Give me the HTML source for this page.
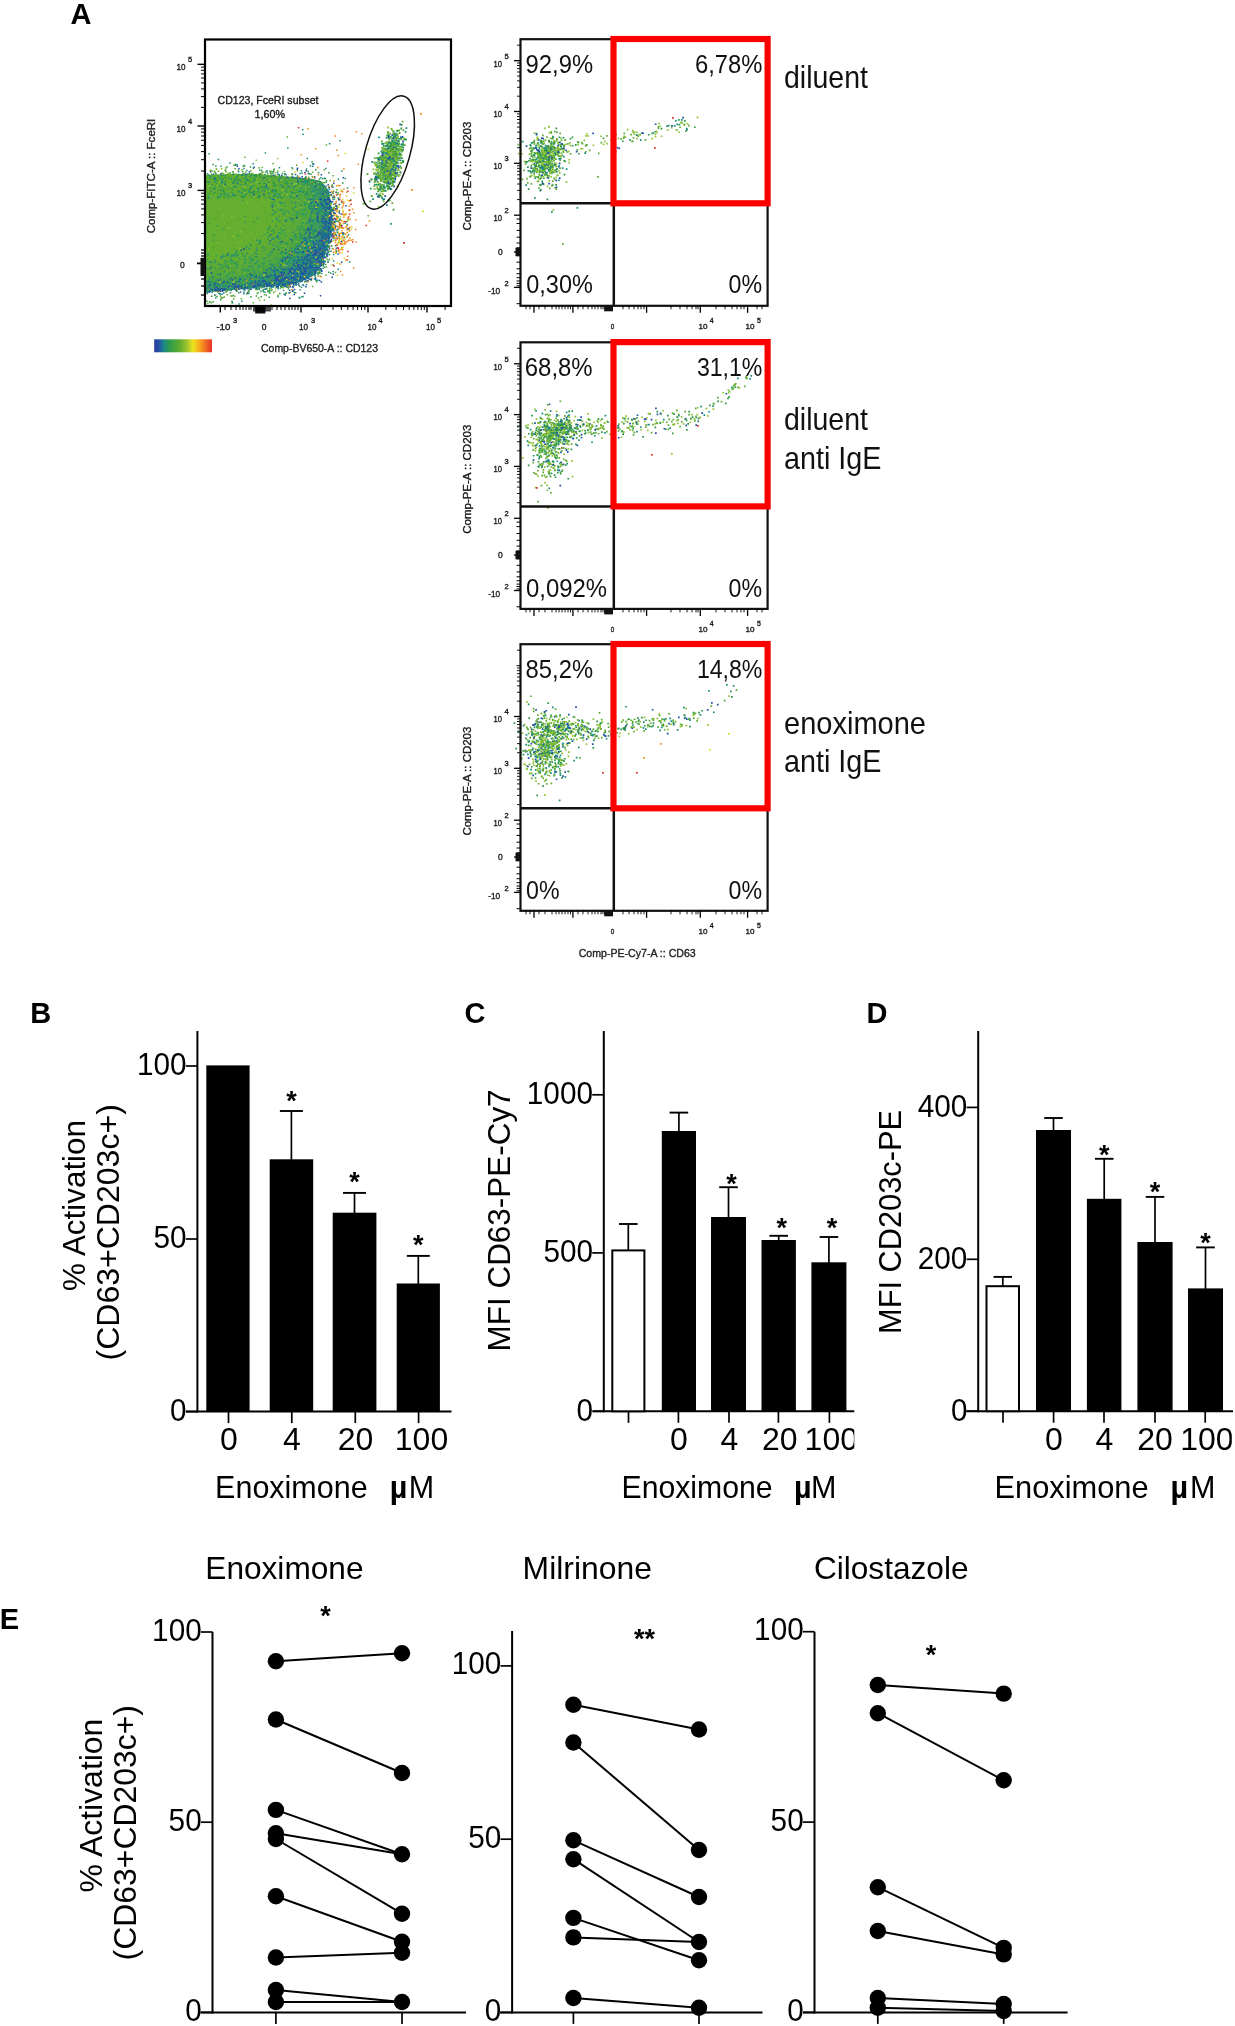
<!DOCTYPE html>
<html><head><meta charset="utf-8"><style>
html,body{margin:0;padding:0;background:#fff;}
svg{display:block;}
text{font-family:"Liberation Sans", sans-serif;}
svg{will-change:transform;}
</style></head><body>
<svg width="1235" height="2026" viewBox="0 0 1235 2026" font-family='"Liberation Sans", sans-serif'>
<rect width="1235" height="2026" fill="#fff"/>
<text x="70.5" y="24.2" font-size="29" font-weight="bold">A</text>
<defs><radialGradient id="cg" gradientUnits="userSpaceOnUse" cx="0" cy="0" r="1" gradientTransform="translate(208 212) scale(126 84)"><stop offset="0" stop-color="#3a9a50" stop-opacity="0"/><stop offset="0.55" stop-color="#3a9a50" stop-opacity="0.0"/><stop offset="0.78" stop-color="#2e9858" stop-opacity="0.35"/><stop offset="0.9" stop-color="#1f8a82" stop-opacity="0.6"/><stop offset="1" stop-color="#1f68a8" stop-opacity="0.8"/></radialGradient><clipPath id="fclip"><rect x="206" y="40.5" width="244" height="264.5"/></clipPath></defs>
<g clip-path="url(#fclip)">
<path d="M204 175 L229 174 L258.3 174 L287.5 176.5 L309.3 178.5 L321 181 L329 191 L331.5 208.3 L333 222.9 L330.5 237.5 L326 252 L322 265 L313 276 L300 282 L287.5 285.5 L265.6 287 L243.7 289 L221.9 291 L204 292 Z" fill="#64ae30"/>
<path d="M204 175 L229 174 L258.3 174 L287.5 176.5 L309.3 178.5 L321 181 L329 191 L331.5 208.3 L333 222.9 L330.5 237.5 L326 252 L322 265 L313 276 L300 282 L287.5 285.5 L265.6 287 L243.7 289 L221.9 291 L204 292 Z" fill="url(#cg)"/>
<path d="M311.5 244.1h1.5v1.5h-1.5zM247.3 188.0h1.5v1.5h-1.5zM315.7 227.2h1.5v1.5h-1.5zM311.1 196.8h1.5v1.5h-1.5zM222.1 296.9h1.5v1.5h-1.5zM304.3 187.4h1.5v1.5h-1.5zM305.8 243.7h1.5v1.5h-1.5zM320.6 223.3h1.5v1.5h-1.5zM223.5 174.2h1.5v1.5h-1.5zM286.5 180.7h1.5v1.5h-1.5zM318.6 270.1h1.5v1.5h-1.5zM315.4 250.0h1.5v1.5h-1.5zM274.0 181.0h1.5v1.5h-1.5zM298.9 186.0h1.5v1.5h-1.5zM308.3 204.1h1.5v1.5h-1.5zM319.8 252.5h1.5v1.5h-1.5zM213.9 171.6h1.5v1.5h-1.5zM319.6 275.4h1.5v1.5h-1.5zM261.8 289.8h1.5v1.5h-1.5zM249.0 181.6h1.5v1.5h-1.5zM294.2 252.4h1.5v1.5h-1.5zM268.3 270.0h1.5v1.5h-1.5zM247.6 291.2h1.5v1.5h-1.5zM233.6 189.9h1.5v1.5h-1.5zM295.5 189.7h1.5v1.5h-1.5zM329.4 179.7h1.5v1.5h-1.5zM240.8 185.1h1.5v1.5h-1.5zM248.7 187.1h1.5v1.5h-1.5zM258.5 288.1h1.5v1.5h-1.5zM329.4 228.0h1.5v1.5h-1.5zM308.0 261.5h1.5v1.5h-1.5zM227.7 282.1h1.5v1.5h-1.5zM249.1 275.7h1.5v1.5h-1.5zM305.9 269.4h1.5v1.5h-1.5zM318.4 271.3h1.5v1.5h-1.5zM291.1 175.5h1.5v1.5h-1.5zM303.7 264.2h1.5v1.5h-1.5zM206.7 195.7h1.5v1.5h-1.5zM255.3 282.1h1.5v1.5h-1.5zM240.6 297.9h1.5v1.5h-1.5zM311.6 180.4h1.5v1.5h-1.5zM288.2 187.0h1.5v1.5h-1.5zM233.6 279.5h1.5v1.5h-1.5zM281.7 182.2h1.5v1.5h-1.5zM308.0 176.5h1.5v1.5h-1.5zM254.7 192.6h1.5v1.5h-1.5zM221.7 176.4h1.5v1.5h-1.5zM308.5 220.2h1.5v1.5h-1.5zM296.6 169.9h1.5v1.5h-1.5zM301.4 181.7h1.5v1.5h-1.5zM303.8 261.9h1.5v1.5h-1.5zM286.0 177.0h1.5v1.5h-1.5zM305.9 277.0h1.5v1.5h-1.5zM319.6 251.0h1.5v1.5h-1.5zM218.3 279.0h1.5v1.5h-1.5zM249.6 192.6h1.5v1.5h-1.5zM261.4 178.5h1.5v1.5h-1.5zM298.1 258.1h1.5v1.5h-1.5zM319.4 271.8h1.5v1.5h-1.5zM289.5 291.6h1.5v1.5h-1.5zM236.3 183.6h1.5v1.5h-1.5zM331.9 209.1h1.5v1.5h-1.5zM322.5 250.5h1.5v1.5h-1.5zM265.5 184.1h1.5v1.5h-1.5zM298.3 242.0h1.5v1.5h-1.5zM322.8 209.7h1.5v1.5h-1.5zM257.8 297.3h1.5v1.5h-1.5zM259.6 181.5h1.5v1.5h-1.5zM310.7 223.0h1.5v1.5h-1.5zM218.2 183.5h1.5v1.5h-1.5zM315.1 184.2h1.5v1.5h-1.5zM281.5 178.6h1.5v1.5h-1.5zM283.3 179.0h1.5v1.5h-1.5zM312.5 273.1h1.5v1.5h-1.5zM236.4 186.4h1.5v1.5h-1.5zM224.1 195.5h1.5v1.5h-1.5zM233.1 164.4h1.5v1.5h-1.5zM312.2 181.0h1.5v1.5h-1.5zM264.2 190.3h1.5v1.5h-1.5zM326.5 258.4h1.5v1.5h-1.5zM332.4 175.1h1.5v1.5h-1.5zM325.7 266.2h1.5v1.5h-1.5zM326.9 232.8h1.5v1.5h-1.5zM303.5 233.5h1.5v1.5h-1.5zM261.6 166.8h1.5v1.5h-1.5zM221.4 194.5h1.5v1.5h-1.5zM328.8 241.4h1.5v1.5h-1.5zM283.8 190.5h1.5v1.5h-1.5zM236.2 181.2h1.5v1.5h-1.5zM314.0 189.4h1.5v1.5h-1.5zM229.8 186.8h1.5v1.5h-1.5zM304.3 232.3h1.5v1.5h-1.5zM215.6 168.6h1.5v1.5h-1.5zM268.8 291.1h1.5v1.5h-1.5zM264.3 181.6h1.5v1.5h-1.5zM207.2 184.2h1.5v1.5h-1.5zM308.9 208.0h1.5v1.5h-1.5zM330.5 232.5h1.5v1.5h-1.5zM214.1 193.8h1.5v1.5h-1.5zM207.3 174.2h1.5v1.5h-1.5zM243.0 190.1h1.5v1.5h-1.5zM305.0 240.0h1.5v1.5h-1.5zM256.5 292.7h1.5v1.5h-1.5zM304.3 241.3h1.5v1.5h-1.5zM311.0 249.5h1.5v1.5h-1.5zM212.8 286.5h1.5v1.5h-1.5zM312.6 224.6h1.5v1.5h-1.5zM275.7 187.5h1.5v1.5h-1.5zM237.9 178.3h1.5v1.5h-1.5zM255.0 288.8h1.5v1.5h-1.5zM219.0 187.2h1.5v1.5h-1.5zM269.2 279.3h1.5v1.5h-1.5zM246.3 192.8h1.5v1.5h-1.5zM257.2 288.2h1.5v1.5h-1.5z" fill="#5faa32"/>
<path d="M234.7 164.5h1.5v1.5h-1.5zM295.8 189.2h1.5v1.5h-1.5zM232.0 193.6h1.5v1.5h-1.5zM244.1 181.5h1.5v1.5h-1.5zM312.5 179.6h1.5v1.5h-1.5zM281.2 286.6h1.5v1.5h-1.5zM209.1 181.0h1.5v1.5h-1.5zM318.8 178.3h1.5v1.5h-1.5zM265.6 294.2h1.5v1.5h-1.5zM341.1 201.5h1.5v1.5h-1.5zM302.0 190.5h1.5v1.5h-1.5zM338.7 227.0h1.5v1.5h-1.5zM252.7 180.8h1.5v1.5h-1.5zM254.6 174.3h1.5v1.5h-1.5zM273.6 184.7h1.5v1.5h-1.5zM304.1 177.5h1.5v1.5h-1.5zM225.5 174.4h1.5v1.5h-1.5zM332.4 270.7h1.5v1.5h-1.5zM252.7 167.4h1.5v1.5h-1.5zM346.8 187.2h1.5v1.5h-1.5zM214.5 187.9h1.5v1.5h-1.5zM217.7 158.7h1.5v1.5h-1.5zM208.4 152.9h1.5v1.5h-1.5zM293.6 176.9h1.5v1.5h-1.5zM233.0 173.2h1.5v1.5h-1.5zM274.4 184.2h1.5v1.5h-1.5zM324.4 188.5h1.5v1.5h-1.5zM269.2 170.2h1.5v1.5h-1.5zM247.4 179.0h1.5v1.5h-1.5zM312.3 195.5h1.5v1.5h-1.5zM274.1 176.5h1.5v1.5h-1.5zM305.7 193.7h1.5v1.5h-1.5zM332.9 214.9h1.5v1.5h-1.5zM249.3 181.5h1.5v1.5h-1.5zM307.5 170.8h1.5v1.5h-1.5zM208.6 192.8h1.5v1.5h-1.5zM267.2 290.8h1.5v1.5h-1.5zM306.5 157.8h1.5v1.5h-1.5zM209.8 169.7h1.5v1.5h-1.5zM271.2 171.0h1.5v1.5h-1.5zM328.8 245.6h1.5v1.5h-1.5zM206.1 300.4h1.5v1.5h-1.5zM314.9 276.9h1.5v1.5h-1.5zM308.2 178.5h1.5v1.5h-1.5zM312.0 162.9h1.5v1.5h-1.5zM323.8 266.5h1.5v1.5h-1.5zM214.9 177.1h1.5v1.5h-1.5zM235.9 290.5h1.5v1.5h-1.5zM224.4 176.6h1.5v1.5h-1.5zM282.8 289.6h1.5v1.5h-1.5zM223.5 196.8h1.5v1.5h-1.5zM320.4 185.9h1.5v1.5h-1.5zM333.2 212.7h1.5v1.5h-1.5zM279.1 292.7h1.5v1.5h-1.5zM284.7 189.4h1.5v1.5h-1.5zM209.3 187.1h1.5v1.5h-1.5zM234.8 185.7h1.5v1.5h-1.5zM282.8 187.2h1.5v1.5h-1.5zM260.5 296.1h1.5v1.5h-1.5zM268.9 292.3h1.5v1.5h-1.5zM242.4 184.1h1.5v1.5h-1.5zM215.2 178.8h1.5v1.5h-1.5zM226.3 166.2h1.5v1.5h-1.5zM302.3 295.8h1.5v1.5h-1.5zM267.4 175.4h1.5v1.5h-1.5zM295.8 181.7h1.5v1.5h-1.5zM212.4 300.9h1.5v1.5h-1.5zM279.7 287.2h1.5v1.5h-1.5zM240.7 180.6h1.5v1.5h-1.5zM240.8 173.9h1.5v1.5h-1.5zM277.5 286.9h1.5v1.5h-1.5z" fill="#289646"/>
<path d="M329.0 202.8h1.5v1.5h-1.5zM280.5 260.0h1.5v1.5h-1.5zM270.8 269.4h1.5v1.5h-1.5zM295.4 283.9h1.5v1.5h-1.5zM302.8 271.1h1.5v1.5h-1.5zM308.6 254.4h1.5v1.5h-1.5zM316.8 220.4h1.5v1.5h-1.5zM284.3 268.4h1.5v1.5h-1.5zM328.3 186.8h1.5v1.5h-1.5zM309.0 254.6h1.5v1.5h-1.5zM301.4 176.0h1.5v1.5h-1.5zM308.4 235.3h1.5v1.5h-1.5zM314.2 273.9h1.5v1.5h-1.5zM321.9 206.4h1.5v1.5h-1.5zM323.2 206.3h1.5v1.5h-1.5zM317.7 241.4h1.5v1.5h-1.5zM321.7 207.7h1.5v1.5h-1.5zM301.0 265.5h1.5v1.5h-1.5zM320.8 264.5h1.5v1.5h-1.5zM309.5 218.1h1.5v1.5h-1.5zM280.9 279.2h1.5v1.5h-1.5zM226.3 289.4h1.5v1.5h-1.5zM329.4 200.4h1.5v1.5h-1.5zM206.5 291.8h1.5v1.5h-1.5zM258.1 280.6h1.5v1.5h-1.5zM320.6 243.1h1.5v1.5h-1.5zM294.8 173.7h1.5v1.5h-1.5zM316.7 251.5h1.5v1.5h-1.5zM210.0 171.0h1.5v1.5h-1.5zM315.2 252.2h1.5v1.5h-1.5zM317.7 205.4h1.5v1.5h-1.5zM326.5 202.6h1.5v1.5h-1.5zM250.7 274.6h1.5v1.5h-1.5zM324.0 231.5h1.5v1.5h-1.5zM324.6 221.5h1.5v1.5h-1.5zM314.7 249.6h1.5v1.5h-1.5zM328.8 248.0h1.5v1.5h-1.5zM273.5 274.2h1.5v1.5h-1.5zM318.6 232.2h1.5v1.5h-1.5zM311.5 260.6h1.5v1.5h-1.5zM306.2 263.6h1.5v1.5h-1.5zM270.1 274.5h1.5v1.5h-1.5zM302.0 261.7h1.5v1.5h-1.5zM222.0 290.2h1.5v1.5h-1.5zM276.8 278.4h1.5v1.5h-1.5zM307.0 228.8h1.5v1.5h-1.5zM277.3 276.1h1.5v1.5h-1.5zM313.0 270.0h1.5v1.5h-1.5zM319.0 233.1h1.5v1.5h-1.5zM330.7 228.5h1.5v1.5h-1.5zM323.2 237.0h1.5v1.5h-1.5zM293.4 259.9h1.5v1.5h-1.5zM314.5 270.5h1.5v1.5h-1.5zM317.2 217.8h1.5v1.5h-1.5zM245.1 286.2h1.5v1.5h-1.5zM301.3 241.0h1.5v1.5h-1.5zM292.4 271.7h1.5v1.5h-1.5zM314.8 208.1h1.5v1.5h-1.5zM321.8 255.6h1.5v1.5h-1.5zM334.3 226.6h1.5v1.5h-1.5zM311.9 247.0h1.5v1.5h-1.5zM230.0 285.9h1.5v1.5h-1.5zM215.1 289.1h1.5v1.5h-1.5zM277.6 274.9h1.5v1.5h-1.5zM317.7 264.3h1.5v1.5h-1.5zM321.1 236.9h1.5v1.5h-1.5zM296.6 278.7h1.5v1.5h-1.5zM238.9 285.3h1.5v1.5h-1.5zM320.5 268.5h1.5v1.5h-1.5zM330.1 240.4h1.5v1.5h-1.5zM208.8 290.7h1.5v1.5h-1.5zM303.4 267.2h1.5v1.5h-1.5zM302.9 259.8h1.5v1.5h-1.5zM320.8 220.9h1.5v1.5h-1.5zM309.1 267.9h1.5v1.5h-1.5zM337.3 253.2h1.5v1.5h-1.5zM311.2 224.8h1.5v1.5h-1.5zM310.3 202.0h1.5v1.5h-1.5zM333.0 182.5h1.5v1.5h-1.5zM215.2 290.0h1.5v1.5h-1.5zM259.2 283.4h1.5v1.5h-1.5zM278.2 282.5h1.5v1.5h-1.5zM338.5 212.3h1.5v1.5h-1.5zM316.7 207.8h1.5v1.5h-1.5zM315.1 272.4h1.5v1.5h-1.5zM253.3 194.0h1.5v1.5h-1.5zM315.7 263.7h1.5v1.5h-1.5zM266.3 269.2h1.5v1.5h-1.5zM307.7 172.7h1.5v1.5h-1.5zM300.1 273.2h1.5v1.5h-1.5zM308.1 236.8h1.5v1.5h-1.5zM227.7 267.0h1.5v1.5h-1.5zM280.4 272.3h1.5v1.5h-1.5zM319.8 295.0h1.5v1.5h-1.5zM277.8 248.8h1.5v1.5h-1.5zM284.6 285.6h1.5v1.5h-1.5zM314.3 256.8h1.5v1.5h-1.5zM332.3 264.3h1.5v1.5h-1.5zM282.3 260.4h1.5v1.5h-1.5zM311.1 262.6h1.5v1.5h-1.5zM327.2 241.7h1.5v1.5h-1.5zM326.0 222.5h1.5v1.5h-1.5zM319.6 267.9h1.5v1.5h-1.5zM282.4 277.5h1.5v1.5h-1.5zM305.8 268.1h1.5v1.5h-1.5zM232.0 283.4h1.5v1.5h-1.5zM309.7 250.5h1.5v1.5h-1.5zM254.1 281.9h1.5v1.5h-1.5zM297.3 252.1h1.5v1.5h-1.5zM342.5 177.1h1.5v1.5h-1.5zM305.4 229.8h1.5v1.5h-1.5zM232.1 283.3h1.5v1.5h-1.5zM263.5 280.0h1.5v1.5h-1.5zM328.7 204.4h1.5v1.5h-1.5zM308.3 239.6h1.5v1.5h-1.5zM332.4 237.8h1.5v1.5h-1.5zM333.4 195.5h1.5v1.5h-1.5zM303.4 259.8h1.5v1.5h-1.5zM317.1 263.1h1.5v1.5h-1.5zM298.7 245.6h1.5v1.5h-1.5zM328.0 228.1h1.5v1.5h-1.5zM333.4 231.2h1.5v1.5h-1.5zM326.2 241.0h1.5v1.5h-1.5zM285.3 277.4h1.5v1.5h-1.5zM327.5 234.1h1.5v1.5h-1.5zM282.7 272.8h1.5v1.5h-1.5zM322.4 242.7h1.5v1.5h-1.5zM298.9 297.1h1.5v1.5h-1.5zM322.8 201.6h1.5v1.5h-1.5zM329.5 223.7h1.5v1.5h-1.5zM302.3 273.7h1.5v1.5h-1.5zM302.5 262.6h1.5v1.5h-1.5zM263.1 280.8h1.5v1.5h-1.5zM331.5 276.6h1.5v1.5h-1.5zM214.1 294.3h1.5v1.5h-1.5zM314.9 200.7h1.5v1.5h-1.5zM313.6 258.2h1.5v1.5h-1.5zM317.2 221.9h1.5v1.5h-1.5zM317.5 263.9h1.5v1.5h-1.5zM306.3 276.3h1.5v1.5h-1.5zM259.5 173.2h1.5v1.5h-1.5zM324.5 234.3h1.5v1.5h-1.5zM332.1 196.8h1.5v1.5h-1.5zM211.9 276.1h1.5v1.5h-1.5zM296.8 278.8h1.5v1.5h-1.5zM306.8 242.3h1.5v1.5h-1.5zM305.9 266.2h1.5v1.5h-1.5zM325.5 221.9h1.5v1.5h-1.5zM297.5 264.0h1.5v1.5h-1.5zM280.2 260.0h1.5v1.5h-1.5zM283.8 285.4h1.5v1.5h-1.5zM271.7 189.6h1.5v1.5h-1.5zM305.9 236.9h1.5v1.5h-1.5zM307.6 260.3h1.5v1.5h-1.5zM317.2 235.4h1.5v1.5h-1.5zM328.9 228.3h1.5v1.5h-1.5zM326.2 206.5h1.5v1.5h-1.5zM317.6 266.9h1.5v1.5h-1.5zM282.4 286.3h1.5v1.5h-1.5zM280.1 285.5h1.5v1.5h-1.5zM256.1 287.6h1.5v1.5h-1.5zM319.7 252.8h1.5v1.5h-1.5zM320.0 197.9h1.5v1.5h-1.5zM321.8 258.9h1.5v1.5h-1.5zM328.8 246.0h1.5v1.5h-1.5zM231.9 286.0h1.5v1.5h-1.5zM230.2 277.8h1.5v1.5h-1.5zM302.9 262.8h1.5v1.5h-1.5zM206.2 267.1h1.5v1.5h-1.5zM268.4 284.2h1.5v1.5h-1.5zM302.2 284.1h1.5v1.5h-1.5zM310.3 258.8h1.5v1.5h-1.5zM315.6 257.9h1.5v1.5h-1.5zM221.5 287.2h1.5v1.5h-1.5zM292.4 286.7h1.5v1.5h-1.5zM313.4 258.3h1.5v1.5h-1.5zM308.9 242.2h1.5v1.5h-1.5zM304.1 259.8h1.5v1.5h-1.5zM328.3 240.5h1.5v1.5h-1.5zM327.0 199.0h1.5v1.5h-1.5zM317.4 236.8h1.5v1.5h-1.5zM318.6 266.2h1.5v1.5h-1.5zM313.2 246.1h1.5v1.5h-1.5zM280.5 280.2h1.5v1.5h-1.5zM302.0 277.6h1.5v1.5h-1.5zM266.8 285.1h1.5v1.5h-1.5zM334.9 203.0h1.5v1.5h-1.5zM303.0 267.4h1.5v1.5h-1.5zM278.0 265.3h1.5v1.5h-1.5zM291.6 279.1h1.5v1.5h-1.5zM305.1 276.5h1.5v1.5h-1.5zM309.4 208.5h1.5v1.5h-1.5zM309.2 268.6h1.5v1.5h-1.5zM321.5 234.3h1.5v1.5h-1.5zM322.2 253.7h1.5v1.5h-1.5zM329.7 211.2h1.5v1.5h-1.5zM315.1 243.3h1.5v1.5h-1.5zM314.0 256.8h1.5v1.5h-1.5zM302.9 277.2h1.5v1.5h-1.5zM323.8 256.6h1.5v1.5h-1.5zM316.2 239.9h1.5v1.5h-1.5zM292.3 263.8h1.5v1.5h-1.5zM266.5 276.1h1.5v1.5h-1.5zM296.0 261.9h1.5v1.5h-1.5zM296.1 273.0h1.5v1.5h-1.5zM295.3 284.3h1.5v1.5h-1.5zM249.8 277.7h1.5v1.5h-1.5zM340.9 261.6h1.5v1.5h-1.5zM254.5 280.6h1.5v1.5h-1.5zM321.2 231.0h1.5v1.5h-1.5zM317.3 219.9h1.5v1.5h-1.5zM320.9 204.1h1.5v1.5h-1.5zM275.8 276.1h1.5v1.5h-1.5zM293.1 265.7h1.5v1.5h-1.5zM288.5 283.6h1.5v1.5h-1.5zM316.2 235.5h1.5v1.5h-1.5zM285.2 248.8h1.5v1.5h-1.5zM328.2 242.4h1.5v1.5h-1.5zM314.5 266.2h1.5v1.5h-1.5zM289.1 297.8h1.5v1.5h-1.5z" fill="#1e50a5"/>
<path d="M365.4 224.7h1.5v1.5h-1.5zM313.9 176.9h1.5v1.5h-1.5zM345.1 221.1h1.5v1.5h-1.5z" fill="#e0302a"/>
<path d="M283.4 284.6h1.5v1.5h-1.5zM288.7 272.0h1.5v1.5h-1.5zM248.6 194.0h1.5v1.5h-1.5zM249.7 258.0h1.5v1.5h-1.5zM218.2 288.3h1.5v1.5h-1.5zM272.8 195.6h1.5v1.5h-1.5zM312.3 207.8h1.5v1.5h-1.5zM300.7 286.5h1.5v1.5h-1.5zM253.9 177.0h1.5v1.5h-1.5zM248.6 289.6h1.5v1.5h-1.5zM299.4 258.3h1.5v1.5h-1.5zM297.0 275.8h1.5v1.5h-1.5zM264.2 247.5h1.5v1.5h-1.5zM316.6 203.8h1.5v1.5h-1.5zM289.3 195.4h1.5v1.5h-1.5zM309.3 224.6h1.5v1.5h-1.5zM282.9 262.9h1.5v1.5h-1.5zM318.1 206.9h1.5v1.5h-1.5zM219.5 293.0h1.5v1.5h-1.5zM302.3 133.6h1.5v1.5h-1.5zM208.7 261.3h1.5v1.5h-1.5zM291.5 259.5h1.5v1.5h-1.5zM218.7 177.1h1.5v1.5h-1.5zM309.6 203.2h1.5v1.5h-1.5zM311.7 237.8h1.5v1.5h-1.5zM300.2 264.1h1.5v1.5h-1.5zM258.8 287.5h1.5v1.5h-1.5zM301.1 295.9h1.5v1.5h-1.5zM256.0 253.6h1.5v1.5h-1.5zM269.3 226.0h1.5v1.5h-1.5zM333.3 209.7h1.5v1.5h-1.5zM285.4 174.1h1.5v1.5h-1.5zM241.2 250.5h1.5v1.5h-1.5zM208.2 290.8h1.5v1.5h-1.5zM314.4 195.2h1.5v1.5h-1.5zM276.0 218.9h1.5v1.5h-1.5zM323.4 251.9h1.5v1.5h-1.5zM322.7 251.4h1.5v1.5h-1.5zM303.0 251.8h1.5v1.5h-1.5zM293.2 262.9h1.5v1.5h-1.5zM265.3 279.6h1.5v1.5h-1.5zM244.9 184.1h1.5v1.5h-1.5zM256.9 260.2h1.5v1.5h-1.5zM303.6 242.8h1.5v1.5h-1.5zM217.5 283.5h1.5v1.5h-1.5zM300.7 170.0h1.5v1.5h-1.5zM316.9 256.5h1.5v1.5h-1.5zM266.3 169.9h1.5v1.5h-1.5zM326.8 198.7h1.5v1.5h-1.5zM332.9 260.3h1.5v1.5h-1.5zM330.1 206.9h1.5v1.5h-1.5zM333.1 229.0h1.5v1.5h-1.5zM334.6 239.2h1.5v1.5h-1.5zM235.9 250.4h1.5v1.5h-1.5zM294.8 259.5h1.5v1.5h-1.5zM302.2 251.0h1.5v1.5h-1.5zM302.3 277.8h1.5v1.5h-1.5zM313.9 175.9h1.5v1.5h-1.5zM306.0 240.6h1.5v1.5h-1.5zM321.5 263.9h1.5v1.5h-1.5zM284.0 261.4h1.5v1.5h-1.5zM264.3 257.4h1.5v1.5h-1.5zM328.0 213.2h1.5v1.5h-1.5zM262.9 291.1h1.5v1.5h-1.5zM307.5 272.7h1.5v1.5h-1.5zM256.3 261.9h1.5v1.5h-1.5zM339.3 222.8h1.5v1.5h-1.5zM295.4 252.1h1.5v1.5h-1.5zM289.5 238.4h1.5v1.5h-1.5zM235.6 186.5h1.5v1.5h-1.5zM271.1 280.6h1.5v1.5h-1.5zM260.6 235.7h1.5v1.5h-1.5zM332.8 203.4h1.5v1.5h-1.5zM249.6 243.7h1.5v1.5h-1.5zM255.3 273.2h1.5v1.5h-1.5zM244.5 283.3h1.5v1.5h-1.5zM317.9 258.0h1.5v1.5h-1.5zM238.8 278.7h1.5v1.5h-1.5zM307.4 227.1h1.5v1.5h-1.5zM313.1 198.1h1.5v1.5h-1.5zM279.4 241.4h1.5v1.5h-1.5zM301.7 237.9h1.5v1.5h-1.5zM234.6 195.0h1.5v1.5h-1.5zM290.4 273.6h1.5v1.5h-1.5zM325.4 185.6h1.5v1.5h-1.5zM207.6 181.4h1.5v1.5h-1.5zM328.9 210.7h1.5v1.5h-1.5zM255.7 247.5h1.5v1.5h-1.5zM282.9 281.7h1.5v1.5h-1.5zM335.0 208.1h1.5v1.5h-1.5zM221.5 181.2h1.5v1.5h-1.5zM221.3 293.5h1.5v1.5h-1.5zM210.1 190.6h1.5v1.5h-1.5zM287.0 285.7h1.5v1.5h-1.5zM321.6 238.5h1.5v1.5h-1.5zM320.5 207.4h1.5v1.5h-1.5zM236.3 254.5h1.5v1.5h-1.5zM321.1 199.4h1.5v1.5h-1.5zM311.3 270.1h1.5v1.5h-1.5zM304.9 184.5h1.5v1.5h-1.5zM308.8 271.5h1.5v1.5h-1.5zM284.3 259.0h1.5v1.5h-1.5zM293.4 257.8h1.5v1.5h-1.5zM311.6 266.9h1.5v1.5h-1.5zM217.0 290.7h1.5v1.5h-1.5zM333.2 212.7h1.5v1.5h-1.5zM271.4 220.1h1.5v1.5h-1.5zM327.3 251.7h1.5v1.5h-1.5zM325.0 248.0h1.5v1.5h-1.5zM293.1 282.8h1.5v1.5h-1.5zM318.6 268.8h1.5v1.5h-1.5zM261.6 185.7h1.5v1.5h-1.5zM270.5 287.3h1.5v1.5h-1.5zM300.2 190.4h1.5v1.5h-1.5zM271.8 280.0h1.5v1.5h-1.5zM328.6 240.7h1.5v1.5h-1.5zM248.2 292.8h1.5v1.5h-1.5zM325.5 234.9h1.5v1.5h-1.5zM305.8 168.3h1.5v1.5h-1.5zM293.6 280.3h1.5v1.5h-1.5zM220.8 255.8h1.5v1.5h-1.5zM252.4 274.2h1.5v1.5h-1.5zM210.4 261.6h1.5v1.5h-1.5zM344.5 177.8h1.5v1.5h-1.5zM303.2 234.6h1.5v1.5h-1.5zM298.9 267.9h1.5v1.5h-1.5zM328.2 216.3h1.5v1.5h-1.5zM223.0 292.2h1.5v1.5h-1.5zM300.6 214.3h1.5v1.5h-1.5zM305.6 180.1h1.5v1.5h-1.5zM325.7 235.7h1.5v1.5h-1.5zM250.4 186.5h1.5v1.5h-1.5zM271.2 238.2h1.5v1.5h-1.5zM329.5 212.7h1.5v1.5h-1.5zM309.6 199.2h1.5v1.5h-1.5zM291.4 167.1h1.5v1.5h-1.5zM230.6 259.9h1.5v1.5h-1.5zM218.1 289.1h1.5v1.5h-1.5zM320.8 252.1h1.5v1.5h-1.5zM297.9 246.6h1.5v1.5h-1.5zM211.5 291.7h1.5v1.5h-1.5zM306.2 237.8h1.5v1.5h-1.5zM309.6 198.0h1.5v1.5h-1.5zM291.8 265.9h1.5v1.5h-1.5zM310.4 243.3h1.5v1.5h-1.5zM249.4 261.7h1.5v1.5h-1.5zM248.8 280.0h1.5v1.5h-1.5zM325.5 202.7h1.5v1.5h-1.5zM332.9 253.7h1.5v1.5h-1.5zM271.6 198.6h1.5v1.5h-1.5zM279.3 243.5h1.5v1.5h-1.5zM313.4 249.7h1.5v1.5h-1.5zM224.4 260.2h1.5v1.5h-1.5zM246.4 252.7h1.5v1.5h-1.5zM312.1 165.6h1.5v1.5h-1.5zM271.2 202.2h1.5v1.5h-1.5zM292.3 278.4h1.5v1.5h-1.5zM299.8 271.6h1.5v1.5h-1.5zM292.4 274.4h1.5v1.5h-1.5zM228.6 281.6h1.5v1.5h-1.5zM327.1 240.5h1.5v1.5h-1.5zM214.3 181.0h1.5v1.5h-1.5zM302.5 191.8h1.5v1.5h-1.5zM230.6 289.7h1.5v1.5h-1.5zM287.6 274.1h1.5v1.5h-1.5zM254.1 175.0h1.5v1.5h-1.5zM235.7 251.0h1.5v1.5h-1.5zM308.2 241.5h1.5v1.5h-1.5zM239.2 280.8h1.5v1.5h-1.5zM291.9 280.3h1.5v1.5h-1.5zM309.7 164.9h1.5v1.5h-1.5zM283.2 284.3h1.5v1.5h-1.5zM272.2 209.4h1.5v1.5h-1.5zM318.7 259.8h1.5v1.5h-1.5zM235.9 281.0h1.5v1.5h-1.5zM324.0 256.5h1.5v1.5h-1.5zM323.5 251.9h1.5v1.5h-1.5zM315.2 188.2h1.5v1.5h-1.5zM321.7 232.4h1.5v1.5h-1.5zM324.9 242.0h1.5v1.5h-1.5zM232.1 194.4h1.5v1.5h-1.5zM286.6 262.0h1.5v1.5h-1.5zM206.9 281.5h1.5v1.5h-1.5zM254.4 262.8h1.5v1.5h-1.5zM318.3 242.8h1.5v1.5h-1.5zM333.7 198.2h1.5v1.5h-1.5zM279.3 280.9h1.5v1.5h-1.5zM297.6 259.1h1.5v1.5h-1.5zM225.2 265.4h1.5v1.5h-1.5zM208.8 196.8h1.5v1.5h-1.5zM239.3 184.1h1.5v1.5h-1.5zM318.0 220.3h1.5v1.5h-1.5zM238.3 287.3h1.5v1.5h-1.5zM306.1 222.1h1.5v1.5h-1.5zM253.2 184.8h1.5v1.5h-1.5zM245.5 176.4h1.5v1.5h-1.5zM228.2 177.2h1.5v1.5h-1.5zM280.2 285.2h1.5v1.5h-1.5zM292.2 241.6h1.5v1.5h-1.5zM328.3 236.5h1.5v1.5h-1.5zM222.2 288.7h1.5v1.5h-1.5zM319.5 263.1h1.5v1.5h-1.5zM347.3 219.1h1.5v1.5h-1.5zM321.5 222.3h1.5v1.5h-1.5zM222.2 187.4h1.5v1.5h-1.5zM302.0 248.3h1.5v1.5h-1.5zM297.7 277.3h1.5v1.5h-1.5zM302.9 252.8h1.5v1.5h-1.5zM233.7 254.6h1.5v1.5h-1.5zM315.6 201.2h1.5v1.5h-1.5zM325.5 190.3h1.5v1.5h-1.5zM301.6 243.9h1.5v1.5h-1.5zM211.0 175.4h1.5v1.5h-1.5zM300.0 271.2h1.5v1.5h-1.5zM254.4 276.4h1.5v1.5h-1.5zM321.0 215.4h1.5v1.5h-1.5zM306.1 236.8h1.5v1.5h-1.5zM288.6 259.5h1.5v1.5h-1.5zM274.4 280.8h1.5v1.5h-1.5zM321.6 251.4h1.5v1.5h-1.5zM278.7 166.9h1.5v1.5h-1.5zM218.1 292.5h1.5v1.5h-1.5zM327.8 232.4h1.5v1.5h-1.5zM252.5 259.2h1.5v1.5h-1.5zM330.0 211.7h1.5v1.5h-1.5zM305.5 181.3h1.5v1.5h-1.5zM342.3 234.0h1.5v1.5h-1.5zM287.8 256.3h1.5v1.5h-1.5zM232.1 191.9h1.5v1.5h-1.5zM338.7 210.5h1.5v1.5h-1.5zM309.1 223.0h1.5v1.5h-1.5zM310.6 228.1h1.5v1.5h-1.5zM212.5 288.6h1.5v1.5h-1.5zM318.3 256.2h1.5v1.5h-1.5zM286.1 286.5h1.5v1.5h-1.5zM222.9 174.4h1.5v1.5h-1.5zM306.6 192.6h1.5v1.5h-1.5zM259.4 281.3h1.5v1.5h-1.5zM243.7 258.7h1.5v1.5h-1.5z" fill="#198c82"/>
<path d="M211.4 268.9h1.5v1.5h-1.5zM226.5 217.5h1.5v1.5h-1.5zM220.6 253.9h1.5v1.5h-1.5zM215.9 266.2h1.5v1.5h-1.5zM238.2 247.0h1.5v1.5h-1.5zM261.8 206.2h1.5v1.5h-1.5zM237.0 221.5h1.5v1.5h-1.5zM252.3 248.3h1.5v1.5h-1.5zM239.8 270.7h1.5v1.5h-1.5zM256.7 210.8h1.5v1.5h-1.5zM303.9 197.5h1.5v1.5h-1.5zM293.4 199.8h1.5v1.5h-1.5zM224.2 207.7h1.5v1.5h-1.5zM223.7 235.5h1.5v1.5h-1.5zM224.9 272.6h1.5v1.5h-1.5zM240.4 239.4h1.5v1.5h-1.5zM284.4 254.5h1.5v1.5h-1.5zM236.9 242.0h1.5v1.5h-1.5zM250.2 219.1h1.5v1.5h-1.5zM254.0 238.2h1.5v1.5h-1.5zM246.9 256.3h1.5v1.5h-1.5z" fill="#70b52f"/>
<path d="M267.6 179.7h1.5v1.5h-1.5zM324.3 193.7h1.5v1.5h-1.5zM310.2 181.7h1.5v1.5h-1.5zM252.1 172.6h1.5v1.5h-1.5zM225.1 167.5h1.5v1.5h-1.5zM280.4 179.6h1.5v1.5h-1.5zM222.7 172.7h1.5v1.5h-1.5zM266.6 180.2h1.5v1.5h-1.5zM294.3 183.1h1.5v1.5h-1.5zM279.1 178.2h1.5v1.5h-1.5zM247.9 193.4h1.5v1.5h-1.5zM244.0 192.0h1.5v1.5h-1.5zM217.7 242.3h1.5v1.5h-1.5zM286.3 193.7h1.5v1.5h-1.5zM228.4 227.1h1.5v1.5h-1.5zM227.1 172.6h1.5v1.5h-1.5zM293.0 183.8h1.5v1.5h-1.5zM281.5 188.9h1.5v1.5h-1.5zM277.3 169.9h1.5v1.5h-1.5zM239.9 230.7h1.5v1.5h-1.5z" fill="#8cc337"/>
<path d="M337.6 154.7h1.5v1.5h-1.5zM341.7 274.3h1.5v1.5h-1.5zM337.1 228.5h1.5v1.5h-1.5zM294.1 281.3h1.5v1.5h-1.5zM237.5 283.9h1.5v1.5h-1.5zM323.6 224.7h1.5v1.5h-1.5zM347.1 217.6h1.5v1.5h-1.5zM338.7 232.7h1.5v1.5h-1.5zM332.6 235.0h1.5v1.5h-1.5zM332.8 251.4h1.5v1.5h-1.5zM346.0 191.6h1.5v1.5h-1.5zM326.3 242.5h1.5v1.5h-1.5zM335.2 237.7h1.5v1.5h-1.5zM348.4 239.6h1.5v1.5h-1.5zM349.2 218.4h1.5v1.5h-1.5zM341.6 206.9h1.5v1.5h-1.5zM332.7 209.3h1.5v1.5h-1.5zM335.1 229.0h1.5v1.5h-1.5zM334.0 236.7h1.5v1.5h-1.5zM339.2 196.4h1.5v1.5h-1.5zM344.6 243.2h1.5v1.5h-1.5zM336.3 205.1h1.5v1.5h-1.5zM342.2 236.9h1.5v1.5h-1.5zM338.7 240.7h1.5v1.5h-1.5zM312.3 259.2h1.5v1.5h-1.5zM326.1 238.5h1.5v1.5h-1.5zM354.9 228.7h1.5v1.5h-1.5zM368.7 220.3h1.5v1.5h-1.5zM309.7 243.4h1.5v1.5h-1.5zM305.5 169.5h1.5v1.5h-1.5zM342.0 248.9h1.5v1.5h-1.5zM357.5 163.5h1.5v1.5h-1.5zM342.6 214.1h1.5v1.5h-1.5zM336.4 217.5h1.5v1.5h-1.5zM278.7 277.9h1.5v1.5h-1.5zM338.8 234.7h1.5v1.5h-1.5zM340.4 225.2h1.5v1.5h-1.5zM342.3 211.3h1.5v1.5h-1.5zM342.4 203.1h1.5v1.5h-1.5zM336.2 211.0h1.5v1.5h-1.5zM283.3 275.8h1.5v1.5h-1.5zM333.7 213.5h1.5v1.5h-1.5zM343.2 188.6h1.5v1.5h-1.5zM361.3 164.1h1.5v1.5h-1.5zM333.5 213.9h1.5v1.5h-1.5zM289.5 280.4h1.5v1.5h-1.5zM338.5 204.3h1.5v1.5h-1.5zM297.9 176.3h1.5v1.5h-1.5zM344.1 243.3h1.5v1.5h-1.5zM338.0 237.1h1.5v1.5h-1.5zM338.9 227.3h1.5v1.5h-1.5zM349.0 226.7h1.5v1.5h-1.5zM339.9 224.2h1.5v1.5h-1.5zM333.2 180.6h1.5v1.5h-1.5zM340.1 232.5h1.5v1.5h-1.5zM321.8 218.9h1.5v1.5h-1.5zM343.1 216.5h1.5v1.5h-1.5zM311.1 277.4h1.5v1.5h-1.5zM338.1 232.9h1.5v1.5h-1.5zM330.3 241.3h1.5v1.5h-1.5zM212.9 288.6h1.5v1.5h-1.5zM338.9 252.1h1.5v1.5h-1.5zM335.1 239.8h1.5v1.5h-1.5zM343.8 241.8h1.5v1.5h-1.5zM339.4 194.5h1.5v1.5h-1.5z" fill="#f08a1c"/>
<path d="M296.1 216.5h1.5v1.5h-1.5zM304.6 181.8h1.5v1.5h-1.5zM324.5 210.8h1.5v1.5h-1.5zM302.7 209.8h1.5v1.5h-1.5zM313.0 231.0h1.5v1.5h-1.5zM290.8 243.2h1.5v1.5h-1.5zM268.2 259.9h1.5v1.5h-1.5zM284.6 284.5h1.5v1.5h-1.5zM238.5 285.1h1.5v1.5h-1.5zM323.1 232.5h1.5v1.5h-1.5zM295.2 243.5h1.5v1.5h-1.5zM254.4 255.9h1.5v1.5h-1.5zM272.4 185.4h1.5v1.5h-1.5zM246.9 286.7h1.5v1.5h-1.5zM225.6 255.5h1.5v1.5h-1.5zM281.5 246.9h1.5v1.5h-1.5zM273.1 183.6h1.5v1.5h-1.5zM263.6 278.4h1.5v1.5h-1.5zM319.3 226.3h1.5v1.5h-1.5zM315.3 227.6h1.5v1.5h-1.5zM298.5 273.0h1.5v1.5h-1.5zM297.9 197.6h1.5v1.5h-1.5zM280.1 253.1h1.5v1.5h-1.5zM278.9 220.3h1.5v1.5h-1.5zM323.0 198.7h1.5v1.5h-1.5zM284.8 275.7h1.5v1.5h-1.5zM262.8 285.4h1.5v1.5h-1.5zM280.2 233.3h1.5v1.5h-1.5zM265.2 197.1h1.5v1.5h-1.5zM284.8 234.8h1.5v1.5h-1.5zM272.0 276.4h1.5v1.5h-1.5zM304.3 208.2h1.5v1.5h-1.5zM240.7 269.9h1.5v1.5h-1.5zM331.1 220.9h1.5v1.5h-1.5zM277.3 246.6h1.5v1.5h-1.5zM317.4 207.8h1.5v1.5h-1.5zM212.5 192.9h1.5v1.5h-1.5zM268.3 228.7h1.5v1.5h-1.5zM263.5 233.5h1.5v1.5h-1.5zM224.2 262.8h1.5v1.5h-1.5zM292.3 220.8h1.5v1.5h-1.5zM271.8 250.7h1.5v1.5h-1.5zM273.1 183.0h1.5v1.5h-1.5zM308.5 265.8h1.5v1.5h-1.5zM274.4 273.2h1.5v1.5h-1.5zM290.6 219.1h1.5v1.5h-1.5zM282.9 216.4h1.5v1.5h-1.5zM263.4 279.0h1.5v1.5h-1.5zM308.8 249.7h1.5v1.5h-1.5zM312.0 220.0h1.5v1.5h-1.5zM312.0 264.7h1.5v1.5h-1.5zM220.8 263.0h1.5v1.5h-1.5zM238.4 194.0h1.5v1.5h-1.5zM324.9 227.7h1.5v1.5h-1.5zM274.8 204.8h1.5v1.5h-1.5zM286.1 243.8h1.5v1.5h-1.5zM259.0 240.5h1.5v1.5h-1.5zM315.9 220.8h1.5v1.5h-1.5zM318.0 258.2h1.5v1.5h-1.5zM287.3 210.5h1.5v1.5h-1.5zM295.5 243.4h1.5v1.5h-1.5zM282.8 212.4h1.5v1.5h-1.5zM269.6 251.2h1.5v1.5h-1.5zM278.6 215.4h1.5v1.5h-1.5zM329.7 226.2h1.5v1.5h-1.5zM258.5 183.4h1.5v1.5h-1.5zM225.4 180.4h1.5v1.5h-1.5zM245.5 285.8h1.5v1.5h-1.5zM255.5 174.1h1.5v1.5h-1.5zM249.8 176.3h1.5v1.5h-1.5zM299.6 247.7h1.5v1.5h-1.5zM231.4 277.5h1.5v1.5h-1.5zM296.5 246.7h1.5v1.5h-1.5zM283.1 267.4h1.5v1.5h-1.5zM251.1 268.8h1.5v1.5h-1.5zM228.4 265.8h1.5v1.5h-1.5zM299.0 190.6h1.5v1.5h-1.5zM280.2 220.5h1.5v1.5h-1.5zM259.9 274.3h1.5v1.5h-1.5zM221.2 267.2h1.5v1.5h-1.5zM323.5 249.9h1.5v1.5h-1.5zM248.3 287.3h1.5v1.5h-1.5zM272.4 191.7h1.5v1.5h-1.5zM227.7 254.5h1.5v1.5h-1.5zM279.0 231.9h1.5v1.5h-1.5zM283.6 260.8h1.5v1.5h-1.5zM270.5 266.5h1.5v1.5h-1.5zM245.8 248.7h1.5v1.5h-1.5zM270.7 205.1h1.5v1.5h-1.5zM279.5 276.3h1.5v1.5h-1.5zM301.0 241.2h1.5v1.5h-1.5zM220.2 277.8h1.5v1.5h-1.5zM330.3 222.4h1.5v1.5h-1.5zM299.3 238.9h1.5v1.5h-1.5zM305.4 212.9h1.5v1.5h-1.5zM322.5 206.6h1.5v1.5h-1.5zM269.1 260.1h1.5v1.5h-1.5zM207.6 223.1h1.5v1.5h-1.5zM329.9 220.4h1.5v1.5h-1.5zM278.6 181.0h1.5v1.5h-1.5zM244.3 195.9h1.5v1.5h-1.5zM235.4 267.1h1.5v1.5h-1.5zM329.6 210.1h1.5v1.5h-1.5zM294.8 238.5h1.5v1.5h-1.5zM274.1 276.3h1.5v1.5h-1.5zM240.8 192.2h1.5v1.5h-1.5zM250.0 245.0h1.5v1.5h-1.5zM243.2 174.5h1.5v1.5h-1.5zM290.8 201.2h1.5v1.5h-1.5zM257.2 243.7h1.5v1.5h-1.5zM208.1 277.7h1.5v1.5h-1.5zM291.3 201.0h1.5v1.5h-1.5zM235.8 256.0h1.5v1.5h-1.5zM308.0 246.0h1.5v1.5h-1.5zM207.9 275.9h1.5v1.5h-1.5zM227.7 282.0h1.5v1.5h-1.5zM244.7 261.9h1.5v1.5h-1.5zM308.0 263.3h1.5v1.5h-1.5zM300.6 212.7h1.5v1.5h-1.5zM224.6 284.2h1.5v1.5h-1.5zM242.9 248.3h1.5v1.5h-1.5zM277.6 262.3h1.5v1.5h-1.5zM314.0 261.8h1.5v1.5h-1.5zM308.5 239.8h1.5v1.5h-1.5zM287.8 254.5h1.5v1.5h-1.5zM305.5 266.6h1.5v1.5h-1.5zM284.1 277.8h1.5v1.5h-1.5zM216.6 273.7h1.5v1.5h-1.5zM230.0 255.8h1.5v1.5h-1.5zM293.7 235.2h1.5v1.5h-1.5zM217.7 268.4h1.5v1.5h-1.5zM272.8 230.1h1.5v1.5h-1.5zM326.6 242.0h1.5v1.5h-1.5z" fill="#2a9a5a"/>
<path d="M304.0 220.8h1.5v1.5h-1.5zM258.4 210.0h1.5v1.5h-1.5zM212.9 275.0h1.5v1.5h-1.5zM275.9 222.5h1.5v1.5h-1.5zM277.4 239.9h1.5v1.5h-1.5zM242.1 236.1h1.5v1.5h-1.5zM224.6 269.4h1.5v1.5h-1.5zM236.8 261.5h1.5v1.5h-1.5zM206.8 279.2h1.5v1.5h-1.5zM242.7 264.7h1.5v1.5h-1.5zM290.6 207.6h1.5v1.5h-1.5zM307.6 208.3h1.5v1.5h-1.5zM278.2 237.7h1.5v1.5h-1.5zM277.5 210.0h1.5v1.5h-1.5zM301.3 221.9h1.5v1.5h-1.5zM277.8 247.4h1.5v1.5h-1.5zM247.1 251.5h1.5v1.5h-1.5zM291.4 228.1h1.5v1.5h-1.5zM280.5 247.8h1.5v1.5h-1.5zM292.4 205.5h1.5v1.5h-1.5zM276.8 217.1h1.5v1.5h-1.5zM263.7 247.7h1.5v1.5h-1.5zM244.9 248.5h1.5v1.5h-1.5zM242.7 229.2h1.5v1.5h-1.5zM298.6 203.2h1.5v1.5h-1.5zM291.8 202.1h1.5v1.5h-1.5zM256.9 262.7h1.5v1.5h-1.5zM274.2 231.4h1.5v1.5h-1.5zM251.6 231.6h1.5v1.5h-1.5zM222.6 255.0h1.5v1.5h-1.5zM282.0 218.8h1.5v1.5h-1.5zM236.5 272.6h1.5v1.5h-1.5zM280.3 203.7h1.5v1.5h-1.5zM277.5 243.6h1.5v1.5h-1.5zM222.0 269.6h1.5v1.5h-1.5zM206.1 245.7h1.5v1.5h-1.5zM206.1 226.0h1.5v1.5h-1.5z" fill="#56a834"/>
<path d="M330.5 194.8h1.5v1.5h-1.5zM229.5 287.3h1.5v1.5h-1.5zM325.3 242.9h1.5v1.5h-1.5zM367.4 148.4h1.5v1.5h-1.5zM324.0 240.3h1.5v1.5h-1.5zM285.6 264.5h1.5v1.5h-1.5zM338.4 236.4h1.5v1.5h-1.5zM324.8 216.4h1.5v1.5h-1.5zM343.5 257.7h1.5v1.5h-1.5zM208.9 288.5h1.5v1.5h-1.5zM220.7 286.5h1.5v1.5h-1.5zM341.3 189.7h1.5v1.5h-1.5zM339.3 226.4h1.5v1.5h-1.5zM352.9 192.3h1.5v1.5h-1.5zM337.7 216.7h1.5v1.5h-1.5zM333.5 221.3h1.5v1.5h-1.5zM303.6 245.3h1.5v1.5h-1.5zM285.9 278.9h1.5v1.5h-1.5zM217.3 290.9h1.5v1.5h-1.5zM310.9 238.5h1.5v1.5h-1.5zM338.2 239.2h1.5v1.5h-1.5zM342.1 220.6h1.5v1.5h-1.5z" fill="#d8d820"/>
<path d="M255.6 179.2h1.5v1.5h-1.5zM305.1 195.4h1.5v1.5h-1.5zM232.7 235.4h1.5v1.5h-1.5zM224.4 169.7h1.5v1.5h-1.5zM226.3 186.8h1.5v1.5h-1.5zM222.1 173.5h1.5v1.5h-1.5zM317.4 186.1h1.5v1.5h-1.5zM220.3 297.3h1.5v1.5h-1.5zM276.8 157.7h1.5v1.5h-1.5zM295.5 182.7h1.5v1.5h-1.5zM295.2 187.7h1.5v1.5h-1.5zM246.6 201.9h1.5v1.5h-1.5zM243.4 185.3h1.5v1.5h-1.5zM317.4 181.9h1.5v1.5h-1.5zM231.3 302.1h1.5v1.5h-1.5zM239.3 247.7h1.5v1.5h-1.5zM270.6 304.2h1.5v1.5h-1.5zM241.9 179.2h1.5v1.5h-1.5zM217.1 228.2h1.5v1.5h-1.5zM210.2 301.6h1.5v1.5h-1.5zM220.9 167.9h1.5v1.5h-1.5zM294.1 194.7h1.5v1.5h-1.5z" fill="#8cc337"/>
<path d="M258.4 196.7h1.5v1.5h-1.5zM267.0 289.9h1.5v1.5h-1.5zM321.0 182.0h1.5v1.5h-1.5zM309.0 188.7h1.5v1.5h-1.5zM268.5 296.4h1.5v1.5h-1.5zM256.0 175.3h1.5v1.5h-1.5zM305.3 194.2h1.5v1.5h-1.5zM272.9 171.1h1.5v1.5h-1.5zM307.0 181.6h1.5v1.5h-1.5zM272.9 182.6h1.5v1.5h-1.5zM221.8 189.8h1.5v1.5h-1.5zM315.0 169.1h1.5v1.5h-1.5zM343.7 236.5h1.5v1.5h-1.5zM266.1 185.0h1.5v1.5h-1.5zM324.3 260.5h1.5v1.5h-1.5zM220.0 299.1h1.5v1.5h-1.5zM229.4 172.2h1.5v1.5h-1.5zM331.3 184.8h1.5v1.5h-1.5zM317.3 274.1h1.5v1.5h-1.5zM251.8 196.2h1.5v1.5h-1.5zM306.1 189.7h1.5v1.5h-1.5zM245.8 173.9h1.5v1.5h-1.5zM335.6 220.2h1.5v1.5h-1.5zM294.9 292.0h1.5v1.5h-1.5zM262.4 289.6h1.5v1.5h-1.5zM318.7 185.0h1.5v1.5h-1.5zM206.6 292.8h1.5v1.5h-1.5zM306.1 195.0h1.5v1.5h-1.5zM299.9 179.6h1.5v1.5h-1.5zM319.9 187.3h1.5v1.5h-1.5zM221.1 185.8h1.5v1.5h-1.5zM256.1 288.7h1.5v1.5h-1.5zM316.9 189.5h1.5v1.5h-1.5zM231.8 171.0h1.5v1.5h-1.5zM333.0 207.6h1.5v1.5h-1.5zM250.3 295.9h1.5v1.5h-1.5zM332.8 210.1h1.5v1.5h-1.5zM232.4 182.2h1.5v1.5h-1.5zM322.0 178.1h1.5v1.5h-1.5zM330.0 272.6h1.5v1.5h-1.5zM291.6 173.4h1.5v1.5h-1.5zM263.1 187.8h1.5v1.5h-1.5zM258.3 183.5h1.5v1.5h-1.5zM216.6 179.9h1.5v1.5h-1.5zM236.3 177.3h1.5v1.5h-1.5zM236.8 174.3h1.5v1.5h-1.5zM334.3 233.2h1.5v1.5h-1.5zM217.1 192.4h1.5v1.5h-1.5zM253.8 191.0h1.5v1.5h-1.5zM309.8 191.0h1.5v1.5h-1.5zM318.0 272.3h1.5v1.5h-1.5zM214.8 172.9h1.5v1.5h-1.5zM260.5 176.4h1.5v1.5h-1.5zM230.9 187.0h1.5v1.5h-1.5zM324.9 263.7h1.5v1.5h-1.5zM326.7 254.4h1.5v1.5h-1.5zM330.9 244.9h1.5v1.5h-1.5zM248.6 173.1h1.5v1.5h-1.5zM325.4 181.6h1.5v1.5h-1.5zM332.8 212.6h1.5v1.5h-1.5zM335.1 204.9h1.5v1.5h-1.5zM268.6 190.3h1.5v1.5h-1.5zM256.8 187.7h1.5v1.5h-1.5zM269.6 190.2h1.5v1.5h-1.5zM291.3 192.5h1.5v1.5h-1.5zM232.5 294.8h1.5v1.5h-1.5zM248.2 290.4h1.5v1.5h-1.5zM285.3 292.4h1.5v1.5h-1.5zM279.8 196.0h1.5v1.5h-1.5zM263.5 195.0h1.5v1.5h-1.5zM332.3 198.7h1.5v1.5h-1.5zM332.0 229.7h1.5v1.5h-1.5zM243.3 172.9h1.5v1.5h-1.5zM257.2 187.4h1.5v1.5h-1.5zM289.6 285.5h1.5v1.5h-1.5zM322.6 264.9h1.5v1.5h-1.5zM223.1 191.3h1.5v1.5h-1.5zM299.6 288.9h1.5v1.5h-1.5zM327.3 260.4h1.5v1.5h-1.5zM334.1 221.4h1.5v1.5h-1.5zM322.9 263.0h1.5v1.5h-1.5z" fill="#289646"/>
<path d="M306.3 196.8h1.5v1.5h-1.5zM258.6 173.1h1.5v1.5h-1.5zM319.9 181.9h1.5v1.5h-1.5zM218.0 289.6h1.5v1.5h-1.5zM232.3 191.7h1.5v1.5h-1.5zM326.3 197.5h1.5v1.5h-1.5zM278.0 264.9h1.5v1.5h-1.5zM270.1 280.7h1.5v1.5h-1.5zM299.9 280.9h1.5v1.5h-1.5zM245.0 174.8h1.5v1.5h-1.5zM302.1 193.3h1.5v1.5h-1.5zM317.5 216.5h1.5v1.5h-1.5zM308.8 226.8h1.5v1.5h-1.5zM260.8 287.0h1.5v1.5h-1.5zM302.7 270.3h1.5v1.5h-1.5zM221.1 191.0h1.5v1.5h-1.5zM333.6 206.5h1.5v1.5h-1.5zM232.0 196.3h1.5v1.5h-1.5zM281.9 273.8h1.5v1.5h-1.5zM281.0 192.0h1.5v1.5h-1.5zM218.1 192.8h1.5v1.5h-1.5zM302.1 184.9h1.5v1.5h-1.5zM251.4 173.4h1.5v1.5h-1.5zM264.0 285.3h1.5v1.5h-1.5zM291.7 282.6h1.5v1.5h-1.5zM262.8 274.0h1.5v1.5h-1.5zM227.6 194.0h1.5v1.5h-1.5zM273.0 291.8h1.5v1.5h-1.5zM238.6 183.0h1.5v1.5h-1.5zM327.3 195.1h1.5v1.5h-1.5zM332.1 224.6h1.5v1.5h-1.5zM270.6 174.4h1.5v1.5h-1.5zM311.9 285.7h1.5v1.5h-1.5zM301.4 248.7h1.5v1.5h-1.5zM306.3 184.6h1.5v1.5h-1.5zM272.3 162.8h1.5v1.5h-1.5zM235.5 173.2h1.5v1.5h-1.5zM211.4 176.5h1.5v1.5h-1.5zM270.5 266.4h1.5v1.5h-1.5zM267.1 185.1h1.5v1.5h-1.5zM218.2 193.5h1.5v1.5h-1.5zM262.0 184.1h1.5v1.5h-1.5zM310.3 233.1h1.5v1.5h-1.5zM284.9 281.7h1.5v1.5h-1.5zM346.4 220.8h1.5v1.5h-1.5zM260.4 285.2h1.5v1.5h-1.5zM271.3 174.9h1.5v1.5h-1.5zM271.3 288.9h1.5v1.5h-1.5zM230.1 295.3h1.5v1.5h-1.5zM214.5 294.8h1.5v1.5h-1.5zM250.4 172.8h1.5v1.5h-1.5zM249.2 187.7h1.5v1.5h-1.5zM210.6 173.4h1.5v1.5h-1.5zM209.5 169.8h1.5v1.5h-1.5zM269.5 171.9h1.5v1.5h-1.5zM274.8 287.2h1.5v1.5h-1.5zM315.9 198.0h1.5v1.5h-1.5zM323.6 169.1h1.5v1.5h-1.5zM317.9 263.3h1.5v1.5h-1.5zM272.3 184.5h1.5v1.5h-1.5zM331.7 247.8h1.5v1.5h-1.5zM251.6 195.3h1.5v1.5h-1.5zM269.0 287.2h1.5v1.5h-1.5zM285.5 271.7h1.5v1.5h-1.5zM258.1 184.8h1.5v1.5h-1.5zM272.1 185.1h1.5v1.5h-1.5zM281.9 266.6h1.5v1.5h-1.5zM307.9 186.3h1.5v1.5h-1.5zM277.9 195.2h1.5v1.5h-1.5zM300.5 240.8h1.5v1.5h-1.5zM270.7 265.2h1.5v1.5h-1.5zM308.5 191.4h1.5v1.5h-1.5zM296.4 269.5h1.5v1.5h-1.5zM272.9 175.1h1.5v1.5h-1.5zM207.6 174.5h1.5v1.5h-1.5zM267.3 194.1h1.5v1.5h-1.5zM320.2 269.8h1.5v1.5h-1.5zM265.3 181.6h1.5v1.5h-1.5zM317.0 237.4h1.5v1.5h-1.5zM329.8 194.6h1.5v1.5h-1.5zM321.0 211.4h1.5v1.5h-1.5zM288.1 266.8h1.5v1.5h-1.5zM287.5 257.6h1.5v1.5h-1.5zM321.8 230.5h1.5v1.5h-1.5zM281.4 286.8h1.5v1.5h-1.5zM337.5 242.2h1.5v1.5h-1.5zM244.6 282.2h1.5v1.5h-1.5zM335.1 209.1h1.5v1.5h-1.5zM295.4 180.9h1.5v1.5h-1.5zM325.7 252.5h1.5v1.5h-1.5zM299.1 273.7h1.5v1.5h-1.5zM312.0 214.0h1.5v1.5h-1.5zM276.1 273.0h1.5v1.5h-1.5zM270.0 178.7h1.5v1.5h-1.5zM258.3 166.9h1.5v1.5h-1.5zM306.3 229.6h1.5v1.5h-1.5zM210.5 302.1h1.5v1.5h-1.5zM266.3 287.8h1.5v1.5h-1.5zM234.3 168.0h1.5v1.5h-1.5zM305.7 233.3h1.5v1.5h-1.5zM238.6 276.5h1.5v1.5h-1.5zM290.4 259.5h1.5v1.5h-1.5zM256.8 174.2h1.5v1.5h-1.5zM294.8 281.8h1.5v1.5h-1.5zM247.0 284.1h1.5v1.5h-1.5zM241.3 169.1h1.5v1.5h-1.5zM311.6 176.1h1.5v1.5h-1.5zM223.3 188.4h1.5v1.5h-1.5zM298.5 262.3h1.5v1.5h-1.5zM270.6 282.5h1.5v1.5h-1.5zM336.1 189.0h1.5v1.5h-1.5zM292.7 263.9h1.5v1.5h-1.5zM297.4 277.4h1.5v1.5h-1.5zM311.7 257.8h1.5v1.5h-1.5zM270.4 170.7h1.5v1.5h-1.5zM218.7 190.3h1.5v1.5h-1.5z" fill="#5faa32"/>
<path d="M270.5 249.1h1.5v1.5h-1.5zM265.3 249.1h1.5v1.5h-1.5zM274.1 228.7h1.5v1.5h-1.5zM227.7 233.5h1.5v1.5h-1.5zM274.9 260.9h1.5v1.5h-1.5zM281.9 213.2h1.5v1.5h-1.5zM241.8 249.5h1.5v1.5h-1.5zM235.4 252.8h1.5v1.5h-1.5zM257.4 240.6h1.5v1.5h-1.5zM233.8 245.3h1.5v1.5h-1.5zM247.3 260.9h1.5v1.5h-1.5zM222.7 270.4h1.5v1.5h-1.5zM239.7 218.4h1.5v1.5h-1.5zM298.2 227.3h1.5v1.5h-1.5zM282.6 250.1h1.5v1.5h-1.5zM301.4 214.4h1.5v1.5h-1.5zM224.0 264.0h1.5v1.5h-1.5zM249.4 248.8h1.5v1.5h-1.5zM239.7 260.6h1.5v1.5h-1.5zM256.2 230.9h1.5v1.5h-1.5zM252.4 248.7h1.5v1.5h-1.5zM281.6 204.3h1.5v1.5h-1.5zM215.3 217.7h1.5v1.5h-1.5zM206.7 231.1h1.5v1.5h-1.5zM262.3 205.3h1.5v1.5h-1.5zM273.0 249.5h1.5v1.5h-1.5zM265.3 212.8h1.5v1.5h-1.5zM212.8 263.8h1.5v1.5h-1.5zM285.8 225.1h1.5v1.5h-1.5zM230.4 270.6h1.5v1.5h-1.5zM241.7 200.4h1.5v1.5h-1.5zM226.9 260.8h1.5v1.5h-1.5zM301.4 200.4h1.5v1.5h-1.5zM208.7 278.3h1.5v1.5h-1.5zM214.9 211.6h1.5v1.5h-1.5zM290.8 223.4h1.5v1.5h-1.5zM211.9 262.4h1.5v1.5h-1.5zM280.7 242.7h1.5v1.5h-1.5zM267.6 247.4h1.5v1.5h-1.5z" fill="#56a834"/>
<path d="M251.1 251.9h1.5v1.5h-1.5zM258.3 204.5h1.5v1.5h-1.5zM218.1 260.0h1.5v1.5h-1.5zM224.3 251.0h1.5v1.5h-1.5zM243.7 252.0h1.5v1.5h-1.5zM303.0 220.4h1.5v1.5h-1.5zM241.0 218.3h1.5v1.5h-1.5zM241.5 231.9h1.5v1.5h-1.5zM234.6 238.2h1.5v1.5h-1.5zM239.5 254.7h1.5v1.5h-1.5zM244.1 272.6h1.5v1.5h-1.5zM223.6 221.9h1.5v1.5h-1.5zM281.8 228.0h1.5v1.5h-1.5zM269.3 220.1h1.5v1.5h-1.5zM292.6 211.9h1.5v1.5h-1.5zM250.8 232.3h1.5v1.5h-1.5zM238.0 269.1h1.5v1.5h-1.5zM229.7 268.4h1.5v1.5h-1.5zM288.7 230.6h1.5v1.5h-1.5zM282.7 233.1h1.5v1.5h-1.5zM240.5 261.9h1.5v1.5h-1.5zM207.2 258.1h1.5v1.5h-1.5zM286.9 247.8h1.5v1.5h-1.5zM227.4 231.8h1.5v1.5h-1.5zM293.6 226.5h1.5v1.5h-1.5zM260.1 269.5h1.5v1.5h-1.5zM223.9 234.5h1.5v1.5h-1.5zM284.8 241.8h1.5v1.5h-1.5zM251.9 236.1h1.5v1.5h-1.5zM245.9 235.1h1.5v1.5h-1.5zM281.6 245.0h1.5v1.5h-1.5zM211.3 242.2h1.5v1.5h-1.5zM213.2 212.3h1.5v1.5h-1.5zM246.8 248.7h1.5v1.5h-1.5zM235.7 231.7h1.5v1.5h-1.5z" fill="#70b52f"/>
<path d="M308.1 273.2h1.5v1.5h-1.5zM322.6 242.2h1.5v1.5h-1.5zM301.6 181.1h1.5v1.5h-1.5zM296.6 276.7h1.5v1.5h-1.5zM274.0 266.9h1.5v1.5h-1.5zM300.6 264.5h1.5v1.5h-1.5zM220.2 266.8h1.5v1.5h-1.5zM288.6 185.6h1.5v1.5h-1.5zM273.2 270.5h1.5v1.5h-1.5zM289.4 268.8h1.5v1.5h-1.5zM311.6 220.1h1.5v1.5h-1.5zM291.9 290.6h1.5v1.5h-1.5zM244.0 287.3h1.5v1.5h-1.5zM237.2 286.2h1.5v1.5h-1.5zM307.5 277.7h1.5v1.5h-1.5zM277.6 281.5h1.5v1.5h-1.5zM267.7 181.1h1.5v1.5h-1.5zM305.6 265.8h1.5v1.5h-1.5zM330.7 233.6h1.5v1.5h-1.5zM320.7 220.2h1.5v1.5h-1.5zM293.5 293.8h1.5v1.5h-1.5zM271.2 286.2h1.5v1.5h-1.5zM341.2 247.1h1.5v1.5h-1.5zM305.6 169.9h1.5v1.5h-1.5zM305.8 243.2h1.5v1.5h-1.5zM292.5 263.4h1.5v1.5h-1.5zM299.6 268.8h1.5v1.5h-1.5zM238.1 280.4h1.5v1.5h-1.5zM314.6 252.4h1.5v1.5h-1.5zM289.3 253.6h1.5v1.5h-1.5zM311.1 210.9h1.5v1.5h-1.5zM291.4 255.0h1.5v1.5h-1.5zM211.9 289.3h1.5v1.5h-1.5zM294.7 247.8h1.5v1.5h-1.5zM317.7 268.5h1.5v1.5h-1.5zM322.7 206.8h1.5v1.5h-1.5zM293.5 262.4h1.5v1.5h-1.5zM288.9 281.9h1.5v1.5h-1.5zM274.1 274.4h1.5v1.5h-1.5zM288.3 292.3h1.5v1.5h-1.5zM321.4 233.0h1.5v1.5h-1.5zM281.5 280.1h1.5v1.5h-1.5zM317.4 205.2h1.5v1.5h-1.5zM304.1 171.8h1.5v1.5h-1.5zM274.0 280.1h1.5v1.5h-1.5zM280.3 272.8h1.5v1.5h-1.5zM293.5 277.4h1.5v1.5h-1.5zM324.0 227.5h1.5v1.5h-1.5zM336.5 237.5h1.5v1.5h-1.5zM238.3 284.8h1.5v1.5h-1.5zM214.0 287.8h1.5v1.5h-1.5zM321.3 250.9h1.5v1.5h-1.5zM330.6 216.6h1.5v1.5h-1.5zM321.9 217.4h1.5v1.5h-1.5zM308.6 259.5h1.5v1.5h-1.5zM304.3 237.5h1.5v1.5h-1.5zM288.4 276.9h1.5v1.5h-1.5zM329.7 200.6h1.5v1.5h-1.5zM209.1 281.2h1.5v1.5h-1.5zM207.4 287.6h1.5v1.5h-1.5zM233.1 181.7h1.5v1.5h-1.5zM303.1 265.9h1.5v1.5h-1.5zM285.8 263.6h1.5v1.5h-1.5zM317.4 252.4h1.5v1.5h-1.5zM312.1 262.9h1.5v1.5h-1.5zM294.5 278.0h1.5v1.5h-1.5zM281.7 271.5h1.5v1.5h-1.5zM314.5 253.0h1.5v1.5h-1.5zM307.0 254.5h1.5v1.5h-1.5zM207.1 291.1h1.5v1.5h-1.5zM325.3 225.2h1.5v1.5h-1.5zM304.7 270.8h1.5v1.5h-1.5zM321.7 254.7h1.5v1.5h-1.5zM296.6 271.9h1.5v1.5h-1.5zM327.0 252.7h1.5v1.5h-1.5zM303.5 270.6h1.5v1.5h-1.5zM291.1 251.3h1.5v1.5h-1.5zM296.0 245.4h1.5v1.5h-1.5zM300.5 277.8h1.5v1.5h-1.5zM253.2 286.2h1.5v1.5h-1.5zM328.2 222.4h1.5v1.5h-1.5zM297.3 263.7h1.5v1.5h-1.5zM246.5 283.4h1.5v1.5h-1.5zM274.5 273.6h1.5v1.5h-1.5zM329.6 202.7h1.5v1.5h-1.5zM304.0 257.4h1.5v1.5h-1.5zM330.4 201.0h1.5v1.5h-1.5zM299.2 279.8h1.5v1.5h-1.5zM304.9 266.0h1.5v1.5h-1.5zM325.7 221.2h1.5v1.5h-1.5zM321.0 248.6h1.5v1.5h-1.5zM297.4 274.4h1.5v1.5h-1.5zM316.0 260.1h1.5v1.5h-1.5zM320.8 244.5h1.5v1.5h-1.5zM326.3 255.7h1.5v1.5h-1.5zM265.3 284.4h1.5v1.5h-1.5zM298.1 284.5h1.5v1.5h-1.5zM285.0 283.1h1.5v1.5h-1.5zM292.9 281.9h1.5v1.5h-1.5zM341.0 224.7h1.5v1.5h-1.5zM247.1 283.2h1.5v1.5h-1.5zM329.9 191.7h1.5v1.5h-1.5zM291.1 239.2h1.5v1.5h-1.5zM236.3 284.7h1.5v1.5h-1.5zM297.6 265.4h1.5v1.5h-1.5zM304.9 239.7h1.5v1.5h-1.5zM252.7 286.8h1.5v1.5h-1.5zM221.1 281.9h1.5v1.5h-1.5zM269.9 267.3h1.5v1.5h-1.5zM307.7 250.1h1.5v1.5h-1.5zM224.4 288.0h1.5v1.5h-1.5zM285.1 220.3h1.5v1.5h-1.5zM309.7 228.0h1.5v1.5h-1.5zM322.8 234.2h1.5v1.5h-1.5zM307.0 259.6h1.5v1.5h-1.5zM225.3 291.0h1.5v1.5h-1.5zM329.8 213.4h1.5v1.5h-1.5zM319.2 241.1h1.5v1.5h-1.5zM332.5 209.3h1.5v1.5h-1.5zM256.3 282.8h1.5v1.5h-1.5zM305.0 256.5h1.5v1.5h-1.5zM290.0 268.9h1.5v1.5h-1.5zM328.7 188.4h1.5v1.5h-1.5zM224.2 288.4h1.5v1.5h-1.5zM312.6 242.6h1.5v1.5h-1.5zM301.0 242.1h1.5v1.5h-1.5zM329.6 207.0h1.5v1.5h-1.5zM325.3 211.3h1.5v1.5h-1.5zM295.2 272.8h1.5v1.5h-1.5zM318.2 259.9h1.5v1.5h-1.5zM277.2 173.5h1.5v1.5h-1.5zM308.3 257.9h1.5v1.5h-1.5zM317.4 245.0h1.5v1.5h-1.5zM297.1 260.4h1.5v1.5h-1.5zM319.9 226.4h1.5v1.5h-1.5zM319.0 279.8h1.5v1.5h-1.5zM296.7 261.4h1.5v1.5h-1.5zM329.0 217.3h1.5v1.5h-1.5zM299.4 267.4h1.5v1.5h-1.5zM289.5 286.3h1.5v1.5h-1.5zM311.8 229.2h1.5v1.5h-1.5zM333.2 220.8h1.5v1.5h-1.5zM222.9 289.6h1.5v1.5h-1.5zM310.9 246.7h1.5v1.5h-1.5zM313.2 242.8h1.5v1.5h-1.5zM316.8 213.1h1.5v1.5h-1.5zM286.2 276.1h1.5v1.5h-1.5zM277.9 282.0h1.5v1.5h-1.5zM287.7 268.1h1.5v1.5h-1.5zM318.5 254.1h1.5v1.5h-1.5zM285.3 252.2h1.5v1.5h-1.5zM217.0 288.4h1.5v1.5h-1.5zM250.2 283.1h1.5v1.5h-1.5zM288.8 270.8h1.5v1.5h-1.5zM331.3 236.3h1.5v1.5h-1.5zM322.4 237.3h1.5v1.5h-1.5zM236.6 165.5h1.5v1.5h-1.5zM246.7 285.9h1.5v1.5h-1.5zM309.5 233.8h1.5v1.5h-1.5zM303.4 272.9h1.5v1.5h-1.5zM276.9 279.5h1.5v1.5h-1.5zM265.9 275.2h1.5v1.5h-1.5zM328.6 208.1h1.5v1.5h-1.5zM291.9 265.9h1.5v1.5h-1.5zM253.5 286.2h1.5v1.5h-1.5zM229.1 285.2h1.5v1.5h-1.5zM259.0 281.2h1.5v1.5h-1.5zM273.0 248.5h1.5v1.5h-1.5zM250.8 191.8h1.5v1.5h-1.5zM277.5 285.5h1.5v1.5h-1.5zM296.7 167.6h1.5v1.5h-1.5zM271.4 264.4h1.5v1.5h-1.5zM282.3 273.9h1.5v1.5h-1.5zM255.0 283.6h1.5v1.5h-1.5zM315.5 246.7h1.5v1.5h-1.5zM229.7 288.6h1.5v1.5h-1.5zM263.6 286.1h1.5v1.5h-1.5zM327.3 236.3h1.5v1.5h-1.5zM277.2 278.5h1.5v1.5h-1.5zM263.2 176.9h1.5v1.5h-1.5zM255.3 286.9h1.5v1.5h-1.5zM251.6 283.0h1.5v1.5h-1.5zM267.2 282.5h1.5v1.5h-1.5zM314.6 229.8h1.5v1.5h-1.5zM304.1 247.1h1.5v1.5h-1.5zM291.8 286.0h1.5v1.5h-1.5zM326.7 234.5h1.5v1.5h-1.5zM256.6 282.3h1.5v1.5h-1.5zM280.7 241.7h1.5v1.5h-1.5zM210.4 266.8h1.5v1.5h-1.5zM249.4 288.4h1.5v1.5h-1.5zM263.2 271.9h1.5v1.5h-1.5zM263.4 271.6h1.5v1.5h-1.5zM305.0 260.8h1.5v1.5h-1.5zM314.1 205.7h1.5v1.5h-1.5zM305.1 280.2h1.5v1.5h-1.5zM241.3 287.1h1.5v1.5h-1.5zM293.8 288.7h1.5v1.5h-1.5zM226.6 281.2h1.5v1.5h-1.5zM303.3 275.8h1.5v1.5h-1.5zM331.2 210.3h1.5v1.5h-1.5zM266.8 284.6h1.5v1.5h-1.5zM303.8 292.5h1.5v1.5h-1.5zM286.0 281.2h1.5v1.5h-1.5z" fill="#1e50a5"/>
<path d="M309.4 246.8h1.5v1.5h-1.5zM334.4 223.1h1.5v1.5h-1.5zM318.3 229.8h1.5v1.5h-1.5zM259.1 277.1h1.5v1.5h-1.5zM337.8 206.4h1.5v1.5h-1.5zM346.7 218.7h1.5v1.5h-1.5zM283.1 264.1h1.5v1.5h-1.5zM337.5 231.2h1.5v1.5h-1.5zM337.8 232.6h1.5v1.5h-1.5zM338.1 220.5h1.5v1.5h-1.5zM292.0 275.1h1.5v1.5h-1.5zM339.0 224.6h1.5v1.5h-1.5zM333.4 226.7h1.5v1.5h-1.5zM221.0 279.2h1.5v1.5h-1.5zM319.1 240.1h1.5v1.5h-1.5zM315.5 206.6h1.5v1.5h-1.5zM305.6 251.9h1.5v1.5h-1.5zM332.4 221.6h1.5v1.5h-1.5zM341.9 199.0h1.5v1.5h-1.5zM345.9 195.2h1.5v1.5h-1.5zM302.4 161.7h1.5v1.5h-1.5zM294.3 277.6h1.5v1.5h-1.5zM299.1 247.4h1.5v1.5h-1.5zM333.3 196.8h1.5v1.5h-1.5zM341.3 239.9h1.5v1.5h-1.5zM331.4 264.4h1.5v1.5h-1.5zM294.3 171.5h1.5v1.5h-1.5zM332.5 239.9h1.5v1.5h-1.5zM330.4 203.5h1.5v1.5h-1.5zM337.0 243.0h1.5v1.5h-1.5zM348.2 229.7h1.5v1.5h-1.5zM348.5 219.2h1.5v1.5h-1.5z" fill="#d8d820"/>
<path d="M321.8 263.0h1.5v1.5h-1.5zM308.8 246.7h1.5v1.5h-1.5zM333.1 227.8h1.5v1.5h-1.5zM328.4 246.2h1.5v1.5h-1.5zM342.0 243.6h1.5v1.5h-1.5zM335.3 201.1h1.5v1.5h-1.5zM341.4 232.2h1.5v1.5h-1.5zM328.1 185.4h1.5v1.5h-1.5zM339.6 193.6h1.5v1.5h-1.5zM288.4 277.9h1.5v1.5h-1.5zM344.6 213.2h1.5v1.5h-1.5zM334.3 232.0h1.5v1.5h-1.5zM355.7 131.0h1.5v1.5h-1.5zM317.7 275.6h1.5v1.5h-1.5zM353.2 187.1h1.5v1.5h-1.5zM344.7 241.0h1.5v1.5h-1.5zM331.8 224.1h1.5v1.5h-1.5zM326.4 231.1h1.5v1.5h-1.5zM341.3 229.9h1.5v1.5h-1.5zM331.0 211.5h1.5v1.5h-1.5zM338.6 222.2h1.5v1.5h-1.5zM334.5 135.3h1.5v1.5h-1.5zM301.8 267.1h1.5v1.5h-1.5zM342.9 202.7h1.5v1.5h-1.5zM331.8 192.1h1.5v1.5h-1.5zM307.3 128.1h1.5v1.5h-1.5zM339.1 185.1h1.5v1.5h-1.5zM337.8 198.3h1.5v1.5h-1.5zM348.7 205.5h1.5v1.5h-1.5zM341.9 213.4h1.5v1.5h-1.5zM218.2 290.8h1.5v1.5h-1.5zM334.8 225.2h1.5v1.5h-1.5zM343.1 167.9h1.5v1.5h-1.5zM303.1 276.2h1.5v1.5h-1.5zM332.5 248.4h1.5v1.5h-1.5zM334.3 233.8h1.5v1.5h-1.5zM339.4 263.2h1.5v1.5h-1.5zM337.4 219.7h1.5v1.5h-1.5zM236.8 287.8h1.5v1.5h-1.5zM251.3 278.4h1.5v1.5h-1.5zM335.7 200.7h1.5v1.5h-1.5zM343.0 201.2h1.5v1.5h-1.5zM336.0 184.9h1.5v1.5h-1.5zM333.8 232.1h1.5v1.5h-1.5zM289.9 252.4h1.5v1.5h-1.5zM320.5 249.4h1.5v1.5h-1.5zM335.4 214.4h1.5v1.5h-1.5zM332.4 221.7h1.5v1.5h-1.5zM320.4 276.1h1.5v1.5h-1.5zM333.9 203.3h1.5v1.5h-1.5zM337.9 226.0h1.5v1.5h-1.5zM352.0 239.1h1.5v1.5h-1.5zM336.0 214.5h1.5v1.5h-1.5zM338.8 223.8h1.5v1.5h-1.5zM328.2 215.5h1.5v1.5h-1.5zM317.6 173.9h1.5v1.5h-1.5zM288.6 272.4h1.5v1.5h-1.5z" fill="#f08a1c"/>
<path d="M333.3 265.2h1.5v1.5h-1.5zM340.8 200.4h1.5v1.5h-1.5zM368.7 179.9h1.5v1.5h-1.5zM339.8 224.6h1.5v1.5h-1.5zM331.2 186.1h1.5v1.5h-1.5zM343.5 220.9h1.5v1.5h-1.5zM304.7 173.3h1.5v1.5h-1.5zM326.9 160.5h1.5v1.5h-1.5zM335.5 191.8h1.5v1.5h-1.5z" fill="#e0302a"/>
<path d="M309.7 240.0h1.5v1.5h-1.5zM295.3 185.2h1.5v1.5h-1.5zM293.9 247.3h1.5v1.5h-1.5zM280.3 265.8h1.5v1.5h-1.5zM286.7 261.8h1.5v1.5h-1.5zM236.3 261.2h1.5v1.5h-1.5zM245.4 176.8h1.5v1.5h-1.5zM235.4 263.0h1.5v1.5h-1.5zM252.5 258.8h1.5v1.5h-1.5zM320.6 223.1h1.5v1.5h-1.5zM316.5 188.7h1.5v1.5h-1.5zM206.8 284.4h1.5v1.5h-1.5zM310.3 215.5h1.5v1.5h-1.5zM323.2 222.2h1.5v1.5h-1.5zM310.0 255.2h1.5v1.5h-1.5zM274.3 283.5h1.5v1.5h-1.5zM231.5 279.8h1.5v1.5h-1.5zM310.3 224.1h1.5v1.5h-1.5zM252.7 221.3h1.5v1.5h-1.5zM283.0 270.2h1.5v1.5h-1.5zM269.9 175.5h1.5v1.5h-1.5zM278.5 238.2h1.5v1.5h-1.5zM243.4 284.3h1.5v1.5h-1.5zM214.9 266.9h1.5v1.5h-1.5zM310.9 243.1h1.5v1.5h-1.5zM276.4 270.0h1.5v1.5h-1.5zM256.5 217.7h1.5v1.5h-1.5zM298.8 261.9h1.5v1.5h-1.5zM319.0 221.3h1.5v1.5h-1.5zM214.8 282.3h1.5v1.5h-1.5zM299.0 248.7h1.5v1.5h-1.5zM330.3 208.6h1.5v1.5h-1.5zM259.8 284.8h1.5v1.5h-1.5zM289.2 277.9h1.5v1.5h-1.5zM306.4 210.2h1.5v1.5h-1.5zM311.9 233.6h1.5v1.5h-1.5zM285.0 178.4h1.5v1.5h-1.5zM307.3 189.2h1.5v1.5h-1.5zM269.2 282.8h1.5v1.5h-1.5zM229.0 186.1h1.5v1.5h-1.5zM245.8 283.4h1.5v1.5h-1.5zM313.1 240.2h1.5v1.5h-1.5zM296.4 228.1h1.5v1.5h-1.5zM280.2 237.7h1.5v1.5h-1.5zM285.9 252.6h1.5v1.5h-1.5zM233.8 181.2h1.5v1.5h-1.5zM292.3 236.2h1.5v1.5h-1.5zM254.3 272.1h1.5v1.5h-1.5zM247.5 184.7h1.5v1.5h-1.5zM292.8 208.5h1.5v1.5h-1.5zM302.0 266.1h1.5v1.5h-1.5zM297.8 261.0h1.5v1.5h-1.5zM277.8 232.0h1.5v1.5h-1.5zM274.6 193.0h1.5v1.5h-1.5zM298.2 249.5h1.5v1.5h-1.5zM260.3 279.3h1.5v1.5h-1.5zM293.6 262.7h1.5v1.5h-1.5zM269.8 175.6h1.5v1.5h-1.5zM279.1 177.3h1.5v1.5h-1.5zM227.5 188.0h1.5v1.5h-1.5zM310.0 226.0h1.5v1.5h-1.5zM264.0 190.4h1.5v1.5h-1.5zM244.3 280.3h1.5v1.5h-1.5zM210.1 269.0h1.5v1.5h-1.5zM249.6 191.6h1.5v1.5h-1.5zM221.0 289.4h1.5v1.5h-1.5zM291.7 214.3h1.5v1.5h-1.5zM306.1 260.9h1.5v1.5h-1.5zM211.8 273.3h1.5v1.5h-1.5zM233.9 177.8h1.5v1.5h-1.5zM222.2 254.3h1.5v1.5h-1.5zM248.2 269.9h1.5v1.5h-1.5zM316.1 269.2h1.5v1.5h-1.5zM277.4 221.1h1.5v1.5h-1.5zM296.9 266.4h1.5v1.5h-1.5zM229.9 288.5h1.5v1.5h-1.5zM267.4 188.5h1.5v1.5h-1.5zM311.2 272.2h1.5v1.5h-1.5zM229.9 191.7h1.5v1.5h-1.5zM321.3 232.5h1.5v1.5h-1.5zM297.7 272.1h1.5v1.5h-1.5zM286.1 280.2h1.5v1.5h-1.5zM304.7 183.0h1.5v1.5h-1.5zM277.4 274.5h1.5v1.5h-1.5zM215.5 285.6h1.5v1.5h-1.5zM251.8 174.3h1.5v1.5h-1.5zM261.7 247.2h1.5v1.5h-1.5zM249.7 275.4h1.5v1.5h-1.5zM278.5 192.9h1.5v1.5h-1.5zM208.4 268.2h1.5v1.5h-1.5zM264.5 185.7h1.5v1.5h-1.5zM257.1 188.7h1.5v1.5h-1.5zM272.7 228.9h1.5v1.5h-1.5zM232.5 285.5h1.5v1.5h-1.5zM277.8 235.4h1.5v1.5h-1.5zM255.5 256.6h1.5v1.5h-1.5zM244.6 282.4h1.5v1.5h-1.5zM323.6 227.6h1.5v1.5h-1.5zM296.5 214.0h1.5v1.5h-1.5zM322.5 204.3h1.5v1.5h-1.5zM287.4 178.7h1.5v1.5h-1.5zM214.6 185.7h1.5v1.5h-1.5zM210.0 196.9h1.5v1.5h-1.5zM229.5 288.0h1.5v1.5h-1.5zM295.7 277.1h1.5v1.5h-1.5zM306.6 270.4h1.5v1.5h-1.5zM304.3 256.7h1.5v1.5h-1.5zM226.2 289.2h1.5v1.5h-1.5zM296.2 245.6h1.5v1.5h-1.5zM239.7 284.3h1.5v1.5h-1.5zM248.4 256.4h1.5v1.5h-1.5zM242.4 178.3h1.5v1.5h-1.5zM309.5 220.4h1.5v1.5h-1.5zM258.7 274.3h1.5v1.5h-1.5zM279.7 264.8h1.5v1.5h-1.5zM259.1 242.8h1.5v1.5h-1.5zM307.9 198.7h1.5v1.5h-1.5zM298.7 194.4h1.5v1.5h-1.5zM256.1 255.9h1.5v1.5h-1.5zM326.9 246.1h1.5v1.5h-1.5zM292.1 271.5h1.5v1.5h-1.5zM312.0 227.8h1.5v1.5h-1.5zM209.2 281.0h1.5v1.5h-1.5zM285.2 284.8h1.5v1.5h-1.5zM309.1 230.9h1.5v1.5h-1.5zM207.2 291.0h1.5v1.5h-1.5zM313.4 183.3h1.5v1.5h-1.5zM324.6 226.7h1.5v1.5h-1.5zM262.8 268.7h1.5v1.5h-1.5zM300.9 256.4h1.5v1.5h-1.5zM298.3 198.2h1.5v1.5h-1.5zM269.4 281.3h1.5v1.5h-1.5zM326.9 230.6h1.5v1.5h-1.5z" fill="#2a9a5a"/>
<path d="M307.9 257.8h1.5v1.5h-1.5zM219.9 285.4h1.5v1.5h-1.5zM317.2 246.9h1.5v1.5h-1.5zM221.7 256.1h1.5v1.5h-1.5zM304.2 255.6h1.5v1.5h-1.5zM315.6 242.5h1.5v1.5h-1.5zM211.4 281.7h1.5v1.5h-1.5zM295.2 281.0h1.5v1.5h-1.5zM330.9 230.2h1.5v1.5h-1.5zM312.5 220.9h1.5v1.5h-1.5zM280.3 184.2h1.5v1.5h-1.5zM232.8 271.4h1.5v1.5h-1.5zM276.5 235.0h1.5v1.5h-1.5zM234.9 178.8h1.5v1.5h-1.5zM292.2 259.2h1.5v1.5h-1.5zM237.9 282.9h1.5v1.5h-1.5zM257.5 281.2h1.5v1.5h-1.5zM229.4 288.0h1.5v1.5h-1.5zM304.0 238.1h1.5v1.5h-1.5zM303.6 229.3h1.5v1.5h-1.5zM303.6 234.4h1.5v1.5h-1.5zM315.0 212.2h1.5v1.5h-1.5zM244.1 181.4h1.5v1.5h-1.5zM323.6 208.4h1.5v1.5h-1.5zM306.0 232.7h1.5v1.5h-1.5zM272.4 244.5h1.5v1.5h-1.5zM310.1 208.3h1.5v1.5h-1.5zM312.6 272.8h1.5v1.5h-1.5zM309.4 268.3h1.5v1.5h-1.5zM271.5 285.8h1.5v1.5h-1.5zM232.7 255.5h1.5v1.5h-1.5zM236.6 265.0h1.5v1.5h-1.5zM305.6 254.8h1.5v1.5h-1.5zM322.8 263.6h1.5v1.5h-1.5zM293.1 278.6h1.5v1.5h-1.5zM312.5 260.7h1.5v1.5h-1.5zM322.5 253.0h1.5v1.5h-1.5zM295.3 272.8h1.5v1.5h-1.5zM272.8 213.1h1.5v1.5h-1.5zM256.3 249.5h1.5v1.5h-1.5zM255.4 271.9h1.5v1.5h-1.5zM315.1 265.4h1.5v1.5h-1.5zM251.7 191.1h1.5v1.5h-1.5zM316.5 203.4h1.5v1.5h-1.5zM238.2 303.3h1.5v1.5h-1.5zM322.0 242.2h1.5v1.5h-1.5zM300.7 275.3h1.5v1.5h-1.5zM209.4 290.6h1.5v1.5h-1.5zM317.0 248.2h1.5v1.5h-1.5zM220.8 181.0h1.5v1.5h-1.5zM299.6 251.4h1.5v1.5h-1.5zM304.6 261.8h1.5v1.5h-1.5zM285.4 218.8h1.5v1.5h-1.5zM285.7 286.4h1.5v1.5h-1.5zM287.1 281.2h1.5v1.5h-1.5zM339.2 140.1h1.5v1.5h-1.5zM324.2 248.2h1.5v1.5h-1.5zM317.1 264.5h1.5v1.5h-1.5zM242.0 279.7h1.5v1.5h-1.5zM288.4 265.9h1.5v1.5h-1.5zM325.8 245.0h1.5v1.5h-1.5zM346.7 223.7h1.5v1.5h-1.5zM244.9 284.8h1.5v1.5h-1.5zM291.9 231.5h1.5v1.5h-1.5zM267.2 280.8h1.5v1.5h-1.5zM261.0 278.0h1.5v1.5h-1.5zM309.6 243.5h1.5v1.5h-1.5zM213.5 178.7h1.5v1.5h-1.5zM323.9 209.6h1.5v1.5h-1.5zM290.5 196.7h1.5v1.5h-1.5zM325.7 222.2h1.5v1.5h-1.5zM313.1 186.3h1.5v1.5h-1.5zM301.8 261.8h1.5v1.5h-1.5zM279.2 195.3h1.5v1.5h-1.5zM341.1 170.2h1.5v1.5h-1.5zM315.8 235.5h1.5v1.5h-1.5zM282.6 256.6h1.5v1.5h-1.5zM323.4 228.0h1.5v1.5h-1.5zM271.1 251.6h1.5v1.5h-1.5zM264.0 276.6h1.5v1.5h-1.5zM332.2 186.4h1.5v1.5h-1.5zM317.4 209.2h1.5v1.5h-1.5zM311.1 264.3h1.5v1.5h-1.5zM322.3 267.4h1.5v1.5h-1.5zM330.3 250.4h1.5v1.5h-1.5zM242.3 196.5h1.5v1.5h-1.5zM317.4 201.9h1.5v1.5h-1.5zM234.7 285.8h1.5v1.5h-1.5zM335.5 191.6h1.5v1.5h-1.5zM287.9 283.1h1.5v1.5h-1.5zM322.6 236.0h1.5v1.5h-1.5zM274.0 269.8h1.5v1.5h-1.5zM283.3 293.5h1.5v1.5h-1.5zM314.6 223.1h1.5v1.5h-1.5zM338.1 210.0h1.5v1.5h-1.5zM317.0 279.4h1.5v1.5h-1.5zM282.5 272.3h1.5v1.5h-1.5zM257.7 277.7h1.5v1.5h-1.5zM337.0 220.8h1.5v1.5h-1.5zM212.5 283.1h1.5v1.5h-1.5zM298.7 258.5h1.5v1.5h-1.5zM323.5 212.3h1.5v1.5h-1.5zM229.7 258.3h1.5v1.5h-1.5zM239.7 179.8h1.5v1.5h-1.5zM321.5 203.0h1.5v1.5h-1.5zM214.1 176.9h1.5v1.5h-1.5zM290.6 247.5h1.5v1.5h-1.5zM295.4 195.3h1.5v1.5h-1.5zM294.7 233.8h1.5v1.5h-1.5zM257.4 266.2h1.5v1.5h-1.5zM256.0 287.1h1.5v1.5h-1.5zM264.3 291.6h1.5v1.5h-1.5zM332.6 227.8h1.5v1.5h-1.5zM283.7 201.9h1.5v1.5h-1.5zM321.5 223.6h1.5v1.5h-1.5zM269.3 254.3h1.5v1.5h-1.5zM298.9 190.8h1.5v1.5h-1.5zM273.7 194.9h1.5v1.5h-1.5zM259.1 241.5h1.5v1.5h-1.5zM322.5 203.6h1.5v1.5h-1.5zM330.9 206.8h1.5v1.5h-1.5zM324.1 216.3h1.5v1.5h-1.5zM311.5 244.9h1.5v1.5h-1.5zM292.0 191.8h1.5v1.5h-1.5zM302.4 258.9h1.5v1.5h-1.5zM337.5 268.6h1.5v1.5h-1.5zM303.4 240.0h1.5v1.5h-1.5zM303.0 246.7h1.5v1.5h-1.5zM297.8 191.1h1.5v1.5h-1.5zM253.4 269.9h1.5v1.5h-1.5zM286.5 256.0h1.5v1.5h-1.5zM320.2 209.2h1.5v1.5h-1.5zM258.6 288.8h1.5v1.5h-1.5zM287.7 249.9h1.5v1.5h-1.5zM317.6 206.2h1.5v1.5h-1.5zM250.2 174.9h1.5v1.5h-1.5zM252.5 193.7h1.5v1.5h-1.5zM234.0 194.5h1.5v1.5h-1.5zM313.3 189.4h1.5v1.5h-1.5zM211.1 288.8h1.5v1.5h-1.5zM251.6 182.4h1.5v1.5h-1.5zM294.4 249.9h1.5v1.5h-1.5zM324.3 261.1h1.5v1.5h-1.5zM252.5 163.1h1.5v1.5h-1.5zM237.7 173.7h1.5v1.5h-1.5zM263.8 283.9h1.5v1.5h-1.5zM254.3 287.2h1.5v1.5h-1.5zM301.3 172.2h1.5v1.5h-1.5zM322.2 209.5h1.5v1.5h-1.5zM243.2 167.7h1.5v1.5h-1.5zM338.8 219.0h1.5v1.5h-1.5zM250.1 282.6h1.5v1.5h-1.5zM323.0 203.9h1.5v1.5h-1.5zM290.3 273.6h1.5v1.5h-1.5zM289.1 270.1h1.5v1.5h-1.5zM326.3 248.3h1.5v1.5h-1.5zM326.4 231.6h1.5v1.5h-1.5zM248.9 188.5h1.5v1.5h-1.5zM244.4 289.0h1.5v1.5h-1.5zM325.0 167.8h1.5v1.5h-1.5zM305.1 176.7h1.5v1.5h-1.5zM250.8 186.5h1.5v1.5h-1.5zM289.0 276.9h1.5v1.5h-1.5zM303.9 261.9h1.5v1.5h-1.5zM299.1 229.0h1.5v1.5h-1.5zM213.9 261.8h1.5v1.5h-1.5zM259.1 280.7h1.5v1.5h-1.5zM317.8 233.2h1.5v1.5h-1.5zM261.8 179.3h1.5v1.5h-1.5zM231.6 260.6h1.5v1.5h-1.5zM310.9 213.0h1.5v1.5h-1.5zM264.7 284.5h1.5v1.5h-1.5zM272.6 286.2h1.5v1.5h-1.5zM312.9 231.0h1.5v1.5h-1.5zM295.3 236.1h1.5v1.5h-1.5zM268.7 268.2h1.5v1.5h-1.5zM304.4 179.9h1.5v1.5h-1.5zM216.6 274.6h1.5v1.5h-1.5zM304.7 182.1h1.5v1.5h-1.5zM241.7 188.6h1.5v1.5h-1.5zM245.4 178.7h1.5v1.5h-1.5zM260.8 283.8h1.5v1.5h-1.5zM293.2 266.2h1.5v1.5h-1.5zM282.5 277.0h1.5v1.5h-1.5zM324.5 225.6h1.5v1.5h-1.5zM312.6 190.5h1.5v1.5h-1.5zM220.2 165.4h1.5v1.5h-1.5zM300.1 243.3h1.5v1.5h-1.5zM320.8 272.7h1.5v1.5h-1.5zM262.4 279.8h1.5v1.5h-1.5zM244.6 255.6h1.5v1.5h-1.5zM246.1 169.8h1.5v1.5h-1.5zM298.8 243.6h1.5v1.5h-1.5zM335.0 244.9h1.5v1.5h-1.5zM273.1 283.3h1.5v1.5h-1.5zM320.2 229.7h1.5v1.5h-1.5zM237.9 170.9h1.5v1.5h-1.5zM321.2 184.5h1.5v1.5h-1.5zM312.4 265.7h1.5v1.5h-1.5zM297.0 178.1h1.5v1.5h-1.5zM263.5 288.6h1.5v1.5h-1.5zM321.7 261.1h1.5v1.5h-1.5zM311.3 219.5h1.5v1.5h-1.5zM305.1 243.9h1.5v1.5h-1.5zM217.5 284.4h1.5v1.5h-1.5zM305.6 277.7h1.5v1.5h-1.5zM245.7 245.9h1.5v1.5h-1.5zM307.8 221.4h1.5v1.5h-1.5zM328.6 203.0h1.5v1.5h-1.5zM250.6 284.8h1.5v1.5h-1.5zM308.0 245.4h1.5v1.5h-1.5zM294.5 277.0h1.5v1.5h-1.5zM256.3 274.6h1.5v1.5h-1.5zM322.4 220.5h1.5v1.5h-1.5zM324.7 241.1h1.5v1.5h-1.5zM327.9 245.2h1.5v1.5h-1.5zM306.5 277.6h1.5v1.5h-1.5z" fill="#198c82"/>
<path d="M305.6 191.2h1.5v1.5h-1.5zM303.9 281.0h1.5v1.5h-1.5zM311.0 182.5h1.5v1.5h-1.5zM303.4 189.4h1.5v1.5h-1.5zM251.2 185.4h1.5v1.5h-1.5zM246.0 193.1h1.5v1.5h-1.5zM319.5 188.3h1.5v1.5h-1.5zM333.8 196.5h1.5v1.5h-1.5zM328.1 172.1h1.5v1.5h-1.5zM280.4 192.5h1.5v1.5h-1.5zM337.2 216.1h1.5v1.5h-1.5zM249.0 180.1h1.5v1.5h-1.5zM259.2 182.6h1.5v1.5h-1.5zM318.1 192.8h1.5v1.5h-1.5zM293.3 285.1h1.5v1.5h-1.5zM226.2 186.0h1.5v1.5h-1.5zM304.8 194.0h1.5v1.5h-1.5zM319.1 181.6h1.5v1.5h-1.5zM244.3 189.3h1.5v1.5h-1.5zM211.2 177.8h1.5v1.5h-1.5zM221.3 172.4h1.5v1.5h-1.5zM241.2 196.6h1.5v1.5h-1.5zM222.9 189.9h1.5v1.5h-1.5zM319.9 269.7h1.5v1.5h-1.5zM220.9 175.0h1.5v1.5h-1.5zM272.0 180.6h1.5v1.5h-1.5zM305.1 176.2h1.5v1.5h-1.5zM325.3 188.3h1.5v1.5h-1.5zM327.3 261.4h1.5v1.5h-1.5zM339.3 218.2h1.5v1.5h-1.5zM273.5 168.5h1.5v1.5h-1.5zM247.4 179.2h1.5v1.5h-1.5zM307.0 184.0h1.5v1.5h-1.5zM290.8 183.4h1.5v1.5h-1.5zM231.7 189.3h1.5v1.5h-1.5zM216.6 196.3h1.5v1.5h-1.5zM241.9 171.1h1.5v1.5h-1.5zM245.1 182.6h1.5v1.5h-1.5zM318.5 272.6h1.5v1.5h-1.5zM309.6 278.9h1.5v1.5h-1.5zM299.7 178.5h1.5v1.5h-1.5zM310.7 279.3h1.5v1.5h-1.5zM328.0 194.3h1.5v1.5h-1.5zM291.6 173.2h1.5v1.5h-1.5zM275.0 191.4h1.5v1.5h-1.5zM329.5 241.7h1.5v1.5h-1.5zM270.3 173.0h1.5v1.5h-1.5zM317.8 171.9h1.5v1.5h-1.5zM284.2 183.1h1.5v1.5h-1.5zM242.5 165.3h1.5v1.5h-1.5zM214.0 191.8h1.5v1.5h-1.5zM209.2 175.8h1.5v1.5h-1.5zM212.4 163.7h1.5v1.5h-1.5zM286.3 181.3h1.5v1.5h-1.5zM319.6 183.6h1.5v1.5h-1.5zM302.4 181.6h1.5v1.5h-1.5zM322.1 195.6h1.5v1.5h-1.5zM293.6 291.8h1.5v1.5h-1.5zM208.8 301.3h1.5v1.5h-1.5zM293.2 196.9h1.5v1.5h-1.5zM215.1 172.8h1.5v1.5h-1.5zM296.8 175.2h1.5v1.5h-1.5zM308.6 173.1h1.5v1.5h-1.5zM281.7 172.8h1.5v1.5h-1.5zM244.6 176.7h1.5v1.5h-1.5zM277.2 295.9h1.5v1.5h-1.5zM255.7 295.3h1.5v1.5h-1.5z" fill="#289646"/>
<path d="M350.4 203.6h1.5v1.5h-1.5zM352.0 241.2h1.5v1.5h-1.5zM337.0 246.9h1.5v1.5h-1.5zM348.9 213.5h1.5v1.5h-1.5zM335.8 194.3h1.5v1.5h-1.5zM339.2 223.8h1.5v1.5h-1.5zM349.0 209.6h1.5v1.5h-1.5zM339.0 198.7h1.5v1.5h-1.5zM341.1 226.4h1.5v1.5h-1.5zM345.3 213.0h1.5v1.5h-1.5zM347.1 250.8h1.5v1.5h-1.5zM335.6 244.2h1.5v1.5h-1.5zM297.9 126.9h1.5v1.5h-1.5zM337.8 247.7h1.5v1.5h-1.5z" fill="#e0302a"/>
<path d="M287.5 205.6h1.5v1.5h-1.5zM287.3 242.8h1.5v1.5h-1.5zM268.0 230.9h1.5v1.5h-1.5zM225.8 274.4h1.5v1.5h-1.5zM253.8 234.0h1.5v1.5h-1.5zM277.8 221.3h1.5v1.5h-1.5zM308.5 209.3h1.5v1.5h-1.5zM262.4 245.4h1.5v1.5h-1.5zM264.9 249.3h1.5v1.5h-1.5zM248.7 260.8h1.5v1.5h-1.5zM240.0 274.2h1.5v1.5h-1.5zM241.1 263.4h1.5v1.5h-1.5zM269.5 264.4h1.5v1.5h-1.5zM212.2 254.2h1.5v1.5h-1.5zM290.9 214.3h1.5v1.5h-1.5zM281.0 221.6h1.5v1.5h-1.5zM253.5 228.2h1.5v1.5h-1.5zM291.3 207.9h1.5v1.5h-1.5zM216.5 275.0h1.5v1.5h-1.5zM213.2 246.7h1.5v1.5h-1.5zM256.2 251.1h1.5v1.5h-1.5zM226.4 267.7h1.5v1.5h-1.5zM293.0 225.2h1.5v1.5h-1.5zM217.8 229.0h1.5v1.5h-1.5zM216.9 244.6h1.5v1.5h-1.5zM243.0 265.7h1.5v1.5h-1.5zM206.3 237.4h1.5v1.5h-1.5zM298.2 239.1h1.5v1.5h-1.5z" fill="#56a834"/>
<path d="M328.1 250.1h1.5v1.5h-1.5zM332.5 226.0h1.5v1.5h-1.5zM341.6 227.5h1.5v1.5h-1.5zM330.7 233.1h1.5v1.5h-1.5zM348.9 230.2h1.5v1.5h-1.5zM346.5 235.3h1.5v1.5h-1.5zM338.2 248.9h1.5v1.5h-1.5zM334.7 228.0h1.5v1.5h-1.5zM347.4 239.9h1.5v1.5h-1.5zM342.7 222.8h1.5v1.5h-1.5zM341.8 191.1h1.5v1.5h-1.5zM305.6 251.4h1.5v1.5h-1.5zM332.1 226.9h1.5v1.5h-1.5zM302.6 277.0h1.5v1.5h-1.5zM254.0 284.2h1.5v1.5h-1.5zM315.2 199.4h1.5v1.5h-1.5zM343.8 214.1h1.5v1.5h-1.5zM336.0 149.5h1.5v1.5h-1.5zM338.0 250.6h1.5v1.5h-1.5zM312.8 251.3h1.5v1.5h-1.5zM274.2 283.7h1.5v1.5h-1.5zM339.9 270.8h1.5v1.5h-1.5zM345.7 225.1h1.5v1.5h-1.5zM256.7 283.0h1.5v1.5h-1.5zM346.1 225.0h1.5v1.5h-1.5zM355.0 219.1h1.5v1.5h-1.5zM280.5 275.6h1.5v1.5h-1.5zM341.2 236.3h1.5v1.5h-1.5zM340.9 247.5h1.5v1.5h-1.5zM346.8 255.4h1.5v1.5h-1.5zM279.5 274.6h1.5v1.5h-1.5zM311.9 176.4h1.5v1.5h-1.5zM302.0 243.6h1.5v1.5h-1.5zM335.9 235.5h1.5v1.5h-1.5zM339.0 238.0h1.5v1.5h-1.5zM361.1 133.0h1.5v1.5h-1.5zM340.7 242.9h1.5v1.5h-1.5zM245.7 279.7h1.5v1.5h-1.5zM316.7 252.4h1.5v1.5h-1.5zM317.1 166.7h1.5v1.5h-1.5zM352.8 267.2h1.5v1.5h-1.5zM332.4 232.8h1.5v1.5h-1.5zM340.3 249.1h1.5v1.5h-1.5zM348.5 200.1h1.5v1.5h-1.5zM350.5 239.6h1.5v1.5h-1.5zM333.4 208.1h1.5v1.5h-1.5zM340.4 190.2h1.5v1.5h-1.5z" fill="#f08a1c"/>
<path d="M314.7 262.9h1.5v1.5h-1.5zM310.1 226.5h1.5v1.5h-1.5zM316.1 281.3h1.5v1.5h-1.5zM308.4 189.8h1.5v1.5h-1.5zM291.8 167.9h1.5v1.5h-1.5zM263.6 299.3h1.5v1.5h-1.5zM267.6 186.7h1.5v1.5h-1.5zM289.8 186.0h1.5v1.5h-1.5zM227.6 192.6h1.5v1.5h-1.5zM305.1 184.3h1.5v1.5h-1.5zM279.3 272.0h1.5v1.5h-1.5zM259.6 180.0h1.5v1.5h-1.5zM263.7 294.0h1.5v1.5h-1.5zM233.2 177.9h1.5v1.5h-1.5zM272.0 174.8h1.5v1.5h-1.5zM327.5 204.9h1.5v1.5h-1.5zM226.4 174.5h1.5v1.5h-1.5zM274.7 174.2h1.5v1.5h-1.5zM265.3 287.8h1.5v1.5h-1.5zM231.2 177.2h1.5v1.5h-1.5zM288.8 177.7h1.5v1.5h-1.5zM313.1 182.7h1.5v1.5h-1.5zM312.9 262.6h1.5v1.5h-1.5zM290.9 182.1h1.5v1.5h-1.5zM286.4 259.3h1.5v1.5h-1.5zM206.3 193.5h1.5v1.5h-1.5zM311.4 229.0h1.5v1.5h-1.5zM250.5 190.9h1.5v1.5h-1.5zM219.7 184.2h1.5v1.5h-1.5zM215.2 173.7h1.5v1.5h-1.5zM326.7 242.8h1.5v1.5h-1.5zM301.6 189.5h1.5v1.5h-1.5zM233.0 297.9h1.5v1.5h-1.5zM292.6 277.0h1.5v1.5h-1.5zM257.6 292.0h1.5v1.5h-1.5zM308.4 258.7h1.5v1.5h-1.5zM245.1 174.3h1.5v1.5h-1.5zM306.3 236.1h1.5v1.5h-1.5zM282.0 263.6h1.5v1.5h-1.5zM245.9 293.3h1.5v1.5h-1.5zM296.1 270.6h1.5v1.5h-1.5zM319.2 254.3h1.5v1.5h-1.5zM271.0 180.6h1.5v1.5h-1.5zM207.1 302.7h1.5v1.5h-1.5zM297.1 186.1h1.5v1.5h-1.5zM324.8 251.1h1.5v1.5h-1.5zM239.1 194.3h1.5v1.5h-1.5zM287.6 180.6h1.5v1.5h-1.5zM304.8 265.5h1.5v1.5h-1.5zM211.4 170.2h1.5v1.5h-1.5zM237.4 169.7h1.5v1.5h-1.5zM293.9 191.4h1.5v1.5h-1.5zM225.2 171.2h1.5v1.5h-1.5zM295.7 284.0h1.5v1.5h-1.5zM221.3 187.7h1.5v1.5h-1.5zM298.9 285.4h1.5v1.5h-1.5zM247.8 180.6h1.5v1.5h-1.5zM317.5 206.7h1.5v1.5h-1.5zM330.4 202.5h1.5v1.5h-1.5zM255.6 277.8h1.5v1.5h-1.5zM325.3 256.4h1.5v1.5h-1.5zM296.0 164.5h1.5v1.5h-1.5zM272.9 268.3h1.5v1.5h-1.5zM267.0 181.0h1.5v1.5h-1.5zM309.9 237.7h1.5v1.5h-1.5zM235.3 286.2h1.5v1.5h-1.5zM311.0 228.1h1.5v1.5h-1.5zM339.7 224.1h1.5v1.5h-1.5zM263.6 270.2h1.5v1.5h-1.5zM336.3 206.1h1.5v1.5h-1.5zM311.9 171.6h1.5v1.5h-1.5zM223.6 281.5h1.5v1.5h-1.5zM216.6 290.7h1.5v1.5h-1.5zM255.4 272.0h1.5v1.5h-1.5zM317.4 236.0h1.5v1.5h-1.5zM265.8 179.8h1.5v1.5h-1.5zM297.6 196.3h1.5v1.5h-1.5zM259.7 178.6h1.5v1.5h-1.5zM319.7 229.7h1.5v1.5h-1.5zM281.3 283.4h1.5v1.5h-1.5zM223.6 296.3h1.5v1.5h-1.5zM316.4 222.6h1.5v1.5h-1.5zM242.1 192.9h1.5v1.5h-1.5zM332.9 190.5h1.5v1.5h-1.5zM268.9 175.0h1.5v1.5h-1.5zM246.4 187.5h1.5v1.5h-1.5zM250.1 170.0h1.5v1.5h-1.5zM335.5 252.3h1.5v1.5h-1.5zM263.5 179.7h1.5v1.5h-1.5zM286.6 178.8h1.5v1.5h-1.5zM311.3 243.9h1.5v1.5h-1.5zM215.5 175.9h1.5v1.5h-1.5zM220.4 172.7h1.5v1.5h-1.5zM247.2 175.4h1.5v1.5h-1.5zM213.6 170.4h1.5v1.5h-1.5zM243.1 281.7h1.5v1.5h-1.5zM257.9 278.9h1.5v1.5h-1.5zM231.2 295.2h1.5v1.5h-1.5zM226.4 186.1h1.5v1.5h-1.5zM289.2 257.0h1.5v1.5h-1.5zM293.0 266.4h1.5v1.5h-1.5zM252.6 301.9h1.5v1.5h-1.5zM332.7 218.2h1.5v1.5h-1.5zM314.1 183.9h1.5v1.5h-1.5zM283.4 262.5h1.5v1.5h-1.5zM325.7 144.3h1.5v1.5h-1.5zM294.9 186.2h1.5v1.5h-1.5zM258.2 176.2h1.5v1.5h-1.5zM287.7 192.5h1.5v1.5h-1.5zM243.1 195.5h1.5v1.5h-1.5zM220.6 280.1h1.5v1.5h-1.5zM219.8 295.2h1.5v1.5h-1.5z" fill="#5faa32"/>
<path d="M289.1 217.2h1.5v1.5h-1.5zM307.1 198.6h1.5v1.5h-1.5zM250.9 279.7h1.5v1.5h-1.5zM255.4 275.6h1.5v1.5h-1.5zM217.9 175.1h1.5v1.5h-1.5zM285.6 275.9h1.5v1.5h-1.5zM280.0 202.5h1.5v1.5h-1.5zM251.3 265.4h1.5v1.5h-1.5zM310.5 226.9h1.5v1.5h-1.5zM236.2 176.1h1.5v1.5h-1.5zM219.8 286.6h1.5v1.5h-1.5zM272.5 265.3h1.5v1.5h-1.5zM284.6 283.9h1.5v1.5h-1.5zM241.1 192.1h1.5v1.5h-1.5zM328.7 226.4h1.5v1.5h-1.5zM315.8 256.4h1.5v1.5h-1.5zM295.9 283.4h1.5v1.5h-1.5zM306.1 251.4h1.5v1.5h-1.5zM324.4 202.5h1.5v1.5h-1.5zM322.6 237.0h1.5v1.5h-1.5zM322.4 212.0h1.5v1.5h-1.5zM283.6 213.5h1.5v1.5h-1.5zM300.3 277.3h1.5v1.5h-1.5zM337.0 228.6h1.5v1.5h-1.5zM304.3 203.7h1.5v1.5h-1.5zM320.2 258.1h1.5v1.5h-1.5zM313.4 204.7h1.5v1.5h-1.5zM206.7 259.3h1.5v1.5h-1.5zM291.5 269.3h1.5v1.5h-1.5zM241.0 275.8h1.5v1.5h-1.5zM247.1 284.0h1.5v1.5h-1.5zM329.6 230.0h1.5v1.5h-1.5zM274.9 275.7h1.5v1.5h-1.5zM330.0 205.7h1.5v1.5h-1.5zM273.7 237.3h1.5v1.5h-1.5zM339.1 219.3h1.5v1.5h-1.5zM319.4 257.9h1.5v1.5h-1.5zM294.1 185.7h1.5v1.5h-1.5zM244.4 194.1h1.5v1.5h-1.5zM311.0 205.4h1.5v1.5h-1.5zM307.4 279.8h1.5v1.5h-1.5zM228.1 282.4h1.5v1.5h-1.5zM256.1 239.4h1.5v1.5h-1.5zM256.8 283.0h1.5v1.5h-1.5zM328.9 143.0h1.5v1.5h-1.5zM323.9 201.9h1.5v1.5h-1.5zM326.0 203.7h1.5v1.5h-1.5zM270.3 269.3h1.5v1.5h-1.5zM288.5 261.7h1.5v1.5h-1.5zM320.8 210.1h1.5v1.5h-1.5zM215.0 297.2h1.5v1.5h-1.5zM246.8 173.5h1.5v1.5h-1.5zM335.6 234.5h1.5v1.5h-1.5zM323.8 177.2h1.5v1.5h-1.5zM294.5 206.4h1.5v1.5h-1.5zM279.0 261.9h1.5v1.5h-1.5zM223.1 279.5h1.5v1.5h-1.5zM309.6 257.4h1.5v1.5h-1.5zM313.9 257.8h1.5v1.5h-1.5zM310.3 225.5h1.5v1.5h-1.5zM285.7 283.1h1.5v1.5h-1.5zM294.8 202.5h1.5v1.5h-1.5zM319.8 226.6h1.5v1.5h-1.5zM315.5 219.8h1.5v1.5h-1.5zM304.8 254.8h1.5v1.5h-1.5zM272.1 204.1h1.5v1.5h-1.5zM312.6 243.5h1.5v1.5h-1.5zM324.5 203.1h1.5v1.5h-1.5zM210.5 184.4h1.5v1.5h-1.5zM234.3 253.0h1.5v1.5h-1.5zM315.5 265.0h1.5v1.5h-1.5zM223.6 193.9h1.5v1.5h-1.5zM268.6 242.5h1.5v1.5h-1.5zM257.4 190.5h1.5v1.5h-1.5zM293.6 249.1h1.5v1.5h-1.5zM313.9 198.4h1.5v1.5h-1.5zM222.0 282.8h1.5v1.5h-1.5zM287.7 281.7h1.5v1.5h-1.5zM311.2 268.4h1.5v1.5h-1.5zM320.9 230.7h1.5v1.5h-1.5zM287.0 271.3h1.5v1.5h-1.5zM213.0 188.6h1.5v1.5h-1.5zM306.2 281.0h1.5v1.5h-1.5zM276.1 285.4h1.5v1.5h-1.5zM350.0 199.3h1.5v1.5h-1.5zM268.1 235.8h1.5v1.5h-1.5zM286.1 263.8h1.5v1.5h-1.5zM326.2 247.3h1.5v1.5h-1.5zM248.5 189.5h1.5v1.5h-1.5zM293.7 283.1h1.5v1.5h-1.5zM324.9 198.5h1.5v1.5h-1.5zM283.2 252.3h1.5v1.5h-1.5zM325.3 212.2h1.5v1.5h-1.5zM264.7 152.2h1.5v1.5h-1.5zM276.8 171.5h1.5v1.5h-1.5zM327.0 248.7h1.5v1.5h-1.5zM320.7 259.0h1.5v1.5h-1.5zM295.3 176.8h1.5v1.5h-1.5zM301.0 205.2h1.5v1.5h-1.5zM253.2 179.5h1.5v1.5h-1.5zM292.2 269.2h1.5v1.5h-1.5zM279.1 275.9h1.5v1.5h-1.5zM293.5 267.5h1.5v1.5h-1.5zM309.4 240.3h1.5v1.5h-1.5zM288.7 260.2h1.5v1.5h-1.5zM221.8 285.3h1.5v1.5h-1.5zM274.7 211.3h1.5v1.5h-1.5zM221.8 179.8h1.5v1.5h-1.5zM283.8 241.9h1.5v1.5h-1.5zM251.8 276.7h1.5v1.5h-1.5zM303.5 252.0h1.5v1.5h-1.5zM286.7 182.7h1.5v1.5h-1.5zM310.5 272.4h1.5v1.5h-1.5zM327.8 200.0h1.5v1.5h-1.5zM325.9 226.0h1.5v1.5h-1.5zM209.6 177.4h1.5v1.5h-1.5zM311.2 231.6h1.5v1.5h-1.5zM214.5 259.8h1.5v1.5h-1.5zM292.9 187.7h1.5v1.5h-1.5zM312.4 200.8h1.5v1.5h-1.5zM283.3 229.5h1.5v1.5h-1.5zM279.1 201.8h1.5v1.5h-1.5zM308.4 204.8h1.5v1.5h-1.5zM226.3 275.3h1.5v1.5h-1.5zM297.4 279.4h1.5v1.5h-1.5zM274.3 194.3h1.5v1.5h-1.5zM312.5 209.2h1.5v1.5h-1.5zM326.1 247.7h1.5v1.5h-1.5zM307.7 256.3h1.5v1.5h-1.5zM322.5 244.2h1.5v1.5h-1.5zM240.0 278.5h1.5v1.5h-1.5zM300.0 243.2h1.5v1.5h-1.5zM273.7 284.2h1.5v1.5h-1.5zM277.5 288.0h1.5v1.5h-1.5zM270.1 273.1h1.5v1.5h-1.5zM305.5 240.6h1.5v1.5h-1.5zM324.6 240.9h1.5v1.5h-1.5zM220.4 257.3h1.5v1.5h-1.5zM242.1 287.9h1.5v1.5h-1.5zM328.0 250.8h1.5v1.5h-1.5zM272.7 238.0h1.5v1.5h-1.5zM311.0 240.2h1.5v1.5h-1.5zM237.1 182.2h1.5v1.5h-1.5zM213.2 279.7h1.5v1.5h-1.5zM333.9 224.2h1.5v1.5h-1.5zM323.6 226.7h1.5v1.5h-1.5zM299.3 172.7h1.5v1.5h-1.5zM278.1 189.6h1.5v1.5h-1.5zM247.2 269.2h1.5v1.5h-1.5zM232.0 173.7h1.5v1.5h-1.5zM291.2 250.2h1.5v1.5h-1.5zM299.8 236.6h1.5v1.5h-1.5zM279.2 258.6h1.5v1.5h-1.5zM285.2 253.1h1.5v1.5h-1.5zM228.5 284.9h1.5v1.5h-1.5zM297.9 256.5h1.5v1.5h-1.5zM298.9 179.3h1.5v1.5h-1.5zM248.5 191.0h1.5v1.5h-1.5zM313.5 261.2h1.5v1.5h-1.5zM294.1 263.5h1.5v1.5h-1.5zM325.2 233.5h1.5v1.5h-1.5zM233.4 186.1h1.5v1.5h-1.5zM309.6 252.7h1.5v1.5h-1.5zM297.5 275.0h1.5v1.5h-1.5zM325.3 195.3h1.5v1.5h-1.5zM217.8 263.4h1.5v1.5h-1.5zM289.4 186.2h1.5v1.5h-1.5zM289.3 274.0h1.5v1.5h-1.5zM323.4 260.3h1.5v1.5h-1.5zM277.1 275.9h1.5v1.5h-1.5zM225.3 285.3h1.5v1.5h-1.5zM298.1 183.4h1.5v1.5h-1.5zM274.2 268.9h1.5v1.5h-1.5zM305.3 273.9h1.5v1.5h-1.5zM321.5 227.5h1.5v1.5h-1.5zM320.1 210.3h1.5v1.5h-1.5zM326.1 215.3h1.5v1.5h-1.5zM305.4 253.8h1.5v1.5h-1.5zM278.2 271.2h1.5v1.5h-1.5zM319.5 248.6h1.5v1.5h-1.5zM220.2 189.3h1.5v1.5h-1.5zM266.3 286.1h1.5v1.5h-1.5zM271.6 198.0h1.5v1.5h-1.5zM206.8 172.9h1.5v1.5h-1.5zM324.2 238.6h1.5v1.5h-1.5zM323.5 239.8h1.5v1.5h-1.5zM330.7 210.1h1.5v1.5h-1.5zM330.4 228.5h1.5v1.5h-1.5zM301.6 260.4h1.5v1.5h-1.5zM287.7 177.4h1.5v1.5h-1.5zM337.7 178.4h1.5v1.5h-1.5zM306.8 244.8h1.5v1.5h-1.5zM313.8 229.8h1.5v1.5h-1.5zM327.3 234.3h1.5v1.5h-1.5zM330.2 216.1h1.5v1.5h-1.5zM300.5 251.4h1.5v1.5h-1.5zM301.4 262.1h1.5v1.5h-1.5zM217.5 282.8h1.5v1.5h-1.5zM301.4 276.5h1.5v1.5h-1.5zM209.6 280.9h1.5v1.5h-1.5zM227.9 278.7h1.5v1.5h-1.5zM312.3 201.9h1.5v1.5h-1.5zM250.1 282.2h1.5v1.5h-1.5zM207.5 196.9h1.5v1.5h-1.5zM308.2 201.8h1.5v1.5h-1.5zM348.8 261.3h1.5v1.5h-1.5zM264.5 186.4h1.5v1.5h-1.5zM279.8 177.8h1.5v1.5h-1.5zM348.3 228.3h1.5v1.5h-1.5zM299.3 232.6h1.5v1.5h-1.5zM251.0 259.3h1.5v1.5h-1.5zM221.0 182.6h1.5v1.5h-1.5zM260.2 278.0h1.5v1.5h-1.5z" fill="#198c82"/>
<path d="M295.9 214.6h1.5v1.5h-1.5zM210.8 237.7h1.5v1.5h-1.5zM263.6 228.5h1.5v1.5h-1.5zM229.1 265.5h1.5v1.5h-1.5zM212.5 255.1h1.5v1.5h-1.5zM269.4 256.9h1.5v1.5h-1.5zM222.8 198.9h1.5v1.5h-1.5zM304.4 199.6h1.5v1.5h-1.5zM271.5 217.9h1.5v1.5h-1.5zM225.6 204.3h1.5v1.5h-1.5zM299.2 206.7h1.5v1.5h-1.5zM218.6 207.9h1.5v1.5h-1.5zM245.6 218.1h1.5v1.5h-1.5zM250.8 201.2h1.5v1.5h-1.5zM264.4 231.7h1.5v1.5h-1.5zM241.0 249.9h1.5v1.5h-1.5zM272.4 232.0h1.5v1.5h-1.5zM303.6 220.8h1.5v1.5h-1.5zM307.9 209.9h1.5v1.5h-1.5zM220.5 233.8h1.5v1.5h-1.5zM251.6 253.1h1.5v1.5h-1.5zM214.6 201.0h1.5v1.5h-1.5zM262.6 208.9h1.5v1.5h-1.5zM297.1 199.4h1.5v1.5h-1.5zM247.9 207.5h1.5v1.5h-1.5zM284.6 245.0h1.5v1.5h-1.5zM295.9 240.8h1.5v1.5h-1.5zM258.0 208.2h1.5v1.5h-1.5zM296.5 207.9h1.5v1.5h-1.5zM241.1 240.5h1.5v1.5h-1.5zM227.2 226.8h1.5v1.5h-1.5z" fill="#70b52f"/>
<path d="M237.2 190.5h1.5v1.5h-1.5zM272.8 232.6h1.5v1.5h-1.5zM270.9 277.0h1.5v1.5h-1.5zM207.4 195.2h1.5v1.5h-1.5zM308.0 208.2h1.5v1.5h-1.5zM284.9 209.9h1.5v1.5h-1.5zM292.5 270.8h1.5v1.5h-1.5zM324.4 241.8h1.5v1.5h-1.5zM316.6 231.8h1.5v1.5h-1.5zM315.9 183.3h1.5v1.5h-1.5zM230.5 256.9h1.5v1.5h-1.5zM284.3 210.8h1.5v1.5h-1.5zM292.7 282.4h1.5v1.5h-1.5zM285.9 242.4h1.5v1.5h-1.5zM274.3 188.8h1.5v1.5h-1.5zM262.5 258.3h1.5v1.5h-1.5zM304.2 202.3h1.5v1.5h-1.5zM238.9 257.8h1.5v1.5h-1.5zM271.0 230.6h1.5v1.5h-1.5zM303.0 190.8h1.5v1.5h-1.5zM295.3 213.9h1.5v1.5h-1.5zM327.3 195.8h1.5v1.5h-1.5zM230.9 254.3h1.5v1.5h-1.5zM297.8 226.8h1.5v1.5h-1.5zM236.2 251.7h1.5v1.5h-1.5zM307.8 235.8h1.5v1.5h-1.5zM282.1 208.4h1.5v1.5h-1.5zM234.8 288.8h1.5v1.5h-1.5zM261.7 274.7h1.5v1.5h-1.5zM303.0 213.1h1.5v1.5h-1.5zM244.2 221.6h1.5v1.5h-1.5zM245.7 246.5h1.5v1.5h-1.5zM298.0 193.5h1.5v1.5h-1.5zM322.3 208.7h1.5v1.5h-1.5zM304.5 214.9h1.5v1.5h-1.5zM246.4 285.0h1.5v1.5h-1.5zM310.0 227.7h1.5v1.5h-1.5zM259.2 175.4h1.5v1.5h-1.5zM317.6 198.9h1.5v1.5h-1.5zM289.4 196.0h1.5v1.5h-1.5zM309.2 245.5h1.5v1.5h-1.5zM227.9 195.3h1.5v1.5h-1.5zM227.1 261.0h1.5v1.5h-1.5zM284.1 260.6h1.5v1.5h-1.5zM287.2 262.5h1.5v1.5h-1.5zM304.2 178.9h1.5v1.5h-1.5zM280.1 285.1h1.5v1.5h-1.5zM214.6 290.3h1.5v1.5h-1.5zM267.1 238.3h1.5v1.5h-1.5zM212.4 239.7h1.5v1.5h-1.5zM251.0 255.2h1.5v1.5h-1.5zM259.4 275.2h1.5v1.5h-1.5zM239.1 190.7h1.5v1.5h-1.5zM305.7 266.2h1.5v1.5h-1.5zM268.7 226.9h1.5v1.5h-1.5zM268.7 268.8h1.5v1.5h-1.5zM258.7 188.0h1.5v1.5h-1.5zM232.0 181.8h1.5v1.5h-1.5zM280.0 227.8h1.5v1.5h-1.5zM267.3 274.6h1.5v1.5h-1.5zM293.3 217.9h1.5v1.5h-1.5zM241.7 253.3h1.5v1.5h-1.5zM270.2 263.1h1.5v1.5h-1.5zM293.8 211.2h1.5v1.5h-1.5zM271.3 214.5h1.5v1.5h-1.5zM317.1 240.2h1.5v1.5h-1.5zM305.7 249.4h1.5v1.5h-1.5zM254.8 283.8h1.5v1.5h-1.5zM264.3 261.3h1.5v1.5h-1.5zM326.8 200.0h1.5v1.5h-1.5zM302.7 191.2h1.5v1.5h-1.5zM313.2 218.5h1.5v1.5h-1.5zM265.4 187.9h1.5v1.5h-1.5zM262.4 283.1h1.5v1.5h-1.5zM265.8 183.4h1.5v1.5h-1.5zM286.5 281.5h1.5v1.5h-1.5zM311.1 263.7h1.5v1.5h-1.5zM213.5 234.4h1.5v1.5h-1.5zM321.3 259.6h1.5v1.5h-1.5zM279.4 279.9h1.5v1.5h-1.5zM300.4 209.5h1.5v1.5h-1.5zM274.9 241.3h1.5v1.5h-1.5zM241.1 174.3h1.5v1.5h-1.5zM288.5 212.0h1.5v1.5h-1.5zM253.4 177.8h1.5v1.5h-1.5zM283.5 232.1h1.5v1.5h-1.5zM220.4 277.9h1.5v1.5h-1.5zM321.7 215.1h1.5v1.5h-1.5zM280.5 196.7h1.5v1.5h-1.5zM303.5 266.6h1.5v1.5h-1.5zM308.8 241.8h1.5v1.5h-1.5zM281.5 281.8h1.5v1.5h-1.5zM265.7 277.9h1.5v1.5h-1.5zM268.6 256.6h1.5v1.5h-1.5zM212.2 278.7h1.5v1.5h-1.5zM296.6 181.3h1.5v1.5h-1.5zM307.5 253.6h1.5v1.5h-1.5zM266.6 183.6h1.5v1.5h-1.5zM223.5 255.6h1.5v1.5h-1.5zM240.6 283.5h1.5v1.5h-1.5zM325.2 213.1h1.5v1.5h-1.5zM320.2 247.0h1.5v1.5h-1.5zM222.7 232.0h1.5v1.5h-1.5zM324.5 190.4h1.5v1.5h-1.5zM248.3 281.4h1.5v1.5h-1.5zM293.4 265.4h1.5v1.5h-1.5zM298.1 237.6h1.5v1.5h-1.5zM246.8 275.7h1.5v1.5h-1.5zM302.1 183.7h1.5v1.5h-1.5zM262.5 264.7h1.5v1.5h-1.5zM253.4 192.1h1.5v1.5h-1.5zM310.0 237.2h1.5v1.5h-1.5zM217.8 196.8h1.5v1.5h-1.5zM315.5 233.6h1.5v1.5h-1.5zM279.6 278.3h1.5v1.5h-1.5zM266.2 178.9h1.5v1.5h-1.5zM223.4 284.9h1.5v1.5h-1.5zM310.4 219.8h1.5v1.5h-1.5zM263.8 285.1h1.5v1.5h-1.5zM301.1 247.0h1.5v1.5h-1.5zM296.7 215.5h1.5v1.5h-1.5zM257.8 195.6h1.5v1.5h-1.5zM230.0 196.0h1.5v1.5h-1.5zM238.0 253.9h1.5v1.5h-1.5zM277.9 184.2h1.5v1.5h-1.5zM323.9 219.6h1.5v1.5h-1.5zM266.6 231.9h1.5v1.5h-1.5zM279.6 260.1h1.5v1.5h-1.5zM245.7 189.2h1.5v1.5h-1.5zM280.9 210.3h1.5v1.5h-1.5zM309.6 262.6h1.5v1.5h-1.5zM215.6 254.9h1.5v1.5h-1.5zM274.2 280.7h1.5v1.5h-1.5zM259.3 265.8h1.5v1.5h-1.5zM216.6 225.1h1.5v1.5h-1.5zM302.4 227.7h1.5v1.5h-1.5zM292.2 209.5h1.5v1.5h-1.5zM228.6 289.5h1.5v1.5h-1.5zM233.8 261.9h1.5v1.5h-1.5zM280.1 241.7h1.5v1.5h-1.5zM313.2 265.0h1.5v1.5h-1.5zM290.6 183.3h1.5v1.5h-1.5zM230.2 262.8h1.5v1.5h-1.5zM259.8 280.2h1.5v1.5h-1.5zM290.4 256.2h1.5v1.5h-1.5zM244.8 259.1h1.5v1.5h-1.5zM206.6 180.9h1.5v1.5h-1.5zM295.7 213.6h1.5v1.5h-1.5zM269.2 243.4h1.5v1.5h-1.5zM231.7 267.4h1.5v1.5h-1.5zM320.3 243.2h1.5v1.5h-1.5zM274.6 190.7h1.5v1.5h-1.5zM296.8 212.2h1.5v1.5h-1.5zM281.1 229.5h1.5v1.5h-1.5z" fill="#2a9a5a"/>
<path d="M306.7 186.1h1.5v1.5h-1.5zM302.6 178.0h1.5v1.5h-1.5zM261.0 172.0h1.5v1.5h-1.5zM268.6 190.5h1.5v1.5h-1.5zM231.1 216.1h1.5v1.5h-1.5zM255.5 159.6h1.5v1.5h-1.5zM267.5 183.7h1.5v1.5h-1.5zM235.5 173.5h1.5v1.5h-1.5zM248.3 289.0h1.5v1.5h-1.5zM287.1 196.1h1.5v1.5h-1.5zM224.7 291.4h1.5v1.5h-1.5zM282.8 286.7h1.5v1.5h-1.5zM255.6 181.2h1.5v1.5h-1.5zM222.7 185.8h1.5v1.5h-1.5zM209.0 185.4h1.5v1.5h-1.5zM208.2 248.2h1.5v1.5h-1.5zM274.7 290.6h1.5v1.5h-1.5zM281.5 194.6h1.5v1.5h-1.5z" fill="#8cc337"/>
<path d="M328.3 219.6h1.5v1.5h-1.5zM280.8 277.4h1.5v1.5h-1.5zM300.0 234.8h1.5v1.5h-1.5zM335.1 225.7h1.5v1.5h-1.5zM303.0 278.3h1.5v1.5h-1.5zM223.5 281.1h1.5v1.5h-1.5zM330.5 216.2h1.5v1.5h-1.5zM269.9 285.4h1.5v1.5h-1.5zM304.7 239.2h1.5v1.5h-1.5zM276.0 286.3h1.5v1.5h-1.5zM324.4 220.5h1.5v1.5h-1.5zM227.8 286.6h1.5v1.5h-1.5zM208.7 288.0h1.5v1.5h-1.5zM299.5 177.5h1.5v1.5h-1.5zM319.6 249.3h1.5v1.5h-1.5zM288.1 283.9h1.5v1.5h-1.5zM293.1 278.2h1.5v1.5h-1.5zM328.5 206.6h1.5v1.5h-1.5zM314.5 277.8h1.5v1.5h-1.5zM325.8 253.4h1.5v1.5h-1.5zM289.1 257.1h1.5v1.5h-1.5zM284.9 257.5h1.5v1.5h-1.5zM320.6 247.3h1.5v1.5h-1.5zM272.8 174.6h1.5v1.5h-1.5zM297.4 266.3h1.5v1.5h-1.5zM255.2 286.0h1.5v1.5h-1.5zM312.5 240.8h1.5v1.5h-1.5zM291.2 277.7h1.5v1.5h-1.5zM214.7 281.9h1.5v1.5h-1.5zM307.3 263.0h1.5v1.5h-1.5zM317.9 211.5h1.5v1.5h-1.5zM296.1 268.3h1.5v1.5h-1.5zM302.5 266.9h1.5v1.5h-1.5zM226.8 253.8h1.5v1.5h-1.5zM335.7 247.4h1.5v1.5h-1.5zM298.0 277.4h1.5v1.5h-1.5zM258.3 279.7h1.5v1.5h-1.5zM325.4 214.1h1.5v1.5h-1.5zM263.3 285.2h1.5v1.5h-1.5zM263.0 284.5h1.5v1.5h-1.5zM321.9 231.1h1.5v1.5h-1.5zM287.9 272.6h1.5v1.5h-1.5zM325.8 228.0h1.5v1.5h-1.5zM319.9 229.4h1.5v1.5h-1.5zM321.7 205.2h1.5v1.5h-1.5zM332.9 235.2h1.5v1.5h-1.5zM310.5 271.6h1.5v1.5h-1.5zM321.2 270.4h1.5v1.5h-1.5zM220.5 287.7h1.5v1.5h-1.5zM310.5 278.3h1.5v1.5h-1.5zM275.2 278.7h1.5v1.5h-1.5zM277.1 283.2h1.5v1.5h-1.5zM320.1 202.4h1.5v1.5h-1.5zM321.7 239.5h1.5v1.5h-1.5zM330.0 216.6h1.5v1.5h-1.5zM265.8 283.4h1.5v1.5h-1.5zM321.9 221.8h1.5v1.5h-1.5zM324.1 231.6h1.5v1.5h-1.5zM207.4 280.4h1.5v1.5h-1.5zM332.0 222.2h1.5v1.5h-1.5zM331.4 219.0h1.5v1.5h-1.5zM318.7 249.7h1.5v1.5h-1.5zM300.7 272.8h1.5v1.5h-1.5zM296.6 168.5h1.5v1.5h-1.5zM281.9 185.8h1.5v1.5h-1.5zM328.3 199.0h1.5v1.5h-1.5zM311.5 265.2h1.5v1.5h-1.5zM296.1 195.4h1.5v1.5h-1.5zM263.1 193.2h1.5v1.5h-1.5zM315.1 185.4h1.5v1.5h-1.5zM338.1 199.0h1.5v1.5h-1.5zM302.3 256.3h1.5v1.5h-1.5zM303.2 237.2h1.5v1.5h-1.5zM321.4 236.6h1.5v1.5h-1.5zM322.1 243.0h1.5v1.5h-1.5zM262.4 277.6h1.5v1.5h-1.5zM316.8 234.9h1.5v1.5h-1.5zM294.8 251.0h1.5v1.5h-1.5zM270.7 280.0h1.5v1.5h-1.5zM280.8 277.9h1.5v1.5h-1.5zM330.8 193.9h1.5v1.5h-1.5zM279.0 282.8h1.5v1.5h-1.5zM312.4 257.6h1.5v1.5h-1.5zM284.4 277.7h1.5v1.5h-1.5zM282.9 278.3h1.5v1.5h-1.5zM220.7 290.1h1.5v1.5h-1.5zM219.4 273.6h1.5v1.5h-1.5zM307.3 259.5h1.5v1.5h-1.5zM208.8 291.4h1.5v1.5h-1.5zM315.6 251.9h1.5v1.5h-1.5zM254.9 283.6h1.5v1.5h-1.5zM315.7 261.1h1.5v1.5h-1.5zM320.6 240.3h1.5v1.5h-1.5zM328.3 227.0h1.5v1.5h-1.5zM312.8 163.3h1.5v1.5h-1.5zM334.4 212.5h1.5v1.5h-1.5zM231.5 279.0h1.5v1.5h-1.5zM325.7 238.2h1.5v1.5h-1.5zM330.7 240.5h1.5v1.5h-1.5zM298.1 280.6h1.5v1.5h-1.5zM316.7 217.0h1.5v1.5h-1.5zM320.8 245.2h1.5v1.5h-1.5zM314.4 275.1h1.5v1.5h-1.5zM324.6 242.0h1.5v1.5h-1.5zM280.6 266.9h1.5v1.5h-1.5zM320.4 265.1h1.5v1.5h-1.5zM290.2 280.9h1.5v1.5h-1.5zM332.6 222.9h1.5v1.5h-1.5zM233.6 287.4h1.5v1.5h-1.5zM327.4 199.1h1.5v1.5h-1.5zM210.6 272.1h1.5v1.5h-1.5zM298.7 267.5h1.5v1.5h-1.5zM301.0 271.2h1.5v1.5h-1.5zM340.4 213.2h1.5v1.5h-1.5zM248.9 187.9h1.5v1.5h-1.5zM291.4 267.3h1.5v1.5h-1.5zM234.8 282.4h1.5v1.5h-1.5zM290.7 277.4h1.5v1.5h-1.5zM214.3 289.4h1.5v1.5h-1.5zM324.6 227.6h1.5v1.5h-1.5zM287.1 281.8h1.5v1.5h-1.5zM306.7 279.7h1.5v1.5h-1.5zM243.3 289.0h1.5v1.5h-1.5zM325.8 209.8h1.5v1.5h-1.5zM311.5 254.8h1.5v1.5h-1.5zM315.5 250.9h1.5v1.5h-1.5zM347.1 227.7h1.5v1.5h-1.5zM334.9 226.1h1.5v1.5h-1.5zM320.6 174.1h1.5v1.5h-1.5zM292.5 275.9h1.5v1.5h-1.5zM303.2 277.4h1.5v1.5h-1.5zM303.0 262.5h1.5v1.5h-1.5zM322.0 250.6h1.5v1.5h-1.5zM319.4 233.1h1.5v1.5h-1.5zM332.5 273.5h1.5v1.5h-1.5zM329.5 240.4h1.5v1.5h-1.5zM234.1 286.0h1.5v1.5h-1.5zM308.9 232.0h1.5v1.5h-1.5zM292.7 284.1h1.5v1.5h-1.5zM271.3 280.5h1.5v1.5h-1.5zM281.0 174.8h1.5v1.5h-1.5zM324.2 256.9h1.5v1.5h-1.5zM240.5 249.4h1.5v1.5h-1.5zM322.7 210.6h1.5v1.5h-1.5zM318.4 255.0h1.5v1.5h-1.5zM329.5 212.1h1.5v1.5h-1.5zM316.6 217.4h1.5v1.5h-1.5zM281.0 251.4h1.5v1.5h-1.5zM321.5 253.5h1.5v1.5h-1.5zM284.4 277.2h1.5v1.5h-1.5zM222.0 289.6h1.5v1.5h-1.5zM330.5 238.8h1.5v1.5h-1.5zM292.8 277.7h1.5v1.5h-1.5zM276.7 236.4h1.5v1.5h-1.5zM224.5 183.4h1.5v1.5h-1.5zM282.0 276.2h1.5v1.5h-1.5zM239.4 278.0h1.5v1.5h-1.5zM310.4 236.8h1.5v1.5h-1.5zM332.5 196.2h1.5v1.5h-1.5zM321.1 202.9h1.5v1.5h-1.5zM310.7 227.7h1.5v1.5h-1.5zM269.7 240.0h1.5v1.5h-1.5zM295.9 217.1h1.5v1.5h-1.5zM288.6 282.4h1.5v1.5h-1.5zM240.7 287.4h1.5v1.5h-1.5zM310.2 266.5h1.5v1.5h-1.5zM319.9 252.7h1.5v1.5h-1.5zM214.5 289.1h1.5v1.5h-1.5zM328.7 201.6h1.5v1.5h-1.5zM333.8 221.3h1.5v1.5h-1.5zM329.5 199.5h1.5v1.5h-1.5zM305.1 286.1h1.5v1.5h-1.5zM258.8 284.5h1.5v1.5h-1.5zM314.8 245.3h1.5v1.5h-1.5zM214.0 178.4h1.5v1.5h-1.5zM314.1 252.5h1.5v1.5h-1.5zM319.6 253.6h1.5v1.5h-1.5zM310.2 248.4h1.5v1.5h-1.5zM291.3 268.0h1.5v1.5h-1.5zM298.3 259.2h1.5v1.5h-1.5zM325.0 233.7h1.5v1.5h-1.5zM221.7 287.9h1.5v1.5h-1.5zM313.2 242.9h1.5v1.5h-1.5zM309.2 259.8h1.5v1.5h-1.5zM269.9 233.9h1.5v1.5h-1.5zM309.6 265.8h1.5v1.5h-1.5zM284.5 258.3h1.5v1.5h-1.5zM323.6 208.5h1.5v1.5h-1.5zM326.9 203.8h1.5v1.5h-1.5zM328.8 217.8h1.5v1.5h-1.5zM327.4 197.9h1.5v1.5h-1.5zM281.5 259.2h1.5v1.5h-1.5zM323.2 239.9h1.5v1.5h-1.5zM322.7 228.6h1.5v1.5h-1.5zM327.3 197.1h1.5v1.5h-1.5zM277.9 179.3h1.5v1.5h-1.5zM293.6 269.8h1.5v1.5h-1.5zM309.6 265.6h1.5v1.5h-1.5zM322.7 232.1h1.5v1.5h-1.5zM309.6 263.2h1.5v1.5h-1.5zM327.4 183.9h1.5v1.5h-1.5zM304.9 276.3h1.5v1.5h-1.5zM219.8 279.2h1.5v1.5h-1.5zM321.8 206.0h1.5v1.5h-1.5zM325.1 233.1h1.5v1.5h-1.5zM262.1 280.0h1.5v1.5h-1.5zM323.3 200.7h1.5v1.5h-1.5zM208.4 285.1h1.5v1.5h-1.5zM309.7 266.8h1.5v1.5h-1.5zM335.5 218.6h1.5v1.5h-1.5zM298.1 270.8h1.5v1.5h-1.5zM280.2 263.8h1.5v1.5h-1.5zM319.3 198.2h1.5v1.5h-1.5zM320.6 281.2h1.5v1.5h-1.5zM217.4 282.8h1.5v1.5h-1.5zM279.7 271.7h1.5v1.5h-1.5zM292.6 282.6h1.5v1.5h-1.5zM297.3 277.7h1.5v1.5h-1.5zM324.1 239.3h1.5v1.5h-1.5zM214.0 283.6h1.5v1.5h-1.5zM293.3 270.2h1.5v1.5h-1.5zM316.1 249.3h1.5v1.5h-1.5zM315.0 278.8h1.5v1.5h-1.5zM305.3 276.8h1.5v1.5h-1.5zM219.9 290.6h1.5v1.5h-1.5zM331.5 227.5h1.5v1.5h-1.5zM310.6 198.3h1.5v1.5h-1.5zM258.9 276.7h1.5v1.5h-1.5zM277.9 279.5h1.5v1.5h-1.5zM314.8 253.7h1.5v1.5h-1.5zM325.6 221.0h1.5v1.5h-1.5zM324.3 224.3h1.5v1.5h-1.5zM252.8 285.0h1.5v1.5h-1.5zM307.7 273.6h1.5v1.5h-1.5z" fill="#1e50a5"/>
<path d="M341.4 251.9h1.5v1.5h-1.5zM327.1 210.0h1.5v1.5h-1.5zM340.0 223.3h1.5v1.5h-1.5zM244.9 279.3h1.5v1.5h-1.5zM323.4 209.4h1.5v1.5h-1.5zM341.9 232.5h1.5v1.5h-1.5zM220.1 289.6h1.5v1.5h-1.5zM350.7 228.6h1.5v1.5h-1.5zM291.1 270.4h1.5v1.5h-1.5zM342.0 242.5h1.5v1.5h-1.5zM315.8 245.3h1.5v1.5h-1.5zM313.4 265.3h1.5v1.5h-1.5zM331.5 258.3h1.5v1.5h-1.5zM316.7 263.6h1.5v1.5h-1.5zM232.8 281.3h1.5v1.5h-1.5zM345.5 213.1h1.5v1.5h-1.5zM338.6 236.0h1.5v1.5h-1.5zM297.6 277.8h1.5v1.5h-1.5zM219.6 281.5h1.5v1.5h-1.5zM336.7 274.4h1.5v1.5h-1.5zM344.6 152.7h1.5v1.5h-1.5zM333.1 224.9h1.5v1.5h-1.5zM308.2 201.0h1.5v1.5h-1.5zM340.9 247.7h1.5v1.5h-1.5zM245.9 284.2h1.5v1.5h-1.5zM336.6 262.5h1.5v1.5h-1.5zM340.6 238.0h1.5v1.5h-1.5z" fill="#d8d820"/>
<path d="M220.9 262.0h1.5v1.5h-1.5zM256.1 233.1h1.5v1.5h-1.5zM301.8 206.3h1.5v1.5h-1.5zM260.3 234.8h1.5v1.5h-1.5zM282.9 216.5h1.5v1.5h-1.5zM284.6 217.8h1.5v1.5h-1.5zM208.7 271.3h1.5v1.5h-1.5zM206.4 209.8h1.5v1.5h-1.5zM285.9 237.5h1.5v1.5h-1.5zM264.4 254.7h1.5v1.5h-1.5zM240.6 261.7h1.5v1.5h-1.5zM257.4 206.8h1.5v1.5h-1.5zM229.2 219.8h1.5v1.5h-1.5zM223.2 232.0h1.5v1.5h-1.5zM300.4 206.7h1.5v1.5h-1.5zM240.5 269.2h1.5v1.5h-1.5zM261.5 201.7h1.5v1.5h-1.5zM263.6 235.2h1.5v1.5h-1.5zM278.4 204.1h1.5v1.5h-1.5zM226.8 269.9h1.5v1.5h-1.5zM231.4 210.0h1.5v1.5h-1.5zM207.3 277.2h1.5v1.5h-1.5zM209.6 274.0h1.5v1.5h-1.5zM281.0 220.4h1.5v1.5h-1.5zM274.1 202.6h1.5v1.5h-1.5zM206.4 266.4h1.5v1.5h-1.5zM220.5 243.6h1.5v1.5h-1.5zM251.4 249.3h1.5v1.5h-1.5zM222.1 243.1h1.5v1.5h-1.5zM282.2 224.4h1.5v1.5h-1.5zM245.0 237.4h1.5v1.5h-1.5zM212.5 253.8h1.5v1.5h-1.5zM249.9 240.7h1.5v1.5h-1.5z" fill="#70b52f"/>
<path d="M346.5 259.2h1.5v1.5h-1.5zM343.1 239.7h1.5v1.5h-1.5zM347.9 216.2h1.5v1.5h-1.5zM333.8 217.6h1.5v1.5h-1.5zM347.1 190.6h1.5v1.5h-1.5zM349.8 199.7h1.5v1.5h-1.5zM332.8 235.7h1.5v1.5h-1.5zM346.7 228.8h1.5v1.5h-1.5zM339.0 222.0h1.5v1.5h-1.5zM339.9 243.1h1.5v1.5h-1.5z" fill="#e0302a"/>
<path d="M251.7 183.3h1.5v1.5h-1.5zM258.9 299.4h1.5v1.5h-1.5zM269.0 288.5h1.5v1.5h-1.5zM268.9 292.0h1.5v1.5h-1.5zM216.8 184.0h1.5v1.5h-1.5zM298.7 184.7h1.5v1.5h-1.5zM312.3 192.5h1.5v1.5h-1.5zM262.0 171.6h1.5v1.5h-1.5zM209.6 196.2h1.5v1.5h-1.5zM236.5 290.2h1.5v1.5h-1.5zM215.7 168.1h1.5v1.5h-1.5zM211.5 177.2h1.5v1.5h-1.5zM305.1 189.3h1.5v1.5h-1.5zM241.9 172.5h1.5v1.5h-1.5zM222.0 215.2h1.5v1.5h-1.5zM305.6 186.4h1.5v1.5h-1.5zM230.1 186.0h1.5v1.5h-1.5zM289.3 184.6h1.5v1.5h-1.5zM274.7 171.9h1.5v1.5h-1.5zM282.5 189.0h1.5v1.5h-1.5zM224.9 166.9h1.5v1.5h-1.5zM219.0 180.9h1.5v1.5h-1.5zM227.7 193.9h1.5v1.5h-1.5zM253.5 195.9h1.5v1.5h-1.5z" fill="#8cc337"/>
<path d="M339.2 222.8h1.5v1.5h-1.5zM335.1 251.0h1.5v1.5h-1.5zM337.9 184.7h1.5v1.5h-1.5zM338.9 226.2h1.5v1.5h-1.5zM307.6 280.7h1.5v1.5h-1.5zM348.7 227.0h1.5v1.5h-1.5zM342.9 227.6h1.5v1.5h-1.5zM321.9 258.8h1.5v1.5h-1.5zM306.5 177.9h1.5v1.5h-1.5zM336.8 209.2h1.5v1.5h-1.5zM335.8 218.4h1.5v1.5h-1.5zM323.2 239.8h1.5v1.5h-1.5zM340.8 241.2h1.5v1.5h-1.5zM345.1 226.6h1.5v1.5h-1.5zM291.0 289.0h1.5v1.5h-1.5zM287.4 286.6h1.5v1.5h-1.5zM348.2 209.3h1.5v1.5h-1.5zM306.9 252.5h1.5v1.5h-1.5zM351.8 208.6h1.5v1.5h-1.5zM332.6 221.9h1.5v1.5h-1.5zM334.9 209.3h1.5v1.5h-1.5zM335.1 249.1h1.5v1.5h-1.5zM340.6 219.7h1.5v1.5h-1.5zM336.6 216.7h1.5v1.5h-1.5zM336.5 244.5h1.5v1.5h-1.5zM345.3 259.3h1.5v1.5h-1.5zM336.4 238.3h1.5v1.5h-1.5zM346.2 241.3h1.5v1.5h-1.5zM335.2 201.1h1.5v1.5h-1.5zM342.6 239.3h1.5v1.5h-1.5zM353.1 212.0h1.5v1.5h-1.5zM343.0 232.6h1.5v1.5h-1.5zM346.2 236.3h1.5v1.5h-1.5zM335.4 207.8h1.5v1.5h-1.5zM332.7 233.7h1.5v1.5h-1.5zM346.5 231.7h1.5v1.5h-1.5zM314.9 148.0h1.5v1.5h-1.5zM335.2 249.8h1.5v1.5h-1.5zM342.4 205.2h1.5v1.5h-1.5zM331.3 190.6h1.5v1.5h-1.5zM334.8 241.5h1.5v1.5h-1.5zM316.4 260.4h1.5v1.5h-1.5zM333.0 195.3h1.5v1.5h-1.5zM349.2 237.5h1.5v1.5h-1.5zM338.1 233.1h1.5v1.5h-1.5zM326.9 200.8h1.5v1.5h-1.5zM336.6 225.5h1.5v1.5h-1.5zM288.9 285.1h1.5v1.5h-1.5zM338.5 236.2h1.5v1.5h-1.5zM355.3 241.2h1.5v1.5h-1.5zM344.3 233.4h1.5v1.5h-1.5zM252.0 283.5h1.5v1.5h-1.5zM300.5 154.0h1.5v1.5h-1.5z" fill="#f08a1c"/>
<path d="M266.9 254.1h1.5v1.5h-1.5zM226.2 283.1h1.5v1.5h-1.5zM266.4 228.3h1.5v1.5h-1.5zM284.1 181.2h1.5v1.5h-1.5zM261.9 286.4h1.5v1.5h-1.5zM229.3 272.0h1.5v1.5h-1.5zM223.0 266.6h1.5v1.5h-1.5zM244.4 269.9h1.5v1.5h-1.5zM306.0 246.9h1.5v1.5h-1.5zM319.4 241.4h1.5v1.5h-1.5zM308.4 224.9h1.5v1.5h-1.5zM223.6 181.5h1.5v1.5h-1.5zM300.3 204.0h1.5v1.5h-1.5zM317.1 265.8h1.5v1.5h-1.5zM280.8 277.0h1.5v1.5h-1.5zM284.1 205.2h1.5v1.5h-1.5zM282.2 255.6h1.5v1.5h-1.5zM305.1 195.0h1.5v1.5h-1.5zM282.7 268.9h1.5v1.5h-1.5zM238.2 276.2h1.5v1.5h-1.5zM236.3 263.8h1.5v1.5h-1.5zM272.1 274.5h1.5v1.5h-1.5zM247.3 184.8h1.5v1.5h-1.5zM252.7 253.1h1.5v1.5h-1.5zM265.8 273.0h1.5v1.5h-1.5zM275.9 196.6h1.5v1.5h-1.5zM254.6 275.0h1.5v1.5h-1.5zM304.2 229.9h1.5v1.5h-1.5zM287.2 282.9h1.5v1.5h-1.5zM305.3 260.3h1.5v1.5h-1.5zM241.6 284.0h1.5v1.5h-1.5zM291.5 278.9h1.5v1.5h-1.5zM218.5 274.2h1.5v1.5h-1.5zM263.8 276.2h1.5v1.5h-1.5zM288.6 259.6h1.5v1.5h-1.5zM280.9 230.0h1.5v1.5h-1.5zM241.8 199.2h1.5v1.5h-1.5zM241.5 269.6h1.5v1.5h-1.5zM246.1 275.0h1.5v1.5h-1.5zM297.5 262.5h1.5v1.5h-1.5zM269.0 263.9h1.5v1.5h-1.5zM244.4 215.5h1.5v1.5h-1.5zM270.7 252.0h1.5v1.5h-1.5zM274.7 201.5h1.5v1.5h-1.5zM307.8 262.1h1.5v1.5h-1.5zM214.5 286.3h1.5v1.5h-1.5zM285.7 271.0h1.5v1.5h-1.5zM314.1 228.1h1.5v1.5h-1.5zM318.5 264.9h1.5v1.5h-1.5zM219.7 264.0h1.5v1.5h-1.5zM218.5 184.9h1.5v1.5h-1.5zM300.6 267.6h1.5v1.5h-1.5zM319.4 217.4h1.5v1.5h-1.5zM213.4 286.1h1.5v1.5h-1.5zM227.2 273.4h1.5v1.5h-1.5zM281.5 197.6h1.5v1.5h-1.5zM286.8 196.6h1.5v1.5h-1.5zM274.0 185.7h1.5v1.5h-1.5zM223.0 228.4h1.5v1.5h-1.5zM280.6 241.1h1.5v1.5h-1.5zM319.9 200.7h1.5v1.5h-1.5zM311.8 249.5h1.5v1.5h-1.5zM310.3 204.0h1.5v1.5h-1.5zM320.9 229.2h1.5v1.5h-1.5zM242.6 255.3h1.5v1.5h-1.5zM231.9 287.4h1.5v1.5h-1.5zM286.1 219.6h1.5v1.5h-1.5zM308.8 206.2h1.5v1.5h-1.5zM263.1 282.9h1.5v1.5h-1.5zM221.9 264.8h1.5v1.5h-1.5zM224.9 192.2h1.5v1.5h-1.5zM244.0 262.0h1.5v1.5h-1.5zM267.5 268.9h1.5v1.5h-1.5zM237.0 234.4h1.5v1.5h-1.5zM304.1 260.1h1.5v1.5h-1.5zM282.9 224.6h1.5v1.5h-1.5zM211.5 281.8h1.5v1.5h-1.5zM254.4 251.7h1.5v1.5h-1.5zM299.5 234.3h1.5v1.5h-1.5zM330.0 232.7h1.5v1.5h-1.5zM329.2 229.0h1.5v1.5h-1.5zM281.7 251.5h1.5v1.5h-1.5zM279.0 261.8h1.5v1.5h-1.5zM259.7 239.8h1.5v1.5h-1.5zM306.3 186.2h1.5v1.5h-1.5zM233.2 262.9h1.5v1.5h-1.5zM290.6 263.6h1.5v1.5h-1.5zM215.5 281.1h1.5v1.5h-1.5zM315.2 246.8h1.5v1.5h-1.5zM269.5 197.6h1.5v1.5h-1.5zM307.6 230.6h1.5v1.5h-1.5zM307.6 180.3h1.5v1.5h-1.5zM212.6 283.6h1.5v1.5h-1.5zM317.5 253.5h1.5v1.5h-1.5zM306.1 273.9h1.5v1.5h-1.5zM220.4 266.5h1.5v1.5h-1.5zM263.2 249.9h1.5v1.5h-1.5zM227.8 252.1h1.5v1.5h-1.5zM257.6 264.1h1.5v1.5h-1.5zM285.8 252.1h1.5v1.5h-1.5zM242.0 279.7h1.5v1.5h-1.5zM250.0 186.9h1.5v1.5h-1.5zM217.4 189.4h1.5v1.5h-1.5zM210.9 266.2h1.5v1.5h-1.5zM246.7 274.8h1.5v1.5h-1.5zM310.0 214.1h1.5v1.5h-1.5zM226.6 264.3h1.5v1.5h-1.5zM264.8 270.7h1.5v1.5h-1.5zM316.5 198.4h1.5v1.5h-1.5zM263.8 186.1h1.5v1.5h-1.5zM303.1 216.9h1.5v1.5h-1.5zM325.2 210.5h1.5v1.5h-1.5zM320.2 209.7h1.5v1.5h-1.5zM310.0 253.5h1.5v1.5h-1.5zM273.5 190.2h1.5v1.5h-1.5zM261.9 245.9h1.5v1.5h-1.5zM277.1 208.8h1.5v1.5h-1.5zM263.9 272.7h1.5v1.5h-1.5zM243.5 190.4h1.5v1.5h-1.5zM321.9 254.7h1.5v1.5h-1.5zM268.4 270.9h1.5v1.5h-1.5zM272.8 190.7h1.5v1.5h-1.5zM301.0 179.7h1.5v1.5h-1.5zM322.3 206.5h1.5v1.5h-1.5zM245.7 269.7h1.5v1.5h-1.5zM266.6 280.1h1.5v1.5h-1.5zM272.6 264.8h1.5v1.5h-1.5zM312.5 223.8h1.5v1.5h-1.5z" fill="#2a9a5a"/>
<path d="M216.2 295.8h1.5v1.5h-1.5zM224.8 169.6h1.5v1.5h-1.5zM324.4 190.5h1.5v1.5h-1.5zM238.3 179.1h1.5v1.5h-1.5zM332.5 192.5h1.5v1.5h-1.5zM248.7 191.6h1.5v1.5h-1.5zM212.6 187.5h1.5v1.5h-1.5zM331.4 233.9h1.5v1.5h-1.5zM264.5 176.6h1.5v1.5h-1.5zM304.6 197.0h1.5v1.5h-1.5zM290.2 191.5h1.5v1.5h-1.5zM231.3 300.4h1.5v1.5h-1.5zM243.8 164.7h1.5v1.5h-1.5zM310.2 173.4h1.5v1.5h-1.5zM241.5 196.1h1.5v1.5h-1.5zM243.1 195.5h1.5v1.5h-1.5zM275.1 189.3h1.5v1.5h-1.5zM219.9 195.3h1.5v1.5h-1.5zM287.3 184.8h1.5v1.5h-1.5zM211.0 295.5h1.5v1.5h-1.5zM240.9 195.5h1.5v1.5h-1.5zM259.1 174.2h1.5v1.5h-1.5zM253.6 190.0h1.5v1.5h-1.5zM328.6 253.9h1.5v1.5h-1.5zM212.6 176.8h1.5v1.5h-1.5zM234.8 163.7h1.5v1.5h-1.5zM278.6 174.5h1.5v1.5h-1.5zM215.1 165.2h1.5v1.5h-1.5zM273.1 169.2h1.5v1.5h-1.5zM272.9 181.8h1.5v1.5h-1.5zM260.2 186.4h1.5v1.5h-1.5zM237.6 190.9h1.5v1.5h-1.5zM294.2 192.4h1.5v1.5h-1.5zM257.5 196.6h1.5v1.5h-1.5zM328.0 271.5h1.5v1.5h-1.5zM271.0 191.5h1.5v1.5h-1.5zM337.1 193.4h1.5v1.5h-1.5zM229.7 292.0h1.5v1.5h-1.5zM260.1 290.7h1.5v1.5h-1.5zM328.5 258.8h1.5v1.5h-1.5zM244.5 181.6h1.5v1.5h-1.5zM255.0 179.5h1.5v1.5h-1.5zM251.8 177.9h1.5v1.5h-1.5zM275.5 190.4h1.5v1.5h-1.5zM270.8 176.1h1.5v1.5h-1.5zM272.1 172.4h1.5v1.5h-1.5zM335.2 234.3h1.5v1.5h-1.5zM285.3 292.7h1.5v1.5h-1.5zM287.5 286.2h1.5v1.5h-1.5zM267.3 191.7h1.5v1.5h-1.5zM315.4 280.0h1.5v1.5h-1.5zM324.7 178.0h1.5v1.5h-1.5zM314.7 274.7h1.5v1.5h-1.5zM311.3 161.0h1.5v1.5h-1.5zM223.4 193.6h1.5v1.5h-1.5zM298.4 296.7h1.5v1.5h-1.5zM226.3 194.6h1.5v1.5h-1.5zM327.9 187.0h1.5v1.5h-1.5zM259.5 194.6h1.5v1.5h-1.5zM259.8 191.6h1.5v1.5h-1.5zM233.7 179.8h1.5v1.5h-1.5zM325.8 180.0h1.5v1.5h-1.5zM278.5 173.9h1.5v1.5h-1.5zM256.9 192.5h1.5v1.5h-1.5zM283.2 195.6h1.5v1.5h-1.5zM215.7 182.7h1.5v1.5h-1.5zM248.3 188.6h1.5v1.5h-1.5zM327.7 246.6h1.5v1.5h-1.5zM258.9 169.3h1.5v1.5h-1.5zM253.4 192.6h1.5v1.5h-1.5zM342.1 182.3h1.5v1.5h-1.5zM222.2 177.9h1.5v1.5h-1.5zM211.6 183.7h1.5v1.5h-1.5zM249.8 166.2h1.5v1.5h-1.5zM320.0 186.0h1.5v1.5h-1.5zM307.5 179.3h1.5v1.5h-1.5z" fill="#289646"/>
<path d="M232.6 208.8h1.5v1.5h-1.5zM230.9 254.4h1.5v1.5h-1.5zM284.1 211.7h1.5v1.5h-1.5zM214.6 201.1h1.5v1.5h-1.5zM234.5 273.8h1.5v1.5h-1.5zM210.3 277.1h1.5v1.5h-1.5zM266.5 234.3h1.5v1.5h-1.5zM290.3 219.3h1.5v1.5h-1.5zM230.1 257.4h1.5v1.5h-1.5zM220.0 265.9h1.5v1.5h-1.5zM224.3 277.7h1.5v1.5h-1.5zM221.0 266.6h1.5v1.5h-1.5zM251.1 237.9h1.5v1.5h-1.5zM218.7 269.6h1.5v1.5h-1.5zM251.6 240.4h1.5v1.5h-1.5zM301.3 215.1h1.5v1.5h-1.5zM266.0 220.1h1.5v1.5h-1.5zM230.8 270.0h1.5v1.5h-1.5zM207.6 217.3h1.5v1.5h-1.5zM218.7 213.4h1.5v1.5h-1.5zM237.2 220.6h1.5v1.5h-1.5zM299.8 197.9h1.5v1.5h-1.5zM265.4 199.2h1.5v1.5h-1.5zM292.7 228.4h1.5v1.5h-1.5zM261.9 250.0h1.5v1.5h-1.5zM207.0 258.8h1.5v1.5h-1.5zM274.0 241.1h1.5v1.5h-1.5zM276.6 249.0h1.5v1.5h-1.5zM240.4 252.2h1.5v1.5h-1.5zM226.1 262.5h1.5v1.5h-1.5zM300.8 221.2h1.5v1.5h-1.5zM249.9 228.8h1.5v1.5h-1.5zM280.5 243.0h1.5v1.5h-1.5zM292.7 242.1h1.5v1.5h-1.5zM298.4 215.6h1.5v1.5h-1.5zM279.7 221.2h1.5v1.5h-1.5zM281.4 247.9h1.5v1.5h-1.5zM273.7 202.2h1.5v1.5h-1.5zM284.2 238.0h1.5v1.5h-1.5zM233.7 248.0h1.5v1.5h-1.5zM277.3 219.1h1.5v1.5h-1.5z" fill="#56a834"/>
<path d="M306.1 196.5h1.5v1.5h-1.5zM207.7 189.6h1.5v1.5h-1.5zM307.1 264.2h1.5v1.5h-1.5zM276.9 281.2h1.5v1.5h-1.5zM322.6 181.7h1.5v1.5h-1.5zM239.9 182.3h1.5v1.5h-1.5zM321.5 250.0h1.5v1.5h-1.5zM209.9 180.7h1.5v1.5h-1.5zM243.3 165.6h1.5v1.5h-1.5zM217.1 174.7h1.5v1.5h-1.5zM210.4 184.4h1.5v1.5h-1.5zM290.2 264.0h1.5v1.5h-1.5zM317.1 271.4h1.5v1.5h-1.5zM210.2 175.2h1.5v1.5h-1.5zM294.5 255.2h1.5v1.5h-1.5zM268.7 288.0h1.5v1.5h-1.5zM226.6 294.1h1.5v1.5h-1.5zM237.3 183.8h1.5v1.5h-1.5zM322.5 211.8h1.5v1.5h-1.5zM324.6 196.8h1.5v1.5h-1.5zM302.3 255.8h1.5v1.5h-1.5zM244.7 196.8h1.5v1.5h-1.5zM310.9 259.4h1.5v1.5h-1.5zM304.2 255.3h1.5v1.5h-1.5zM274.7 187.4h1.5v1.5h-1.5zM236.0 282.7h1.5v1.5h-1.5zM214.8 174.4h1.5v1.5h-1.5zM228.4 172.9h1.5v1.5h-1.5zM261.8 171.2h1.5v1.5h-1.5zM252.1 177.5h1.5v1.5h-1.5zM324.0 188.0h1.5v1.5h-1.5zM214.1 171.2h1.5v1.5h-1.5zM242.3 285.9h1.5v1.5h-1.5zM279.6 262.0h1.5v1.5h-1.5zM333.2 212.5h1.5v1.5h-1.5zM337.3 192.0h1.5v1.5h-1.5zM304.0 281.0h1.5v1.5h-1.5zM217.3 191.6h1.5v1.5h-1.5zM258.6 184.1h1.5v1.5h-1.5zM295.1 178.3h1.5v1.5h-1.5zM334.8 271.7h1.5v1.5h-1.5zM246.4 174.9h1.5v1.5h-1.5zM288.1 270.6h1.5v1.5h-1.5zM321.4 186.5h1.5v1.5h-1.5zM251.4 173.4h1.5v1.5h-1.5zM295.4 264.3h1.5v1.5h-1.5zM220.9 296.9h1.5v1.5h-1.5zM280.6 194.9h1.5v1.5h-1.5zM324.3 230.9h1.5v1.5h-1.5zM247.6 193.2h1.5v1.5h-1.5zM310.4 234.2h1.5v1.5h-1.5zM285.0 283.9h1.5v1.5h-1.5zM299.6 178.7h1.5v1.5h-1.5zM302.0 179.2h1.5v1.5h-1.5zM317.3 211.2h1.5v1.5h-1.5zM220.9 297.2h1.5v1.5h-1.5zM247.8 194.2h1.5v1.5h-1.5zM271.3 280.8h1.5v1.5h-1.5zM326.9 217.1h1.5v1.5h-1.5zM324.0 182.0h1.5v1.5h-1.5zM264.0 284.4h1.5v1.5h-1.5zM314.4 214.8h1.5v1.5h-1.5zM310.3 197.2h1.5v1.5h-1.5zM315.5 232.0h1.5v1.5h-1.5zM217.3 280.4h1.5v1.5h-1.5zM244.3 156.4h1.5v1.5h-1.5zM331.7 228.6h1.5v1.5h-1.5zM277.2 294.6h1.5v1.5h-1.5zM303.0 275.5h1.5v1.5h-1.5zM331.0 226.4h1.5v1.5h-1.5zM278.3 190.1h1.5v1.5h-1.5zM316.0 205.4h1.5v1.5h-1.5zM293.0 254.6h1.5v1.5h-1.5zM277.0 179.7h1.5v1.5h-1.5zM325.2 274.6h1.5v1.5h-1.5zM318.7 217.1h1.5v1.5h-1.5zM224.9 190.5h1.5v1.5h-1.5zM323.3 202.1h1.5v1.5h-1.5zM325.3 210.5h1.5v1.5h-1.5zM273.8 192.2h1.5v1.5h-1.5zM207.6 288.1h1.5v1.5h-1.5zM299.5 188.7h1.5v1.5h-1.5zM226.2 290.2h1.5v1.5h-1.5zM322.9 215.8h1.5v1.5h-1.5zM245.9 184.1h1.5v1.5h-1.5zM233.8 295.5h1.5v1.5h-1.5zM320.2 227.1h1.5v1.5h-1.5zM335.8 215.8h1.5v1.5h-1.5zM313.3 271.5h1.5v1.5h-1.5zM225.5 187.7h1.5v1.5h-1.5zM217.4 281.8h1.5v1.5h-1.5zM277.4 183.9h1.5v1.5h-1.5zM328.2 228.7h1.5v1.5h-1.5zM240.6 177.6h1.5v1.5h-1.5zM232.4 171.2h1.5v1.5h-1.5zM259.4 191.1h1.5v1.5h-1.5zM217.4 170.6h1.5v1.5h-1.5zM270.8 289.8h1.5v1.5h-1.5zM312.2 217.1h1.5v1.5h-1.5zM264.8 171.3h1.5v1.5h-1.5zM247.0 291.5h1.5v1.5h-1.5zM212.8 279.5h1.5v1.5h-1.5zM268.6 291.6h1.5v1.5h-1.5zM331.6 184.2h1.5v1.5h-1.5zM286.0 177.2h1.5v1.5h-1.5zM286.0 284.6h1.5v1.5h-1.5zM367.4 214.9h1.5v1.5h-1.5zM283.7 170.7h1.5v1.5h-1.5zM292.0 289.7h1.5v1.5h-1.5zM247.5 184.5h1.5v1.5h-1.5zM280.4 265.8h1.5v1.5h-1.5zM308.6 224.4h1.5v1.5h-1.5zM333.0 237.4h1.5v1.5h-1.5zM267.1 172.9h1.5v1.5h-1.5zM282.7 185.1h1.5v1.5h-1.5zM283.7 174.0h1.5v1.5h-1.5zM332.1 207.8h1.5v1.5h-1.5zM328.8 195.7h1.5v1.5h-1.5zM248.1 187.9h1.5v1.5h-1.5zM261.3 173.5h1.5v1.5h-1.5zM221.9 178.9h1.5v1.5h-1.5zM300.9 186.9h1.5v1.5h-1.5zM210.9 191.6h1.5v1.5h-1.5zM266.2 194.7h1.5v1.5h-1.5zM280.5 262.8h1.5v1.5h-1.5zM299.0 186.8h1.5v1.5h-1.5zM309.3 210.3h1.5v1.5h-1.5zM244.8 171.4h1.5v1.5h-1.5zM245.6 190.9h1.5v1.5h-1.5zM257.3 274.0h1.5v1.5h-1.5zM287.7 287.9h1.5v1.5h-1.5zM286.6 136.3h1.5v1.5h-1.5zM298.4 193.0h1.5v1.5h-1.5z" fill="#5faa32"/>
<path d="M241.2 300.5h1.5v1.5h-1.5zM248.4 247.8h1.5v1.5h-1.5zM292.1 265.9h1.5v1.5h-1.5zM294.8 256.5h1.5v1.5h-1.5zM261.2 277.1h1.5v1.5h-1.5zM312.6 198.2h1.5v1.5h-1.5zM275.0 225.5h1.5v1.5h-1.5zM324.9 227.9h1.5v1.5h-1.5zM302.9 284.8h1.5v1.5h-1.5zM287.7 270.2h1.5v1.5h-1.5zM208.4 174.8h1.5v1.5h-1.5zM325.1 248.2h1.5v1.5h-1.5zM295.5 268.5h1.5v1.5h-1.5zM255.3 284.7h1.5v1.5h-1.5zM297.5 248.3h1.5v1.5h-1.5zM318.2 209.6h1.5v1.5h-1.5zM236.6 180.0h1.5v1.5h-1.5zM311.8 273.1h1.5v1.5h-1.5zM325.5 207.8h1.5v1.5h-1.5zM243.3 291.3h1.5v1.5h-1.5zM296.9 211.5h1.5v1.5h-1.5zM254.9 283.1h1.5v1.5h-1.5zM275.9 217.8h1.5v1.5h-1.5zM312.3 259.2h1.5v1.5h-1.5zM296.7 252.9h1.5v1.5h-1.5zM304.0 278.7h1.5v1.5h-1.5zM314.5 258.4h1.5v1.5h-1.5zM279.5 177.0h1.5v1.5h-1.5zM277.7 282.4h1.5v1.5h-1.5zM263.4 182.6h1.5v1.5h-1.5zM262.2 262.7h1.5v1.5h-1.5zM277.0 269.2h1.5v1.5h-1.5zM273.3 271.7h1.5v1.5h-1.5zM291.0 183.0h1.5v1.5h-1.5zM347.8 233.9h1.5v1.5h-1.5zM246.8 179.8h1.5v1.5h-1.5zM308.2 275.3h1.5v1.5h-1.5zM295.5 247.9h1.5v1.5h-1.5zM277.1 193.6h1.5v1.5h-1.5zM261.7 189.9h1.5v1.5h-1.5zM311.2 238.0h1.5v1.5h-1.5zM267.9 276.5h1.5v1.5h-1.5zM336.1 250.6h1.5v1.5h-1.5zM208.9 278.0h1.5v1.5h-1.5zM324.6 200.0h1.5v1.5h-1.5zM302.3 222.3h1.5v1.5h-1.5zM324.5 251.9h1.5v1.5h-1.5zM219.9 195.2h1.5v1.5h-1.5zM306.7 272.9h1.5v1.5h-1.5zM275.6 245.5h1.5v1.5h-1.5zM308.5 205.7h1.5v1.5h-1.5zM258.3 195.4h1.5v1.5h-1.5zM342.8 233.0h1.5v1.5h-1.5zM268.7 193.3h1.5v1.5h-1.5zM282.8 260.7h1.5v1.5h-1.5zM282.4 281.8h1.5v1.5h-1.5zM294.5 251.8h1.5v1.5h-1.5zM268.8 196.8h1.5v1.5h-1.5zM323.3 185.1h1.5v1.5h-1.5zM279.8 209.0h1.5v1.5h-1.5zM316.9 192.6h1.5v1.5h-1.5zM218.1 283.4h1.5v1.5h-1.5zM316.7 249.6h1.5v1.5h-1.5zM301.3 274.2h1.5v1.5h-1.5zM304.1 267.7h1.5v1.5h-1.5zM328.0 220.0h1.5v1.5h-1.5zM227.1 196.8h1.5v1.5h-1.5zM313.5 265.1h1.5v1.5h-1.5zM223.8 271.2h1.5v1.5h-1.5zM267.6 187.6h1.5v1.5h-1.5zM305.8 284.1h1.5v1.5h-1.5zM328.4 191.5h1.5v1.5h-1.5zM323.7 211.9h1.5v1.5h-1.5zM301.9 129.0h1.5v1.5h-1.5zM307.9 263.7h1.5v1.5h-1.5zM344.5 222.6h1.5v1.5h-1.5zM219.0 293.2h1.5v1.5h-1.5zM284.4 173.1h1.5v1.5h-1.5zM298.4 269.5h1.5v1.5h-1.5zM282.9 270.1h1.5v1.5h-1.5zM315.4 237.7h1.5v1.5h-1.5zM285.4 190.9h1.5v1.5h-1.5zM248.5 285.8h1.5v1.5h-1.5zM291.2 280.3h1.5v1.5h-1.5zM312.3 264.4h1.5v1.5h-1.5zM304.6 278.5h1.5v1.5h-1.5zM273.8 282.8h1.5v1.5h-1.5zM314.2 260.2h1.5v1.5h-1.5zM325.5 241.4h1.5v1.5h-1.5zM326.5 210.8h1.5v1.5h-1.5zM267.1 282.1h1.5v1.5h-1.5zM230.8 178.4h1.5v1.5h-1.5zM329.5 229.1h1.5v1.5h-1.5zM250.3 187.5h1.5v1.5h-1.5zM282.6 277.0h1.5v1.5h-1.5zM253.9 284.4h1.5v1.5h-1.5zM304.2 257.4h1.5v1.5h-1.5zM300.3 187.8h1.5v1.5h-1.5zM210.4 284.0h1.5v1.5h-1.5zM207.4 254.1h1.5v1.5h-1.5zM322.0 220.1h1.5v1.5h-1.5zM227.5 193.4h1.5v1.5h-1.5zM283.7 282.0h1.5v1.5h-1.5zM300.7 247.3h1.5v1.5h-1.5zM266.3 171.3h1.5v1.5h-1.5zM229.3 162.2h1.5v1.5h-1.5zM313.8 249.1h1.5v1.5h-1.5zM309.0 204.8h1.5v1.5h-1.5zM298.9 271.9h1.5v1.5h-1.5zM320.6 193.0h1.5v1.5h-1.5zM289.6 258.0h1.5v1.5h-1.5zM220.6 282.3h1.5v1.5h-1.5zM278.7 174.1h1.5v1.5h-1.5zM336.3 229.7h1.5v1.5h-1.5zM322.7 249.9h1.5v1.5h-1.5zM280.3 202.5h1.5v1.5h-1.5zM300.2 280.8h1.5v1.5h-1.5zM297.0 281.0h1.5v1.5h-1.5zM274.1 272.4h1.5v1.5h-1.5zM311.3 272.6h1.5v1.5h-1.5zM277.6 284.7h1.5v1.5h-1.5zM276.2 282.2h1.5v1.5h-1.5zM298.1 251.2h1.5v1.5h-1.5zM309.0 259.7h1.5v1.5h-1.5zM280.2 260.5h1.5v1.5h-1.5zM241.3 174.3h1.5v1.5h-1.5zM322.4 260.3h1.5v1.5h-1.5zM236.3 163.9h1.5v1.5h-1.5zM231.3 254.3h1.5v1.5h-1.5zM243.0 268.1h1.5v1.5h-1.5zM297.9 280.2h1.5v1.5h-1.5zM264.1 173.7h1.5v1.5h-1.5zM322.6 233.6h1.5v1.5h-1.5zM321.6 207.2h1.5v1.5h-1.5zM236.3 182.8h1.5v1.5h-1.5zM299.9 263.0h1.5v1.5h-1.5zM302.6 213.6h1.5v1.5h-1.5zM256.4 285.4h1.5v1.5h-1.5zM260.8 169.7h1.5v1.5h-1.5zM218.0 196.8h1.5v1.5h-1.5zM265.1 186.5h1.5v1.5h-1.5zM307.5 247.0h1.5v1.5h-1.5zM325.3 199.2h1.5v1.5h-1.5zM315.7 268.7h1.5v1.5h-1.5zM279.2 266.1h1.5v1.5h-1.5zM289.9 274.6h1.5v1.5h-1.5zM326.3 200.8h1.5v1.5h-1.5zM220.3 193.3h1.5v1.5h-1.5zM301.3 267.0h1.5v1.5h-1.5zM220.4 178.7h1.5v1.5h-1.5zM320.3 245.9h1.5v1.5h-1.5zM287.1 147.2h1.5v1.5h-1.5zM334.5 220.4h1.5v1.5h-1.5zM306.7 257.8h1.5v1.5h-1.5zM336.5 231.8h1.5v1.5h-1.5zM293.5 268.1h1.5v1.5h-1.5zM337.4 197.4h1.5v1.5h-1.5zM277.5 196.3h1.5v1.5h-1.5zM307.0 242.6h1.5v1.5h-1.5zM322.7 222.2h1.5v1.5h-1.5zM320.2 177.0h1.5v1.5h-1.5zM231.7 302.1h1.5v1.5h-1.5zM321.3 219.4h1.5v1.5h-1.5zM260.0 281.5h1.5v1.5h-1.5zM243.0 293.0h1.5v1.5h-1.5zM272.4 275.8h1.5v1.5h-1.5zM313.8 278.2h1.5v1.5h-1.5zM300.7 225.6h1.5v1.5h-1.5zM310.6 228.8h1.5v1.5h-1.5zM338.8 203.5h1.5v1.5h-1.5zM269.0 290.1h1.5v1.5h-1.5zM291.5 176.9h1.5v1.5h-1.5zM316.4 272.3h1.5v1.5h-1.5zM304.6 259.4h1.5v1.5h-1.5zM311.5 191.3h1.5v1.5h-1.5zM290.3 259.1h1.5v1.5h-1.5zM321.3 244.7h1.5v1.5h-1.5zM318.2 258.9h1.5v1.5h-1.5zM212.7 288.8h1.5v1.5h-1.5zM312.7 255.6h1.5v1.5h-1.5zM274.5 271.6h1.5v1.5h-1.5zM248.3 265.7h1.5v1.5h-1.5zM323.8 255.7h1.5v1.5h-1.5zM323.9 232.1h1.5v1.5h-1.5zM238.0 292.1h1.5v1.5h-1.5zM282.8 257.6h1.5v1.5h-1.5zM316.9 211.0h1.5v1.5h-1.5zM286.1 187.4h1.5v1.5h-1.5zM275.4 257.8h1.5v1.5h-1.5z" fill="#198c82"/>
<path d="M304.1 276.1h1.5v1.5h-1.5zM339.6 215.7h1.5v1.5h-1.5zM342.2 246.6h1.5v1.5h-1.5zM310.6 249.7h1.5v1.5h-1.5zM307.9 243.0h1.5v1.5h-1.5zM316.9 200.8h1.5v1.5h-1.5zM337.5 209.9h1.5v1.5h-1.5zM263.3 274.5h1.5v1.5h-1.5zM334.9 252.4h1.5v1.5h-1.5zM315.1 256.4h1.5v1.5h-1.5zM271.9 282.3h1.5v1.5h-1.5zM345.3 233.1h1.5v1.5h-1.5zM329.1 214.8h1.5v1.5h-1.5zM341.9 234.9h1.5v1.5h-1.5zM338.6 240.5h1.5v1.5h-1.5zM344.5 214.8h1.5v1.5h-1.5zM344.3 238.3h1.5v1.5h-1.5zM351.1 225.9h1.5v1.5h-1.5zM342.2 209.5h1.5v1.5h-1.5zM297.6 271.0h1.5v1.5h-1.5zM347.0 199.5h1.5v1.5h-1.5zM345.8 228.8h1.5v1.5h-1.5zM338.7 241.7h1.5v1.5h-1.5z" fill="#d8d820"/>
<path d="M261.6 281.1h1.5v1.5h-1.5zM245.1 173.5h1.5v1.5h-1.5zM324.2 198.8h1.5v1.5h-1.5zM265.6 282.6h1.5v1.5h-1.5zM317.5 257.4h1.5v1.5h-1.5zM318.7 247.4h1.5v1.5h-1.5zM330.0 230.8h1.5v1.5h-1.5zM335.6 205.4h1.5v1.5h-1.5zM317.6 233.3h1.5v1.5h-1.5zM327.5 233.3h1.5v1.5h-1.5zM303.0 273.1h1.5v1.5h-1.5zM334.4 218.5h1.5v1.5h-1.5zM303.7 268.8h1.5v1.5h-1.5zM307.3 227.7h1.5v1.5h-1.5zM273.1 199.0h1.5v1.5h-1.5zM325.1 199.2h1.5v1.5h-1.5zM309.4 265.3h1.5v1.5h-1.5zM328.1 237.5h1.5v1.5h-1.5zM235.4 289.6h1.5v1.5h-1.5zM290.2 269.0h1.5v1.5h-1.5zM292.8 272.8h1.5v1.5h-1.5zM233.2 283.8h1.5v1.5h-1.5zM297.9 282.7h1.5v1.5h-1.5zM329.7 222.0h1.5v1.5h-1.5zM234.6 277.3h1.5v1.5h-1.5zM288.1 278.6h1.5v1.5h-1.5zM323.9 209.3h1.5v1.5h-1.5zM313.0 254.1h1.5v1.5h-1.5zM327.4 208.4h1.5v1.5h-1.5zM326.4 249.9h1.5v1.5h-1.5zM317.2 203.9h1.5v1.5h-1.5zM326.3 254.7h1.5v1.5h-1.5zM324.0 198.9h1.5v1.5h-1.5zM297.8 269.6h1.5v1.5h-1.5zM301.3 280.4h1.5v1.5h-1.5zM323.7 223.1h1.5v1.5h-1.5zM324.6 226.5h1.5v1.5h-1.5zM300.1 273.6h1.5v1.5h-1.5zM331.1 235.1h1.5v1.5h-1.5zM313.4 236.4h1.5v1.5h-1.5zM281.8 284.5h1.5v1.5h-1.5zM271.7 205.9h1.5v1.5h-1.5zM305.2 264.0h1.5v1.5h-1.5zM297.0 256.3h1.5v1.5h-1.5zM257.0 283.7h1.5v1.5h-1.5zM315.9 269.6h1.5v1.5h-1.5zM322.2 245.0h1.5v1.5h-1.5zM294.7 277.6h1.5v1.5h-1.5zM322.4 193.5h1.5v1.5h-1.5zM244.4 279.1h1.5v1.5h-1.5zM331.7 233.3h1.5v1.5h-1.5zM324.3 246.0h1.5v1.5h-1.5zM319.3 255.9h1.5v1.5h-1.5zM268.2 275.9h1.5v1.5h-1.5zM286.3 176.4h1.5v1.5h-1.5zM216.9 289.4h1.5v1.5h-1.5zM319.3 232.5h1.5v1.5h-1.5zM321.7 254.8h1.5v1.5h-1.5zM294.1 265.1h1.5v1.5h-1.5zM316.0 267.2h1.5v1.5h-1.5zM278.9 275.1h1.5v1.5h-1.5zM238.2 167.9h1.5v1.5h-1.5zM319.5 247.7h1.5v1.5h-1.5zM304.2 267.6h1.5v1.5h-1.5zM234.5 285.9h1.5v1.5h-1.5zM269.2 282.2h1.5v1.5h-1.5zM332.3 218.7h1.5v1.5h-1.5zM306.6 266.5h1.5v1.5h-1.5zM260.1 284.2h1.5v1.5h-1.5zM331.3 209.4h1.5v1.5h-1.5zM324.9 236.6h1.5v1.5h-1.5zM275.7 277.5h1.5v1.5h-1.5zM317.6 231.4h1.5v1.5h-1.5zM318.0 260.9h1.5v1.5h-1.5zM305.3 271.0h1.5v1.5h-1.5zM306.9 229.0h1.5v1.5h-1.5zM312.4 267.1h1.5v1.5h-1.5zM302.8 266.5h1.5v1.5h-1.5zM271.0 285.2h1.5v1.5h-1.5zM244.6 284.3h1.5v1.5h-1.5zM240.8 285.4h1.5v1.5h-1.5zM217.6 290.1h1.5v1.5h-1.5zM280.2 274.9h1.5v1.5h-1.5zM306.9 250.3h1.5v1.5h-1.5zM336.2 207.6h1.5v1.5h-1.5zM324.1 217.8h1.5v1.5h-1.5zM322.4 261.6h1.5v1.5h-1.5zM317.2 260.6h1.5v1.5h-1.5zM308.9 220.0h1.5v1.5h-1.5zM317.5 243.9h1.5v1.5h-1.5zM288.6 271.6h1.5v1.5h-1.5zM297.7 263.9h1.5v1.5h-1.5zM212.5 173.4h1.5v1.5h-1.5zM317.6 252.6h1.5v1.5h-1.5zM290.3 270.9h1.5v1.5h-1.5zM328.9 219.3h1.5v1.5h-1.5zM315.6 248.9h1.5v1.5h-1.5zM284.3 284.1h1.5v1.5h-1.5zM331.8 201.1h1.5v1.5h-1.5zM322.0 226.0h1.5v1.5h-1.5zM217.7 288.2h1.5v1.5h-1.5zM276.3 285.9h1.5v1.5h-1.5zM217.2 279.2h1.5v1.5h-1.5zM304.3 255.8h1.5v1.5h-1.5zM253.4 166.6h1.5v1.5h-1.5zM323.6 220.6h1.5v1.5h-1.5zM213.7 285.5h1.5v1.5h-1.5zM246.8 292.5h1.5v1.5h-1.5zM294.8 268.7h1.5v1.5h-1.5zM291.6 281.7h1.5v1.5h-1.5zM324.9 209.7h1.5v1.5h-1.5zM321.8 218.7h1.5v1.5h-1.5zM305.9 262.2h1.5v1.5h-1.5zM328.3 229.1h1.5v1.5h-1.5zM320.8 269.9h1.5v1.5h-1.5zM269.0 282.0h1.5v1.5h-1.5zM306.7 255.7h1.5v1.5h-1.5zM302.0 276.8h1.5v1.5h-1.5zM309.8 260.0h1.5v1.5h-1.5zM309.0 278.4h1.5v1.5h-1.5zM323.3 251.9h1.5v1.5h-1.5zM319.6 262.7h1.5v1.5h-1.5zM251.5 282.6h1.5v1.5h-1.5zM327.5 225.9h1.5v1.5h-1.5zM291.2 277.2h1.5v1.5h-1.5zM316.1 235.0h1.5v1.5h-1.5zM313.2 250.4h1.5v1.5h-1.5zM323.1 261.9h1.5v1.5h-1.5zM316.8 216.5h1.5v1.5h-1.5zM313.9 271.8h1.5v1.5h-1.5zM340.7 240.8h1.5v1.5h-1.5zM301.7 259.1h1.5v1.5h-1.5zM292.1 290.0h1.5v1.5h-1.5zM319.7 239.6h1.5v1.5h-1.5zM292.2 176.6h1.5v1.5h-1.5zM222.7 289.3h1.5v1.5h-1.5zM308.3 229.3h1.5v1.5h-1.5zM304.8 232.6h1.5v1.5h-1.5zM300.0 276.2h1.5v1.5h-1.5zM317.0 215.2h1.5v1.5h-1.5zM249.3 273.3h1.5v1.5h-1.5zM223.3 281.2h1.5v1.5h-1.5zM291.1 272.5h1.5v1.5h-1.5zM299.5 277.5h1.5v1.5h-1.5zM321.7 250.3h1.5v1.5h-1.5zM302.4 251.5h1.5v1.5h-1.5zM329.9 231.5h1.5v1.5h-1.5zM281.0 240.7h1.5v1.5h-1.5zM307.0 247.3h1.5v1.5h-1.5zM255.4 276.3h1.5v1.5h-1.5zM301.5 259.0h1.5v1.5h-1.5zM294.8 281.4h1.5v1.5h-1.5zM234.0 283.8h1.5v1.5h-1.5zM287.0 256.5h1.5v1.5h-1.5zM315.7 258.9h1.5v1.5h-1.5zM331.4 215.1h1.5v1.5h-1.5zM309.7 258.1h1.5v1.5h-1.5zM219.7 289.0h1.5v1.5h-1.5zM291.3 218.2h1.5v1.5h-1.5zM275.5 279.9h1.5v1.5h-1.5zM322.4 234.7h1.5v1.5h-1.5zM329.4 221.5h1.5v1.5h-1.5zM318.7 230.1h1.5v1.5h-1.5zM265.8 184.8h1.5v1.5h-1.5zM284.5 294.3h1.5v1.5h-1.5zM318.7 240.1h1.5v1.5h-1.5zM306.2 242.3h1.5v1.5h-1.5zM222.4 289.6h1.5v1.5h-1.5zM324.4 249.0h1.5v1.5h-1.5zM279.4 280.5h1.5v1.5h-1.5zM327.6 229.7h1.5v1.5h-1.5zM264.1 280.4h1.5v1.5h-1.5zM209.0 284.1h1.5v1.5h-1.5zM320.1 198.9h1.5v1.5h-1.5zM333.2 212.0h1.5v1.5h-1.5zM327.7 230.1h1.5v1.5h-1.5zM309.3 260.3h1.5v1.5h-1.5zM282.2 283.3h1.5v1.5h-1.5zM282.5 268.8h1.5v1.5h-1.5zM338.6 234.8h1.5v1.5h-1.5zM296.7 177.4h1.5v1.5h-1.5zM297.3 180.7h1.5v1.5h-1.5zM324.6 201.7h1.5v1.5h-1.5zM335.2 208.3h1.5v1.5h-1.5zM210.4 288.8h1.5v1.5h-1.5zM313.2 254.4h1.5v1.5h-1.5zM314.9 246.6h1.5v1.5h-1.5zM301.8 272.9h1.5v1.5h-1.5zM236.1 286.5h1.5v1.5h-1.5zM246.9 287.9h1.5v1.5h-1.5zM301.1 241.6h1.5v1.5h-1.5zM302.2 251.0h1.5v1.5h-1.5zM273.0 269.5h1.5v1.5h-1.5zM263.7 283.8h1.5v1.5h-1.5zM220.1 173.6h1.5v1.5h-1.5zM281.3 274.3h1.5v1.5h-1.5zM239.8 291.3h1.5v1.5h-1.5zM288.9 289.5h1.5v1.5h-1.5zM275.5 276.0h1.5v1.5h-1.5zM243.4 248.2h1.5v1.5h-1.5zM305.4 269.3h1.5v1.5h-1.5zM324.6 226.6h1.5v1.5h-1.5zM332.5 229.0h1.5v1.5h-1.5zM303.8 263.0h1.5v1.5h-1.5zM329.2 213.2h1.5v1.5h-1.5zM345.2 205.1h1.5v1.5h-1.5zM297.4 248.3h1.5v1.5h-1.5zM342.0 231.9h1.5v1.5h-1.5zM302.7 177.9h1.5v1.5h-1.5zM250.4 288.4h1.5v1.5h-1.5zM248.6 171.2h1.5v1.5h-1.5zM284.1 276.5h1.5v1.5h-1.5zM276.3 269.5h1.5v1.5h-1.5zM304.4 278.8h1.5v1.5h-1.5zM289.1 270.8h1.5v1.5h-1.5zM325.7 203.3h1.5v1.5h-1.5zM238.0 288.6h1.5v1.5h-1.5zM322.7 215.5h1.5v1.5h-1.5zM311.2 251.7h1.5v1.5h-1.5zM278.0 276.1h1.5v1.5h-1.5zM277.4 285.6h1.5v1.5h-1.5zM254.3 284.7h1.5v1.5h-1.5zM301.5 256.5h1.5v1.5h-1.5zM215.9 286.5h1.5v1.5h-1.5zM285.0 284.1h1.5v1.5h-1.5zM273.7 282.9h1.5v1.5h-1.5zM307.2 253.5h1.5v1.5h-1.5zM295.3 283.0h1.5v1.5h-1.5zM219.6 289.4h1.5v1.5h-1.5zM283.3 272.2h1.5v1.5h-1.5zM297.2 264.2h1.5v1.5h-1.5zM265.1 288.4h1.5v1.5h-1.5zM275.6 275.9h1.5v1.5h-1.5zM304.8 258.2h1.5v1.5h-1.5zM265.3 272.3h1.5v1.5h-1.5zM315.7 201.2h1.5v1.5h-1.5z" fill="#1e50a5"/>
<path d="M400.9 157.2h1.8v1.8h-1.8zM394.5 163.1h1.8v1.8h-1.8zM387.2 133.4h1.8v1.8h-1.8zM384.4 177.9h1.8v1.8h-1.8zM387.4 147.6h1.8v1.8h-1.8zM388.1 134.9h1.8v1.8h-1.8zM390.4 158.4h1.8v1.8h-1.8zM389.7 150.5h1.8v1.8h-1.8zM384.3 153.4h1.8v1.8h-1.8zM387.9 181.9h1.8v1.8h-1.8zM375.5 175.5h1.8v1.8h-1.8zM386.0 167.8h1.8v1.8h-1.8zM381.1 196.9h1.8v1.8h-1.8zM377.4 158.4h1.8v1.8h-1.8zM385.4 145.4h1.8v1.8h-1.8zM393.8 180.6h1.8v1.8h-1.8zM395.1 144.9h1.8v1.8h-1.8zM389.2 174.4h1.8v1.8h-1.8zM374.0 178.2h1.8v1.8h-1.8zM393.4 169.6h1.8v1.8h-1.8zM396.5 173.4h1.8v1.8h-1.8zM379.7 158.7h1.8v1.8h-1.8zM396.9 159.5h1.8v1.8h-1.8zM394.0 155.6h1.8v1.8h-1.8zM377.5 158.2h1.8v1.8h-1.8zM389.0 147.4h1.8v1.8h-1.8zM390.6 146.9h1.8v1.8h-1.8zM393.1 155.8h1.8v1.8h-1.8zM381.3 162.9h1.8v1.8h-1.8zM386.7 161.2h1.8v1.8h-1.8zM382.2 168.3h1.8v1.8h-1.8zM387.7 164.0h1.8v1.8h-1.8zM391.1 182.0h1.8v1.8h-1.8zM390.3 188.0h1.8v1.8h-1.8zM388.1 142.3h1.8v1.8h-1.8zM383.3 198.2h1.8v1.8h-1.8zM390.1 149.7h1.8v1.8h-1.8zM391.3 152.6h1.8v1.8h-1.8zM391.8 154.7h1.8v1.8h-1.8zM386.8 145.5h1.8v1.8h-1.8z" fill="#198c82"/>
<path d="M389.7 174.8h1.8v1.8h-1.8zM392.6 148.1h1.8v1.8h-1.8zM388.9 162.2h1.8v1.8h-1.8zM386.1 185.5h1.8v1.8h-1.8zM394.1 148.1h1.8v1.8h-1.8zM398.2 142.0h1.8v1.8h-1.8zM383.3 157.2h1.8v1.8h-1.8zM392.9 154.2h1.8v1.8h-1.8zM389.5 159.4h1.8v1.8h-1.8zM397.7 168.7h1.8v1.8h-1.8zM384.1 142.4h1.8v1.8h-1.8zM384.0 186.4h1.8v1.8h-1.8zM382.4 187.8h1.8v1.8h-1.8zM379.9 177.9h1.8v1.8h-1.8zM390.8 152.8h1.8v1.8h-1.8zM393.2 137.6h1.8v1.8h-1.8zM380.6 170.1h1.8v1.8h-1.8zM388.6 144.8h1.8v1.8h-1.8zM379.3 186.3h1.8v1.8h-1.8zM389.8 152.6h1.8v1.8h-1.8zM388.5 154.2h1.8v1.8h-1.8zM385.4 159.3h1.8v1.8h-1.8zM396.1 153.1h1.8v1.8h-1.8zM396.0 161.9h1.8v1.8h-1.8zM390.6 149.9h1.8v1.8h-1.8zM387.8 186.6h1.8v1.8h-1.8zM384.1 164.5h1.8v1.8h-1.8zM385.9 174.4h1.8v1.8h-1.8zM391.6 162.4h1.8v1.8h-1.8zM383.4 174.6h1.8v1.8h-1.8zM400.3 138.5h1.8v1.8h-1.8zM373.2 161.8h1.8v1.8h-1.8z" fill="#8cc337"/>
<path d="M383.5 177.8h1.8v1.8h-1.8zM393.7 154.0h1.8v1.8h-1.8zM382.1 155.6h1.8v1.8h-1.8zM394.3 135.9h1.8v1.8h-1.8zM385.6 158.7h1.8v1.8h-1.8zM394.1 160.7h1.8v1.8h-1.8zM387.3 181.5h1.8v1.8h-1.8zM394.0 142.6h1.8v1.8h-1.8zM394.6 169.0h1.8v1.8h-1.8zM390.6 179.5h1.8v1.8h-1.8zM400.0 136.6h1.8v1.8h-1.8zM392.0 180.2h1.8v1.8h-1.8zM399.3 123.4h1.8v1.8h-1.8zM394.9 175.7h1.8v1.8h-1.8zM382.7 153.9h1.8v1.8h-1.8zM381.5 184.3h1.8v1.8h-1.8zM390.2 155.9h1.8v1.8h-1.8zM391.5 177.3h1.8v1.8h-1.8zM399.6 171.5h1.8v1.8h-1.8zM390.2 178.2h1.8v1.8h-1.8zM393.9 163.4h1.8v1.8h-1.8zM391.6 155.6h1.8v1.8h-1.8zM392.6 171.1h1.8v1.8h-1.8z" fill="#1e50a5"/>
<path d="M396.9 145.2h1.8v1.8h-1.8zM387.4 153.3h1.8v1.8h-1.8zM377.5 188.2h1.8v1.8h-1.8zM382.0 174.4h1.8v1.8h-1.8zM386.8 152.4h1.8v1.8h-1.8zM389.1 162.2h1.8v1.8h-1.8zM383.7 186.8h1.8v1.8h-1.8zM398.2 129.6h1.8v1.8h-1.8zM383.5 166.6h1.8v1.8h-1.8zM387.5 164.2h1.8v1.8h-1.8zM380.6 158.7h1.8v1.8h-1.8zM381.1 169.2h1.8v1.8h-1.8zM393.8 146.2h1.8v1.8h-1.8zM380.4 170.8h1.8v1.8h-1.8zM381.4 190.5h1.8v1.8h-1.8zM387.0 165.2h1.8v1.8h-1.8zM386.8 158.0h1.8v1.8h-1.8zM395.1 158.7h1.8v1.8h-1.8zM386.2 176.9h1.8v1.8h-1.8zM386.7 148.5h1.8v1.8h-1.8zM402.4 160.2h1.8v1.8h-1.8zM397.0 150.6h1.8v1.8h-1.8zM388.1 155.5h1.8v1.8h-1.8zM392.8 145.7h1.8v1.8h-1.8zM381.3 146.9h1.8v1.8h-1.8zM389.3 154.1h1.8v1.8h-1.8zM380.6 165.9h1.8v1.8h-1.8zM387.3 175.1h1.8v1.8h-1.8zM378.1 167.4h1.8v1.8h-1.8zM385.5 175.3h1.8v1.8h-1.8zM391.2 157.5h1.8v1.8h-1.8zM391.9 156.2h1.8v1.8h-1.8zM385.5 174.0h1.8v1.8h-1.8zM373.7 181.5h1.8v1.8h-1.8zM388.2 163.4h1.8v1.8h-1.8zM394.9 144.3h1.8v1.8h-1.8zM383.5 162.8h1.8v1.8h-1.8zM391.9 177.8h1.8v1.8h-1.8zM397.2 143.6h1.8v1.8h-1.8zM390.4 159.1h1.8v1.8h-1.8zM393.6 174.7h1.8v1.8h-1.8zM395.2 147.9h1.8v1.8h-1.8zM384.7 166.1h1.8v1.8h-1.8zM379.9 156.7h1.8v1.8h-1.8zM390.8 156.3h1.8v1.8h-1.8zM392.6 158.5h1.8v1.8h-1.8zM380.5 195.5h1.8v1.8h-1.8zM402.1 142.6h1.8v1.8h-1.8zM388.6 157.9h1.8v1.8h-1.8zM397.5 156.6h1.8v1.8h-1.8zM384.1 165.1h1.8v1.8h-1.8zM381.6 167.0h1.8v1.8h-1.8zM397.0 162.5h1.8v1.8h-1.8zM396.0 152.1h1.8v1.8h-1.8zM386.2 144.2h1.8v1.8h-1.8zM394.1 176.1h1.8v1.8h-1.8zM376.8 169.3h1.8v1.8h-1.8zM387.3 171.3h1.8v1.8h-1.8zM395.4 160.1h1.8v1.8h-1.8zM393.9 152.6h1.8v1.8h-1.8zM387.5 181.4h1.8v1.8h-1.8zM380.4 190.4h1.8v1.8h-1.8zM387.9 153.5h1.8v1.8h-1.8zM390.0 171.1h1.8v1.8h-1.8zM396.8 169.4h1.8v1.8h-1.8zM395.1 166.9h1.8v1.8h-1.8zM392.2 158.0h1.8v1.8h-1.8zM388.1 183.1h1.8v1.8h-1.8zM383.4 167.6h1.8v1.8h-1.8zM384.9 171.7h1.8v1.8h-1.8zM389.7 147.2h1.8v1.8h-1.8zM374.8 172.8h1.8v1.8h-1.8zM384.5 155.9h1.8v1.8h-1.8zM378.4 196.2h1.8v1.8h-1.8zM390.4 172.9h1.8v1.8h-1.8zM389.1 165.0h1.8v1.8h-1.8zM376.8 176.5h1.8v1.8h-1.8zM391.5 166.8h1.8v1.8h-1.8zM390.1 169.9h1.8v1.8h-1.8zM400.5 162.1h1.8v1.8h-1.8zM390.3 145.0h1.8v1.8h-1.8zM385.9 174.2h1.8v1.8h-1.8zM387.1 164.4h1.8v1.8h-1.8zM384.8 189.8h1.8v1.8h-1.8zM395.1 147.3h1.8v1.8h-1.8zM377.7 177.4h1.8v1.8h-1.8zM384.1 160.9h1.8v1.8h-1.8zM386.9 149.1h1.8v1.8h-1.8zM394.6 143.1h1.8v1.8h-1.8zM393.9 149.5h1.8v1.8h-1.8zM391.1 173.8h1.8v1.8h-1.8z" fill="#5faa32"/>
<path d="M387.4 131.4h1.8v1.8h-1.8zM389.2 169.1h1.8v1.8h-1.8zM387.2 159.5h1.8v1.8h-1.8zM369.8 187.8h1.8v1.8h-1.8zM394.1 167.0h1.8v1.8h-1.8zM393.1 163.9h1.8v1.8h-1.8zM385.8 183.0h1.8v1.8h-1.8zM387.2 156.9h1.8v1.8h-1.8zM390.3 159.6h1.8v1.8h-1.8zM389.8 136.0h1.8v1.8h-1.8zM391.2 142.6h1.8v1.8h-1.8zM392.2 137.7h1.8v1.8h-1.8zM392.1 166.5h1.8v1.8h-1.8zM395.5 146.1h1.8v1.8h-1.8zM376.0 183.7h1.8v1.8h-1.8zM379.1 156.5h1.8v1.8h-1.8zM393.7 149.9h1.8v1.8h-1.8zM385.9 179.7h1.8v1.8h-1.8zM384.6 145.3h1.8v1.8h-1.8zM397.2 143.3h1.8v1.8h-1.8zM400.0 153.6h1.8v1.8h-1.8zM396.0 148.5h1.8v1.8h-1.8zM392.2 164.8h1.8v1.8h-1.8zM395.8 137.7h1.8v1.8h-1.8zM385.8 136.9h1.8v1.8h-1.8zM383.4 175.0h1.8v1.8h-1.8zM377.7 152.4h1.8v1.8h-1.8zM403.4 138.3h1.8v1.8h-1.8zM384.4 167.3h1.8v1.8h-1.8zM378.3 157.4h1.8v1.8h-1.8zM394.5 148.7h1.8v1.8h-1.8zM394.3 149.9h1.8v1.8h-1.8zM393.0 169.2h1.8v1.8h-1.8zM392.6 208.8h1.8v1.8h-1.8zM398.5 145.6h1.8v1.8h-1.8zM387.6 152.7h1.8v1.8h-1.8zM387.4 153.1h1.8v1.8h-1.8zM382.7 159.1h1.8v1.8h-1.8zM388.7 146.3h1.8v1.8h-1.8zM379.7 168.7h1.8v1.8h-1.8zM376.6 180.7h1.8v1.8h-1.8zM376.1 161.7h1.8v1.8h-1.8zM391.1 165.0h1.8v1.8h-1.8zM391.9 166.8h1.8v1.8h-1.8zM382.9 178.0h1.8v1.8h-1.8zM400.1 148.4h1.8v1.8h-1.8zM382.7 181.0h1.8v1.8h-1.8zM393.1 152.2h1.8v1.8h-1.8zM387.2 165.1h1.8v1.8h-1.8zM380.4 168.9h1.8v1.8h-1.8zM398.7 156.7h1.8v1.8h-1.8zM399.0 146.5h1.8v1.8h-1.8zM386.3 156.9h1.8v1.8h-1.8zM389.6 171.1h1.8v1.8h-1.8zM378.6 166.5h1.8v1.8h-1.8zM384.4 157.1h1.8v1.8h-1.8zM386.6 166.6h1.8v1.8h-1.8zM390.2 177.2h1.8v1.8h-1.8zM381.9 161.9h1.8v1.8h-1.8zM399.2 154.1h1.8v1.8h-1.8zM386.4 177.2h1.8v1.8h-1.8zM385.7 162.8h1.8v1.8h-1.8zM375.6 177.9h1.8v1.8h-1.8z" fill="#289646"/>
<path d="M422.0 210.5h1.8v1.8h-1.8z" fill="#d8d820"/>
<path d="M385.5 158.4h1.8v1.8h-1.8zM374.5 180.6h1.8v1.8h-1.8zM388.3 173.5h1.8v1.8h-1.8zM390.9 143.7h1.8v1.8h-1.8zM388.5 182.7h1.8v1.8h-1.8zM375.6 169.8h1.8v1.8h-1.8zM399.0 148.0h1.8v1.8h-1.8zM387.4 188.4h1.8v1.8h-1.8zM385.3 159.8h1.8v1.8h-1.8zM386.7 163.3h1.8v1.8h-1.8zM388.7 165.6h1.8v1.8h-1.8zM377.6 170.3h1.8v1.8h-1.8zM376.3 185.7h1.8v1.8h-1.8zM386.8 187.2h1.8v1.8h-1.8zM377.4 182.0h1.8v1.8h-1.8zM384.1 170.8h1.8v1.8h-1.8zM387.9 167.0h1.8v1.8h-1.8zM394.0 145.9h1.8v1.8h-1.8zM375.9 166.7h1.8v1.8h-1.8zM399.2 170.4h1.8v1.8h-1.8zM387.8 153.2h1.8v1.8h-1.8zM382.1 159.8h1.8v1.8h-1.8zM383.3 174.1h1.8v1.8h-1.8zM399.6 162.2h1.8v1.8h-1.8zM383.0 200.4h1.8v1.8h-1.8zM393.6 134.8h1.8v1.8h-1.8zM390.0 174.2h1.8v1.8h-1.8zM382.8 154.4h1.8v1.8h-1.8zM392.5 164.0h1.8v1.8h-1.8zM396.1 159.4h1.8v1.8h-1.8zM379.4 166.5h1.8v1.8h-1.8zM389.3 146.2h1.8v1.8h-1.8zM388.5 155.8h1.8v1.8h-1.8zM395.2 138.7h1.8v1.8h-1.8zM387.5 148.9h1.8v1.8h-1.8zM393.7 156.0h1.8v1.8h-1.8zM396.6 185.6h1.8v1.8h-1.8zM384.7 164.1h1.8v1.8h-1.8zM383.5 168.4h1.8v1.8h-1.8z" fill="#8cc337"/>
<path d="M400.0 146.0h1.8v1.8h-1.8zM389.6 167.8h1.8v1.8h-1.8zM396.5 171.8h1.8v1.8h-1.8zM398.1 137.9h1.8v1.8h-1.8zM387.5 167.0h1.8v1.8h-1.8zM388.0 176.5h1.8v1.8h-1.8zM405.1 138.4h1.8v1.8h-1.8zM385.8 161.0h1.8v1.8h-1.8zM395.0 161.7h1.8v1.8h-1.8zM386.5 142.5h1.8v1.8h-1.8zM377.8 157.3h1.8v1.8h-1.8zM386.7 169.7h1.8v1.8h-1.8zM389.8 188.4h1.8v1.8h-1.8zM395.7 151.4h1.8v1.8h-1.8zM387.3 187.7h1.8v1.8h-1.8zM390.4 159.9h1.8v1.8h-1.8zM383.5 177.9h1.8v1.8h-1.8zM391.7 149.4h1.8v1.8h-1.8zM402.2 161.1h1.8v1.8h-1.8zM394.7 172.6h1.8v1.8h-1.8zM377.3 190.5h1.8v1.8h-1.8zM386.2 170.8h1.8v1.8h-1.8zM387.4 141.4h1.8v1.8h-1.8zM381.2 143.0h1.8v1.8h-1.8zM387.4 148.5h1.8v1.8h-1.8zM386.3 150.1h1.8v1.8h-1.8zM388.6 163.7h1.8v1.8h-1.8zM401.6 159.8h1.8v1.8h-1.8zM387.6 166.5h1.8v1.8h-1.8zM376.0 163.9h1.8v1.8h-1.8zM382.1 147.4h1.8v1.8h-1.8zM390.7 160.1h1.8v1.8h-1.8zM381.4 162.7h1.8v1.8h-1.8zM389.0 169.9h1.8v1.8h-1.8zM396.2 129.9h1.8v1.8h-1.8zM391.9 176.9h1.8v1.8h-1.8zM382.0 176.2h1.8v1.8h-1.8zM385.9 178.1h1.8v1.8h-1.8zM389.6 165.0h1.8v1.8h-1.8z" fill="#289646"/>
<path d="M383.0 184.4h1.8v1.8h-1.8zM386.2 152.6h1.8v1.8h-1.8zM392.4 169.4h1.8v1.8h-1.8zM392.8 181.3h1.8v1.8h-1.8zM377.5 190.3h1.8v1.8h-1.8zM390.9 141.7h1.8v1.8h-1.8zM388.9 160.0h1.8v1.8h-1.8zM391.9 144.0h1.8v1.8h-1.8zM395.9 155.5h1.8v1.8h-1.8zM391.9 142.5h1.8v1.8h-1.8zM382.4 155.6h1.8v1.8h-1.8zM390.1 144.0h1.8v1.8h-1.8zM379.7 161.9h1.8v1.8h-1.8zM386.9 171.1h1.8v1.8h-1.8zM395.7 161.2h1.8v1.8h-1.8zM395.1 159.1h1.8v1.8h-1.8zM385.4 151.2h1.8v1.8h-1.8zM383.9 148.8h1.8v1.8h-1.8zM386.3 168.1h1.8v1.8h-1.8zM387.2 153.2h1.8v1.8h-1.8zM383.4 168.3h1.8v1.8h-1.8zM385.1 177.9h1.8v1.8h-1.8zM382.4 156.2h1.8v1.8h-1.8zM390.2 163.8h1.8v1.8h-1.8zM391.5 169.3h1.8v1.8h-1.8zM382.3 158.4h1.8v1.8h-1.8zM376.8 174.0h1.8v1.8h-1.8zM382.9 158.8h1.8v1.8h-1.8zM386.8 157.2h1.8v1.8h-1.8zM385.8 149.2h1.8v1.8h-1.8zM380.2 168.2h1.8v1.8h-1.8zM391.4 152.2h1.8v1.8h-1.8zM392.8 137.0h1.8v1.8h-1.8zM384.2 170.4h1.8v1.8h-1.8zM394.2 150.6h1.8v1.8h-1.8zM393.2 151.6h1.8v1.8h-1.8zM376.6 187.6h1.8v1.8h-1.8zM390.8 149.5h1.8v1.8h-1.8zM385.3 175.3h1.8v1.8h-1.8zM380.3 157.0h1.8v1.8h-1.8zM385.7 160.9h1.8v1.8h-1.8zM395.2 161.1h1.8v1.8h-1.8zM397.7 153.1h1.8v1.8h-1.8zM390.3 173.0h1.8v1.8h-1.8zM388.6 158.1h1.8v1.8h-1.8zM385.0 172.7h1.8v1.8h-1.8zM403.8 144.2h1.8v1.8h-1.8zM391.4 202.3h1.8v1.8h-1.8zM388.5 170.8h1.8v1.8h-1.8zM386.8 156.7h1.8v1.8h-1.8zM362.6 202.9h1.8v1.8h-1.8zM374.0 161.7h1.8v1.8h-1.8zM391.6 148.9h1.8v1.8h-1.8zM392.7 136.5h1.8v1.8h-1.8zM370.8 195.1h1.8v1.8h-1.8zM384.3 147.7h1.8v1.8h-1.8zM390.2 154.6h1.8v1.8h-1.8zM389.8 157.0h1.8v1.8h-1.8zM389.2 133.0h1.8v1.8h-1.8zM381.2 169.3h1.8v1.8h-1.8zM391.6 149.9h1.8v1.8h-1.8zM394.4 154.8h1.8v1.8h-1.8zM394.4 156.7h1.8v1.8h-1.8zM378.6 176.6h1.8v1.8h-1.8zM391.4 171.7h1.8v1.8h-1.8zM381.0 173.2h1.8v1.8h-1.8zM386.7 162.0h1.8v1.8h-1.8zM382.5 151.8h1.8v1.8h-1.8zM390.0 163.7h1.8v1.8h-1.8zM386.3 161.3h1.8v1.8h-1.8zM389.4 141.6h1.8v1.8h-1.8zM384.1 180.2h1.8v1.8h-1.8zM391.6 166.0h1.8v1.8h-1.8zM397.9 147.9h1.8v1.8h-1.8zM378.2 164.9h1.8v1.8h-1.8zM395.9 151.5h1.8v1.8h-1.8zM385.9 173.8h1.8v1.8h-1.8zM379.6 187.9h1.8v1.8h-1.8zM385.8 180.3h1.8v1.8h-1.8zM380.6 178.8h1.8v1.8h-1.8zM388.2 140.5h1.8v1.8h-1.8zM390.0 182.7h1.8v1.8h-1.8zM391.9 136.9h1.8v1.8h-1.8zM392.8 174.4h1.8v1.8h-1.8zM386.0 185.4h1.8v1.8h-1.8zM385.2 177.8h1.8v1.8h-1.8zM385.1 177.1h1.8v1.8h-1.8zM387.1 180.0h1.8v1.8h-1.8z" fill="#5faa32"/>
<path d="M420.0 113.0h1.8v1.8h-1.8zM411.0 189.0h1.8v1.8h-1.8z" fill="#f08a1c"/>
<path d="M401.6 136.1h1.8v1.8h-1.8zM380.7 174.5h1.8v1.8h-1.8zM392.2 173.5h1.8v1.8h-1.8zM385.9 170.4h1.8v1.8h-1.8zM392.5 181.4h1.8v1.8h-1.8zM393.5 132.8h1.8v1.8h-1.8zM383.6 169.4h1.8v1.8h-1.8zM391.6 168.1h1.8v1.8h-1.8zM385.3 165.9h1.8v1.8h-1.8zM382.6 167.4h1.8v1.8h-1.8zM391.0 165.8h1.8v1.8h-1.8zM383.5 156.7h1.8v1.8h-1.8zM384.6 170.1h1.8v1.8h-1.8zM392.2 165.2h1.8v1.8h-1.8zM401.7 149.5h1.8v1.8h-1.8zM388.6 166.4h1.8v1.8h-1.8zM377.0 172.7h1.8v1.8h-1.8zM385.3 161.2h1.8v1.8h-1.8zM387.3 167.2h1.8v1.8h-1.8zM393.2 163.2h1.8v1.8h-1.8zM392.2 153.1h1.8v1.8h-1.8zM387.5 161.5h1.8v1.8h-1.8zM387.1 158.3h1.8v1.8h-1.8zM390.6 167.4h1.8v1.8h-1.8zM393.9 146.1h1.8v1.8h-1.8zM392.7 137.8h1.8v1.8h-1.8zM396.7 139.9h1.8v1.8h-1.8zM389.1 187.5h1.8v1.8h-1.8z" fill="#1e50a5"/>
<path d="M400.3 156.9h1.8v1.8h-1.8zM373.2 172.9h1.8v1.8h-1.8zM393.9 159.9h1.8v1.8h-1.8zM386.2 168.7h1.8v1.8h-1.8zM384.2 164.2h1.8v1.8h-1.8zM386.3 185.0h1.8v1.8h-1.8zM390.1 153.8h1.8v1.8h-1.8zM394.3 171.2h1.8v1.8h-1.8zM382.9 173.4h1.8v1.8h-1.8zM375.7 193.0h1.8v1.8h-1.8zM387.3 180.1h1.8v1.8h-1.8zM400.4 143.6h1.8v1.8h-1.8zM382.6 172.2h1.8v1.8h-1.8zM388.6 164.0h1.8v1.8h-1.8zM394.8 157.0h1.8v1.8h-1.8zM370.4 178.6h1.8v1.8h-1.8zM396.0 165.0h1.8v1.8h-1.8zM395.6 165.2h1.8v1.8h-1.8zM383.9 186.8h1.8v1.8h-1.8zM386.5 161.8h1.8v1.8h-1.8zM394.0 155.3h1.8v1.8h-1.8zM384.5 189.9h1.8v1.8h-1.8zM396.8 153.0h1.8v1.8h-1.8zM387.3 172.7h1.8v1.8h-1.8zM391.0 167.9h1.8v1.8h-1.8zM381.7 157.1h1.8v1.8h-1.8zM388.3 163.3h1.8v1.8h-1.8zM387.4 174.8h1.8v1.8h-1.8zM388.8 150.5h1.8v1.8h-1.8zM397.5 149.4h1.8v1.8h-1.8zM384.8 157.6h1.8v1.8h-1.8zM377.0 176.9h1.8v1.8h-1.8zM380.8 158.1h1.8v1.8h-1.8zM397.5 153.7h1.8v1.8h-1.8zM386.7 152.8h1.8v1.8h-1.8zM389.8 154.3h1.8v1.8h-1.8zM382.4 142.9h1.8v1.8h-1.8zM383.5 169.1h1.8v1.8h-1.8zM383.7 170.9h1.8v1.8h-1.8zM380.5 184.5h1.8v1.8h-1.8zM385.3 150.5h1.8v1.8h-1.8zM386.5 154.4h1.8v1.8h-1.8zM382.7 186.2h1.8v1.8h-1.8zM380.2 186.9h1.8v1.8h-1.8zM402.1 143.6h1.8v1.8h-1.8zM384.6 172.0h1.8v1.8h-1.8zM391.0 156.9h1.8v1.8h-1.8zM381.7 173.3h1.8v1.8h-1.8zM393.7 152.4h1.8v1.8h-1.8zM388.8 167.4h1.8v1.8h-1.8zM379.2 174.5h1.8v1.8h-1.8zM399.3 159.4h1.8v1.8h-1.8zM380.3 164.3h1.8v1.8h-1.8zM383.8 158.7h1.8v1.8h-1.8zM381.5 162.0h1.8v1.8h-1.8z" fill="#198c82"/>
<path d="M389.4 163.3h1.8v1.8h-1.8zM384.6 156.8h1.8v1.8h-1.8zM382.8 144.9h1.8v1.8h-1.8zM394.3 134.5h1.8v1.8h-1.8zM390.2 148.0h1.8v1.8h-1.8zM383.4 158.9h1.8v1.8h-1.8zM383.0 147.8h1.8v1.8h-1.8zM403.9 138.8h1.8v1.8h-1.8zM379.6 185.4h1.8v1.8h-1.8zM384.5 160.5h1.8v1.8h-1.8zM390.9 161.4h1.8v1.8h-1.8zM384.3 178.1h1.8v1.8h-1.8zM394.0 143.3h1.8v1.8h-1.8zM386.7 174.7h1.8v1.8h-1.8zM388.5 160.2h1.8v1.8h-1.8zM395.0 167.3h1.8v1.8h-1.8zM378.8 171.3h1.8v1.8h-1.8zM390.2 163.7h1.8v1.8h-1.8zM398.0 140.2h1.8v1.8h-1.8zM387.9 168.4h1.8v1.8h-1.8zM391.7 158.3h1.8v1.8h-1.8zM378.2 162.8h1.8v1.8h-1.8zM396.5 129.8h1.8v1.8h-1.8zM387.7 175.1h1.8v1.8h-1.8zM385.2 167.9h1.8v1.8h-1.8zM391.2 149.3h1.8v1.8h-1.8zM383.6 151.3h1.8v1.8h-1.8zM386.8 155.6h1.8v1.8h-1.8zM385.0 150.2h1.8v1.8h-1.8zM394.2 155.2h1.8v1.8h-1.8zM388.1 137.1h1.8v1.8h-1.8zM377.9 194.2h1.8v1.8h-1.8zM384.5 181.1h1.8v1.8h-1.8zM392.0 180.5h1.8v1.8h-1.8zM391.8 157.2h1.8v1.8h-1.8zM381.3 167.7h1.8v1.8h-1.8zM395.1 132.7h1.8v1.8h-1.8zM385.1 168.3h1.8v1.8h-1.8zM400.4 137.7h1.8v1.8h-1.8zM387.8 171.8h1.8v1.8h-1.8zM389.1 174.7h1.8v1.8h-1.8zM400.4 127.6h1.8v1.8h-1.8zM389.7 158.7h1.8v1.8h-1.8zM387.4 153.0h1.8v1.8h-1.8zM384.1 166.2h1.8v1.8h-1.8zM385.8 150.6h1.8v1.8h-1.8zM375.5 175.4h1.8v1.8h-1.8zM379.3 194.4h1.8v1.8h-1.8zM389.0 165.9h1.8v1.8h-1.8zM395.8 136.8h1.8v1.8h-1.8zM383.0 150.5h1.8v1.8h-1.8zM388.5 137.9h1.8v1.8h-1.8zM377.3 175.6h1.8v1.8h-1.8zM393.6 140.3h1.8v1.8h-1.8zM388.2 161.2h1.8v1.8h-1.8zM378.0 194.3h1.8v1.8h-1.8z" fill="#289646"/>
<path d="M387.5 149.8h1.8v1.8h-1.8zM384.5 166.1h1.8v1.8h-1.8zM387.3 126.6h1.8v1.8h-1.8zM389.5 165.2h1.8v1.8h-1.8zM389.2 145.7h1.8v1.8h-1.8zM393.6 171.5h1.8v1.8h-1.8zM383.7 158.8h1.8v1.8h-1.8zM394.7 145.5h1.8v1.8h-1.8zM377.4 175.2h1.8v1.8h-1.8zM380.4 171.7h1.8v1.8h-1.8zM386.2 165.9h1.8v1.8h-1.8zM384.1 150.3h1.8v1.8h-1.8zM395.3 159.7h1.8v1.8h-1.8zM379.4 192.8h1.8v1.8h-1.8zM387.4 133.0h1.8v1.8h-1.8zM372.4 168.4h1.8v1.8h-1.8zM392.5 155.3h1.8v1.8h-1.8zM392.8 161.2h1.8v1.8h-1.8zM373.6 188.1h1.8v1.8h-1.8zM374.5 163.3h1.8v1.8h-1.8zM390.7 161.2h1.8v1.8h-1.8zM385.6 158.6h1.8v1.8h-1.8zM379.8 166.7h1.8v1.8h-1.8zM388.6 155.8h1.8v1.8h-1.8zM381.1 157.7h1.8v1.8h-1.8zM388.4 170.2h1.8v1.8h-1.8zM382.8 177.3h1.8v1.8h-1.8zM394.7 153.9h1.8v1.8h-1.8zM394.6 157.2h1.8v1.8h-1.8zM375.2 168.8h1.8v1.8h-1.8zM401.5 146.2h1.8v1.8h-1.8zM382.4 170.6h1.8v1.8h-1.8zM378.3 174.5h1.8v1.8h-1.8zM393.5 172.4h1.8v1.8h-1.8zM387.9 153.8h1.8v1.8h-1.8z" fill="#8cc337"/>
<path d="M389.6 163.4h1.8v1.8h-1.8zM388.5 156.1h1.8v1.8h-1.8zM397.3 165.0h1.8v1.8h-1.8zM393.7 163.1h1.8v1.8h-1.8zM387.8 175.6h1.8v1.8h-1.8zM393.5 140.3h1.8v1.8h-1.8zM385.4 162.4h1.8v1.8h-1.8zM389.2 160.4h1.8v1.8h-1.8zM380.5 178.0h1.8v1.8h-1.8zM384.0 166.2h1.8v1.8h-1.8zM382.7 184.8h1.8v1.8h-1.8zM396.1 134.4h1.8v1.8h-1.8zM388.8 172.9h1.8v1.8h-1.8zM390.3 170.6h1.8v1.8h-1.8zM385.7 148.3h1.8v1.8h-1.8zM392.0 157.3h1.8v1.8h-1.8zM395.2 139.5h1.8v1.8h-1.8zM392.8 130.7h1.8v1.8h-1.8zM384.5 162.5h1.8v1.8h-1.8zM396.3 161.7h1.8v1.8h-1.8zM389.3 145.4h1.8v1.8h-1.8zM383.2 167.4h1.8v1.8h-1.8zM392.1 153.7h1.8v1.8h-1.8zM378.9 161.7h1.8v1.8h-1.8zM388.8 183.3h1.8v1.8h-1.8zM382.2 198.6h1.8v1.8h-1.8zM380.5 150.9h1.8v1.8h-1.8zM396.9 157.6h1.8v1.8h-1.8zM391.9 160.7h1.8v1.8h-1.8zM384.2 169.0h1.8v1.8h-1.8zM386.7 170.8h1.8v1.8h-1.8zM383.8 177.8h1.8v1.8h-1.8zM386.8 175.0h1.8v1.8h-1.8zM387.7 146.3h1.8v1.8h-1.8zM399.1 152.4h1.8v1.8h-1.8zM386.4 152.7h1.8v1.8h-1.8zM371.3 160.9h1.8v1.8h-1.8zM386.9 143.9h1.8v1.8h-1.8zM392.8 135.8h1.8v1.8h-1.8zM393.5 160.7h1.8v1.8h-1.8zM404.7 131.0h1.8v1.8h-1.8zM384.3 175.2h1.8v1.8h-1.8zM393.1 159.6h1.8v1.8h-1.8zM387.0 163.8h1.8v1.8h-1.8zM387.6 199.6h1.8v1.8h-1.8zM405.5 127.3h1.8v1.8h-1.8zM380.1 173.4h1.8v1.8h-1.8zM377.9 183.9h1.8v1.8h-1.8zM394.3 141.5h1.8v1.8h-1.8zM376.0 176.3h1.8v1.8h-1.8zM384.0 167.1h1.8v1.8h-1.8zM394.2 152.7h1.8v1.8h-1.8zM382.7 188.9h1.8v1.8h-1.8zM385.5 181.6h1.8v1.8h-1.8z" fill="#198c82"/>
<path d="M384.6 164.4h1.8v1.8h-1.8zM377.0 172.2h1.8v1.8h-1.8zM395.7 154.1h1.8v1.8h-1.8zM381.5 160.2h1.8v1.8h-1.8zM397.1 165.0h1.8v1.8h-1.8zM378.0 159.3h1.8v1.8h-1.8zM382.8 166.6h1.8v1.8h-1.8zM392.5 172.7h1.8v1.8h-1.8zM381.5 179.3h1.8v1.8h-1.8zM397.5 151.9h1.8v1.8h-1.8zM381.1 154.5h1.8v1.8h-1.8zM395.2 153.8h1.8v1.8h-1.8zM390.3 145.1h1.8v1.8h-1.8zM389.8 171.9h1.8v1.8h-1.8zM385.6 153.8h1.8v1.8h-1.8zM389.5 165.9h1.8v1.8h-1.8zM393.1 185.4h1.8v1.8h-1.8zM381.3 163.4h1.8v1.8h-1.8zM375.6 178.7h1.8v1.8h-1.8zM391.4 134.2h1.8v1.8h-1.8zM384.3 195.3h1.8v1.8h-1.8zM392.2 154.8h1.8v1.8h-1.8zM392.5 146.8h1.8v1.8h-1.8z" fill="#1e50a5"/>
<path d="M389.8 150.2h1.8v1.8h-1.8zM377.9 175.2h1.8v1.8h-1.8zM389.6 165.0h1.8v1.8h-1.8zM380.3 166.5h1.8v1.8h-1.8zM401.2 150.6h1.8v1.8h-1.8zM388.2 167.9h1.8v1.8h-1.8zM389.3 160.9h1.8v1.8h-1.8zM386.1 161.2h1.8v1.8h-1.8zM390.5 185.2h1.8v1.8h-1.8zM394.5 148.6h1.8v1.8h-1.8zM392.0 184.1h1.8v1.8h-1.8zM384.9 148.0h1.8v1.8h-1.8zM387.7 184.2h1.8v1.8h-1.8zM394.9 147.5h1.8v1.8h-1.8zM390.7 137.8h1.8v1.8h-1.8zM395.0 166.4h1.8v1.8h-1.8zM392.9 158.2h1.8v1.8h-1.8zM390.3 164.2h1.8v1.8h-1.8zM393.5 150.7h1.8v1.8h-1.8zM383.5 166.4h1.8v1.8h-1.8zM366.6 173.1h1.8v1.8h-1.8zM381.1 140.6h1.8v1.8h-1.8zM392.7 155.1h1.8v1.8h-1.8zM381.8 158.0h1.8v1.8h-1.8zM373.8 172.3h1.8v1.8h-1.8zM396.8 133.5h1.8v1.8h-1.8zM391.1 140.4h1.8v1.8h-1.8zM386.0 157.1h1.8v1.8h-1.8zM402.4 129.3h1.8v1.8h-1.8zM379.4 183.1h1.8v1.8h-1.8zM398.0 143.2h1.8v1.8h-1.8zM387.2 151.6h1.8v1.8h-1.8zM392.9 133.2h1.8v1.8h-1.8zM385.5 158.5h1.8v1.8h-1.8zM382.5 178.4h1.8v1.8h-1.8zM387.9 170.2h1.8v1.8h-1.8zM381.1 158.5h1.8v1.8h-1.8zM401.8 144.9h1.8v1.8h-1.8zM393.8 171.4h1.8v1.8h-1.8zM383.0 148.4h1.8v1.8h-1.8zM387.3 150.7h1.8v1.8h-1.8zM399.5 146.8h1.8v1.8h-1.8zM389.8 178.5h1.8v1.8h-1.8zM400.2 156.4h1.8v1.8h-1.8zM395.3 137.4h1.8v1.8h-1.8zM387.8 144.6h1.8v1.8h-1.8zM390.9 149.2h1.8v1.8h-1.8zM391.1 165.2h1.8v1.8h-1.8zM382.6 174.6h1.8v1.8h-1.8zM391.3 140.9h1.8v1.8h-1.8zM374.8 164.5h1.8v1.8h-1.8zM396.2 142.6h1.8v1.8h-1.8zM391.6 157.0h1.8v1.8h-1.8zM383.5 181.6h1.8v1.8h-1.8zM392.7 155.9h1.8v1.8h-1.8zM392.3 174.1h1.8v1.8h-1.8zM387.1 131.3h1.8v1.8h-1.8zM394.4 145.4h1.8v1.8h-1.8zM395.4 173.9h1.8v1.8h-1.8zM384.4 169.6h1.8v1.8h-1.8zM400.4 167.1h1.8v1.8h-1.8zM386.0 181.6h1.8v1.8h-1.8zM396.3 141.5h1.8v1.8h-1.8zM381.4 175.4h1.8v1.8h-1.8zM392.4 132.5h1.8v1.8h-1.8zM392.4 153.3h1.8v1.8h-1.8zM382.9 189.7h1.8v1.8h-1.8zM384.2 162.7h1.8v1.8h-1.8zM387.7 157.6h1.8v1.8h-1.8zM389.1 173.6h1.8v1.8h-1.8zM388.9 199.4h1.8v1.8h-1.8zM386.0 179.9h1.8v1.8h-1.8zM395.8 167.2h1.8v1.8h-1.8zM385.9 165.1h1.8v1.8h-1.8zM387.5 152.7h1.8v1.8h-1.8zM370.9 178.4h1.8v1.8h-1.8zM389.8 162.1h1.8v1.8h-1.8zM398.7 132.1h1.8v1.8h-1.8zM384.1 160.3h1.8v1.8h-1.8zM389.0 157.6h1.8v1.8h-1.8zM390.2 162.7h1.8v1.8h-1.8zM390.1 154.1h1.8v1.8h-1.8z" fill="#5faa32"/>
<path d="M379.0 188.7h1.8v1.8h-1.8zM389.5 159.7h1.8v1.8h-1.8zM386.0 204.2h1.8v1.8h-1.8zM381.8 171.6h1.8v1.8h-1.8zM376.8 166.0h1.8v1.8h-1.8zM391.3 139.8h1.8v1.8h-1.8zM397.6 143.0h1.8v1.8h-1.8zM388.6 158.5h1.8v1.8h-1.8zM392.0 160.7h1.8v1.8h-1.8zM377.4 195.7h1.8v1.8h-1.8zM395.1 145.9h1.8v1.8h-1.8zM392.3 147.9h1.8v1.8h-1.8zM385.3 160.3h1.8v1.8h-1.8zM391.5 144.1h1.8v1.8h-1.8zM387.9 154.3h1.8v1.8h-1.8zM378.1 136.4h1.8v1.8h-1.8zM380.7 165.8h1.8v1.8h-1.8zM382.7 162.9h1.8v1.8h-1.8zM379.5 176.4h1.8v1.8h-1.8zM382.6 165.7h1.8v1.8h-1.8zM389.7 142.2h1.8v1.8h-1.8zM385.5 151.9h1.8v1.8h-1.8zM395.3 154.6h1.8v1.8h-1.8zM395.8 142.5h1.8v1.8h-1.8zM380.0 173.0h1.8v1.8h-1.8zM375.6 173.3h1.8v1.8h-1.8zM368.7 180.9h1.8v1.8h-1.8zM383.2 168.7h1.8v1.8h-1.8zM386.3 165.2h1.8v1.8h-1.8zM388.3 164.3h1.8v1.8h-1.8zM385.5 141.5h1.8v1.8h-1.8zM372.1 198.2h1.8v1.8h-1.8zM402.2 146.8h1.8v1.8h-1.8zM374.0 184.0h1.8v1.8h-1.8zM390.4 157.9h1.8v1.8h-1.8zM398.0 152.9h1.8v1.8h-1.8zM384.8 152.7h1.8v1.8h-1.8z" fill="#198c82"/>
<path d="M386.6 164.3h1.8v1.8h-1.8zM380.7 178.3h1.8v1.8h-1.8zM389.8 178.6h1.8v1.8h-1.8zM389.2 167.3h1.8v1.8h-1.8zM383.9 170.2h1.8v1.8h-1.8zM381.6 173.6h1.8v1.8h-1.8zM376.6 165.6h1.8v1.8h-1.8zM390.0 223.0h1.8v1.8h-1.8zM399.4 165.4h1.8v1.8h-1.8zM391.4 148.4h1.8v1.8h-1.8zM385.7 164.5h1.8v1.8h-1.8zM396.1 147.9h1.8v1.8h-1.8zM400.8 124.0h1.8v1.8h-1.8zM379.8 186.3h1.8v1.8h-1.8zM391.2 157.7h1.8v1.8h-1.8zM393.1 163.5h1.8v1.8h-1.8zM379.6 188.4h1.8v1.8h-1.8zM388.9 153.4h1.8v1.8h-1.8zM394.1 164.6h1.8v1.8h-1.8zM388.2 185.9h1.8v1.8h-1.8zM390.0 174.3h1.8v1.8h-1.8zM390.6 155.1h1.8v1.8h-1.8zM393.9 152.4h1.8v1.8h-1.8zM384.9 162.5h1.8v1.8h-1.8zM396.2 154.9h1.8v1.8h-1.8zM389.9 156.9h1.8v1.8h-1.8zM394.3 154.3h1.8v1.8h-1.8zM389.2 156.5h1.8v1.8h-1.8zM402.1 148.9h1.8v1.8h-1.8zM381.9 151.7h1.8v1.8h-1.8zM396.1 153.4h1.8v1.8h-1.8zM386.1 166.2h1.8v1.8h-1.8zM395.4 155.9h1.8v1.8h-1.8zM384.9 181.5h1.8v1.8h-1.8zM391.8 144.9h1.8v1.8h-1.8zM386.5 169.7h1.8v1.8h-1.8zM392.4 141.8h1.8v1.8h-1.8zM394.2 150.1h1.8v1.8h-1.8zM374.4 179.6h1.8v1.8h-1.8zM376.3 157.3h1.8v1.8h-1.8zM394.6 162.7h1.8v1.8h-1.8zM397.2 153.4h1.8v1.8h-1.8zM374.5 178.0h1.8v1.8h-1.8zM383.8 156.5h1.8v1.8h-1.8zM389.9 144.2h1.8v1.8h-1.8z" fill="#289646"/>
<path d="M386.2 175.3h1.8v1.8h-1.8zM385.2 172.5h1.8v1.8h-1.8zM391.4 153.0h1.8v1.8h-1.8zM380.4 180.2h1.8v1.8h-1.8zM382.1 188.1h1.8v1.8h-1.8zM399.1 149.9h1.8v1.8h-1.8zM392.4 130.2h1.8v1.8h-1.8zM382.9 189.6h1.8v1.8h-1.8zM379.7 174.9h1.8v1.8h-1.8zM388.2 163.5h1.8v1.8h-1.8zM390.4 149.7h1.8v1.8h-1.8zM383.2 157.1h1.8v1.8h-1.8zM387.7 167.2h1.8v1.8h-1.8zM390.3 160.2h1.8v1.8h-1.8zM385.1 161.8h1.8v1.8h-1.8zM381.2 149.5h1.8v1.8h-1.8zM381.8 164.5h1.8v1.8h-1.8zM378.7 173.8h1.8v1.8h-1.8zM388.2 178.5h1.8v1.8h-1.8zM379.7 155.6h1.8v1.8h-1.8zM390.7 150.0h1.8v1.8h-1.8zM383.9 168.5h1.8v1.8h-1.8zM398.1 157.8h1.8v1.8h-1.8zM380.9 185.8h1.8v1.8h-1.8zM383.5 162.1h1.8v1.8h-1.8zM391.3 156.8h1.8v1.8h-1.8zM384.7 175.4h1.8v1.8h-1.8zM389.4 175.4h1.8v1.8h-1.8zM397.3 151.5h1.8v1.8h-1.8zM380.1 174.3h1.8v1.8h-1.8zM382.0 172.4h1.8v1.8h-1.8zM390.6 128.1h1.8v1.8h-1.8zM386.1 134.7h1.8v1.8h-1.8zM389.2 149.9h1.8v1.8h-1.8zM396.5 150.2h1.8v1.8h-1.8zM390.3 154.5h1.8v1.8h-1.8zM390.9 150.2h1.8v1.8h-1.8zM382.7 165.1h1.8v1.8h-1.8zM380.0 179.9h1.8v1.8h-1.8zM387.4 165.9h1.8v1.8h-1.8zM390.7 159.8h1.8v1.8h-1.8zM380.0 178.3h1.8v1.8h-1.8zM393.4 172.7h1.8v1.8h-1.8zM394.5 155.1h1.8v1.8h-1.8zM386.0 150.0h1.8v1.8h-1.8zM386.5 165.0h1.8v1.8h-1.8zM396.3 158.4h1.8v1.8h-1.8zM392.2 150.9h1.8v1.8h-1.8zM396.4 156.6h1.8v1.8h-1.8zM390.5 155.9h1.8v1.8h-1.8zM378.9 162.5h1.8v1.8h-1.8zM393.8 148.3h1.8v1.8h-1.8zM373.4 185.2h1.8v1.8h-1.8zM401.7 120.7h1.8v1.8h-1.8zM379.2 177.2h1.8v1.8h-1.8zM394.5 161.6h1.8v1.8h-1.8zM392.6 177.8h1.8v1.8h-1.8zM391.9 143.9h1.8v1.8h-1.8zM369.4 200.4h1.8v1.8h-1.8zM392.7 179.0h1.8v1.8h-1.8zM386.7 171.7h1.8v1.8h-1.8zM390.4 176.1h1.8v1.8h-1.8zM394.2 145.4h1.8v1.8h-1.8zM396.4 155.1h1.8v1.8h-1.8zM389.5 152.7h1.8v1.8h-1.8zM386.7 168.0h1.8v1.8h-1.8zM391.1 178.8h1.8v1.8h-1.8zM388.1 156.6h1.8v1.8h-1.8zM392.1 178.7h1.8v1.8h-1.8zM385.7 179.9h1.8v1.8h-1.8zM385.8 163.2h1.8v1.8h-1.8zM390.7 145.8h1.8v1.8h-1.8zM389.4 164.9h1.8v1.8h-1.8zM373.9 157.3h1.8v1.8h-1.8zM388.9 151.9h1.8v1.8h-1.8zM381.5 164.0h1.8v1.8h-1.8zM390.4 174.3h1.8v1.8h-1.8zM392.5 142.6h1.8v1.8h-1.8zM387.0 164.4h1.8v1.8h-1.8zM388.4 177.0h1.8v1.8h-1.8zM401.1 149.0h1.8v1.8h-1.8zM377.7 160.1h1.8v1.8h-1.8zM386.7 168.7h1.8v1.8h-1.8zM387.3 175.0h1.8v1.8h-1.8zM390.9 147.3h1.8v1.8h-1.8zM385.4 170.0h1.8v1.8h-1.8zM391.8 182.3h1.8v1.8h-1.8zM395.6 155.7h1.8v1.8h-1.8zM382.8 168.4h1.8v1.8h-1.8zM387.8 173.0h1.8v1.8h-1.8zM384.9 169.1h1.8v1.8h-1.8zM388.4 171.9h1.8v1.8h-1.8zM397.6 175.1h1.8v1.8h-1.8zM393.9 152.3h1.8v1.8h-1.8zM387.1 156.3h1.8v1.8h-1.8zM389.2 181.2h1.8v1.8h-1.8z" fill="#5faa32"/>
<path d="M390.0 153.0h1.8v1.8h-1.8zM374.7 176.2h1.8v1.8h-1.8zM386.0 172.0h1.8v1.8h-1.8zM387.4 157.4h1.8v1.8h-1.8zM402.1 140.4h1.8v1.8h-1.8zM390.3 155.9h1.8v1.8h-1.8zM387.5 182.1h1.8v1.8h-1.8zM388.8 173.4h1.8v1.8h-1.8zM377.3 195.4h1.8v1.8h-1.8zM394.9 172.2h1.8v1.8h-1.8zM397.8 166.6h1.8v1.8h-1.8zM386.3 161.5h1.8v1.8h-1.8zM394.3 178.1h1.8v1.8h-1.8zM387.6 135.6h1.8v1.8h-1.8zM386.3 159.9h1.8v1.8h-1.8zM381.7 152.9h1.8v1.8h-1.8zM385.9 166.8h1.8v1.8h-1.8zM387.6 162.9h1.8v1.8h-1.8zM386.7 170.6h1.8v1.8h-1.8zM388.3 156.5h1.8v1.8h-1.8zM392.3 157.5h1.8v1.8h-1.8zM389.6 168.6h1.8v1.8h-1.8z" fill="#1e50a5"/>
<path d="M391.9 178.9h1.8v1.8h-1.8zM381.2 184.2h1.8v1.8h-1.8zM388.2 160.8h1.8v1.8h-1.8zM373.2 172.6h1.8v1.8h-1.8zM403.0 137.4h1.8v1.8h-1.8zM387.0 164.0h1.8v1.8h-1.8zM390.1 164.3h1.8v1.8h-1.8zM383.3 160.8h1.8v1.8h-1.8zM399.0 173.8h1.8v1.8h-1.8zM387.3 172.8h1.8v1.8h-1.8zM388.7 167.1h1.8v1.8h-1.8zM392.6 161.7h1.8v1.8h-1.8zM394.7 140.0h1.8v1.8h-1.8zM388.8 152.1h1.8v1.8h-1.8zM377.7 205.9h1.8v1.8h-1.8zM381.9 193.1h1.8v1.8h-1.8zM391.3 171.5h1.8v1.8h-1.8zM385.7 171.9h1.8v1.8h-1.8zM390.9 156.0h1.8v1.8h-1.8zM381.1 179.2h1.8v1.8h-1.8zM390.3 153.2h1.8v1.8h-1.8zM385.6 150.4h1.8v1.8h-1.8zM391.2 128.9h1.8v1.8h-1.8zM392.3 172.3h1.8v1.8h-1.8zM397.2 152.8h1.8v1.8h-1.8zM400.7 154.0h1.8v1.8h-1.8zM388.9 168.0h1.8v1.8h-1.8zM387.2 155.3h1.8v1.8h-1.8zM380.9 173.3h1.8v1.8h-1.8zM397.2 136.1h1.8v1.8h-1.8zM386.5 172.2h1.8v1.8h-1.8zM390.7 166.5h1.8v1.8h-1.8zM387.4 163.6h1.8v1.8h-1.8zM375.5 164.6h1.8v1.8h-1.8zM387.7 162.5h1.8v1.8h-1.8zM387.6 164.0h1.8v1.8h-1.8zM393.5 149.3h1.8v1.8h-1.8zM385.7 166.9h1.8v1.8h-1.8zM378.0 171.3h1.8v1.8h-1.8zM376.5 173.5h1.8v1.8h-1.8zM399.2 146.6h1.8v1.8h-1.8zM389.7 153.6h1.8v1.8h-1.8zM380.7 175.2h1.8v1.8h-1.8zM385.9 155.0h1.8v1.8h-1.8zM386.2 141.7h1.8v1.8h-1.8zM385.3 179.9h1.8v1.8h-1.8zM386.9 160.2h1.8v1.8h-1.8zM382.4 147.7h1.8v1.8h-1.8zM385.0 154.3h1.8v1.8h-1.8zM397.1 150.9h1.8v1.8h-1.8z" fill="#8cc337"/>
<path d="M403.0 242.0h1.8v1.8h-1.8z" fill="#e0302a"/>
</g>
<rect x="205" y="39.5" width="246" height="266.5" fill="none" stroke="#000" stroke-width="2.2"/>
<ellipse cx="387.7" cy="152.5" rx="22.2" ry="58.6" fill="none" stroke="#111" stroke-width="1.5" transform="rotate(16 387.7 152.5)"/>
<text x="217.5" y="103.8" font-size="10.8" textLength="101.0" lengthAdjust="spacingAndGlyphs" fill="#1a1a1a" stroke="#1a1a1a" stroke-width="0.35">CD123, FceRI subset</text>
<text x="254.6" y="118.3" font-size="10.8" textLength="30.5" lengthAdjust="spacingAndGlyphs" fill="#1a1a1a" stroke="#1a1a1a" stroke-width="0.35">1,60%</text>
<line x1="197.5" y1="64.3" x2="205.0" y2="64.3" stroke="#000" stroke-width="1.4"/>
<line x1="197.5" y1="126.0" x2="205.0" y2="126.0" stroke="#000" stroke-width="1.4"/>
<line x1="197.5" y1="190.4" x2="205.0" y2="190.4" stroke="#000" stroke-width="1.4"/>
<line x1="201.0" y1="107.4" x2="205.0" y2="107.4" stroke="#000" stroke-width="1.0"/>
<line x1="201.0" y1="96.6" x2="205.0" y2="96.6" stroke="#000" stroke-width="1.0"/>
<line x1="201.0" y1="88.9" x2="205.0" y2="88.9" stroke="#000" stroke-width="1.0"/>
<line x1="201.0" y1="82.9" x2="205.0" y2="82.9" stroke="#000" stroke-width="1.0"/>
<line x1="201.0" y1="78.0" x2="205.0" y2="78.0" stroke="#000" stroke-width="1.0"/>
<line x1="201.0" y1="73.9" x2="205.0" y2="73.9" stroke="#000" stroke-width="1.0"/>
<line x1="201.0" y1="70.3" x2="205.0" y2="70.3" stroke="#000" stroke-width="1.0"/>
<line x1="201.0" y1="67.1" x2="205.0" y2="67.1" stroke="#000" stroke-width="1.0"/>
<line x1="201.0" y1="171.0" x2="205.0" y2="171.0" stroke="#000" stroke-width="1.0"/>
<line x1="201.0" y1="159.7" x2="205.0" y2="159.7" stroke="#000" stroke-width="1.0"/>
<line x1="201.0" y1="151.6" x2="205.0" y2="151.6" stroke="#000" stroke-width="1.0"/>
<line x1="201.0" y1="145.4" x2="205.0" y2="145.4" stroke="#000" stroke-width="1.0"/>
<line x1="201.0" y1="140.3" x2="205.0" y2="140.3" stroke="#000" stroke-width="1.0"/>
<line x1="201.0" y1="136.0" x2="205.0" y2="136.0" stroke="#000" stroke-width="1.0"/>
<line x1="201.0" y1="132.2" x2="205.0" y2="132.2" stroke="#000" stroke-width="1.0"/>
<line x1="201.0" y1="128.9" x2="205.0" y2="128.9" stroke="#000" stroke-width="1.0"/>
<line x1="201.0" y1="233.5" x2="205.0" y2="233.5" stroke="#000" stroke-width="1.0"/>
<line x1="201.0" y1="222.6" x2="205.0" y2="222.6" stroke="#000" stroke-width="1.0"/>
<line x1="201.0" y1="214.9" x2="205.0" y2="214.9" stroke="#000" stroke-width="1.0"/>
<line x1="201.0" y1="208.9" x2="205.0" y2="208.9" stroke="#000" stroke-width="1.0"/>
<line x1="201.0" y1="204.1" x2="205.0" y2="204.1" stroke="#000" stroke-width="1.0"/>
<line x1="201.0" y1="199.9" x2="205.0" y2="199.9" stroke="#000" stroke-width="1.0"/>
<line x1="201.0" y1="196.4" x2="205.0" y2="196.4" stroke="#000" stroke-width="1.0"/>
<line x1="201.0" y1="193.2" x2="205.0" y2="193.2" stroke="#000" stroke-width="1.0"/>
<line x1="201.0" y1="250.0" x2="205.0" y2="250.0" stroke="#000" stroke-width="1.3"/>
<line x1="201.0" y1="253.0" x2="205.0" y2="253.0" stroke="#000" stroke-width="1.3"/>
<line x1="201.0" y1="256.0" x2="205.0" y2="256.0" stroke="#000" stroke-width="1.3"/>
<line x1="201.0" y1="258.5" x2="205.0" y2="258.5" stroke="#000" stroke-width="1.3"/>
<line x1="201.0" y1="261.0" x2="205.0" y2="261.0" stroke="#000" stroke-width="1.3"/>
<line x1="201.0" y1="263.4" x2="205.0" y2="263.4" stroke="#000" stroke-width="1.3"/>
<line x1="201.0" y1="266.0" x2="205.0" y2="266.0" stroke="#000" stroke-width="1.3"/>
<line x1="201.0" y1="268.5" x2="205.0" y2="268.5" stroke="#000" stroke-width="1.3"/>
<line x1="201.0" y1="271.0" x2="205.0" y2="271.0" stroke="#000" stroke-width="1.3"/>
<line x1="201.0" y1="274.0" x2="205.0" y2="274.0" stroke="#000" stroke-width="1.3"/>
<line x1="201.0" y1="279.0" x2="205.0" y2="279.0" stroke="#000" stroke-width="1.3"/>
<line x1="201.0" y1="286.0" x2="205.0" y2="286.0" stroke="#000" stroke-width="1.3"/>
<line x1="201.0" y1="295.0" x2="205.0" y2="295.0" stroke="#000" stroke-width="1.3"/>
<line x1="197.0" y1="263.4" x2="205.0" y2="263.4" stroke="#000" stroke-width="1.8"/>
<rect x="200.5" y="258.0" width="4.5" height="18.0" fill="#111"/>
<rect x="255.2" y="306.0" width="10.2" height="7.5" fill="#111"/>
<text x="176.6" y="69.9" font-size="8.5" textLength="9.0" lengthAdjust="spacingAndGlyphs" fill="#1a1a1a" stroke="#1a1a1a" stroke-width="0.35">10</text>
<text x="188.0" y="62.3" font-size="7.5" fill="#1a1a1a" stroke="#1a1a1a" stroke-width="0.35">5</text>
<text x="176.6" y="131.6" font-size="8.5" textLength="9.0" lengthAdjust="spacingAndGlyphs" fill="#1a1a1a" stroke="#1a1a1a" stroke-width="0.35">10</text>
<text x="188.0" y="124.0" font-size="7.5" fill="#1a1a1a" stroke="#1a1a1a" stroke-width="0.35">4</text>
<text x="176.6" y="196.0" font-size="8.5" textLength="9.0" lengthAdjust="spacingAndGlyphs" fill="#1a1a1a" stroke="#1a1a1a" stroke-width="0.35">10</text>
<text x="188.0" y="188.4" font-size="7.5" fill="#1a1a1a" stroke="#1a1a1a" stroke-width="0.35">3</text>
<text x="180.0" y="267.5" font-size="8.5" fill="#1a1a1a" stroke="#1a1a1a" stroke-width="0.35">0</text>
<text x="155.3" y="233.2" font-size="10.3" textLength="114.5" lengthAdjust="spacingAndGlyphs" transform="rotate(-90 155.3 233.2)" fill="#222" stroke="#222" stroke-width="0.35">Comp-FITC-A :: FceRI</text>
<line x1="220.3" y1="306.0" x2="220.3" y2="312.5" stroke="#000" stroke-width="1.4"/>
<line x1="301.0" y1="306.0" x2="301.0" y2="312.5" stroke="#000" stroke-width="1.4"/>
<line x1="368.0" y1="306.0" x2="368.0" y2="312.5" stroke="#000" stroke-width="1.4"/>
<line x1="427.0" y1="306.0" x2="427.0" y2="312.5" stroke="#000" stroke-width="1.4"/>
<line x1="321.2" y1="306.0" x2="321.2" y2="310.0" stroke="#000" stroke-width="1.0"/>
<line x1="333.0" y1="306.0" x2="333.0" y2="310.0" stroke="#000" stroke-width="1.0"/>
<line x1="341.3" y1="306.0" x2="341.3" y2="310.0" stroke="#000" stroke-width="1.0"/>
<line x1="347.8" y1="306.0" x2="347.8" y2="310.0" stroke="#000" stroke-width="1.0"/>
<line x1="353.1" y1="306.0" x2="353.1" y2="310.0" stroke="#000" stroke-width="1.0"/>
<line x1="357.6" y1="306.0" x2="357.6" y2="310.0" stroke="#000" stroke-width="1.0"/>
<line x1="361.5" y1="306.0" x2="361.5" y2="310.0" stroke="#000" stroke-width="1.0"/>
<line x1="364.9" y1="306.0" x2="364.9" y2="310.0" stroke="#000" stroke-width="1.0"/>
<line x1="385.8" y1="306.0" x2="385.8" y2="310.0" stroke="#000" stroke-width="1.0"/>
<line x1="396.2" y1="306.0" x2="396.2" y2="310.0" stroke="#000" stroke-width="1.0"/>
<line x1="403.5" y1="306.0" x2="403.5" y2="310.0" stroke="#000" stroke-width="1.0"/>
<line x1="409.2" y1="306.0" x2="409.2" y2="310.0" stroke="#000" stroke-width="1.0"/>
<line x1="413.9" y1="306.0" x2="413.9" y2="310.0" stroke="#000" stroke-width="1.0"/>
<line x1="417.9" y1="306.0" x2="417.9" y2="310.0" stroke="#000" stroke-width="1.0"/>
<line x1="421.3" y1="306.0" x2="421.3" y2="310.0" stroke="#000" stroke-width="1.0"/>
<line x1="424.3" y1="306.0" x2="424.3" y2="310.0" stroke="#000" stroke-width="1.0"/>
<line x1="445.1" y1="306.0" x2="445.1" y2="310.0" stroke="#000" stroke-width="1.0"/>
<line x1="225.0" y1="306.0" x2="225.0" y2="310.0" stroke="#000" stroke-width="1.0"/>
<line x1="231.0" y1="306.0" x2="231.0" y2="310.0" stroke="#000" stroke-width="1.0"/>
<line x1="236.0" y1="306.0" x2="236.0" y2="310.0" stroke="#000" stroke-width="1.0"/>
<line x1="240.0" y1="306.0" x2="240.0" y2="310.0" stroke="#000" stroke-width="1.0"/>
<line x1="243.0" y1="306.0" x2="243.0" y2="310.0" stroke="#000" stroke-width="1.0"/>
<line x1="246.0" y1="306.0" x2="246.0" y2="310.0" stroke="#000" stroke-width="1.0"/>
<line x1="249.0" y1="306.0" x2="249.0" y2="310.0" stroke="#000" stroke-width="1.0"/>
<line x1="251.0" y1="306.0" x2="251.0" y2="310.0" stroke="#000" stroke-width="1.0"/>
<line x1="272.0" y1="306.0" x2="272.0" y2="310.0" stroke="#000" stroke-width="1.0"/>
<line x1="277.0" y1="306.0" x2="277.0" y2="310.0" stroke="#000" stroke-width="1.0"/>
<line x1="281.0" y1="306.0" x2="281.0" y2="310.0" stroke="#000" stroke-width="1.0"/>
<line x1="285.0" y1="306.0" x2="285.0" y2="310.0" stroke="#000" stroke-width="1.0"/>
<line x1="289.0" y1="306.0" x2="289.0" y2="310.0" stroke="#000" stroke-width="1.0"/>
<line x1="292.0" y1="306.0" x2="292.0" y2="310.0" stroke="#000" stroke-width="1.0"/>
<line x1="295.0" y1="306.0" x2="295.0" y2="310.0" stroke="#000" stroke-width="1.0"/>
<line x1="298.0" y1="306.0" x2="298.0" y2="310.0" stroke="#000" stroke-width="1.0"/>
<line x1="254.0" y1="306.0" x2="254.0" y2="311.5" stroke="#000" stroke-width="1.4"/>
<line x1="256.0" y1="306.0" x2="256.0" y2="311.5" stroke="#000" stroke-width="1.4"/>
<line x1="258.0" y1="306.0" x2="258.0" y2="311.5" stroke="#000" stroke-width="1.4"/>
<line x1="260.0" y1="306.0" x2="260.0" y2="311.5" stroke="#000" stroke-width="1.4"/>
<line x1="262.0" y1="306.0" x2="262.0" y2="311.5" stroke="#000" stroke-width="1.4"/>
<line x1="264.0" y1="306.0" x2="264.0" y2="311.5" stroke="#000" stroke-width="1.4"/>
<line x1="266.0" y1="306.0" x2="266.0" y2="311.5" stroke="#000" stroke-width="1.4"/>
<line x1="268.0" y1="306.0" x2="268.0" y2="311.5" stroke="#000" stroke-width="1.4"/>
<line x1="270.0" y1="306.0" x2="270.0" y2="311.5" stroke="#000" stroke-width="1.4"/>
<text x="216.4" y="329.7" font-size="8.5" textLength="14.0" lengthAdjust="spacingAndGlyphs" fill="#1a1a1a" stroke="#1a1a1a" stroke-width="0.35">-10</text>
<text x="233.0" y="322.5" font-size="7.5" fill="#1a1a1a" stroke="#1a1a1a" stroke-width="0.35">3</text>
<text x="261.8" y="329.7" font-size="8.5" fill="#1a1a1a" stroke="#1a1a1a" stroke-width="0.35">0</text>
<text x="299.0" y="329.7" font-size="8.5" textLength="9.0" lengthAdjust="spacingAndGlyphs" fill="#1a1a1a" stroke="#1a1a1a" stroke-width="0.35">10</text>
<text x="311.0" y="322.5" font-size="7.5" fill="#1a1a1a" stroke="#1a1a1a" stroke-width="0.35">3</text>
<text x="367.5" y="329.7" font-size="8.5" textLength="9.0" lengthAdjust="spacingAndGlyphs" fill="#1a1a1a" stroke="#1a1a1a" stroke-width="0.35">10</text>
<text x="378.5" y="322.5" font-size="7.5" fill="#1a1a1a" stroke="#1a1a1a" stroke-width="0.35">4</text>
<text x="426.0" y="329.7" font-size="8.5" textLength="9.0" lengthAdjust="spacingAndGlyphs" fill="#1a1a1a" stroke="#1a1a1a" stroke-width="0.35">10</text>
<text x="437.0" y="322.5" font-size="7.5" fill="#1a1a1a" stroke="#1a1a1a" stroke-width="0.35">5</text>
<text x="261.0" y="352.0" font-size="10.8" textLength="117.0" lengthAdjust="spacingAndGlyphs" fill="#222" stroke="#222" stroke-width="0.35">Comp-BV650-A :: CD123</text>
<defs><linearGradient id="cb" x1="0" x2="1" y1="0" y2="0"><stop offset="0" stop-color="#2a3a9c"/><stop offset="0.08" stop-color="#2450a6"/><stop offset="0.17" stop-color="#1a8a86"/><stop offset="0.27" stop-color="#2f9c48"/><stop offset="0.45" stop-color="#62ae30"/><stop offset="0.58" stop-color="#a6c62c"/><stop offset="0.67" stop-color="#ece41c"/><stop offset="0.77" stop-color="#f6b01c"/><stop offset="0.88" stop-color="#f07222"/><stop offset="1" stop-color="#e63228"/></linearGradient></defs>
<rect x="154.2" y="339.3" width="57.8" height="13.0" fill="url(#cb)"/>
<path d="M545.1 151.3h1.7v1.7h-1.7zM641.3 132.3h1.7v1.7h-1.7zM547.8 168.7h1.7v1.7h-1.7zM618.4 147.6h1.7v1.7h-1.7zM558.8 162.6h1.7v1.7h-1.7zM547.7 158.7h1.7v1.7h-1.7zM534.2 152.9h1.7v1.7h-1.7zM525.7 145.3h1.7v1.7h-1.7zM544.6 163.8h1.7v1.7h-1.7zM537.2 170.2h1.7v1.7h-1.7zM550.2 155.4h1.7v1.7h-1.7zM563.4 147.5h1.7v1.7h-1.7z" fill="#1e50a5"/>
<path d="M536.0 168.0h1.7v1.7h-1.7zM534.4 177.2h1.7v1.7h-1.7zM549.7 151.9h1.7v1.7h-1.7zM541.8 167.3h1.7v1.7h-1.7zM639.9 139.2h1.7v1.7h-1.7zM538.0 156.2h1.7v1.7h-1.7zM544.9 151.7h1.7v1.7h-1.7zM544.8 153.7h1.7v1.7h-1.7zM543.7 148.5h1.7v1.7h-1.7zM537.2 161.7h1.7v1.7h-1.7zM673.8 125.1h1.7v1.7h-1.7zM539.3 153.7h1.7v1.7h-1.7zM676.5 123.5h1.7v1.7h-1.7zM533.8 164.0h1.7v1.7h-1.7zM537.6 157.3h1.7v1.7h-1.7zM543.1 157.5h1.7v1.7h-1.7zM562.6 136.9h1.7v1.7h-1.7zM547.1 160.9h1.7v1.7h-1.7zM541.4 180.6h1.7v1.7h-1.7zM623.1 136.8h1.7v1.7h-1.7zM525.3 161.2h1.7v1.7h-1.7zM545.4 160.9h1.7v1.7h-1.7zM556.1 170.9h1.7v1.7h-1.7zM558.1 179.4h1.7v1.7h-1.7z" fill="#198c82"/>
<path d="M552.4 153.0h1.7v1.7h-1.7zM562.4 150.2h1.7v1.7h-1.7zM610.0 139.3h1.7v1.7h-1.7zM554.1 152.9h1.7v1.7h-1.7zM631.0 140.5h1.7v1.7h-1.7zM542.8 154.0h1.7v1.7h-1.7zM556.0 139.1h1.7v1.7h-1.7zM569.3 144.7h1.7v1.7h-1.7zM696.7 116.6h1.7v1.7h-1.7zM602.7 143.5h1.7v1.7h-1.7zM580.3 147.8h1.7v1.7h-1.7zM654.7 135.8h1.7v1.7h-1.7zM544.3 156.8h1.7v1.7h-1.7zM550.2 159.3h1.7v1.7h-1.7zM541.6 163.6h1.7v1.7h-1.7zM670.8 126.7h1.7v1.7h-1.7zM551.5 155.6h1.7v1.7h-1.7zM528.6 153.3h1.7v1.7h-1.7zM549.5 165.9h1.7v1.7h-1.7zM550.9 170.7h1.7v1.7h-1.7zM633.7 131.2h1.7v1.7h-1.7zM549.5 163.6h1.7v1.7h-1.7zM545.0 161.2h1.7v1.7h-1.7zM557.9 151.6h1.7v1.7h-1.7zM540.8 161.8h1.7v1.7h-1.7zM553.2 140.0h1.7v1.7h-1.7zM544.8 158.3h1.7v1.7h-1.7zM538.0 144.9h1.7v1.7h-1.7zM539.0 171.1h1.7v1.7h-1.7zM538.0 165.0h1.7v1.7h-1.7zM569.0 142.1h1.7v1.7h-1.7zM553.3 169.2h1.7v1.7h-1.7zM606.2 142.8h1.7v1.7h-1.7zM535.1 152.8h1.7v1.7h-1.7zM542.4 169.2h1.7v1.7h-1.7zM537.1 176.2h1.7v1.7h-1.7zM544.0 155.6h1.7v1.7h-1.7zM538.1 165.7h1.7v1.7h-1.7zM624.5 136.2h1.7v1.7h-1.7zM540.6 161.0h1.7v1.7h-1.7zM529.9 160.5h1.7v1.7h-1.7zM554.3 171.6h1.7v1.7h-1.7zM551.3 151.4h1.7v1.7h-1.7zM559.4 149.0h1.7v1.7h-1.7zM636.1 137.7h1.7v1.7h-1.7zM538.7 159.3h1.7v1.7h-1.7zM551.3 157.0h1.7v1.7h-1.7zM568.3 161.7h1.7v1.7h-1.7zM544.4 168.0h1.7v1.7h-1.7zM559.8 157.3h1.7v1.7h-1.7zM534.0 167.2h1.7v1.7h-1.7zM544.5 168.1h1.7v1.7h-1.7zM585.0 135.1h1.7v1.7h-1.7zM543.0 167.8h1.7v1.7h-1.7zM538.7 178.0h1.7v1.7h-1.7zM541.5 153.7h1.7v1.7h-1.7zM541.6 158.1h1.7v1.7h-1.7zM546.7 148.5h1.7v1.7h-1.7zM542.4 170.4h1.7v1.7h-1.7zM636.1 131.6h1.7v1.7h-1.7zM534.1 160.8h1.7v1.7h-1.7zM538.8 156.0h1.7v1.7h-1.7zM545.8 152.8h1.7v1.7h-1.7zM633.2 133.2h1.7v1.7h-1.7zM623.4 135.4h1.7v1.7h-1.7zM540.6 176.3h1.7v1.7h-1.7zM540.2 145.0h1.7v1.7h-1.7zM558.8 148.5h1.7v1.7h-1.7zM548.3 179.9h1.7v1.7h-1.7z" fill="#8cc337"/>
<path d="M557.6 152.0h1.7v1.7h-1.7zM539.1 184.3h1.7v1.7h-1.7zM602.6 137.4h1.7v1.7h-1.7zM548.2 151.2h1.7v1.7h-1.7zM537.3 156.3h1.7v1.7h-1.7zM647.9 133.9h1.7v1.7h-1.7zM530.4 165.0h1.7v1.7h-1.7zM549.0 148.5h1.7v1.7h-1.7zM543.9 164.3h1.7v1.7h-1.7zM527.8 188.3h1.7v1.7h-1.7zM585.9 144.0h1.7v1.7h-1.7zM545.3 153.1h1.7v1.7h-1.7zM537.9 155.4h1.7v1.7h-1.7zM533.3 154.6h1.7v1.7h-1.7zM541.1 146.1h1.7v1.7h-1.7zM550.5 146.1h1.7v1.7h-1.7zM548.1 174.8h1.7v1.7h-1.7zM532.2 169.8h1.7v1.7h-1.7zM551.5 154.9h1.7v1.7h-1.7zM543.0 142.8h1.7v1.7h-1.7zM541.5 182.0h1.7v1.7h-1.7zM527.1 166.2h1.7v1.7h-1.7zM577.6 141.6h1.7v1.7h-1.7zM539.1 152.9h1.7v1.7h-1.7zM541.8 164.3h1.7v1.7h-1.7zM530.5 153.0h1.7v1.7h-1.7zM529.8 147.3h1.7v1.7h-1.7zM546.9 157.0h1.7v1.7h-1.7zM548.2 166.6h1.7v1.7h-1.7zM571.8 144.9h1.7v1.7h-1.7zM654.3 130.9h1.7v1.7h-1.7zM551.5 164.2h1.7v1.7h-1.7zM555.8 168.5h1.7v1.7h-1.7z" fill="#289646"/>
<path d="M553.8 152.7h1.7v1.7h-1.7zM559.2 167.3h1.7v1.7h-1.7zM558.4 151.5h1.7v1.7h-1.7zM541.9 156.1h1.7v1.7h-1.7zM540.9 169.8h1.7v1.7h-1.7zM542.3 165.7h1.7v1.7h-1.7zM548.3 154.5h1.7v1.7h-1.7zM535.5 144.8h1.7v1.7h-1.7zM541.8 158.9h1.7v1.7h-1.7zM543.7 150.9h1.7v1.7h-1.7zM631.9 140.6h1.7v1.7h-1.7zM554.4 152.8h1.7v1.7h-1.7zM632.6 136.9h1.7v1.7h-1.7zM538.1 187.2h1.7v1.7h-1.7zM546.5 152.1h1.7v1.7h-1.7zM548.8 161.2h1.7v1.7h-1.7zM517.5 143.7h1.7v1.7h-1.7zM550.5 143.6h1.7v1.7h-1.7zM536.0 162.2h1.7v1.7h-1.7zM580.9 141.7h1.7v1.7h-1.7zM547.7 156.0h1.7v1.7h-1.7zM538.6 173.3h1.7v1.7h-1.7zM535.4 164.0h1.7v1.7h-1.7zM541.0 155.9h1.7v1.7h-1.7zM550.1 154.4h1.7v1.7h-1.7zM545.1 173.2h1.7v1.7h-1.7zM531.6 141.9h1.7v1.7h-1.7zM561.3 154.6h1.7v1.7h-1.7zM551.9 137.7h1.7v1.7h-1.7zM550.4 130.9h1.7v1.7h-1.7zM548.1 152.6h1.7v1.7h-1.7zM521.6 178.6h1.7v1.7h-1.7zM549.8 151.3h1.7v1.7h-1.7zM536.8 142.6h1.7v1.7h-1.7zM553.1 159.8h1.7v1.7h-1.7zM553.8 163.9h1.7v1.7h-1.7zM546.5 176.8h1.7v1.7h-1.7zM623.4 132.6h1.7v1.7h-1.7zM537.1 149.7h1.7v1.7h-1.7zM545.4 161.0h1.7v1.7h-1.7zM556.3 147.0h1.7v1.7h-1.7zM553.6 146.8h1.7v1.7h-1.7zM540.9 151.9h1.7v1.7h-1.7zM530.0 175.6h1.7v1.7h-1.7zM533.6 152.1h1.7v1.7h-1.7zM541.7 161.8h1.7v1.7h-1.7zM548.2 163.5h1.7v1.7h-1.7zM541.3 165.8h1.7v1.7h-1.7zM537.8 160.7h1.7v1.7h-1.7zM539.9 160.7h1.7v1.7h-1.7zM551.4 155.0h1.7v1.7h-1.7zM543.6 150.6h1.7v1.7h-1.7zM548.0 149.4h1.7v1.7h-1.7zM552.7 171.0h1.7v1.7h-1.7zM531.3 155.2h1.7v1.7h-1.7zM560.0 145.2h1.7v1.7h-1.7zM639.3 133.5h1.7v1.7h-1.7zM551.7 168.5h1.7v1.7h-1.7zM530.3 167.4h1.7v1.7h-1.7zM688.0 124.8h1.7v1.7h-1.7zM540.2 139.6h1.7v1.7h-1.7z" fill="#5faa32"/>
<path d="M672.0 117.0h1.7v1.7h-1.7z" fill="#e0302a"/>
<path d="M671.1 125.0h1.7v1.7h-1.7zM534.7 164.6h1.7v1.7h-1.7zM575.8 150.8h1.7v1.7h-1.7zM541.1 137.2h1.7v1.7h-1.7zM530.7 167.3h1.7v1.7h-1.7zM551.2 158.0h1.7v1.7h-1.7zM544.8 173.2h1.7v1.7h-1.7zM562.4 147.5h1.7v1.7h-1.7zM546.1 163.2h1.7v1.7h-1.7zM536.4 168.4h1.7v1.7h-1.7zM554.4 149.2h1.7v1.7h-1.7zM543.2 164.3h1.7v1.7h-1.7zM592.3 132.6h1.7v1.7h-1.7zM540.7 166.3h1.7v1.7h-1.7zM557.6 151.4h1.7v1.7h-1.7zM537.0 149.7h1.7v1.7h-1.7zM537.9 139.0h1.7v1.7h-1.7zM547.5 177.0h1.7v1.7h-1.7zM554.3 163.9h1.7v1.7h-1.7zM557.9 165.9h1.7v1.7h-1.7zM616.6 146.7h1.7v1.7h-1.7zM548.8 155.7h1.7v1.7h-1.7z" fill="#1e50a5"/>
<path d="M550.5 154.2h1.7v1.7h-1.7zM540.5 156.6h1.7v1.7h-1.7zM544.2 127.6h1.7v1.7h-1.7zM577.2 143.7h1.7v1.7h-1.7zM545.8 166.9h1.7v1.7h-1.7zM656.4 131.9h1.7v1.7h-1.7zM632.3 131.2h1.7v1.7h-1.7zM531.5 160.7h1.7v1.7h-1.7zM541.4 147.3h1.7v1.7h-1.7zM549.9 149.9h1.7v1.7h-1.7zM545.5 154.3h1.7v1.7h-1.7zM531.8 163.4h1.7v1.7h-1.7zM585.6 144.8h1.7v1.7h-1.7zM583.5 139.5h1.7v1.7h-1.7zM546.7 185.5h1.7v1.7h-1.7zM548.9 141.6h1.7v1.7h-1.7zM541.2 141.1h1.7v1.7h-1.7zM548.1 175.1h1.7v1.7h-1.7zM540.2 166.9h1.7v1.7h-1.7zM636.7 134.2h1.7v1.7h-1.7zM541.3 154.7h1.7v1.7h-1.7zM564.1 139.2h1.7v1.7h-1.7zM531.8 158.7h1.7v1.7h-1.7zM533.1 141.2h1.7v1.7h-1.7zM536.1 165.7h1.7v1.7h-1.7zM541.5 149.9h1.7v1.7h-1.7zM541.4 157.4h1.7v1.7h-1.7zM556.4 174.5h1.7v1.7h-1.7zM545.4 156.0h1.7v1.7h-1.7zM558.1 169.9h1.7v1.7h-1.7zM585.9 132.9h1.7v1.7h-1.7zM542.5 140.3h1.7v1.7h-1.7zM540.9 151.4h1.7v1.7h-1.7zM678.2 131.4h1.7v1.7h-1.7zM555.4 153.3h1.7v1.7h-1.7zM546.7 162.1h1.7v1.7h-1.7zM557.4 146.1h1.7v1.7h-1.7zM658.2 122.8h1.7v1.7h-1.7zM538.9 154.0h1.7v1.7h-1.7zM543.3 157.4h1.7v1.7h-1.7zM557.3 148.1h1.7v1.7h-1.7zM560.0 155.2h1.7v1.7h-1.7zM546.7 151.5h1.7v1.7h-1.7zM538.6 168.8h1.7v1.7h-1.7zM549.6 164.4h1.7v1.7h-1.7zM543.7 152.5h1.7v1.7h-1.7zM567.9 150.8h1.7v1.7h-1.7zM547.0 151.4h1.7v1.7h-1.7zM626.8 128.8h1.7v1.7h-1.7zM540.6 160.4h1.7v1.7h-1.7zM539.0 178.2h1.7v1.7h-1.7zM531.9 156.5h1.7v1.7h-1.7zM655.6 130.4h1.7v1.7h-1.7zM533.6 139.6h1.7v1.7h-1.7zM568.4 158.9h1.7v1.7h-1.7zM543.4 149.9h1.7v1.7h-1.7zM541.9 158.4h1.7v1.7h-1.7zM552.0 167.1h1.7v1.7h-1.7zM654.5 133.5h1.7v1.7h-1.7zM548.5 170.7h1.7v1.7h-1.7zM548.3 126.0h1.7v1.7h-1.7z" fill="#8cc337"/>
<path d="M637.4 135.2h1.7v1.7h-1.7zM600.5 141.8h1.7v1.7h-1.7zM552.8 156.0h1.7v1.7h-1.7zM547.7 159.9h1.7v1.7h-1.7zM530.6 150.8h1.7v1.7h-1.7zM536.8 152.1h1.7v1.7h-1.7zM538.3 153.2h1.7v1.7h-1.7zM562.0 243.0h1.7v1.7h-1.7zM539.6 156.8h1.7v1.7h-1.7zM560.5 152.4h1.7v1.7h-1.7zM547.7 149.0h1.7v1.7h-1.7zM552.1 146.9h1.7v1.7h-1.7zM549.0 162.8h1.7v1.7h-1.7zM550.7 137.9h1.7v1.7h-1.7zM535.8 168.1h1.7v1.7h-1.7zM532.1 148.8h1.7v1.7h-1.7zM545.5 146.3h1.7v1.7h-1.7zM597.9 152.5h1.7v1.7h-1.7zM535.2 175.9h1.7v1.7h-1.7zM547.6 159.3h1.7v1.7h-1.7zM559.3 159.4h1.7v1.7h-1.7zM549.4 161.7h1.7v1.7h-1.7zM543.8 170.3h1.7v1.7h-1.7zM556.2 138.0h1.7v1.7h-1.7zM545.2 156.4h1.7v1.7h-1.7zM549.2 146.4h1.7v1.7h-1.7zM546.6 175.1h1.7v1.7h-1.7zM540.4 153.0h1.7v1.7h-1.7zM550.2 169.8h1.7v1.7h-1.7zM549.0 151.8h1.7v1.7h-1.7zM537.0 153.7h1.7v1.7h-1.7zM543.8 172.9h1.7v1.7h-1.7zM560.2 143.7h1.7v1.7h-1.7zM675.7 129.1h1.7v1.7h-1.7zM548.1 160.8h1.7v1.7h-1.7zM558.2 148.9h1.7v1.7h-1.7zM538.9 157.0h1.7v1.7h-1.7zM547.2 160.2h1.7v1.7h-1.7zM564.3 160.6h1.7v1.7h-1.7zM554.3 186.9h1.7v1.7h-1.7zM597.0 176.0h1.7v1.7h-1.7zM542.1 172.0h1.7v1.7h-1.7zM551.7 145.7h1.7v1.7h-1.7zM542.8 158.3h1.7v1.7h-1.7zM548.5 149.1h1.7v1.7h-1.7zM576.9 141.0h1.7v1.7h-1.7zM549.9 167.1h1.7v1.7h-1.7zM562.6 151.2h1.7v1.7h-1.7zM549.6 147.4h1.7v1.7h-1.7zM528.7 147.9h1.7v1.7h-1.7zM542.4 169.2h1.7v1.7h-1.7zM542.8 183.6h1.7v1.7h-1.7zM548.7 150.8h1.7v1.7h-1.7zM553.1 141.9h1.7v1.7h-1.7zM560.7 143.2h1.7v1.7h-1.7zM549.0 159.6h1.7v1.7h-1.7zM532.9 159.1h1.7v1.7h-1.7z" fill="#5faa32"/>
<path d="M527.5 170.1h1.7v1.7h-1.7zM535.3 144.8h1.7v1.7h-1.7zM544.8 171.3h1.7v1.7h-1.7zM550.8 156.5h1.7v1.7h-1.7zM559.6 158.0h1.7v1.7h-1.7zM543.1 160.3h1.7v1.7h-1.7zM534.6 168.6h1.7v1.7h-1.7zM531.3 171.0h1.7v1.7h-1.7zM542.9 167.6h1.7v1.7h-1.7zM551.7 171.8h1.7v1.7h-1.7zM535.5 147.3h1.7v1.7h-1.7zM547.3 144.9h1.7v1.7h-1.7zM539.7 157.8h1.7v1.7h-1.7zM548.3 158.3h1.7v1.7h-1.7zM535.1 165.0h1.7v1.7h-1.7zM552.5 150.4h1.7v1.7h-1.7zM553.3 149.7h1.7v1.7h-1.7zM548.0 169.5h1.7v1.7h-1.7zM629.1 139.0h1.7v1.7h-1.7zM547.9 149.8h1.7v1.7h-1.7zM540.1 155.8h1.7v1.7h-1.7zM555.0 169.5h1.7v1.7h-1.7zM563.1 145.2h1.7v1.7h-1.7zM534.0 197.0h1.7v1.7h-1.7zM561.9 167.2h1.7v1.7h-1.7zM535.6 160.8h1.7v1.7h-1.7zM545.0 163.7h1.7v1.7h-1.7zM554.7 154.1h1.7v1.7h-1.7zM539.7 155.1h1.7v1.7h-1.7zM558.2 164.8h1.7v1.7h-1.7z" fill="#198c82"/>
<path d="M525.3 160.9h1.7v1.7h-1.7zM537.5 143.5h1.7v1.7h-1.7zM553.3 146.2h1.7v1.7h-1.7zM574.9 144.0h1.7v1.7h-1.7zM544.9 164.4h1.7v1.7h-1.7zM545.3 148.3h1.7v1.7h-1.7zM660.6 127.7h1.7v1.7h-1.7zM543.2 168.7h1.7v1.7h-1.7zM537.1 142.2h1.7v1.7h-1.7zM532.0 158.8h1.7v1.7h-1.7zM550.8 141.0h1.7v1.7h-1.7zM542.7 154.9h1.7v1.7h-1.7zM545.7 152.3h1.7v1.7h-1.7zM543.7 165.1h1.7v1.7h-1.7zM551.2 162.5h1.7v1.7h-1.7zM535.8 132.8h1.7v1.7h-1.7zM553.4 156.5h1.7v1.7h-1.7zM549.6 167.6h1.7v1.7h-1.7zM547.7 159.3h1.7v1.7h-1.7zM526.7 160.9h1.7v1.7h-1.7zM561.3 148.0h1.7v1.7h-1.7zM550.2 171.7h1.7v1.7h-1.7zM539.1 157.3h1.7v1.7h-1.7zM571.7 136.4h1.7v1.7h-1.7zM547.1 145.4h1.7v1.7h-1.7zM544.1 156.1h1.7v1.7h-1.7zM534.4 152.4h1.7v1.7h-1.7zM529.2 170.2h1.7v1.7h-1.7zM539.4 189.8h1.7v1.7h-1.7zM533.1 140.7h1.7v1.7h-1.7zM547.1 151.4h1.7v1.7h-1.7z" fill="#289646"/>
<path d="M546.9 165.1h1.7v1.7h-1.7zM553.9 130.8h1.7v1.7h-1.7zM542.7 164.8h1.7v1.7h-1.7zM537.0 137.6h1.7v1.7h-1.7zM538.0 159.8h1.7v1.7h-1.7zM584.8 144.7h1.7v1.7h-1.7zM538.8 170.4h1.7v1.7h-1.7zM546.1 136.3h1.7v1.7h-1.7zM557.3 141.6h1.7v1.7h-1.7zM538.2 156.5h1.7v1.7h-1.7zM542.0 134.6h1.7v1.7h-1.7zM557.9 143.7h1.7v1.7h-1.7zM606.0 135.1h1.7v1.7h-1.7zM550.4 132.3h1.7v1.7h-1.7zM535.6 146.4h1.7v1.7h-1.7zM543.7 174.5h1.7v1.7h-1.7zM558.0 144.1h1.7v1.7h-1.7zM538.2 164.0h1.7v1.7h-1.7zM542.2 169.6h1.7v1.7h-1.7zM533.9 169.3h1.7v1.7h-1.7zM588.8 149.6h1.7v1.7h-1.7zM685.0 130.2h1.7v1.7h-1.7zM534.5 164.1h1.7v1.7h-1.7zM560.7 139.5h1.7v1.7h-1.7zM524.8 163.2h1.7v1.7h-1.7zM562.4 144.3h1.7v1.7h-1.7zM557.5 154.6h1.7v1.7h-1.7zM559.3 132.5h1.7v1.7h-1.7zM541.6 166.9h1.7v1.7h-1.7zM549.3 145.4h1.7v1.7h-1.7zM544.0 155.2h1.7v1.7h-1.7zM548.4 140.7h1.7v1.7h-1.7zM564.4 138.9h1.7v1.7h-1.7zM552.0 155.2h1.7v1.7h-1.7zM544.6 139.3h1.7v1.7h-1.7zM542.9 140.9h1.7v1.7h-1.7zM550.9 155.0h1.7v1.7h-1.7zM553.8 162.2h1.7v1.7h-1.7zM549.0 187.5h1.7v1.7h-1.7zM585.0 150.9h1.7v1.7h-1.7zM552.1 157.8h1.7v1.7h-1.7zM657.6 127.2h1.7v1.7h-1.7zM537.6 180.4h1.7v1.7h-1.7zM557.3 149.6h1.7v1.7h-1.7zM657.6 126.1h1.7v1.7h-1.7zM544.8 165.0h1.7v1.7h-1.7zM553.7 155.0h1.7v1.7h-1.7zM536.8 180.6h1.7v1.7h-1.7zM546.6 161.9h1.7v1.7h-1.7zM615.3 133.6h1.7v1.7h-1.7zM615.0 151.0h1.7v1.7h-1.7zM543.3 158.2h1.7v1.7h-1.7zM679.2 126.4h1.7v1.7h-1.7zM545.9 156.0h1.7v1.7h-1.7zM680.2 121.7h1.7v1.7h-1.7zM556.1 152.0h1.7v1.7h-1.7zM555.5 139.8h1.7v1.7h-1.7zM530.6 183.1h1.7v1.7h-1.7zM550.4 144.5h1.7v1.7h-1.7zM567.1 143.1h1.7v1.7h-1.7zM545.9 161.9h1.7v1.7h-1.7zM529.9 147.1h1.7v1.7h-1.7zM550.3 165.3h1.7v1.7h-1.7zM541.8 143.3h1.7v1.7h-1.7z" fill="#5faa32"/>
<path d="M654.0 147.0h1.7v1.7h-1.7z" fill="#e0302a"/>
<path d="M552.8 143.5h1.7v1.7h-1.7zM545.7 150.7h1.7v1.7h-1.7zM577.9 152.9h1.7v1.7h-1.7zM551.8 184.2h1.7v1.7h-1.7zM611.8 138.6h1.7v1.7h-1.7zM547.9 139.7h1.7v1.7h-1.7zM541.6 152.9h1.7v1.7h-1.7zM569.7 137.8h1.7v1.7h-1.7zM548.9 157.4h1.7v1.7h-1.7zM528.1 159.9h1.7v1.7h-1.7zM530.0 171.8h1.7v1.7h-1.7zM538.6 151.7h1.7v1.7h-1.7zM544.5 165.5h1.7v1.7h-1.7zM550.4 145.9h1.7v1.7h-1.7zM554.4 152.4h1.7v1.7h-1.7zM563.4 160.0h1.7v1.7h-1.7zM560.6 143.4h1.7v1.7h-1.7zM539.3 152.4h1.7v1.7h-1.7zM546.0 174.1h1.7v1.7h-1.7zM536.5 152.3h1.7v1.7h-1.7zM555.5 127.5h1.7v1.7h-1.7zM540.5 149.8h1.7v1.7h-1.7zM555.0 158.2h1.7v1.7h-1.7zM558.8 155.4h1.7v1.7h-1.7zM543.8 147.3h1.7v1.7h-1.7zM543.1 177.4h1.7v1.7h-1.7zM551.5 148.6h1.7v1.7h-1.7zM552.0 136.6h1.7v1.7h-1.7zM560.2 146.1h1.7v1.7h-1.7zM548.1 148.5h1.7v1.7h-1.7zM548.3 156.1h1.7v1.7h-1.7zM560.6 147.9h1.7v1.7h-1.7zM547.8 162.6h1.7v1.7h-1.7zM563.6 173.7h1.7v1.7h-1.7zM530.7 159.5h1.7v1.7h-1.7zM530.6 155.3h1.7v1.7h-1.7z" fill="#289646"/>
<path d="M542.8 160.1h1.7v1.7h-1.7zM536.5 139.0h1.7v1.7h-1.7zM549.1 172.0h1.7v1.7h-1.7zM560.2 137.6h1.7v1.7h-1.7zM547.5 151.8h1.7v1.7h-1.7zM554.2 178.6h1.7v1.7h-1.7zM548.9 156.7h1.7v1.7h-1.7zM659.3 125.4h1.7v1.7h-1.7zM543.2 150.3h1.7v1.7h-1.7zM551.8 151.8h1.7v1.7h-1.7zM523.8 160.8h1.7v1.7h-1.7zM547.4 156.9h1.7v1.7h-1.7zM555.5 176.4h1.7v1.7h-1.7zM547.6 154.8h1.7v1.7h-1.7zM545.9 151.7h1.7v1.7h-1.7zM651.3 137.8h1.7v1.7h-1.7zM540.9 163.6h1.7v1.7h-1.7zM557.2 142.0h1.7v1.7h-1.7zM534.4 156.8h1.7v1.7h-1.7zM686.6 122.8h1.7v1.7h-1.7zM548.6 131.8h1.7v1.7h-1.7zM550.4 143.9h1.7v1.7h-1.7zM542.4 155.2h1.7v1.7h-1.7zM551.3 170.2h1.7v1.7h-1.7zM581.7 147.9h1.7v1.7h-1.7zM551.0 149.3h1.7v1.7h-1.7zM541.1 155.3h1.7v1.7h-1.7zM542.3 165.8h1.7v1.7h-1.7zM537.6 156.8h1.7v1.7h-1.7zM543.1 147.7h1.7v1.7h-1.7zM521.2 152.9h1.7v1.7h-1.7zM612.4 140.5h1.7v1.7h-1.7zM622.5 137.4h1.7v1.7h-1.7zM600.2 135.4h1.7v1.7h-1.7zM538.1 177.9h1.7v1.7h-1.7zM537.1 154.3h1.7v1.7h-1.7zM544.0 157.5h1.7v1.7h-1.7zM549.8 137.2h1.7v1.7h-1.7zM550.7 172.5h1.7v1.7h-1.7zM554.6 170.8h1.7v1.7h-1.7zM535.9 160.7h1.7v1.7h-1.7zM683.4 124.2h1.7v1.7h-1.7zM550.6 172.9h1.7v1.7h-1.7zM538.9 147.8h1.7v1.7h-1.7zM546.0 152.1h1.7v1.7h-1.7zM555.8 162.8h1.7v1.7h-1.7zM547.9 165.4h1.7v1.7h-1.7zM592.6 144.4h1.7v1.7h-1.7zM587.1 135.1h1.7v1.7h-1.7zM538.8 155.9h1.7v1.7h-1.7zM545.3 152.8h1.7v1.7h-1.7zM541.4 149.0h1.7v1.7h-1.7zM548.2 149.6h1.7v1.7h-1.7zM548.2 125.8h1.7v1.7h-1.7zM639.3 133.9h1.7v1.7h-1.7zM552.5 209.0h1.7v1.7h-1.7z" fill="#8cc337"/>
<path d="M635.8 134.3h1.7v1.7h-1.7zM554.0 152.3h1.7v1.7h-1.7zM543.3 147.1h1.7v1.7h-1.7zM558.6 136.4h1.7v1.7h-1.7zM666.2 125.3h1.7v1.7h-1.7zM550.2 166.0h1.7v1.7h-1.7zM533.5 154.7h1.7v1.7h-1.7zM542.4 157.6h1.7v1.7h-1.7zM533.4 147.5h1.7v1.7h-1.7zM554.7 165.0h1.7v1.7h-1.7zM525.3 184.3h1.7v1.7h-1.7zM530.8 142.0h1.7v1.7h-1.7zM545.3 147.3h1.7v1.7h-1.7zM542.2 166.3h1.7v1.7h-1.7zM552.3 165.4h1.7v1.7h-1.7zM542.0 168.4h1.7v1.7h-1.7zM546.2 171.7h1.7v1.7h-1.7zM539.4 170.8h1.7v1.7h-1.7zM540.4 174.9h1.7v1.7h-1.7zM550.8 145.5h1.7v1.7h-1.7zM681.0 119.0h1.7v1.7h-1.7zM542.2 161.8h1.7v1.7h-1.7zM562.9 155.7h1.7v1.7h-1.7zM544.8 154.4h1.7v1.7h-1.7zM552.4 135.8h1.7v1.7h-1.7z" fill="#198c82"/>
<path d="M542.2 183.1h1.7v1.7h-1.7zM559.0 141.5h1.7v1.7h-1.7zM546.5 152.5h1.7v1.7h-1.7zM557.3 151.0h1.7v1.7h-1.7zM538.4 150.8h1.7v1.7h-1.7zM642.2 132.4h1.7v1.7h-1.7zM551.5 157.6h1.7v1.7h-1.7zM547.5 147.1h1.7v1.7h-1.7zM555.7 186.5h1.7v1.7h-1.7zM557.2 144.7h1.7v1.7h-1.7zM558.8 177.2h1.7v1.7h-1.7zM654.8 123.4h1.7v1.7h-1.7zM548.2 182.8h1.7v1.7h-1.7zM541.3 174.3h1.7v1.7h-1.7zM533.6 162.8h1.7v1.7h-1.7zM548.0 156.8h1.7v1.7h-1.7zM542.6 162.2h1.7v1.7h-1.7zM553.8 148.1h1.7v1.7h-1.7zM682.3 116.8h1.7v1.7h-1.7z" fill="#1e50a5"/>
<path d="M533.3 172.4h1.7v1.7h-1.7zM536.1 171.6h1.7v1.7h-1.7zM542.1 151.9h1.7v1.7h-1.7zM550.0 148.0h1.7v1.7h-1.7zM535.7 133.7h1.7v1.7h-1.7zM540.6 167.1h1.7v1.7h-1.7zM542.3 137.8h1.7v1.7h-1.7zM547.6 152.1h1.7v1.7h-1.7zM536.0 148.9h1.7v1.7h-1.7zM537.9 149.3h1.7v1.7h-1.7zM565.2 149.4h1.7v1.7h-1.7zM538.9 161.0h1.7v1.7h-1.7zM534.9 147.1h1.7v1.7h-1.7zM555.4 179.6h1.7v1.7h-1.7zM561.2 143.0h1.7v1.7h-1.7zM542.3 171.2h1.7v1.7h-1.7zM547.3 164.1h1.7v1.7h-1.7z" fill="#1e50a5"/>
<path d="M552.1 166.4h1.7v1.7h-1.7zM545.4 173.8h1.7v1.7h-1.7zM550.9 184.8h1.7v1.7h-1.7zM539.1 161.7h1.7v1.7h-1.7zM526.9 182.1h1.7v1.7h-1.7zM531.0 149.6h1.7v1.7h-1.7zM549.0 167.4h1.7v1.7h-1.7zM576.5 149.1h1.7v1.7h-1.7zM526.1 177.8h1.7v1.7h-1.7zM548.7 170.1h1.7v1.7h-1.7zM683.5 123.4h1.7v1.7h-1.7zM537.4 159.7h1.7v1.7h-1.7zM563.6 144.5h1.7v1.7h-1.7zM544.0 161.0h1.7v1.7h-1.7zM545.0 149.8h1.7v1.7h-1.7zM566.2 151.1h1.7v1.7h-1.7zM545.7 145.4h1.7v1.7h-1.7zM544.0 156.8h1.7v1.7h-1.7zM548.0 147.4h1.7v1.7h-1.7zM544.6 168.2h1.7v1.7h-1.7zM552.0 180.3h1.7v1.7h-1.7zM529.0 175.8h1.7v1.7h-1.7zM543.4 165.2h1.7v1.7h-1.7zM534.5 166.7h1.7v1.7h-1.7zM543.9 166.5h1.7v1.7h-1.7zM554.9 165.0h1.7v1.7h-1.7zM542.5 153.4h1.7v1.7h-1.7zM533.6 163.7h1.7v1.7h-1.7zM552.0 157.9h1.7v1.7h-1.7zM535.2 161.4h1.7v1.7h-1.7zM533.5 143.0h1.7v1.7h-1.7zM554.3 147.1h1.7v1.7h-1.7zM556.6 153.4h1.7v1.7h-1.7zM547.1 150.0h1.7v1.7h-1.7zM547.5 147.4h1.7v1.7h-1.7zM630.1 133.7h1.7v1.7h-1.7zM551.8 146.3h1.7v1.7h-1.7zM569.7 153.1h1.7v1.7h-1.7zM540.6 140.3h1.7v1.7h-1.7zM519.7 149.5h1.7v1.7h-1.7zM553.2 177.4h1.7v1.7h-1.7zM644.6 139.0h1.7v1.7h-1.7zM555.3 188.4h1.7v1.7h-1.7zM544.1 167.9h1.7v1.7h-1.7zM538.6 159.4h1.7v1.7h-1.7zM532.4 167.4h1.7v1.7h-1.7zM533.7 132.4h1.7v1.7h-1.7zM554.0 141.0h1.7v1.7h-1.7zM523.3 169.6h1.7v1.7h-1.7zM620.3 138.3h1.7v1.7h-1.7zM551.2 160.4h1.7v1.7h-1.7zM581.6 142.9h1.7v1.7h-1.7zM539.2 156.7h1.7v1.7h-1.7zM555.6 149.6h1.7v1.7h-1.7z" fill="#5faa32"/>
<path d="M537.3 170.7h1.7v1.7h-1.7zM538.3 174.8h1.7v1.7h-1.7zM536.3 171.2h1.7v1.7h-1.7zM531.0 153.9h1.7v1.7h-1.7zM539.8 168.7h1.7v1.7h-1.7zM681.4 121.7h1.7v1.7h-1.7zM554.8 149.1h1.7v1.7h-1.7zM544.0 151.2h1.7v1.7h-1.7zM540.0 159.0h1.7v1.7h-1.7zM556.9 174.3h1.7v1.7h-1.7zM535.8 170.2h1.7v1.7h-1.7zM546.9 162.7h1.7v1.7h-1.7zM531.3 151.2h1.7v1.7h-1.7zM563.2 148.7h1.7v1.7h-1.7zM558.0 147.5h1.7v1.7h-1.7zM538.0 169.9h1.7v1.7h-1.7zM535.5 152.3h1.7v1.7h-1.7zM552.4 163.8h1.7v1.7h-1.7zM676.1 128.9h1.7v1.7h-1.7zM651.0 132.6h1.7v1.7h-1.7zM546.5 160.9h1.7v1.7h-1.7zM540.2 142.1h1.7v1.7h-1.7zM542.3 170.6h1.7v1.7h-1.7zM538.4 157.6h1.7v1.7h-1.7zM537.7 143.4h1.7v1.7h-1.7zM533.5 175.2h1.7v1.7h-1.7zM553.1 149.2h1.7v1.7h-1.7zM517.9 152.8h1.7v1.7h-1.7zM540.7 157.7h1.7v1.7h-1.7zM542.3 151.7h1.7v1.7h-1.7zM617.6 137.5h1.7v1.7h-1.7zM555.4 165.7h1.7v1.7h-1.7zM542.0 162.7h1.7v1.7h-1.7zM555.3 150.7h1.7v1.7h-1.7zM541.3 161.7h1.7v1.7h-1.7zM552.5 152.6h1.7v1.7h-1.7zM548.5 148.6h1.7v1.7h-1.7zM660.6 135.4h1.7v1.7h-1.7zM542.1 175.8h1.7v1.7h-1.7zM631.9 129.7h1.7v1.7h-1.7zM557.6 155.5h1.7v1.7h-1.7zM543.6 153.3h1.7v1.7h-1.7zM542.1 160.8h1.7v1.7h-1.7zM543.1 142.3h1.7v1.7h-1.7zM536.3 136.5h1.7v1.7h-1.7zM530.0 160.3h1.7v1.7h-1.7zM533.4 173.2h1.7v1.7h-1.7zM535.6 168.6h1.7v1.7h-1.7zM550.2 145.0h1.7v1.7h-1.7zM537.8 164.8h1.7v1.7h-1.7zM554.1 158.0h1.7v1.7h-1.7zM541.3 162.3h1.7v1.7h-1.7zM531.8 160.0h1.7v1.7h-1.7zM540.5 152.9h1.7v1.7h-1.7zM542.5 161.9h1.7v1.7h-1.7zM553.0 155.4h1.7v1.7h-1.7zM530.9 174.4h1.7v1.7h-1.7zM666.8 129.3h1.7v1.7h-1.7zM543.7 149.5h1.7v1.7h-1.7zM541.6 164.4h1.7v1.7h-1.7zM559.0 172.0h1.7v1.7h-1.7zM550.4 176.1h1.7v1.7h-1.7zM603.9 140.5h1.7v1.7h-1.7zM565.6 181.3h1.7v1.7h-1.7zM565.2 143.4h1.7v1.7h-1.7z" fill="#8cc337"/>
<path d="M556.1 168.1h1.7v1.7h-1.7zM667.9 124.7h1.7v1.7h-1.7zM536.3 162.2h1.7v1.7h-1.7zM530.3 150.3h1.7v1.7h-1.7zM540.1 184.1h1.7v1.7h-1.7zM538.7 166.7h1.7v1.7h-1.7zM622.0 140.4h1.7v1.7h-1.7zM529.4 144.0h1.7v1.7h-1.7zM546.6 198.6h1.7v1.7h-1.7zM532.5 147.3h1.7v1.7h-1.7zM535.3 165.3h1.7v1.7h-1.7zM556.0 131.4h1.7v1.7h-1.7zM539.9 177.4h1.7v1.7h-1.7zM547.7 158.8h1.7v1.7h-1.7zM537.3 176.2h1.7v1.7h-1.7zM550.0 149.1h1.7v1.7h-1.7zM545.9 159.1h1.7v1.7h-1.7zM553.5 142.4h1.7v1.7h-1.7zM548.2 140.2h1.7v1.7h-1.7zM541.8 160.0h1.7v1.7h-1.7zM541.2 171.4h1.7v1.7h-1.7zM532.1 169.4h1.7v1.7h-1.7zM532.3 159.0h1.7v1.7h-1.7zM534.7 159.1h1.7v1.7h-1.7zM533.8 170.7h1.7v1.7h-1.7zM549.0 168.5h1.7v1.7h-1.7zM555.3 184.0h1.7v1.7h-1.7zM678.6 123.8h1.7v1.7h-1.7zM684.0 120.0h1.7v1.7h-1.7zM544.7 157.2h1.7v1.7h-1.7zM694.0 126.4h1.7v1.7h-1.7zM544.0 149.5h1.7v1.7h-1.7zM529.3 157.7h1.7v1.7h-1.7zM546.2 167.6h1.7v1.7h-1.7zM552.4 142.6h1.7v1.7h-1.7zM537.9 165.2h1.7v1.7h-1.7zM678.0 119.0h1.7v1.7h-1.7z" fill="#289646"/>
<path d="M521.9 140.7h1.7v1.7h-1.7zM540.0 145.4h1.7v1.7h-1.7zM540.0 189.0h1.7v1.7h-1.7zM535.9 158.1h1.7v1.7h-1.7zM558.4 158.0h1.7v1.7h-1.7zM540.3 164.9h1.7v1.7h-1.7zM533.3 154.5h1.7v1.7h-1.7zM539.7 140.7h1.7v1.7h-1.7zM545.5 149.5h1.7v1.7h-1.7zM538.4 146.7h1.7v1.7h-1.7zM540.6 142.1h1.7v1.7h-1.7zM541.8 160.3h1.7v1.7h-1.7zM551.0 211.0h1.7v1.7h-1.7zM530.0 144.7h1.7v1.7h-1.7zM675.0 120.0h1.7v1.7h-1.7zM685.9 127.8h1.7v1.7h-1.7zM539.8 154.0h1.7v1.7h-1.7zM540.7 156.7h1.7v1.7h-1.7zM534.3 165.6h1.7v1.7h-1.7zM540.5 167.4h1.7v1.7h-1.7zM576.5 207.0h1.7v1.7h-1.7zM550.3 142.9h1.7v1.7h-1.7zM536.8 156.6h1.7v1.7h-1.7zM686.1 129.1h1.7v1.7h-1.7zM565.8 168.3h1.7v1.7h-1.7zM544.7 144.8h1.7v1.7h-1.7zM584.3 152.2h1.7v1.7h-1.7zM652.3 132.2h1.7v1.7h-1.7z" fill="#198c82"/>
<rect x="520.5" y="39.2" width="247.10000000000002" height="266.6" fill="none" stroke="#111" stroke-width="2.2"/>
<line x1="520.5" y1="203.3" x2="767.6" y2="203.3" stroke="#111" stroke-width="2.5"/>
<line x1="613.8" y1="203.3" x2="613.8" y2="305.8" stroke="#111" stroke-width="2.5"/>
<rect x="613.5" y="39.0" width="154.10000000000008" height="164.3" fill="none" stroke="#fc0000" stroke-width="6.2"/>
<line x1="514.0" y1="60.7" x2="520.5" y2="60.7" stroke="#000" stroke-width="1.3"/>
<text x="493.5" y="66.5" font-size="8.5" textLength="8.5" lengthAdjust="spacingAndGlyphs" fill="#1a1a1a" stroke="#1a1a1a" stroke-width="0.35">10</text>
<text x="504.6" y="58.5" font-size="7.5" fill="#1a1a1a" stroke="#1a1a1a" stroke-width="0.35">5</text>
<line x1="514.0" y1="111.5" x2="520.5" y2="111.5" stroke="#000" stroke-width="1.3"/>
<text x="493.5" y="117.3" font-size="8.5" textLength="8.5" lengthAdjust="spacingAndGlyphs" fill="#1a1a1a" stroke="#1a1a1a" stroke-width="0.35">10</text>
<text x="504.6" y="109.3" font-size="7.5" fill="#1a1a1a" stroke="#1a1a1a" stroke-width="0.35">4</text>
<line x1="514.0" y1="163.3" x2="520.5" y2="163.3" stroke="#000" stroke-width="1.3"/>
<text x="493.5" y="169.1" font-size="8.5" textLength="8.5" lengthAdjust="spacingAndGlyphs" fill="#1a1a1a" stroke="#1a1a1a" stroke-width="0.35">10</text>
<text x="504.6" y="161.1" font-size="7.5" fill="#1a1a1a" stroke="#1a1a1a" stroke-width="0.35">3</text>
<line x1="514.0" y1="215.2" x2="520.5" y2="215.2" stroke="#000" stroke-width="1.3"/>
<text x="493.5" y="221.0" font-size="8.5" textLength="8.5" lengthAdjust="spacingAndGlyphs" fill="#1a1a1a" stroke="#1a1a1a" stroke-width="0.35">10</text>
<text x="504.6" y="213.0" font-size="7.5" fill="#1a1a1a" stroke="#1a1a1a" stroke-width="0.35">2</text>
<line x1="514.0" y1="252.0" x2="520.5" y2="252.0" stroke="#000" stroke-width="1.3"/>
<text x="498.0" y="255.0" font-size="8.5" fill="#1a1a1a" stroke="#1a1a1a" stroke-width="0.35">0</text>
<line x1="514.0" y1="287.4" x2="520.5" y2="287.4" stroke="#000" stroke-width="1.3"/>
<text x="488.2" y="293.9" font-size="8.5" textLength="12.0" lengthAdjust="spacingAndGlyphs" fill="#1a1a1a" stroke="#1a1a1a" stroke-width="0.35">-10</text>
<text x="504.4" y="286.2" font-size="7.5" fill="#1a1a1a" stroke="#1a1a1a" stroke-width="0.35">2</text>
<line x1="517.0" y1="45.2" x2="520.5" y2="45.2" stroke="#000" stroke-width="0.9"/>
<line x1="517.0" y1="96.2" x2="520.5" y2="96.2" stroke="#000" stroke-width="0.9"/>
<line x1="517.0" y1="87.3" x2="520.5" y2="87.3" stroke="#000" stroke-width="0.9"/>
<line x1="517.0" y1="80.9" x2="520.5" y2="80.9" stroke="#000" stroke-width="0.9"/>
<line x1="517.0" y1="76.0" x2="520.5" y2="76.0" stroke="#000" stroke-width="0.9"/>
<line x1="517.0" y1="72.0" x2="520.5" y2="72.0" stroke="#000" stroke-width="0.9"/>
<line x1="517.0" y1="68.6" x2="520.5" y2="68.6" stroke="#000" stroke-width="0.9"/>
<line x1="517.0" y1="65.6" x2="520.5" y2="65.6" stroke="#000" stroke-width="0.9"/>
<line x1="517.0" y1="63.0" x2="520.5" y2="63.0" stroke="#000" stroke-width="0.9"/>
<line x1="517.0" y1="147.7" x2="520.5" y2="147.7" stroke="#000" stroke-width="0.9"/>
<line x1="517.0" y1="138.6" x2="520.5" y2="138.6" stroke="#000" stroke-width="0.9"/>
<line x1="517.0" y1="132.1" x2="520.5" y2="132.1" stroke="#000" stroke-width="0.9"/>
<line x1="517.0" y1="127.1" x2="520.5" y2="127.1" stroke="#000" stroke-width="0.9"/>
<line x1="517.0" y1="123.0" x2="520.5" y2="123.0" stroke="#000" stroke-width="0.9"/>
<line x1="517.0" y1="119.5" x2="520.5" y2="119.5" stroke="#000" stroke-width="0.9"/>
<line x1="517.0" y1="116.5" x2="520.5" y2="116.5" stroke="#000" stroke-width="0.9"/>
<line x1="517.0" y1="113.9" x2="520.5" y2="113.9" stroke="#000" stroke-width="0.9"/>
<line x1="517.0" y1="199.6" x2="520.5" y2="199.6" stroke="#000" stroke-width="0.9"/>
<line x1="517.0" y1="190.4" x2="520.5" y2="190.4" stroke="#000" stroke-width="0.9"/>
<line x1="517.0" y1="184.0" x2="520.5" y2="184.0" stroke="#000" stroke-width="0.9"/>
<line x1="517.0" y1="178.9" x2="520.5" y2="178.9" stroke="#000" stroke-width="0.9"/>
<line x1="517.0" y1="174.8" x2="520.5" y2="174.8" stroke="#000" stroke-width="0.9"/>
<line x1="517.0" y1="171.3" x2="520.5" y2="171.3" stroke="#000" stroke-width="0.9"/>
<line x1="517.0" y1="168.3" x2="520.5" y2="168.3" stroke="#000" stroke-width="0.9"/>
<line x1="517.0" y1="165.7" x2="520.5" y2="165.7" stroke="#000" stroke-width="0.9"/>
<line x1="516.5" y1="219.0" x2="520.5" y2="219.0" stroke="#000" stroke-width="1.0"/>
<line x1="516.5" y1="223.5" x2="520.5" y2="223.5" stroke="#000" stroke-width="1.0"/>
<line x1="516.5" y1="230.4" x2="520.5" y2="230.4" stroke="#000" stroke-width="1.0"/>
<line x1="516.5" y1="237.2" x2="520.5" y2="237.2" stroke="#000" stroke-width="1.0"/>
<line x1="516.5" y1="243.0" x2="520.5" y2="243.0" stroke="#000" stroke-width="1.0"/>
<line x1="516.5" y1="247.8" x2="520.5" y2="247.8" stroke="#000" stroke-width="1.0"/>
<line x1="516.5" y1="249.7" x2="520.5" y2="249.7" stroke="#000" stroke-width="1.0"/>
<line x1="516.5" y1="252.0" x2="520.5" y2="252.0" stroke="#000" stroke-width="1.0"/>
<line x1="516.5" y1="253.8" x2="520.5" y2="253.8" stroke="#000" stroke-width="1.0"/>
<line x1="516.5" y1="255.7" x2="520.5" y2="255.7" stroke="#000" stroke-width="1.0"/>
<line x1="516.5" y1="262.2" x2="520.5" y2="262.2" stroke="#000" stroke-width="1.0"/>
<line x1="516.5" y1="268.8" x2="520.5" y2="268.8" stroke="#000" stroke-width="1.0"/>
<line x1="516.5" y1="273.7" x2="520.5" y2="273.7" stroke="#000" stroke-width="1.0"/>
<line x1="516.5" y1="277.7" x2="520.5" y2="277.7" stroke="#000" stroke-width="1.0"/>
<line x1="516.5" y1="281.0" x2="520.5" y2="281.0" stroke="#000" stroke-width="1.0"/>
<line x1="516.5" y1="283.4" x2="520.5" y2="283.4" stroke="#000" stroke-width="1.0"/>
<line x1="516.5" y1="285.8" x2="520.5" y2="285.8" stroke="#000" stroke-width="1.0"/>
<line x1="516.5" y1="303.7" x2="520.5" y2="303.7" stroke="#000" stroke-width="1.0"/>
<text x="471.2" y="230.6" font-size="10.5" textLength="109.0" lengthAdjust="spacingAndGlyphs" transform="rotate(-90 471.2 230.6)" fill="#1a1a1a" stroke="#1a1a1a" stroke-width="0.35">Comp-PE-A :: CD203</text>
<line x1="526.0" y1="305.8" x2="526.0" y2="309.3" stroke="#000" stroke-width="0.9"/>
<line x1="530.0" y1="305.8" x2="530.0" y2="309.3" stroke="#000" stroke-width="0.9"/>
<line x1="539.0" y1="305.8" x2="539.0" y2="309.3" stroke="#000" stroke-width="0.9"/>
<line x1="545.0" y1="305.8" x2="545.0" y2="309.3" stroke="#000" stroke-width="0.9"/>
<line x1="552.0" y1="305.8" x2="552.0" y2="309.3" stroke="#000" stroke-width="0.9"/>
<line x1="556.0" y1="305.8" x2="556.0" y2="309.3" stroke="#000" stroke-width="0.9"/>
<line x1="559.0" y1="305.8" x2="559.0" y2="309.3" stroke="#000" stroke-width="0.9"/>
<line x1="562.0" y1="305.8" x2="562.0" y2="309.3" stroke="#000" stroke-width="0.9"/>
<line x1="565.0" y1="305.8" x2="565.0" y2="309.3" stroke="#000" stroke-width="0.9"/>
<line x1="568.0" y1="305.8" x2="568.0" y2="309.3" stroke="#000" stroke-width="0.9"/>
<line x1="570.5" y1="305.8" x2="570.5" y2="309.3" stroke="#000" stroke-width="0.9"/>
<line x1="578.0" y1="305.8" x2="578.0" y2="309.3" stroke="#000" stroke-width="0.9"/>
<line x1="583.0" y1="305.8" x2="583.0" y2="309.3" stroke="#000" stroke-width="0.9"/>
<line x1="588.0" y1="305.8" x2="588.0" y2="309.3" stroke="#000" stroke-width="0.9"/>
<line x1="592.0" y1="305.8" x2="592.0" y2="309.3" stroke="#000" stroke-width="0.9"/>
<line x1="595.0" y1="305.8" x2="595.0" y2="309.3" stroke="#000" stroke-width="0.9"/>
<line x1="598.0" y1="305.8" x2="598.0" y2="309.3" stroke="#000" stroke-width="0.9"/>
<line x1="601.0" y1="305.8" x2="601.0" y2="309.3" stroke="#000" stroke-width="0.9"/>
<line x1="603.0" y1="305.8" x2="603.0" y2="309.3" stroke="#000" stroke-width="0.9"/>
<line x1="605.0" y1="305.8" x2="605.0" y2="309.3" stroke="#000" stroke-width="0.9"/>
<line x1="607.0" y1="305.8" x2="607.0" y2="309.3" stroke="#000" stroke-width="0.9"/>
<line x1="609.0" y1="305.8" x2="609.0" y2="309.3" stroke="#000" stroke-width="0.9"/>
<line x1="611.0" y1="305.8" x2="611.0" y2="309.3" stroke="#000" stroke-width="0.9"/>
<line x1="623.0" y1="305.8" x2="623.0" y2="309.3" stroke="#000" stroke-width="0.9"/>
<line x1="629.0" y1="305.8" x2="629.0" y2="309.3" stroke="#000" stroke-width="0.9"/>
<line x1="634.0" y1="305.8" x2="634.0" y2="309.3" stroke="#000" stroke-width="0.9"/>
<line x1="638.0" y1="305.8" x2="638.0" y2="309.3" stroke="#000" stroke-width="0.9"/>
<line x1="641.0" y1="305.8" x2="641.0" y2="309.3" stroke="#000" stroke-width="0.9"/>
<line x1="644.0" y1="305.8" x2="644.0" y2="309.3" stroke="#000" stroke-width="0.9"/>
<line x1="671.0" y1="305.8" x2="671.0" y2="309.3" stroke="#000" stroke-width="0.9"/>
<line x1="680.0" y1="305.8" x2="680.0" y2="309.3" stroke="#000" stroke-width="0.9"/>
<line x1="687.0" y1="305.8" x2="687.0" y2="309.3" stroke="#000" stroke-width="0.9"/>
<line x1="692.0" y1="305.8" x2="692.0" y2="309.3" stroke="#000" stroke-width="0.9"/>
<line x1="696.0" y1="305.8" x2="696.0" y2="309.3" stroke="#000" stroke-width="0.9"/>
<line x1="698.0" y1="305.8" x2="698.0" y2="309.3" stroke="#000" stroke-width="0.9"/>
<line x1="716.0" y1="305.8" x2="716.0" y2="309.3" stroke="#000" stroke-width="0.9"/>
<line x1="725.0" y1="305.8" x2="725.0" y2="309.3" stroke="#000" stroke-width="0.9"/>
<line x1="732.0" y1="305.8" x2="732.0" y2="309.3" stroke="#000" stroke-width="0.9"/>
<line x1="737.0" y1="305.8" x2="737.0" y2="309.3" stroke="#000" stroke-width="0.9"/>
<line x1="741.0" y1="305.8" x2="741.0" y2="309.3" stroke="#000" stroke-width="0.9"/>
<line x1="744.0" y1="305.8" x2="744.0" y2="309.3" stroke="#000" stroke-width="0.9"/>
<line x1="757.0" y1="305.8" x2="757.0" y2="309.3" stroke="#000" stroke-width="0.9"/>
<line x1="762.0" y1="305.8" x2="762.0" y2="309.3" stroke="#000" stroke-width="0.9"/>
<line x1="534.0" y1="305.8" x2="534.0" y2="312.8" stroke="#000" stroke-width="1.3"/>
<line x1="572.9" y1="305.8" x2="572.9" y2="312.8" stroke="#000" stroke-width="1.3"/>
<line x1="646.6" y1="305.8" x2="646.6" y2="312.8" stroke="#000" stroke-width="1.3"/>
<line x1="700.3" y1="305.8" x2="700.3" y2="312.8" stroke="#000" stroke-width="1.3"/>
<line x1="747.6" y1="305.8" x2="747.6" y2="312.8" stroke="#000" stroke-width="1.3"/>
<rect x="604.2" y="305.8" width="8.8" height="5.5" fill="#111"/>
<rect x="515.5" y="247.7" width="5.0" height="8.5" fill="#111"/>
<text x="610.8" y="329.0" font-size="7.5" textLength="3.5" lengthAdjust="spacingAndGlyphs" fill="#1a1a1a" stroke="#1a1a1a" stroke-width="0.35">0</text>
<text x="698.6" y="329.0" font-size="8" textLength="9.0" lengthAdjust="spacingAndGlyphs" fill="#1a1a1a" stroke="#1a1a1a" stroke-width="0.35">10</text>
<text x="709.7" y="322.8" font-size="7" fill="#1a1a1a" stroke="#1a1a1a" stroke-width="0.35">4</text>
<text x="745.5" y="329.0" font-size="8" textLength="9.0" lengthAdjust="spacingAndGlyphs" fill="#1a1a1a" stroke="#1a1a1a" stroke-width="0.35">10</text>
<text x="757.0" y="322.8" font-size="7" fill="#1a1a1a" stroke="#1a1a1a" stroke-width="0.35">5</text>
<text x="525.6" y="73.3" font-size="26" textLength="67.5" lengthAdjust="spacingAndGlyphs" fill="#111">92,9%</text>
<text x="762.5" y="73.3" font-size="26" text-anchor="end" textLength="67.5" lengthAdjust="spacingAndGlyphs" fill="#111">6,78%</text>
<text x="526.3" y="293.2" font-size="26" textLength="66.5" lengthAdjust="spacingAndGlyphs" fill="#111">0,30%</text>
<text x="762.0" y="293.2" font-size="26" text-anchor="end" textLength="33.5" lengthAdjust="spacingAndGlyphs" fill="#111">0%</text>
<path d="M541.6 450.0h1.7v1.7h-1.7zM564.8 464.3h1.7v1.7h-1.7zM538.1 428.6h1.7v1.7h-1.7zM568.4 419.7h1.7v1.7h-1.7zM686.0 429.1h1.7v1.7h-1.7zM712.6 402.8h1.7v1.7h-1.7zM535.5 429.3h1.7v1.7h-1.7zM559.8 439.1h1.7v1.7h-1.7zM571.4 410.3h1.7v1.7h-1.7zM688.3 410.7h1.7v1.7h-1.7zM556.2 456.8h1.7v1.7h-1.7zM733.0 384.7h1.7v1.7h-1.7zM552.5 432.3h1.7v1.7h-1.7zM632.3 427.5h1.7v1.7h-1.7zM584.8 432.2h1.7v1.7h-1.7zM562.4 436.4h1.7v1.7h-1.7zM555.4 428.9h1.7v1.7h-1.7zM564.1 432.2h1.7v1.7h-1.7zM558.0 420.9h1.7v1.7h-1.7zM539.4 432.7h1.7v1.7h-1.7zM525.7 426.5h1.7v1.7h-1.7zM601.2 418.3h1.7v1.7h-1.7zM537.9 436.4h1.7v1.7h-1.7zM561.2 426.1h1.7v1.7h-1.7zM553.3 429.5h1.7v1.7h-1.7zM575.8 437.1h1.7v1.7h-1.7zM565.2 430.9h1.7v1.7h-1.7zM717.2 400.6h1.7v1.7h-1.7zM560.3 418.8h1.7v1.7h-1.7zM673.2 413.3h1.7v1.7h-1.7zM597.6 418.0h1.7v1.7h-1.7zM567.0 415.5h1.7v1.7h-1.7zM557.7 443.7h1.7v1.7h-1.7zM583.9 432.9h1.7v1.7h-1.7zM556.4 433.1h1.7v1.7h-1.7zM654.5 426.6h1.7v1.7h-1.7zM562.9 423.3h1.7v1.7h-1.7zM568.3 410.5h1.7v1.7h-1.7zM590.7 433.3h1.7v1.7h-1.7zM546.6 424.4h1.7v1.7h-1.7z" fill="#289646"/>
<path d="M553.5 438.2h1.7v1.7h-1.7zM574.5 426.9h1.7v1.7h-1.7zM562.8 422.8h1.7v1.7h-1.7zM565.8 411.5h1.7v1.7h-1.7zM566.3 462.9h1.7v1.7h-1.7zM576.9 419.3h1.7v1.7h-1.7zM556.4 430.8h1.7v1.7h-1.7zM564.7 426.3h1.7v1.7h-1.7zM593.9 434.9h1.7v1.7h-1.7zM614.2 419.8h1.7v1.7h-1.7zM552.2 437.6h1.7v1.7h-1.7zM548.2 426.9h1.7v1.7h-1.7zM557.9 429.5h1.7v1.7h-1.7zM554.8 423.5h1.7v1.7h-1.7zM569.1 423.8h1.7v1.7h-1.7zM553.6 429.8h1.7v1.7h-1.7zM561.1 470.2h1.7v1.7h-1.7zM538.7 445.1h1.7v1.7h-1.7zM604.5 414.7h1.7v1.7h-1.7zM547.9 459.4h1.7v1.7h-1.7zM527.4 444.6h1.7v1.7h-1.7zM563.8 426.9h1.7v1.7h-1.7zM541.3 463.2h1.7v1.7h-1.7zM591.2 441.4h1.7v1.7h-1.7zM640.0 426.4h1.7v1.7h-1.7zM540.4 437.1h1.7v1.7h-1.7zM558.6 424.6h1.7v1.7h-1.7zM559.2 462.5h1.7v1.7h-1.7zM712.2 405.3h1.7v1.7h-1.7zM697.4 420.6h1.7v1.7h-1.7zM546.1 440.0h1.7v1.7h-1.7zM703.5 414.2h1.7v1.7h-1.7zM548.3 440.3h1.7v1.7h-1.7zM556.2 433.4h1.7v1.7h-1.7zM540.7 449.0h1.7v1.7h-1.7zM547.8 438.1h1.7v1.7h-1.7zM554.5 447.6h1.7v1.7h-1.7zM552.3 437.4h1.7v1.7h-1.7zM560.8 423.7h1.7v1.7h-1.7zM549.8 443.9h1.7v1.7h-1.7z" fill="#198c82"/>
<path d="M562.9 422.6h1.7v1.7h-1.7zM563.8 427.6h1.7v1.7h-1.7zM631.0 419.1h1.7v1.7h-1.7zM568.7 421.2h1.7v1.7h-1.7zM641.1 416.4h1.7v1.7h-1.7zM543.3 422.1h1.7v1.7h-1.7zM531.4 434.5h1.7v1.7h-1.7zM676.1 419.7h1.7v1.7h-1.7zM531.6 422.5h1.7v1.7h-1.7zM543.8 426.2h1.7v1.7h-1.7zM550.7 431.1h1.7v1.7h-1.7zM599.2 427.7h1.7v1.7h-1.7zM548.9 429.8h1.7v1.7h-1.7zM553.3 426.1h1.7v1.7h-1.7zM567.2 419.7h1.7v1.7h-1.7zM559.1 440.2h1.7v1.7h-1.7zM552.7 429.9h1.7v1.7h-1.7zM631.2 418.5h1.7v1.7h-1.7zM537.8 440.4h1.7v1.7h-1.7zM613.1 437.6h1.7v1.7h-1.7zM546.3 484.6h1.7v1.7h-1.7zM564.4 423.2h1.7v1.7h-1.7zM535.6 418.2h1.7v1.7h-1.7zM548.7 445.3h1.7v1.7h-1.7zM527.2 424.3h1.7v1.7h-1.7zM545.7 432.3h1.7v1.7h-1.7zM545.1 443.4h1.7v1.7h-1.7zM587.5 418.0h1.7v1.7h-1.7zM534.9 432.6h1.7v1.7h-1.7zM562.6 426.0h1.7v1.7h-1.7zM671.0 453.0h1.7v1.7h-1.7zM553.4 419.4h1.7v1.7h-1.7zM581.5 429.6h1.7v1.7h-1.7zM544.3 425.2h1.7v1.7h-1.7zM561.3 428.8h1.7v1.7h-1.7zM659.4 421.8h1.7v1.7h-1.7zM546.0 456.6h1.7v1.7h-1.7zM608.9 433.4h1.7v1.7h-1.7zM537.4 475.2h1.7v1.7h-1.7zM689.5 421.4h1.7v1.7h-1.7zM546.0 424.5h1.7v1.7h-1.7zM522.1 457.1h1.7v1.7h-1.7zM549.1 413.9h1.7v1.7h-1.7zM546.5 489.4h1.7v1.7h-1.7zM547.2 432.2h1.7v1.7h-1.7zM552.3 467.1h1.7v1.7h-1.7zM597.6 427.5h1.7v1.7h-1.7zM544.2 481.8h1.7v1.7h-1.7zM565.2 439.2h1.7v1.7h-1.7zM547.9 455.4h1.7v1.7h-1.7zM538.6 427.0h1.7v1.7h-1.7zM587.7 431.8h1.7v1.7h-1.7zM634.5 418.1h1.7v1.7h-1.7zM553.8 429.7h1.7v1.7h-1.7zM548.1 446.6h1.7v1.7h-1.7zM544.2 445.9h1.7v1.7h-1.7zM632.1 422.9h1.7v1.7h-1.7zM555.8 422.5h1.7v1.7h-1.7zM628.9 425.2h1.7v1.7h-1.7zM557.8 414.7h1.7v1.7h-1.7zM557.1 430.2h1.7v1.7h-1.7zM544.0 433.3h1.7v1.7h-1.7zM539.7 450.6h1.7v1.7h-1.7zM555.3 424.3h1.7v1.7h-1.7zM563.3 453.3h1.7v1.7h-1.7zM551.0 451.5h1.7v1.7h-1.7zM597.4 421.4h1.7v1.7h-1.7zM587.8 418.0h1.7v1.7h-1.7zM548.9 422.0h1.7v1.7h-1.7zM560.3 434.8h1.7v1.7h-1.7zM545.8 443.8h1.7v1.7h-1.7zM705.6 407.8h1.7v1.7h-1.7zM567.2 424.6h1.7v1.7h-1.7zM559.9 424.6h1.7v1.7h-1.7zM585.4 421.4h1.7v1.7h-1.7zM562.8 428.9h1.7v1.7h-1.7zM536.7 430.6h1.7v1.7h-1.7zM562.3 433.1h1.7v1.7h-1.7zM600.0 424.1h1.7v1.7h-1.7z" fill="#8cc337"/>
<path d="M694.0 420.0h1.7v1.7h-1.7zM613.0 432.6h1.7v1.7h-1.7zM597.7 432.9h1.7v1.7h-1.7zM548.8 473.4h1.7v1.7h-1.7zM547.3 443.1h1.7v1.7h-1.7zM542.0 438.9h1.7v1.7h-1.7zM560.9 425.8h1.7v1.7h-1.7zM543.6 474.6h1.7v1.7h-1.7zM535.5 434.7h1.7v1.7h-1.7zM547.4 461.6h1.7v1.7h-1.7zM645.0 426.3h1.7v1.7h-1.7zM550.8 444.8h1.7v1.7h-1.7zM541.6 463.2h1.7v1.7h-1.7zM549.9 419.0h1.7v1.7h-1.7zM570.6 425.1h1.7v1.7h-1.7zM550.0 492.0h1.7v1.7h-1.7zM549.9 434.7h1.7v1.7h-1.7zM671.0 420.8h1.7v1.7h-1.7zM591.3 426.1h1.7v1.7h-1.7zM538.1 466.3h1.7v1.7h-1.7zM564.0 415.0h1.7v1.7h-1.7zM546.9 455.6h1.7v1.7h-1.7zM568.8 419.5h1.7v1.7h-1.7zM564.7 447.7h1.7v1.7h-1.7zM746.1 377.5h1.7v1.7h-1.7zM567.4 433.4h1.7v1.7h-1.7zM616.7 427.3h1.7v1.7h-1.7zM745.3 375.7h1.7v1.7h-1.7zM541.4 445.9h1.7v1.7h-1.7zM555.1 439.5h1.7v1.7h-1.7zM552.5 463.8h1.7v1.7h-1.7zM632.7 434.1h1.7v1.7h-1.7zM537.1 500.7h1.7v1.7h-1.7zM548.6 429.7h1.7v1.7h-1.7zM548.3 463.7h1.7v1.7h-1.7zM539.5 441.7h1.7v1.7h-1.7zM677.4 418.7h1.7v1.7h-1.7zM633.5 431.5h1.7v1.7h-1.7zM566.4 439.8h1.7v1.7h-1.7zM547.3 438.4h1.7v1.7h-1.7zM577.3 428.3h1.7v1.7h-1.7zM570.1 426.1h1.7v1.7h-1.7zM545.6 429.5h1.7v1.7h-1.7zM564.9 459.4h1.7v1.7h-1.7zM671.8 412.3h1.7v1.7h-1.7zM561.1 420.6h1.7v1.7h-1.7zM536.9 433.0h1.7v1.7h-1.7zM527.1 427.3h1.7v1.7h-1.7zM579.3 425.1h1.7v1.7h-1.7zM537.7 436.9h1.7v1.7h-1.7zM635.6 421.4h1.7v1.7h-1.7zM532.8 437.8h1.7v1.7h-1.7zM545.5 447.4h1.7v1.7h-1.7zM548.6 440.6h1.7v1.7h-1.7zM545.1 452.2h1.7v1.7h-1.7zM656.3 422.6h1.7v1.7h-1.7zM573.0 430.4h1.7v1.7h-1.7zM553.5 449.5h1.7v1.7h-1.7zM551.5 441.0h1.7v1.7h-1.7zM557.9 423.8h1.7v1.7h-1.7zM548.5 441.2h1.7v1.7h-1.7z" fill="#5faa32"/>
<path d="M651.0 454.0h1.7v1.7h-1.7z" fill="#e0302a"/>
<path d="M565.6 449.2h1.7v1.7h-1.7zM555.9 424.9h1.7v1.7h-1.7zM534.9 444.7h1.7v1.7h-1.7zM569.2 429.2h1.7v1.7h-1.7zM589.1 423.0h1.7v1.7h-1.7zM559.9 421.7h1.7v1.7h-1.7zM538.1 430.9h1.7v1.7h-1.7zM548.7 403.4h1.7v1.7h-1.7zM543.4 440.5h1.7v1.7h-1.7zM538.4 439.2h1.7v1.7h-1.7zM643.8 418.3h1.7v1.7h-1.7zM565.6 424.7h1.7v1.7h-1.7zM684.7 417.7h1.7v1.7h-1.7zM555.8 427.2h1.7v1.7h-1.7zM695.4 424.2h1.7v1.7h-1.7zM563.5 439.0h1.7v1.7h-1.7zM562.7 438.2h1.7v1.7h-1.7zM541.4 465.1h1.7v1.7h-1.7zM617.2 424.9h1.7v1.7h-1.7zM568.1 420.5h1.7v1.7h-1.7zM575.2 431.1h1.7v1.7h-1.7zM543.1 428.7h1.7v1.7h-1.7zM532.6 459.2h1.7v1.7h-1.7zM645.1 418.2h1.7v1.7h-1.7zM558.5 469.5h1.7v1.7h-1.7zM582.9 423.3h1.7v1.7h-1.7zM575.6 427.9h1.7v1.7h-1.7zM565.3 433.5h1.7v1.7h-1.7z" fill="#1e50a5"/>
<path d="M568.2 414.2h1.7v1.7h-1.7zM554.5 429.1h1.7v1.7h-1.7zM595.5 425.0h1.7v1.7h-1.7zM564.2 421.8h1.7v1.7h-1.7zM556.4 460.4h1.7v1.7h-1.7zM613.5 427.1h1.7v1.7h-1.7zM551.6 435.4h1.7v1.7h-1.7zM538.8 456.4h1.7v1.7h-1.7zM538.5 455.4h1.7v1.7h-1.7zM539.7 421.0h1.7v1.7h-1.7zM700.2 405.7h1.7v1.7h-1.7zM569.2 428.0h1.7v1.7h-1.7zM695.4 416.6h1.7v1.7h-1.7zM538.7 433.9h1.7v1.7h-1.7zM535.9 443.7h1.7v1.7h-1.7zM544.8 435.2h1.7v1.7h-1.7zM535.2 410.0h1.7v1.7h-1.7zM548.4 487.5h1.7v1.7h-1.7zM555.8 415.2h1.7v1.7h-1.7zM636.1 430.8h1.7v1.7h-1.7zM547.2 429.1h1.7v1.7h-1.7zM553.0 437.8h1.7v1.7h-1.7zM562.8 440.0h1.7v1.7h-1.7zM546.8 425.4h1.7v1.7h-1.7zM553.7 445.7h1.7v1.7h-1.7zM560.6 426.9h1.7v1.7h-1.7zM556.9 469.2h1.7v1.7h-1.7zM665.0 428.4h1.7v1.7h-1.7zM547.3 458.9h1.7v1.7h-1.7z" fill="#198c82"/>
<path d="M734.0 384.8h1.7v1.7h-1.7zM531.7 444.5h1.7v1.7h-1.7zM543.9 429.5h1.7v1.7h-1.7zM540.6 464.3h1.7v1.7h-1.7zM539.9 425.8h1.7v1.7h-1.7zM560.3 425.4h1.7v1.7h-1.7zM621.3 421.0h1.7v1.7h-1.7zM564.5 426.4h1.7v1.7h-1.7zM547.3 451.8h1.7v1.7h-1.7zM543.8 424.9h1.7v1.7h-1.7zM550.3 450.8h1.7v1.7h-1.7zM562.3 425.2h1.7v1.7h-1.7zM544.0 429.4h1.7v1.7h-1.7zM541.6 418.3h1.7v1.7h-1.7zM626.3 426.7h1.7v1.7h-1.7zM536.7 438.9h1.7v1.7h-1.7zM533.1 444.7h1.7v1.7h-1.7zM693.8 418.3h1.7v1.7h-1.7zM606.2 420.6h1.7v1.7h-1.7zM603.9 422.3h1.7v1.7h-1.7zM677.2 422.6h1.7v1.7h-1.7zM556.2 455.5h1.7v1.7h-1.7zM655.0 419.5h1.7v1.7h-1.7zM682.8 423.0h1.7v1.7h-1.7zM587.2 413.1h1.7v1.7h-1.7zM597.2 428.5h1.7v1.7h-1.7zM586.9 429.5h1.7v1.7h-1.7zM555.7 410.5h1.7v1.7h-1.7zM570.2 430.1h1.7v1.7h-1.7zM557.3 442.1h1.7v1.7h-1.7zM548.5 429.4h1.7v1.7h-1.7zM566.8 432.5h1.7v1.7h-1.7zM693.5 418.2h1.7v1.7h-1.7zM527.7 440.9h1.7v1.7h-1.7zM547.2 436.3h1.7v1.7h-1.7zM625.1 415.3h1.7v1.7h-1.7zM552.7 460.8h1.7v1.7h-1.7zM539.2 448.1h1.7v1.7h-1.7zM535.8 473.5h1.7v1.7h-1.7zM562.6 426.1h1.7v1.7h-1.7zM540.0 442.6h1.7v1.7h-1.7zM627.6 427.4h1.7v1.7h-1.7zM559.7 436.2h1.7v1.7h-1.7zM550.9 431.7h1.7v1.7h-1.7zM550.3 438.1h1.7v1.7h-1.7zM563.8 430.1h1.7v1.7h-1.7zM555.6 428.4h1.7v1.7h-1.7zM543.5 439.9h1.7v1.7h-1.7zM601.9 427.2h1.7v1.7h-1.7zM555.0 438.1h1.7v1.7h-1.7zM544.0 466.3h1.7v1.7h-1.7zM549.5 436.5h1.7v1.7h-1.7zM560.1 436.2h1.7v1.7h-1.7zM531.7 430.7h1.7v1.7h-1.7zM696.4 413.8h1.7v1.7h-1.7zM546.7 462.1h1.7v1.7h-1.7zM599.7 419.6h1.7v1.7h-1.7zM572.7 431.7h1.7v1.7h-1.7zM549.9 429.9h1.7v1.7h-1.7zM573.3 419.7h1.7v1.7h-1.7zM542.6 447.8h1.7v1.7h-1.7zM561.7 469.1h1.7v1.7h-1.7zM571.0 435.3h1.7v1.7h-1.7zM554.9 426.6h1.7v1.7h-1.7zM696.9 406.9h1.7v1.7h-1.7zM647.0 429.5h1.7v1.7h-1.7zM562.8 430.8h1.7v1.7h-1.7zM624.5 417.5h1.7v1.7h-1.7zM585.5 425.3h1.7v1.7h-1.7zM640.3 428.9h1.7v1.7h-1.7zM548.4 440.4h1.7v1.7h-1.7z" fill="#8cc337"/>
<path d="M550.5 441.9h1.7v1.7h-1.7zM551.0 433.2h1.7v1.7h-1.7zM566.9 451.0h1.7v1.7h-1.7zM561.4 436.1h1.7v1.7h-1.7zM580.7 436.9h1.7v1.7h-1.7zM554.6 428.4h1.7v1.7h-1.7zM552.8 453.0h1.7v1.7h-1.7zM635.6 421.5h1.7v1.7h-1.7zM685.4 424.5h1.7v1.7h-1.7zM543.9 420.8h1.7v1.7h-1.7zM565.6 416.8h1.7v1.7h-1.7zM725.5 392.9h1.7v1.7h-1.7zM650.7 418.7h1.7v1.7h-1.7zM563.6 437.5h1.7v1.7h-1.7zM576.3 423.8h1.7v1.7h-1.7zM560.2 451.5h1.7v1.7h-1.7zM636.6 414.4h1.7v1.7h-1.7zM567.6 430.9h1.7v1.7h-1.7zM541.6 440.4h1.7v1.7h-1.7z" fill="#1e50a5"/>
<path d="M547.5 445.8h1.7v1.7h-1.7zM587.0 429.2h1.7v1.7h-1.7zM558.7 448.0h1.7v1.7h-1.7zM607.1 421.2h1.7v1.7h-1.7zM570.0 425.8h1.7v1.7h-1.7zM611.1 417.9h1.7v1.7h-1.7zM671.9 432.5h1.7v1.7h-1.7zM545.3 425.3h1.7v1.7h-1.7zM562.4 432.7h1.7v1.7h-1.7zM544.8 413.7h1.7v1.7h-1.7zM548.2 454.4h1.7v1.7h-1.7zM547.6 435.6h1.7v1.7h-1.7zM557.3 436.4h1.7v1.7h-1.7zM649.1 413.1h1.7v1.7h-1.7zM527.8 464.5h1.7v1.7h-1.7zM555.8 427.2h1.7v1.7h-1.7zM557.5 466.9h1.7v1.7h-1.7zM555.5 442.2h1.7v1.7h-1.7zM576.3 426.1h1.7v1.7h-1.7zM734.5 386.4h1.7v1.7h-1.7zM691.8 416.2h1.7v1.7h-1.7zM542.8 437.6h1.7v1.7h-1.7zM563.2 436.4h1.7v1.7h-1.7zM543.5 436.1h1.7v1.7h-1.7zM541.4 451.3h1.7v1.7h-1.7zM550.1 435.4h1.7v1.7h-1.7zM543.8 435.6h1.7v1.7h-1.7zM548.4 450.0h1.7v1.7h-1.7zM584.3 429.7h1.7v1.7h-1.7zM690.0 417.8h1.7v1.7h-1.7zM555.7 432.2h1.7v1.7h-1.7zM553.7 426.2h1.7v1.7h-1.7zM548.8 439.9h1.7v1.7h-1.7zM553.9 469.6h1.7v1.7h-1.7zM571.3 428.8h1.7v1.7h-1.7zM727.2 397.5h1.7v1.7h-1.7zM538.6 449.5h1.7v1.7h-1.7zM543.5 448.7h1.7v1.7h-1.7zM547.9 428.2h1.7v1.7h-1.7zM578.5 430.4h1.7v1.7h-1.7zM594.9 428.2h1.7v1.7h-1.7zM534.6 431.5h1.7v1.7h-1.7zM531.1 432.2h1.7v1.7h-1.7zM593.1 432.2h1.7v1.7h-1.7zM551.1 428.5h1.7v1.7h-1.7zM566.3 418.6h1.7v1.7h-1.7zM569.8 436.6h1.7v1.7h-1.7zM550.9 449.3h1.7v1.7h-1.7zM551.2 436.9h1.7v1.7h-1.7z" fill="#289646"/>
<path d="M554.1 456.2h1.7v1.7h-1.7zM548.4 471.1h1.7v1.7h-1.7zM562.5 426.0h1.7v1.7h-1.7zM560.2 462.4h1.7v1.7h-1.7zM562.8 458.4h1.7v1.7h-1.7zM534.6 472.9h1.7v1.7h-1.7zM551.4 434.1h1.7v1.7h-1.7zM530.8 433.0h1.7v1.7h-1.7zM672.5 418.8h1.7v1.7h-1.7zM534.6 447.6h1.7v1.7h-1.7zM557.0 419.3h1.7v1.7h-1.7zM568.3 427.6h1.7v1.7h-1.7zM556.9 427.8h1.7v1.7h-1.7zM540.8 439.2h1.7v1.7h-1.7zM552.1 434.3h1.7v1.7h-1.7zM542.6 469.0h1.7v1.7h-1.7zM546.5 417.5h1.7v1.7h-1.7zM592.0 425.4h1.7v1.7h-1.7zM588.3 425.1h1.7v1.7h-1.7zM559.4 465.8h1.7v1.7h-1.7zM655.7 422.0h1.7v1.7h-1.7zM554.2 443.1h1.7v1.7h-1.7zM537.2 422.1h1.7v1.7h-1.7zM547.0 404.0h1.7v1.7h-1.7zM586.1 424.7h1.7v1.7h-1.7zM634.2 418.2h1.7v1.7h-1.7zM652.0 423.7h1.7v1.7h-1.7zM728.6 390.7h1.7v1.7h-1.7zM547.6 425.8h1.7v1.7h-1.7zM555.1 445.0h1.7v1.7h-1.7zM561.1 432.4h1.7v1.7h-1.7zM558.7 436.0h1.7v1.7h-1.7zM564.1 428.3h1.7v1.7h-1.7zM734.9 383.1h1.7v1.7h-1.7zM540.6 456.0h1.7v1.7h-1.7zM665.9 421.4h1.7v1.7h-1.7zM618.1 423.2h1.7v1.7h-1.7zM552.8 441.3h1.7v1.7h-1.7zM537.1 469.7h1.7v1.7h-1.7zM688.2 413.7h1.7v1.7h-1.7zM552.7 431.9h1.7v1.7h-1.7zM558.6 434.0h1.7v1.7h-1.7zM596.8 428.4h1.7v1.7h-1.7zM541.5 433.8h1.7v1.7h-1.7zM542.4 438.6h1.7v1.7h-1.7zM553.7 454.6h1.7v1.7h-1.7zM539.2 437.7h1.7v1.7h-1.7zM667.5 428.5h1.7v1.7h-1.7zM548.2 417.8h1.7v1.7h-1.7zM552.4 444.4h1.7v1.7h-1.7zM549.3 462.2h1.7v1.7h-1.7zM555.8 432.7h1.7v1.7h-1.7zM575.9 427.6h1.7v1.7h-1.7zM546.1 446.9h1.7v1.7h-1.7zM569.0 436.3h1.7v1.7h-1.7zM589.4 428.5h1.7v1.7h-1.7zM559.3 426.6h1.7v1.7h-1.7zM544.5 428.6h1.7v1.7h-1.7zM672.3 423.7h1.7v1.7h-1.7zM557.8 438.2h1.7v1.7h-1.7zM635.1 420.9h1.7v1.7h-1.7zM547.0 448.0h1.7v1.7h-1.7zM544.7 421.5h1.7v1.7h-1.7zM560.8 450.1h1.7v1.7h-1.7zM550.5 424.1h1.7v1.7h-1.7zM537.3 430.5h1.7v1.7h-1.7zM731.5 388.5h1.7v1.7h-1.7zM553.4 444.1h1.7v1.7h-1.7zM544.1 425.8h1.7v1.7h-1.7zM552.6 464.0h1.7v1.7h-1.7zM546.4 423.1h1.7v1.7h-1.7zM540.3 441.1h1.7v1.7h-1.7zM631.8 429.5h1.7v1.7h-1.7zM549.3 439.6h1.7v1.7h-1.7zM559.2 441.6h1.7v1.7h-1.7zM555.3 433.7h1.7v1.7h-1.7zM560.6 428.6h1.7v1.7h-1.7zM550.5 465.9h1.7v1.7h-1.7zM541.8 462.8h1.7v1.7h-1.7zM632.3 422.6h1.7v1.7h-1.7zM555.4 420.4h1.7v1.7h-1.7z" fill="#5faa32"/>
<path d="M617.8 426.4h1.7v1.7h-1.7zM750.4 375.1h1.7v1.7h-1.7zM573.3 434.2h1.7v1.7h-1.7zM617.6 426.8h1.7v1.7h-1.7zM544.8 460.8h1.7v1.7h-1.7zM560.8 424.1h1.7v1.7h-1.7zM555.4 437.6h1.7v1.7h-1.7zM562.7 446.9h1.7v1.7h-1.7zM555.4 434.9h1.7v1.7h-1.7zM567.3 429.6h1.7v1.7h-1.7zM536.4 454.3h1.7v1.7h-1.7zM545.2 453.6h1.7v1.7h-1.7zM647.6 423.7h1.7v1.7h-1.7zM558.5 440.2h1.7v1.7h-1.7zM556.8 439.0h1.7v1.7h-1.7zM648.1 423.7h1.7v1.7h-1.7zM549.8 410.2h1.7v1.7h-1.7zM550.4 434.2h1.7v1.7h-1.7zM558.5 426.3h1.7v1.7h-1.7zM563.1 436.8h1.7v1.7h-1.7zM548.3 428.3h1.7v1.7h-1.7zM572.5 437.4h1.7v1.7h-1.7zM708.1 410.9h1.7v1.7h-1.7zM579.6 426.2h1.7v1.7h-1.7zM548.4 460.5h1.7v1.7h-1.7zM541.7 445.5h1.7v1.7h-1.7zM556.5 429.5h1.7v1.7h-1.7zM538.6 452.0h1.7v1.7h-1.7zM570.2 427.3h1.7v1.7h-1.7zM635.8 423.0h1.7v1.7h-1.7zM546.0 439.7h1.7v1.7h-1.7zM556.8 433.8h1.7v1.7h-1.7zM553.2 423.1h1.7v1.7h-1.7zM636.2 416.9h1.7v1.7h-1.7zM545.1 436.0h1.7v1.7h-1.7zM550.3 426.6h1.7v1.7h-1.7zM529.7 428.8h1.7v1.7h-1.7zM557.5 440.5h1.7v1.7h-1.7z" fill="#198c82"/>
<path d="M544.2 443.3h1.7v1.7h-1.7zM552.9 432.9h1.7v1.7h-1.7zM633.1 417.9h1.7v1.7h-1.7zM565.7 427.9h1.7v1.7h-1.7zM659.6 412.6h1.7v1.7h-1.7zM559.0 436.6h1.7v1.7h-1.7zM560.3 461.4h1.7v1.7h-1.7zM562.6 463.5h1.7v1.7h-1.7zM594.4 429.0h1.7v1.7h-1.7zM555.9 427.1h1.7v1.7h-1.7zM701.3 412.3h1.7v1.7h-1.7zM545.3 426.8h1.7v1.7h-1.7zM569.1 425.6h1.7v1.7h-1.7zM579.5 419.3h1.7v1.7h-1.7zM563.5 423.2h1.7v1.7h-1.7zM655.1 407.6h1.7v1.7h-1.7zM572.2 437.7h1.7v1.7h-1.7zM544.4 443.4h1.7v1.7h-1.7zM573.5 434.0h1.7v1.7h-1.7zM552.2 464.0h1.7v1.7h-1.7zM612.8 429.0h1.7v1.7h-1.7zM543.2 441.1h1.7v1.7h-1.7z" fill="#1e50a5"/>
<path d="M561.0 447.0h1.7v1.7h-1.7zM697.0 425.0h1.7v1.7h-1.7z" fill="#e0302a"/>
<path d="M549.6 469.4h1.7v1.7h-1.7zM535.5 438.5h1.7v1.7h-1.7zM556.7 451.6h1.7v1.7h-1.7zM540.6 447.8h1.7v1.7h-1.7zM654.3 423.1h1.7v1.7h-1.7zM547.5 438.6h1.7v1.7h-1.7zM557.8 426.4h1.7v1.7h-1.7zM567.0 439.8h1.7v1.7h-1.7zM695.1 415.5h1.7v1.7h-1.7zM564.5 426.1h1.7v1.7h-1.7zM571.0 431.3h1.7v1.7h-1.7zM712.5 408.2h1.7v1.7h-1.7zM589.2 418.9h1.7v1.7h-1.7zM551.7 460.8h1.7v1.7h-1.7zM542.1 434.0h1.7v1.7h-1.7zM568.6 416.2h1.7v1.7h-1.7zM548.7 432.2h1.7v1.7h-1.7zM570.4 422.1h1.7v1.7h-1.7zM551.2 426.4h1.7v1.7h-1.7zM612.0 426.0h1.7v1.7h-1.7zM554.0 448.5h1.7v1.7h-1.7zM551.4 455.1h1.7v1.7h-1.7zM571.6 475.7h1.7v1.7h-1.7zM680.8 416.1h1.7v1.7h-1.7zM591.1 424.1h1.7v1.7h-1.7zM722.4 391.9h1.7v1.7h-1.7zM534.6 450.0h1.7v1.7h-1.7zM550.1 452.6h1.7v1.7h-1.7zM537.0 426.1h1.7v1.7h-1.7zM573.4 432.6h1.7v1.7h-1.7zM647.6 412.7h1.7v1.7h-1.7zM588.9 426.7h1.7v1.7h-1.7zM551.1 433.0h1.7v1.7h-1.7zM545.3 428.7h1.7v1.7h-1.7zM571.2 460.1h1.7v1.7h-1.7zM555.6 424.9h1.7v1.7h-1.7zM567.8 443.9h1.7v1.7h-1.7zM553.6 453.3h1.7v1.7h-1.7zM540.3 429.3h1.7v1.7h-1.7zM524.9 424.7h1.7v1.7h-1.7zM610.1 423.4h1.7v1.7h-1.7zM545.1 430.9h1.7v1.7h-1.7zM557.4 427.1h1.7v1.7h-1.7zM677.9 413.5h1.7v1.7h-1.7zM550.2 452.9h1.7v1.7h-1.7zM551.0 436.6h1.7v1.7h-1.7zM593.2 421.6h1.7v1.7h-1.7zM532.3 442.0h1.7v1.7h-1.7zM530.3 436.4h1.7v1.7h-1.7zM530.2 442.1h1.7v1.7h-1.7zM538.7 422.5h1.7v1.7h-1.7zM568.7 421.3h1.7v1.7h-1.7zM691.2 413.8h1.7v1.7h-1.7zM564.8 422.5h1.7v1.7h-1.7zM662.3 409.9h1.7v1.7h-1.7zM547.5 471.1h1.7v1.7h-1.7zM565.1 419.8h1.7v1.7h-1.7zM727.8 391.9h1.7v1.7h-1.7zM648.8 413.4h1.7v1.7h-1.7zM567.2 422.8h1.7v1.7h-1.7zM554.3 469.1h1.7v1.7h-1.7zM568.1 433.6h1.7v1.7h-1.7zM555.7 436.8h1.7v1.7h-1.7zM543.5 421.4h1.7v1.7h-1.7zM546.6 437.3h1.7v1.7h-1.7zM564.7 425.0h1.7v1.7h-1.7zM551.1 427.1h1.7v1.7h-1.7zM699.3 416.5h1.7v1.7h-1.7zM673.8 423.3h1.7v1.7h-1.7zM549.6 447.9h1.7v1.7h-1.7zM590.0 426.4h1.7v1.7h-1.7zM673.1 423.8h1.7v1.7h-1.7zM569.4 425.3h1.7v1.7h-1.7z" fill="#8cc337"/>
<path d="M535.7 427.3h1.7v1.7h-1.7zM554.6 476.4h1.7v1.7h-1.7zM549.2 437.3h1.7v1.7h-1.7zM642.3 436.1h1.7v1.7h-1.7zM539.6 416.7h1.7v1.7h-1.7zM553.7 474.2h1.7v1.7h-1.7zM587.9 418.9h1.7v1.7h-1.7zM569.6 436.4h1.7v1.7h-1.7zM559.8 424.0h1.7v1.7h-1.7zM579.1 430.6h1.7v1.7h-1.7zM660.2 413.0h1.7v1.7h-1.7zM559.7 431.5h1.7v1.7h-1.7zM547.7 420.8h1.7v1.7h-1.7zM540.9 428.9h1.7v1.7h-1.7zM570.5 448.5h1.7v1.7h-1.7zM556.9 471.8h1.7v1.7h-1.7zM528.0 432.9h1.7v1.7h-1.7zM559.8 472.7h1.7v1.7h-1.7zM555.1 451.0h1.7v1.7h-1.7zM631.1 419.1h1.7v1.7h-1.7zM623.0 422.8h1.7v1.7h-1.7zM565.3 438.9h1.7v1.7h-1.7zM556.9 428.4h1.7v1.7h-1.7zM548.0 472.6h1.7v1.7h-1.7zM567.4 477.9h1.7v1.7h-1.7zM552.7 422.5h1.7v1.7h-1.7zM545.7 432.9h1.7v1.7h-1.7zM549.6 475.6h1.7v1.7h-1.7zM556.3 429.4h1.7v1.7h-1.7zM568.6 423.6h1.7v1.7h-1.7zM667.0 414.7h1.7v1.7h-1.7zM575.1 423.6h1.7v1.7h-1.7zM559.8 429.2h1.7v1.7h-1.7zM566.5 430.9h1.7v1.7h-1.7zM556.3 427.2h1.7v1.7h-1.7zM573.5 427.6h1.7v1.7h-1.7zM561.0 422.2h1.7v1.7h-1.7zM555.8 454.2h1.7v1.7h-1.7zM561.6 424.1h1.7v1.7h-1.7zM552.5 461.0h1.7v1.7h-1.7zM572.6 430.3h1.7v1.7h-1.7zM563.3 417.9h1.7v1.7h-1.7z" fill="#289646"/>
<path d="M690.2 417.9h1.7v1.7h-1.7zM551.4 437.9h1.7v1.7h-1.7zM645.4 424.0h1.7v1.7h-1.7zM564.2 440.1h1.7v1.7h-1.7zM543.5 453.1h1.7v1.7h-1.7zM589.7 431.2h1.7v1.7h-1.7zM667.6 424.3h1.7v1.7h-1.7zM559.8 430.7h1.7v1.7h-1.7zM546.5 440.7h1.7v1.7h-1.7zM581.5 420.6h1.7v1.7h-1.7zM680.9 421.0h1.7v1.7h-1.7zM575.3 426.8h1.7v1.7h-1.7zM732.5 387.4h1.7v1.7h-1.7zM602.4 425.3h1.7v1.7h-1.7zM578.8 435.1h1.7v1.7h-1.7zM606.0 430.7h1.7v1.7h-1.7zM576.0 432.7h1.7v1.7h-1.7zM627.8 427.4h1.7v1.7h-1.7zM745.2 377.3h1.7v1.7h-1.7zM549.7 432.4h1.7v1.7h-1.7zM574.9 431.6h1.7v1.7h-1.7zM549.3 430.1h1.7v1.7h-1.7zM617.6 430.2h1.7v1.7h-1.7zM627.3 417.7h1.7v1.7h-1.7zM554.7 432.4h1.7v1.7h-1.7zM552.5 430.4h1.7v1.7h-1.7zM549.6 431.7h1.7v1.7h-1.7zM559.7 436.9h1.7v1.7h-1.7zM556.2 433.2h1.7v1.7h-1.7zM747.1 373.4h1.7v1.7h-1.7zM549.0 435.4h1.7v1.7h-1.7zM566.5 426.7h1.7v1.7h-1.7zM539.1 464.3h1.7v1.7h-1.7zM553.8 465.1h1.7v1.7h-1.7zM545.1 457.5h1.7v1.7h-1.7zM565.9 460.5h1.7v1.7h-1.7zM538.1 449.7h1.7v1.7h-1.7zM557.2 447.9h1.7v1.7h-1.7zM551.4 452.1h1.7v1.7h-1.7zM621.0 430.8h1.7v1.7h-1.7zM601.4 426.8h1.7v1.7h-1.7zM694.9 407.5h1.7v1.7h-1.7zM544.7 435.9h1.7v1.7h-1.7zM561.0 429.0h1.7v1.7h-1.7zM549.6 439.8h1.7v1.7h-1.7zM540.8 444.7h1.7v1.7h-1.7zM550.1 463.4h1.7v1.7h-1.7zM561.5 441.7h1.7v1.7h-1.7zM637.7 420.4h1.7v1.7h-1.7zM550.4 428.9h1.7v1.7h-1.7zM559.9 429.3h1.7v1.7h-1.7zM562.2 443.3h1.7v1.7h-1.7zM560.3 421.6h1.7v1.7h-1.7zM555.3 417.5h1.7v1.7h-1.7zM555.1 432.1h1.7v1.7h-1.7zM581.9 423.6h1.7v1.7h-1.7zM567.5 421.2h1.7v1.7h-1.7zM551.4 422.1h1.7v1.7h-1.7zM532.4 461.8h1.7v1.7h-1.7zM743.9 385.6h1.7v1.7h-1.7zM552.2 427.3h1.7v1.7h-1.7zM536.9 454.1h1.7v1.7h-1.7zM566.5 442.8h1.7v1.7h-1.7zM558.4 431.9h1.7v1.7h-1.7zM545.9 475.7h1.7v1.7h-1.7zM603.1 428.3h1.7v1.7h-1.7zM567.7 440.5h1.7v1.7h-1.7zM538.8 463.2h1.7v1.7h-1.7zM547.0 428.2h1.7v1.7h-1.7zM543.5 450.5h1.7v1.7h-1.7zM548.3 437.8h1.7v1.7h-1.7zM570.7 443.3h1.7v1.7h-1.7z" fill="#5faa32"/>
<path d="M580.8 433.7h1.7v1.7h-1.7zM556.0 432.0h1.7v1.7h-1.7zM548.9 427.4h1.7v1.7h-1.7zM551.0 429.4h1.7v1.7h-1.7zM539.5 429.6h1.7v1.7h-1.7zM538.7 432.0h1.7v1.7h-1.7zM697.7 417.7h1.7v1.7h-1.7zM563.6 443.0h1.7v1.7h-1.7zM559.4 484.8h1.7v1.7h-1.7zM560.7 426.9h1.7v1.7h-1.7zM580.3 416.2h1.7v1.7h-1.7zM617.9 436.9h1.7v1.7h-1.7zM560.7 427.9h1.7v1.7h-1.7zM663.5 427.9h1.7v1.7h-1.7zM557.2 434.7h1.7v1.7h-1.7zM552.3 446.7h1.7v1.7h-1.7zM629.2 422.7h1.7v1.7h-1.7zM546.1 460.3h1.7v1.7h-1.7zM578.8 419.2h1.7v1.7h-1.7zM556.2 413.9h1.7v1.7h-1.7zM576.9 423.9h1.7v1.7h-1.7zM533.2 433.2h1.7v1.7h-1.7zM534.2 422.2h1.7v1.7h-1.7zM582.5 424.1h1.7v1.7h-1.7zM656.6 413.5h1.7v1.7h-1.7zM545.8 429.7h1.7v1.7h-1.7zM562.5 427.1h1.7v1.7h-1.7zM576.5 444.5h1.7v1.7h-1.7zM569.1 426.5h1.7v1.7h-1.7zM655.0 432.2h1.7v1.7h-1.7zM560.1 420.3h1.7v1.7h-1.7z" fill="#1e50a5"/>
<path d="M537.3 465.4h1.7v1.7h-1.7zM662.9 418.7h1.7v1.7h-1.7zM557.5 443.1h1.7v1.7h-1.7zM564.8 440.9h1.7v1.7h-1.7zM749.3 378.1h1.7v1.7h-1.7zM548.4 445.2h1.7v1.7h-1.7zM731.1 386.5h1.7v1.7h-1.7zM544.6 450.4h1.7v1.7h-1.7zM552.2 446.9h1.7v1.7h-1.7zM543.4 423.8h1.7v1.7h-1.7zM541.9 426.2h1.7v1.7h-1.7zM623.3 417.8h1.7v1.7h-1.7zM566.8 428.1h1.7v1.7h-1.7zM558.6 428.4h1.7v1.7h-1.7zM669.2 427.3h1.7v1.7h-1.7zM561.2 419.8h1.7v1.7h-1.7zM737.1 377.5h1.7v1.7h-1.7zM551.0 432.0h1.7v1.7h-1.7zM546.6 437.7h1.7v1.7h-1.7zM630.8 425.7h1.7v1.7h-1.7zM526.6 440.2h1.7v1.7h-1.7zM604.1 432.0h1.7v1.7h-1.7zM555.0 457.5h1.7v1.7h-1.7zM678.0 414.7h1.7v1.7h-1.7zM548.1 427.2h1.7v1.7h-1.7zM546.5 426.0h1.7v1.7h-1.7zM549.2 434.9h1.7v1.7h-1.7zM566.0 419.0h1.7v1.7h-1.7zM558.9 439.2h1.7v1.7h-1.7zM532.7 454.9h1.7v1.7h-1.7zM578.1 439.3h1.7v1.7h-1.7zM546.8 442.5h1.7v1.7h-1.7zM541.5 412.8h1.7v1.7h-1.7zM552.2 460.4h1.7v1.7h-1.7z" fill="#198c82"/>
<path d="M631.5 425.2h1.7v1.7h-1.7zM555.3 440.6h1.7v1.7h-1.7zM538.6 431.1h1.7v1.7h-1.7zM541.3 474.7h1.7v1.7h-1.7zM557.6 423.5h1.7v1.7h-1.7zM551.0 435.2h1.7v1.7h-1.7zM553.4 424.0h1.7v1.7h-1.7zM562.9 432.5h1.7v1.7h-1.7zM559.5 400.4h1.7v1.7h-1.7zM600.3 424.4h1.7v1.7h-1.7zM540.1 417.8h1.7v1.7h-1.7zM547.0 507.0h1.7v1.7h-1.7zM569.8 425.7h1.7v1.7h-1.7zM552.8 423.4h1.7v1.7h-1.7zM539.8 441.0h1.7v1.7h-1.7zM562.4 431.3h1.7v1.7h-1.7zM626.6 421.0h1.7v1.7h-1.7zM558.7 438.9h1.7v1.7h-1.7zM720.6 400.7h1.7v1.7h-1.7zM540.0 454.7h1.7v1.7h-1.7zM668.3 418.6h1.7v1.7h-1.7zM562.2 431.8h1.7v1.7h-1.7zM595.1 431.8h1.7v1.7h-1.7zM734.2 383.6h1.7v1.7h-1.7zM684.4 410.8h1.7v1.7h-1.7zM549.8 438.0h1.7v1.7h-1.7zM546.6 455.9h1.7v1.7h-1.7zM737.2 386.5h1.7v1.7h-1.7zM555.0 429.8h1.7v1.7h-1.7zM542.9 434.3h1.7v1.7h-1.7zM569.2 429.6h1.7v1.7h-1.7zM533.1 472.0h1.7v1.7h-1.7zM547.9 414.9h1.7v1.7h-1.7zM532.4 449.1h1.7v1.7h-1.7zM732.4 387.9h1.7v1.7h-1.7zM557.0 439.0h1.7v1.7h-1.7zM561.9 447.3h1.7v1.7h-1.7zM566.0 431.9h1.7v1.7h-1.7zM541.1 448.6h1.7v1.7h-1.7zM612.3 425.0h1.7v1.7h-1.7zM650.6 431.8h1.7v1.7h-1.7zM540.6 484.8h1.7v1.7h-1.7zM559.7 471.4h1.7v1.7h-1.7zM717.0 396.7h1.7v1.7h-1.7zM636.9 423.2h1.7v1.7h-1.7zM542.3 471.6h1.7v1.7h-1.7zM543.1 433.6h1.7v1.7h-1.7zM540.1 435.0h1.7v1.7h-1.7zM618.9 428.5h1.7v1.7h-1.7zM596.6 420.0h1.7v1.7h-1.7zM558.4 457.1h1.7v1.7h-1.7zM679.2 425.7h1.7v1.7h-1.7zM549.8 421.7h1.7v1.7h-1.7zM570.3 430.0h1.7v1.7h-1.7zM546.7 413.5h1.7v1.7h-1.7zM545.0 426.7h1.7v1.7h-1.7zM676.0 409.5h1.7v1.7h-1.7zM539.2 451.2h1.7v1.7h-1.7z" fill="#5faa32"/>
<path d="M548.2 434.3h1.7v1.7h-1.7zM567.0 433.4h1.7v1.7h-1.7zM548.6 434.4h1.7v1.7h-1.7zM557.4 465.5h1.7v1.7h-1.7zM559.7 429.3h1.7v1.7h-1.7zM539.4 447.6h1.7v1.7h-1.7zM537.6 460.9h1.7v1.7h-1.7zM549.5 445.2h1.7v1.7h-1.7zM575.1 443.6h1.7v1.7h-1.7zM557.1 424.3h1.7v1.7h-1.7zM601.0 431.2h1.7v1.7h-1.7zM676.3 416.2h1.7v1.7h-1.7zM659.5 422.2h1.7v1.7h-1.7zM542.9 461.1h1.7v1.7h-1.7zM684.5 418.2h1.7v1.7h-1.7zM564.8 426.8h1.7v1.7h-1.7zM555.4 434.2h1.7v1.7h-1.7zM552.8 432.0h1.7v1.7h-1.7zM622.3 433.3h1.7v1.7h-1.7zM556.9 423.5h1.7v1.7h-1.7zM544.6 421.2h1.7v1.7h-1.7zM566.3 436.4h1.7v1.7h-1.7zM541.0 466.5h1.7v1.7h-1.7zM559.7 424.3h1.7v1.7h-1.7zM565.6 425.6h1.7v1.7h-1.7zM561.0 423.5h1.7v1.7h-1.7zM555.1 429.5h1.7v1.7h-1.7zM547.9 419.5h1.7v1.7h-1.7zM551.6 452.4h1.7v1.7h-1.7zM685.8 419.6h1.7v1.7h-1.7zM656.5 410.7h1.7v1.7h-1.7zM724.9 402.6h1.7v1.7h-1.7zM544.8 451.0h1.7v1.7h-1.7zM687.3 423.1h1.7v1.7h-1.7zM540.5 432.2h1.7v1.7h-1.7zM555.2 444.0h1.7v1.7h-1.7zM610.8 434.1h1.7v1.7h-1.7zM555.0 434.6h1.7v1.7h-1.7zM517.0 425.8h1.7v1.7h-1.7zM550.5 429.4h1.7v1.7h-1.7zM709.0 404.6h1.7v1.7h-1.7zM554.1 432.3h1.7v1.7h-1.7zM534.4 433.4h1.7v1.7h-1.7zM531.5 434.4h1.7v1.7h-1.7zM728.3 396.1h1.7v1.7h-1.7zM550.6 472.4h1.7v1.7h-1.7zM543.7 425.0h1.7v1.7h-1.7zM546.8 465.5h1.7v1.7h-1.7zM531.2 414.7h1.7v1.7h-1.7zM568.0 440.1h1.7v1.7h-1.7zM558.0 422.7h1.7v1.7h-1.7zM539.3 421.4h1.7v1.7h-1.7zM621.4 430.3h1.7v1.7h-1.7zM579.9 419.4h1.7v1.7h-1.7zM538.1 457.8h1.7v1.7h-1.7zM561.5 463.7h1.7v1.7h-1.7zM566.7 432.5h1.7v1.7h-1.7z" fill="#289646"/>
<path d="M565.2 422.9h1.7v1.7h-1.7zM590.4 428.1h1.7v1.7h-1.7zM537.0 442.4h1.7v1.7h-1.7zM624.5 419.7h1.7v1.7h-1.7zM632.8 425.9h1.7v1.7h-1.7zM574.4 415.7h1.7v1.7h-1.7zM621.9 417.1h1.7v1.7h-1.7zM561.9 446.9h1.7v1.7h-1.7zM566.9 427.5h1.7v1.7h-1.7zM544.3 434.0h1.7v1.7h-1.7zM542.2 435.3h1.7v1.7h-1.7zM644.0 420.6h1.7v1.7h-1.7zM591.6 432.9h1.7v1.7h-1.7zM547.3 418.0h1.7v1.7h-1.7zM629.4 429.0h1.7v1.7h-1.7zM582.1 424.7h1.7v1.7h-1.7zM562.7 433.0h1.7v1.7h-1.7zM707.1 415.0h1.7v1.7h-1.7zM558.6 436.7h1.7v1.7h-1.7zM540.8 442.6h1.7v1.7h-1.7zM534.1 408.5h1.7v1.7h-1.7zM549.7 452.5h1.7v1.7h-1.7zM552.4 436.1h1.7v1.7h-1.7zM534.7 486.8h1.7v1.7h-1.7zM567.4 448.1h1.7v1.7h-1.7zM553.1 467.2h1.7v1.7h-1.7zM547.7 432.8h1.7v1.7h-1.7zM547.2 452.0h1.7v1.7h-1.7zM546.3 445.6h1.7v1.7h-1.7zM544.7 476.2h1.7v1.7h-1.7zM603.7 421.9h1.7v1.7h-1.7zM601.1 437.2h1.7v1.7h-1.7zM546.1 448.6h1.7v1.7h-1.7zM553.3 434.5h1.7v1.7h-1.7zM540.7 443.2h1.7v1.7h-1.7zM645.8 417.1h1.7v1.7h-1.7zM544.3 409.0h1.7v1.7h-1.7zM558.5 427.0h1.7v1.7h-1.7zM600.0 426.4h1.7v1.7h-1.7zM524.1 436.1h1.7v1.7h-1.7zM548.0 462.2h1.7v1.7h-1.7zM528.3 441.8h1.7v1.7h-1.7zM738.5 387.1h1.7v1.7h-1.7zM565.3 442.9h1.7v1.7h-1.7zM546.8 430.2h1.7v1.7h-1.7zM620.8 436.4h1.7v1.7h-1.7zM623.0 431.2h1.7v1.7h-1.7zM548.7 431.5h1.7v1.7h-1.7zM547.5 421.2h1.7v1.7h-1.7zM662.2 421.3h1.7v1.7h-1.7zM564.7 436.8h1.7v1.7h-1.7zM559.8 463.0h1.7v1.7h-1.7zM546.0 439.5h1.7v1.7h-1.7zM713.4 402.8h1.7v1.7h-1.7zM560.4 464.7h1.7v1.7h-1.7zM587.1 423.0h1.7v1.7h-1.7zM552.8 424.6h1.7v1.7h-1.7zM543.2 444.5h1.7v1.7h-1.7zM540.7 451.2h1.7v1.7h-1.7zM545.8 434.2h1.7v1.7h-1.7zM552.3 428.8h1.7v1.7h-1.7zM557.9 452.2h1.7v1.7h-1.7zM727.5 389.2h1.7v1.7h-1.7zM588.3 423.0h1.7v1.7h-1.7zM733.3 384.7h1.7v1.7h-1.7zM548.6 469.2h1.7v1.7h-1.7zM698.4 417.3h1.7v1.7h-1.7zM535.4 446.5h1.7v1.7h-1.7zM567.3 441.2h1.7v1.7h-1.7z" fill="#8cc337"/>
<path d="M536.0 487.0h1.7v1.7h-1.7z" fill="#e0302a"/>
<rect x="520.5" y="342.3" width="247.10000000000002" height="266.6000000000001" fill="none" stroke="#111" stroke-width="2.2"/>
<line x1="520.5" y1="506.4" x2="767.6" y2="506.4" stroke="#111" stroke-width="2.5"/>
<line x1="613.8" y1="506.4" x2="613.8" y2="608.9" stroke="#111" stroke-width="2.5"/>
<rect x="613.5" y="342.1" width="154.10000000000008" height="164.29999999999995" fill="none" stroke="#fc0000" stroke-width="6.2"/>
<line x1="514.0" y1="363.8" x2="520.5" y2="363.8" stroke="#000" stroke-width="1.3"/>
<text x="493.5" y="369.6" font-size="8.5" textLength="8.5" lengthAdjust="spacingAndGlyphs" fill="#1a1a1a" stroke="#1a1a1a" stroke-width="0.35">10</text>
<text x="504.6" y="361.6" font-size="7.5" fill="#1a1a1a" stroke="#1a1a1a" stroke-width="0.35">5</text>
<line x1="514.0" y1="414.6" x2="520.5" y2="414.6" stroke="#000" stroke-width="1.3"/>
<text x="493.5" y="420.4" font-size="8.5" textLength="8.5" lengthAdjust="spacingAndGlyphs" fill="#1a1a1a" stroke="#1a1a1a" stroke-width="0.35">10</text>
<text x="504.6" y="412.4" font-size="7.5" fill="#1a1a1a" stroke="#1a1a1a" stroke-width="0.35">4</text>
<line x1="514.0" y1="466.4" x2="520.5" y2="466.4" stroke="#000" stroke-width="1.3"/>
<text x="493.5" y="472.2" font-size="8.5" textLength="8.5" lengthAdjust="spacingAndGlyphs" fill="#1a1a1a" stroke="#1a1a1a" stroke-width="0.35">10</text>
<text x="504.6" y="464.2" font-size="7.5" fill="#1a1a1a" stroke="#1a1a1a" stroke-width="0.35">3</text>
<line x1="514.0" y1="518.3" x2="520.5" y2="518.3" stroke="#000" stroke-width="1.3"/>
<text x="493.5" y="524.1" font-size="8.5" textLength="8.5" lengthAdjust="spacingAndGlyphs" fill="#1a1a1a" stroke="#1a1a1a" stroke-width="0.35">10</text>
<text x="504.6" y="516.1" font-size="7.5" fill="#1a1a1a" stroke="#1a1a1a" stroke-width="0.35">2</text>
<line x1="514.0" y1="555.1" x2="520.5" y2="555.1" stroke="#000" stroke-width="1.3"/>
<text x="498.0" y="558.1" font-size="8.5" fill="#1a1a1a" stroke="#1a1a1a" stroke-width="0.35">0</text>
<line x1="514.0" y1="590.5" x2="520.5" y2="590.5" stroke="#000" stroke-width="1.3"/>
<text x="488.2" y="597.0" font-size="8.5" textLength="12.0" lengthAdjust="spacingAndGlyphs" fill="#1a1a1a" stroke="#1a1a1a" stroke-width="0.35">-10</text>
<text x="504.4" y="589.3" font-size="7.5" fill="#1a1a1a" stroke="#1a1a1a" stroke-width="0.35">2</text>
<line x1="517.0" y1="348.3" x2="520.5" y2="348.3" stroke="#000" stroke-width="0.9"/>
<line x1="517.0" y1="399.3" x2="520.5" y2="399.3" stroke="#000" stroke-width="0.9"/>
<line x1="517.0" y1="390.4" x2="520.5" y2="390.4" stroke="#000" stroke-width="0.9"/>
<line x1="517.0" y1="384.0" x2="520.5" y2="384.0" stroke="#000" stroke-width="0.9"/>
<line x1="517.0" y1="379.1" x2="520.5" y2="379.1" stroke="#000" stroke-width="0.9"/>
<line x1="517.0" y1="375.1" x2="520.5" y2="375.1" stroke="#000" stroke-width="0.9"/>
<line x1="517.0" y1="371.7" x2="520.5" y2="371.7" stroke="#000" stroke-width="0.9"/>
<line x1="517.0" y1="368.7" x2="520.5" y2="368.7" stroke="#000" stroke-width="0.9"/>
<line x1="517.0" y1="366.1" x2="520.5" y2="366.1" stroke="#000" stroke-width="0.9"/>
<line x1="517.0" y1="450.8" x2="520.5" y2="450.8" stroke="#000" stroke-width="0.9"/>
<line x1="517.0" y1="441.7" x2="520.5" y2="441.7" stroke="#000" stroke-width="0.9"/>
<line x1="517.0" y1="435.2" x2="520.5" y2="435.2" stroke="#000" stroke-width="0.9"/>
<line x1="517.0" y1="430.2" x2="520.5" y2="430.2" stroke="#000" stroke-width="0.9"/>
<line x1="517.0" y1="426.1" x2="520.5" y2="426.1" stroke="#000" stroke-width="0.9"/>
<line x1="517.0" y1="422.6" x2="520.5" y2="422.6" stroke="#000" stroke-width="0.9"/>
<line x1="517.0" y1="419.6" x2="520.5" y2="419.6" stroke="#000" stroke-width="0.9"/>
<line x1="517.0" y1="417.0" x2="520.5" y2="417.0" stroke="#000" stroke-width="0.9"/>
<line x1="517.0" y1="502.7" x2="520.5" y2="502.7" stroke="#000" stroke-width="0.9"/>
<line x1="517.0" y1="493.5" x2="520.5" y2="493.5" stroke="#000" stroke-width="0.9"/>
<line x1="517.0" y1="487.1" x2="520.5" y2="487.1" stroke="#000" stroke-width="0.9"/>
<line x1="517.0" y1="482.0" x2="520.5" y2="482.0" stroke="#000" stroke-width="0.9"/>
<line x1="517.0" y1="477.9" x2="520.5" y2="477.9" stroke="#000" stroke-width="0.9"/>
<line x1="517.0" y1="474.4" x2="520.5" y2="474.4" stroke="#000" stroke-width="0.9"/>
<line x1="517.0" y1="471.4" x2="520.5" y2="471.4" stroke="#000" stroke-width="0.9"/>
<line x1="517.0" y1="468.8" x2="520.5" y2="468.8" stroke="#000" stroke-width="0.9"/>
<line x1="516.5" y1="522.1" x2="520.5" y2="522.1" stroke="#000" stroke-width="1.0"/>
<line x1="516.5" y1="526.6" x2="520.5" y2="526.6" stroke="#000" stroke-width="1.0"/>
<line x1="516.5" y1="533.5" x2="520.5" y2="533.5" stroke="#000" stroke-width="1.0"/>
<line x1="516.5" y1="540.3" x2="520.5" y2="540.3" stroke="#000" stroke-width="1.0"/>
<line x1="516.5" y1="546.1" x2="520.5" y2="546.1" stroke="#000" stroke-width="1.0"/>
<line x1="516.5" y1="550.9" x2="520.5" y2="550.9" stroke="#000" stroke-width="1.0"/>
<line x1="516.5" y1="552.8" x2="520.5" y2="552.8" stroke="#000" stroke-width="1.0"/>
<line x1="516.5" y1="555.1" x2="520.5" y2="555.1" stroke="#000" stroke-width="1.0"/>
<line x1="516.5" y1="556.9" x2="520.5" y2="556.9" stroke="#000" stroke-width="1.0"/>
<line x1="516.5" y1="558.8" x2="520.5" y2="558.8" stroke="#000" stroke-width="1.0"/>
<line x1="516.5" y1="565.3" x2="520.5" y2="565.3" stroke="#000" stroke-width="1.0"/>
<line x1="516.5" y1="571.9" x2="520.5" y2="571.9" stroke="#000" stroke-width="1.0"/>
<line x1="516.5" y1="576.8" x2="520.5" y2="576.8" stroke="#000" stroke-width="1.0"/>
<line x1="516.5" y1="580.8" x2="520.5" y2="580.8" stroke="#000" stroke-width="1.0"/>
<line x1="516.5" y1="584.1" x2="520.5" y2="584.1" stroke="#000" stroke-width="1.0"/>
<line x1="516.5" y1="586.5" x2="520.5" y2="586.5" stroke="#000" stroke-width="1.0"/>
<line x1="516.5" y1="588.9" x2="520.5" y2="588.9" stroke="#000" stroke-width="1.0"/>
<line x1="516.5" y1="606.8" x2="520.5" y2="606.8" stroke="#000" stroke-width="1.0"/>
<text x="471.2" y="533.7" font-size="10.5" textLength="109.0" lengthAdjust="spacingAndGlyphs" transform="rotate(-90 471.2 533.7)" fill="#1a1a1a" stroke="#1a1a1a" stroke-width="0.35">Comp-PE-A :: CD203</text>
<line x1="526.0" y1="608.9" x2="526.0" y2="612.4" stroke="#000" stroke-width="0.9"/>
<line x1="530.0" y1="608.9" x2="530.0" y2="612.4" stroke="#000" stroke-width="0.9"/>
<line x1="539.0" y1="608.9" x2="539.0" y2="612.4" stroke="#000" stroke-width="0.9"/>
<line x1="545.0" y1="608.9" x2="545.0" y2="612.4" stroke="#000" stroke-width="0.9"/>
<line x1="552.0" y1="608.9" x2="552.0" y2="612.4" stroke="#000" stroke-width="0.9"/>
<line x1="556.0" y1="608.9" x2="556.0" y2="612.4" stroke="#000" stroke-width="0.9"/>
<line x1="559.0" y1="608.9" x2="559.0" y2="612.4" stroke="#000" stroke-width="0.9"/>
<line x1="562.0" y1="608.9" x2="562.0" y2="612.4" stroke="#000" stroke-width="0.9"/>
<line x1="565.0" y1="608.9" x2="565.0" y2="612.4" stroke="#000" stroke-width="0.9"/>
<line x1="568.0" y1="608.9" x2="568.0" y2="612.4" stroke="#000" stroke-width="0.9"/>
<line x1="570.5" y1="608.9" x2="570.5" y2="612.4" stroke="#000" stroke-width="0.9"/>
<line x1="578.0" y1="608.9" x2="578.0" y2="612.4" stroke="#000" stroke-width="0.9"/>
<line x1="583.0" y1="608.9" x2="583.0" y2="612.4" stroke="#000" stroke-width="0.9"/>
<line x1="588.0" y1="608.9" x2="588.0" y2="612.4" stroke="#000" stroke-width="0.9"/>
<line x1="592.0" y1="608.9" x2="592.0" y2="612.4" stroke="#000" stroke-width="0.9"/>
<line x1="595.0" y1="608.9" x2="595.0" y2="612.4" stroke="#000" stroke-width="0.9"/>
<line x1="598.0" y1="608.9" x2="598.0" y2="612.4" stroke="#000" stroke-width="0.9"/>
<line x1="601.0" y1="608.9" x2="601.0" y2="612.4" stroke="#000" stroke-width="0.9"/>
<line x1="603.0" y1="608.9" x2="603.0" y2="612.4" stroke="#000" stroke-width="0.9"/>
<line x1="605.0" y1="608.9" x2="605.0" y2="612.4" stroke="#000" stroke-width="0.9"/>
<line x1="607.0" y1="608.9" x2="607.0" y2="612.4" stroke="#000" stroke-width="0.9"/>
<line x1="609.0" y1="608.9" x2="609.0" y2="612.4" stroke="#000" stroke-width="0.9"/>
<line x1="611.0" y1="608.9" x2="611.0" y2="612.4" stroke="#000" stroke-width="0.9"/>
<line x1="623.0" y1="608.9" x2="623.0" y2="612.4" stroke="#000" stroke-width="0.9"/>
<line x1="629.0" y1="608.9" x2="629.0" y2="612.4" stroke="#000" stroke-width="0.9"/>
<line x1="634.0" y1="608.9" x2="634.0" y2="612.4" stroke="#000" stroke-width="0.9"/>
<line x1="638.0" y1="608.9" x2="638.0" y2="612.4" stroke="#000" stroke-width="0.9"/>
<line x1="641.0" y1="608.9" x2="641.0" y2="612.4" stroke="#000" stroke-width="0.9"/>
<line x1="644.0" y1="608.9" x2="644.0" y2="612.4" stroke="#000" stroke-width="0.9"/>
<line x1="671.0" y1="608.9" x2="671.0" y2="612.4" stroke="#000" stroke-width="0.9"/>
<line x1="680.0" y1="608.9" x2="680.0" y2="612.4" stroke="#000" stroke-width="0.9"/>
<line x1="687.0" y1="608.9" x2="687.0" y2="612.4" stroke="#000" stroke-width="0.9"/>
<line x1="692.0" y1="608.9" x2="692.0" y2="612.4" stroke="#000" stroke-width="0.9"/>
<line x1="696.0" y1="608.9" x2="696.0" y2="612.4" stroke="#000" stroke-width="0.9"/>
<line x1="698.0" y1="608.9" x2="698.0" y2="612.4" stroke="#000" stroke-width="0.9"/>
<line x1="716.0" y1="608.9" x2="716.0" y2="612.4" stroke="#000" stroke-width="0.9"/>
<line x1="725.0" y1="608.9" x2="725.0" y2="612.4" stroke="#000" stroke-width="0.9"/>
<line x1="732.0" y1="608.9" x2="732.0" y2="612.4" stroke="#000" stroke-width="0.9"/>
<line x1="737.0" y1="608.9" x2="737.0" y2="612.4" stroke="#000" stroke-width="0.9"/>
<line x1="741.0" y1="608.9" x2="741.0" y2="612.4" stroke="#000" stroke-width="0.9"/>
<line x1="744.0" y1="608.9" x2="744.0" y2="612.4" stroke="#000" stroke-width="0.9"/>
<line x1="757.0" y1="608.9" x2="757.0" y2="612.4" stroke="#000" stroke-width="0.9"/>
<line x1="762.0" y1="608.9" x2="762.0" y2="612.4" stroke="#000" stroke-width="0.9"/>
<line x1="534.0" y1="608.9" x2="534.0" y2="615.9" stroke="#000" stroke-width="1.3"/>
<line x1="572.9" y1="608.9" x2="572.9" y2="615.9" stroke="#000" stroke-width="1.3"/>
<line x1="646.6" y1="608.9" x2="646.6" y2="615.9" stroke="#000" stroke-width="1.3"/>
<line x1="700.3" y1="608.9" x2="700.3" y2="615.9" stroke="#000" stroke-width="1.3"/>
<line x1="747.6" y1="608.9" x2="747.6" y2="615.9" stroke="#000" stroke-width="1.3"/>
<rect x="604.2" y="608.9" width="8.8" height="5.5" fill="#111"/>
<rect x="515.5" y="550.8" width="5.0" height="8.5" fill="#111"/>
<text x="610.8" y="632.1" font-size="7.5" textLength="3.5" lengthAdjust="spacingAndGlyphs" fill="#1a1a1a" stroke="#1a1a1a" stroke-width="0.35">0</text>
<text x="698.6" y="632.1" font-size="8" textLength="9.0" lengthAdjust="spacingAndGlyphs" fill="#1a1a1a" stroke="#1a1a1a" stroke-width="0.35">10</text>
<text x="709.7" y="625.9" font-size="7" fill="#1a1a1a" stroke="#1a1a1a" stroke-width="0.35">4</text>
<text x="745.5" y="632.1" font-size="8" textLength="9.0" lengthAdjust="spacingAndGlyphs" fill="#1a1a1a" stroke="#1a1a1a" stroke-width="0.35">10</text>
<text x="757.0" y="625.9" font-size="7" fill="#1a1a1a" stroke="#1a1a1a" stroke-width="0.35">5</text>
<text x="524.8" y="375.6" font-size="26" textLength="67.8" lengthAdjust="spacingAndGlyphs" fill="#111">68,8%</text>
<text x="762.4" y="375.6" font-size="26" text-anchor="end" textLength="65.5" lengthAdjust="spacingAndGlyphs" fill="#111">31,1%</text>
<text x="526.0" y="596.5" font-size="26" textLength="81.0" lengthAdjust="spacingAndGlyphs" fill="#111">0,092%</text>
<text x="762.0" y="596.5" font-size="26" text-anchor="end" textLength="33.5" lengthAdjust="spacingAndGlyphs" fill="#111">0%</text>
<path d="M624.3 729.3h1.7v1.7h-1.7zM567.9 730.3h1.7v1.7h-1.7zM553.9 768.9h1.7v1.7h-1.7zM566.1 727.9h1.7v1.7h-1.7zM625.3 705.9h1.7v1.7h-1.7zM575.1 733.6h1.7v1.7h-1.7zM550.7 752.3h1.7v1.7h-1.7zM554.1 759.2h1.7v1.7h-1.7zM558.8 799.6h1.7v1.7h-1.7zM547.7 741.0h1.7v1.7h-1.7zM550.2 714.4h1.7v1.7h-1.7zM534.7 722.7h1.7v1.7h-1.7zM556.5 730.8h1.7v1.7h-1.7zM597.0 730.7h1.7v1.7h-1.7zM548.4 735.2h1.7v1.7h-1.7zM622.9 728.2h1.7v1.7h-1.7zM543.5 750.9h1.7v1.7h-1.7zM551.9 752.5h1.7v1.7h-1.7zM548.7 751.8h1.7v1.7h-1.7zM527.5 741.1h1.7v1.7h-1.7zM561.6 729.1h1.7v1.7h-1.7zM596.4 720.5h1.7v1.7h-1.7zM626.2 723.4h1.7v1.7h-1.7zM548.8 763.4h1.7v1.7h-1.7zM546.7 758.9h1.7v1.7h-1.7zM534.9 769.1h1.7v1.7h-1.7zM559.2 729.1h1.7v1.7h-1.7zM536.9 756.6h1.7v1.7h-1.7zM517.7 730.3h1.7v1.7h-1.7zM620.3 728.6h1.7v1.7h-1.7zM539.7 737.1h1.7v1.7h-1.7zM534.7 772.9h1.7v1.7h-1.7zM576.9 719.3h1.7v1.7h-1.7zM645.2 719.4h1.7v1.7h-1.7zM555.7 733.9h1.7v1.7h-1.7zM556.3 737.4h1.7v1.7h-1.7zM547.0 745.3h1.7v1.7h-1.7zM652.6 722.3h1.7v1.7h-1.7zM544.6 752.7h1.7v1.7h-1.7zM527.7 744.5h1.7v1.7h-1.7z" fill="#289646"/>
<path d="M557.9 761.5h1.7v1.7h-1.7zM532.1 758.3h1.7v1.7h-1.7zM662.7 725.2h1.7v1.7h-1.7zM577.1 724.2h1.7v1.7h-1.7zM543.5 748.7h1.7v1.7h-1.7zM570.4 732.7h1.7v1.7h-1.7zM574.5 721.9h1.7v1.7h-1.7zM546.7 722.5h1.7v1.7h-1.7zM560.3 762.3h1.7v1.7h-1.7zM542.9 737.1h1.7v1.7h-1.7zM568.0 751.2h1.7v1.7h-1.7zM553.6 747.0h1.7v1.7h-1.7zM530.3 730.5h1.7v1.7h-1.7zM544.9 726.6h1.7v1.7h-1.7zM525.2 764.5h1.7v1.7h-1.7zM561.3 752.6h1.7v1.7h-1.7zM532.6 760.4h1.7v1.7h-1.7zM707.0 724.0h1.7v1.7h-1.7zM549.9 729.0h1.7v1.7h-1.7zM567.9 770.9h1.7v1.7h-1.7zM559.5 737.7h1.7v1.7h-1.7zM626.9 718.9h1.7v1.7h-1.7zM584.0 727.0h1.7v1.7h-1.7zM532.5 732.4h1.7v1.7h-1.7zM539.1 727.4h1.7v1.7h-1.7zM599.7 727.9h1.7v1.7h-1.7zM539.7 740.7h1.7v1.7h-1.7zM565.3 728.5h1.7v1.7h-1.7zM550.5 744.1h1.7v1.7h-1.7zM562.8 764.2h1.7v1.7h-1.7zM542.0 736.5h1.7v1.7h-1.7zM542.2 755.5h1.7v1.7h-1.7zM582.7 739.6h1.7v1.7h-1.7zM535.9 754.2h1.7v1.7h-1.7zM551.8 719.6h1.7v1.7h-1.7zM541.9 738.9h1.7v1.7h-1.7zM551.9 753.9h1.7v1.7h-1.7zM558.9 728.2h1.7v1.7h-1.7zM643.6 716.6h1.7v1.7h-1.7zM692.4 714.4h1.7v1.7h-1.7zM597.9 724.5h1.7v1.7h-1.7zM546.2 752.8h1.7v1.7h-1.7zM566.7 744.9h1.7v1.7h-1.7zM618.5 735.5h1.7v1.7h-1.7zM566.2 735.6h1.7v1.7h-1.7zM540.9 762.5h1.7v1.7h-1.7zM572.0 735.0h1.7v1.7h-1.7zM560.1 765.4h1.7v1.7h-1.7zM624.7 727.0h1.7v1.7h-1.7zM696.9 717.8h1.7v1.7h-1.7zM557.9 750.8h1.7v1.7h-1.7zM558.2 748.3h1.7v1.7h-1.7zM537.9 753.5h1.7v1.7h-1.7zM559.1 759.6h1.7v1.7h-1.7zM670.3 723.5h1.7v1.7h-1.7zM588.5 732.4h1.7v1.7h-1.7zM529.4 749.1h1.7v1.7h-1.7zM560.4 730.3h1.7v1.7h-1.7zM537.5 725.7h1.7v1.7h-1.7zM548.6 769.7h1.7v1.7h-1.7zM547.2 727.6h1.7v1.7h-1.7zM558.6 739.7h1.7v1.7h-1.7zM565.9 716.4h1.7v1.7h-1.7zM548.9 764.2h1.7v1.7h-1.7zM531.3 749.3h1.7v1.7h-1.7zM537.0 763.1h1.7v1.7h-1.7zM546.6 731.5h1.7v1.7h-1.7zM549.5 763.5h1.7v1.7h-1.7zM612.4 730.5h1.7v1.7h-1.7zM546.8 733.0h1.7v1.7h-1.7zM545.5 767.9h1.7v1.7h-1.7zM582.4 729.0h1.7v1.7h-1.7zM544.0 712.9h1.7v1.7h-1.7zM543.8 745.7h1.7v1.7h-1.7zM548.9 771.3h1.7v1.7h-1.7z" fill="#8cc337"/>
<path d="M709.0 749.0h1.7v1.7h-1.7z" fill="#d8d820"/>
<path d="M647.1 723.9h1.7v1.7h-1.7zM561.1 737.7h1.7v1.7h-1.7zM546.8 741.8h1.7v1.7h-1.7zM547.8 726.4h1.7v1.7h-1.7zM534.9 755.2h1.7v1.7h-1.7zM540.2 747.2h1.7v1.7h-1.7zM536.3 726.4h1.7v1.7h-1.7zM556.0 739.8h1.7v1.7h-1.7zM531.6 749.1h1.7v1.7h-1.7zM554.9 754.4h1.7v1.7h-1.7zM563.7 724.5h1.7v1.7h-1.7zM548.1 723.7h1.7v1.7h-1.7zM537.5 743.7h1.7v1.7h-1.7zM688.7 717.7h1.7v1.7h-1.7zM559.7 754.6h1.7v1.7h-1.7zM661.0 726.5h1.7v1.7h-1.7zM525.6 734.1h1.7v1.7h-1.7zM556.4 745.5h1.7v1.7h-1.7zM553.9 740.3h1.7v1.7h-1.7zM530.3 768.7h1.7v1.7h-1.7zM525.3 743.8h1.7v1.7h-1.7zM561.3 726.6h1.7v1.7h-1.7zM689.1 719.2h1.7v1.7h-1.7zM567.8 726.9h1.7v1.7h-1.7zM532.2 733.3h1.7v1.7h-1.7zM557.4 766.1h1.7v1.7h-1.7zM542.2 745.0h1.7v1.7h-1.7zM555.6 771.0h1.7v1.7h-1.7zM545.4 779.0h1.7v1.7h-1.7zM532.9 741.1h1.7v1.7h-1.7zM544.1 773.6h1.7v1.7h-1.7zM527.0 753.6h1.7v1.7h-1.7zM659.3 729.5h1.7v1.7h-1.7z" fill="#198c82"/>
<path d="M556.3 741.0h1.7v1.7h-1.7zM543.6 733.8h1.7v1.7h-1.7zM562.7 737.2h1.7v1.7h-1.7zM603.0 733.7h1.7v1.7h-1.7zM554.7 724.3h1.7v1.7h-1.7zM567.9 742.2h1.7v1.7h-1.7zM568.0 713.8h1.7v1.7h-1.7zM559.9 732.7h1.7v1.7h-1.7zM544.5 755.3h1.7v1.7h-1.7zM625.1 725.0h1.7v1.7h-1.7zM578.2 719.8h1.7v1.7h-1.7zM557.8 740.8h1.7v1.7h-1.7zM560.0 732.8h1.7v1.7h-1.7zM683.6 714.5h1.7v1.7h-1.7zM553.9 715.8h1.7v1.7h-1.7zM546.8 751.0h1.7v1.7h-1.7zM589.4 728.2h1.7v1.7h-1.7zM587.5 731.2h1.7v1.7h-1.7zM540.9 752.9h1.7v1.7h-1.7zM631.4 727.4h1.7v1.7h-1.7zM532.3 774.5h1.7v1.7h-1.7zM535.7 761.3h1.7v1.7h-1.7zM563.2 724.8h1.7v1.7h-1.7zM562.0 745.7h1.7v1.7h-1.7zM567.2 724.2h1.7v1.7h-1.7zM531.0 734.1h1.7v1.7h-1.7zM535.2 709.0h1.7v1.7h-1.7zM552.0 740.5h1.7v1.7h-1.7z" fill="#1e50a5"/>
<path d="M636.0 772.0h1.7v1.7h-1.7z" fill="#e0302a"/>
<path d="M643.3 730.1h1.7v1.7h-1.7zM546.2 754.8h1.7v1.7h-1.7zM541.3 761.5h1.7v1.7h-1.7zM545.0 772.3h1.7v1.7h-1.7zM543.2 745.6h1.7v1.7h-1.7zM554.2 767.4h1.7v1.7h-1.7zM557.0 726.4h1.7v1.7h-1.7zM572.7 723.4h1.7v1.7h-1.7zM566.6 728.8h1.7v1.7h-1.7zM552.0 748.8h1.7v1.7h-1.7zM607.3 722.8h1.7v1.7h-1.7zM577.5 730.3h1.7v1.7h-1.7zM551.5 730.1h1.7v1.7h-1.7zM607.8 726.3h1.7v1.7h-1.7zM547.6 742.9h1.7v1.7h-1.7zM552.0 718.8h1.7v1.7h-1.7zM544.3 725.5h1.7v1.7h-1.7zM652.5 719.2h1.7v1.7h-1.7zM540.5 712.5h1.7v1.7h-1.7zM548.8 718.5h1.7v1.7h-1.7zM547.5 753.6h1.7v1.7h-1.7zM534.7 748.5h1.7v1.7h-1.7zM554.1 735.5h1.7v1.7h-1.7zM526.8 728.1h1.7v1.7h-1.7zM532.7 707.8h1.7v1.7h-1.7zM540.7 775.7h1.7v1.7h-1.7zM520.2 752.0h1.7v1.7h-1.7zM539.6 757.5h1.7v1.7h-1.7zM578.0 728.2h1.7v1.7h-1.7zM622.4 719.2h1.7v1.7h-1.7zM546.2 729.4h1.7v1.7h-1.7zM594.6 735.6h1.7v1.7h-1.7zM556.9 752.8h1.7v1.7h-1.7zM553.8 743.6h1.7v1.7h-1.7zM545.4 720.0h1.7v1.7h-1.7zM614.6 726.2h1.7v1.7h-1.7zM549.2 756.2h1.7v1.7h-1.7zM557.6 738.7h1.7v1.7h-1.7zM548.5 752.3h1.7v1.7h-1.7zM555.0 735.3h1.7v1.7h-1.7zM599.2 723.9h1.7v1.7h-1.7zM555.7 745.4h1.7v1.7h-1.7zM551.9 749.3h1.7v1.7h-1.7zM550.8 758.8h1.7v1.7h-1.7zM538.9 768.0h1.7v1.7h-1.7zM549.7 746.7h1.7v1.7h-1.7zM546.9 774.4h1.7v1.7h-1.7zM545.0 760.8h1.7v1.7h-1.7zM608.2 730.6h1.7v1.7h-1.7zM735.7 689.3h1.7v1.7h-1.7zM579.1 757.0h1.7v1.7h-1.7zM563.6 724.3h1.7v1.7h-1.7zM587.2 735.6h1.7v1.7h-1.7zM541.2 741.7h1.7v1.7h-1.7zM542.3 777.4h1.7v1.7h-1.7zM542.8 714.5h1.7v1.7h-1.7zM552.7 742.1h1.7v1.7h-1.7zM657.1 726.3h1.7v1.7h-1.7zM558.3 751.1h1.7v1.7h-1.7zM688.0 718.2h1.7v1.7h-1.7zM581.2 719.3h1.7v1.7h-1.7zM552.7 739.1h1.7v1.7h-1.7zM616.3 731.9h1.7v1.7h-1.7zM549.6 756.3h1.7v1.7h-1.7zM538.1 746.7h1.7v1.7h-1.7zM548.8 725.3h1.7v1.7h-1.7zM556.9 720.3h1.7v1.7h-1.7zM537.0 714.3h1.7v1.7h-1.7zM531.2 731.3h1.7v1.7h-1.7zM529.9 772.9h1.7v1.7h-1.7zM632.4 726.4h1.7v1.7h-1.7zM538.3 770.6h1.7v1.7h-1.7zM560.1 729.2h1.7v1.7h-1.7zM542.3 724.3h1.7v1.7h-1.7zM553.8 751.6h1.7v1.7h-1.7z" fill="#5faa32"/>
<path d="M728.0 733.0h1.7v1.7h-1.7z" fill="#d8d820"/>
<path d="M547.7 751.2h1.7v1.7h-1.7zM541.3 723.4h1.7v1.7h-1.7zM536.3 765.1h1.7v1.7h-1.7zM563.8 730.2h1.7v1.7h-1.7zM586.4 730.5h1.7v1.7h-1.7zM519.2 743.4h1.7v1.7h-1.7zM594.5 730.4h1.7v1.7h-1.7zM550.6 752.9h1.7v1.7h-1.7zM542.0 754.0h1.7v1.7h-1.7zM550.0 730.5h1.7v1.7h-1.7zM549.9 716.4h1.7v1.7h-1.7zM515.4 747.7h1.7v1.7h-1.7zM540.6 734.9h1.7v1.7h-1.7zM566.9 727.0h1.7v1.7h-1.7zM549.3 734.8h1.7v1.7h-1.7zM547.7 726.3h1.7v1.7h-1.7zM560.3 737.8h1.7v1.7h-1.7zM535.6 739.5h1.7v1.7h-1.7zM540.1 721.3h1.7v1.7h-1.7zM552.8 730.6h1.7v1.7h-1.7zM636.9 717.1h1.7v1.7h-1.7zM571.9 723.3h1.7v1.7h-1.7zM652.3 724.7h1.7v1.7h-1.7zM542.9 743.8h1.7v1.7h-1.7zM528.4 717.3h1.7v1.7h-1.7zM648.8 725.6h1.7v1.7h-1.7zM553.2 733.3h1.7v1.7h-1.7zM660.0 721.5h1.7v1.7h-1.7zM553.2 774.8h1.7v1.7h-1.7zM581.2 728.2h1.7v1.7h-1.7zM580.6 729.6h1.7v1.7h-1.7zM552.4 733.2h1.7v1.7h-1.7zM650.8 725.8h1.7v1.7h-1.7zM554.0 756.2h1.7v1.7h-1.7zM549.3 761.0h1.7v1.7h-1.7zM558.2 746.4h1.7v1.7h-1.7zM537.1 759.9h1.7v1.7h-1.7zM542.2 769.9h1.7v1.7h-1.7zM547.9 728.2h1.7v1.7h-1.7zM555.8 757.5h1.7v1.7h-1.7zM536.4 794.6h1.7v1.7h-1.7zM590.2 734.3h1.7v1.7h-1.7zM537.5 717.9h1.7v1.7h-1.7zM596.0 735.3h1.7v1.7h-1.7z" fill="#289646"/>
<path d="M569.7 723.4h1.7v1.7h-1.7zM658.2 720.0h1.7v1.7h-1.7zM561.6 731.7h1.7v1.7h-1.7zM532.7 735.7h1.7v1.7h-1.7zM579.6 737.1h1.7v1.7h-1.7zM537.0 767.7h1.7v1.7h-1.7zM548.9 755.5h1.7v1.7h-1.7zM562.2 731.6h1.7v1.7h-1.7zM536.4 732.4h1.7v1.7h-1.7zM539.9 758.3h1.7v1.7h-1.7zM559.2 715.8h1.7v1.7h-1.7zM553.1 741.7h1.7v1.7h-1.7zM586.3 722.3h1.7v1.7h-1.7zM685.4 724.8h1.7v1.7h-1.7zM526.3 768.2h1.7v1.7h-1.7zM556.4 725.7h1.7v1.7h-1.7zM593.7 737.8h1.7v1.7h-1.7zM646.9 725.3h1.7v1.7h-1.7zM592.6 718.3h1.7v1.7h-1.7zM562.0 737.1h1.7v1.7h-1.7zM548.2 726.3h1.7v1.7h-1.7zM636.2 728.8h1.7v1.7h-1.7zM570.8 724.3h1.7v1.7h-1.7zM559.6 763.7h1.7v1.7h-1.7zM536.8 756.6h1.7v1.7h-1.7zM538.3 746.4h1.7v1.7h-1.7zM528.3 740.0h1.7v1.7h-1.7zM601.6 721.0h1.7v1.7h-1.7zM528.1 749.4h1.7v1.7h-1.7zM567.2 722.2h1.7v1.7h-1.7zM542.9 739.7h1.7v1.7h-1.7zM542.7 736.3h1.7v1.7h-1.7zM667.2 728.8h1.7v1.7h-1.7zM537.9 726.1h1.7v1.7h-1.7zM545.2 737.8h1.7v1.7h-1.7zM548.1 763.5h1.7v1.7h-1.7zM584.3 730.5h1.7v1.7h-1.7zM646.9 725.7h1.7v1.7h-1.7zM551.9 747.9h1.7v1.7h-1.7zM562.4 733.3h1.7v1.7h-1.7zM553.9 733.3h1.7v1.7h-1.7zM528.7 772.6h1.7v1.7h-1.7zM535.3 743.3h1.7v1.7h-1.7zM534.4 733.1h1.7v1.7h-1.7zM591.7 730.2h1.7v1.7h-1.7zM551.0 742.7h1.7v1.7h-1.7zM542.5 765.1h1.7v1.7h-1.7zM540.4 742.5h1.7v1.7h-1.7zM599.3 725.4h1.7v1.7h-1.7zM537.1 749.8h1.7v1.7h-1.7zM681.0 725.2h1.7v1.7h-1.7zM545.9 728.6h1.7v1.7h-1.7zM617.0 728.0h1.7v1.7h-1.7zM535.2 780.2h1.7v1.7h-1.7zM526.1 701.0h1.7v1.7h-1.7zM536.7 759.6h1.7v1.7h-1.7zM544.0 794.2h1.7v1.7h-1.7zM546.5 743.8h1.7v1.7h-1.7zM536.7 749.9h1.7v1.7h-1.7zM536.2 751.2h1.7v1.7h-1.7z" fill="#8cc337"/>
<path d="M660.0 743.0h1.7v1.7h-1.7z" fill="#f08a1c"/>
<path d="M582.7 734.2h1.7v1.7h-1.7zM683.9 717.2h1.7v1.7h-1.7zM554.3 756.1h1.7v1.7h-1.7zM668.2 722.7h1.7v1.7h-1.7zM556.4 755.6h1.7v1.7h-1.7zM530.9 728.5h1.7v1.7h-1.7zM541.9 751.7h1.7v1.7h-1.7zM564.8 729.3h1.7v1.7h-1.7zM550.8 749.9h1.7v1.7h-1.7zM578.6 727.8h1.7v1.7h-1.7zM623.9 727.3h1.7v1.7h-1.7zM541.5 748.4h1.7v1.7h-1.7zM610.2 733.5h1.7v1.7h-1.7zM651.8 708.9h1.7v1.7h-1.7zM534.8 758.5h1.7v1.7h-1.7zM577.5 731.3h1.7v1.7h-1.7zM530.5 742.8h1.7v1.7h-1.7zM562.1 775.3h1.7v1.7h-1.7zM672.9 723.7h1.7v1.7h-1.7zM580.4 725.9h1.7v1.7h-1.7zM541.8 728.2h1.7v1.7h-1.7zM711.0 702.0h1.7v1.7h-1.7zM534.9 750.8h1.7v1.7h-1.7zM542.9 734.1h1.7v1.7h-1.7zM527.8 757.3h1.7v1.7h-1.7zM603.8 734.8h1.7v1.7h-1.7zM604.8 735.2h1.7v1.7h-1.7zM566.9 722.7h1.7v1.7h-1.7zM554.0 726.3h1.7v1.7h-1.7zM666.8 732.8h1.7v1.7h-1.7zM543.1 743.2h1.7v1.7h-1.7zM536.8 721.2h1.7v1.7h-1.7z" fill="#1e50a5"/>
<path d="M541.6 717.8h1.7v1.7h-1.7zM577.9 746.5h1.7v1.7h-1.7zM541.3 745.9h1.7v1.7h-1.7zM541.6 752.6h1.7v1.7h-1.7zM558.2 759.4h1.7v1.7h-1.7zM684.6 716.7h1.7v1.7h-1.7zM557.4 723.8h1.7v1.7h-1.7zM548.5 752.8h1.7v1.7h-1.7zM580.5 733.8h1.7v1.7h-1.7zM539.2 756.3h1.7v1.7h-1.7zM558.8 756.6h1.7v1.7h-1.7zM558.0 760.6h1.7v1.7h-1.7zM546.8 756.3h1.7v1.7h-1.7zM558.4 746.7h1.7v1.7h-1.7zM575.8 756.8h1.7v1.7h-1.7zM663.2 718.4h1.7v1.7h-1.7zM546.8 731.6h1.7v1.7h-1.7zM552.5 745.3h1.7v1.7h-1.7zM566.8 726.0h1.7v1.7h-1.7zM642.6 727.1h1.7v1.7h-1.7zM539.3 770.6h1.7v1.7h-1.7zM548.2 744.6h1.7v1.7h-1.7zM550.5 730.1h1.7v1.7h-1.7zM544.5 762.9h1.7v1.7h-1.7zM542.7 752.2h1.7v1.7h-1.7zM605.7 737.9h1.7v1.7h-1.7zM545.2 767.0h1.7v1.7h-1.7zM568.0 724.7h1.7v1.7h-1.7zM562.6 728.2h1.7v1.7h-1.7zM543.6 754.5h1.7v1.7h-1.7zM670.5 720.3h1.7v1.7h-1.7zM638.0 719.3h1.7v1.7h-1.7zM552.0 706.6h1.7v1.7h-1.7zM542.3 731.1h1.7v1.7h-1.7zM555.7 754.9h1.7v1.7h-1.7zM557.8 724.9h1.7v1.7h-1.7z" fill="#198c82"/>
<path d="M568.4 720.3h1.7v1.7h-1.7zM635.2 721.2h1.7v1.7h-1.7zM550.1 741.5h1.7v1.7h-1.7zM557.8 728.7h1.7v1.7h-1.7zM561.1 763.6h1.7v1.7h-1.7zM543.5 732.9h1.7v1.7h-1.7zM553.3 743.8h1.7v1.7h-1.7zM573.4 727.7h1.7v1.7h-1.7zM696.3 720.1h1.7v1.7h-1.7zM582.7 721.4h1.7v1.7h-1.7zM555.7 724.3h1.7v1.7h-1.7zM546.1 752.1h1.7v1.7h-1.7zM569.0 742.0h1.7v1.7h-1.7zM600.8 718.8h1.7v1.7h-1.7zM661.2 718.3h1.7v1.7h-1.7zM672.5 721.6h1.7v1.7h-1.7zM544.6 749.1h1.7v1.7h-1.7zM540.1 757.9h1.7v1.7h-1.7zM569.9 730.1h1.7v1.7h-1.7zM658.8 714.5h1.7v1.7h-1.7zM550.4 722.2h1.7v1.7h-1.7zM648.7 719.7h1.7v1.7h-1.7zM570.5 722.9h1.7v1.7h-1.7zM528.7 763.6h1.7v1.7h-1.7zM519.9 758.7h1.7v1.7h-1.7zM672.2 719.5h1.7v1.7h-1.7zM526.7 738.9h1.7v1.7h-1.7zM637.5 720.4h1.7v1.7h-1.7zM526.0 726.6h1.7v1.7h-1.7zM547.1 747.8h1.7v1.7h-1.7zM562.1 720.9h1.7v1.7h-1.7zM556.1 728.0h1.7v1.7h-1.7zM542.0 753.4h1.7v1.7h-1.7zM543.6 711.4h1.7v1.7h-1.7zM540.7 738.0h1.7v1.7h-1.7zM548.8 726.1h1.7v1.7h-1.7zM550.0 732.2h1.7v1.7h-1.7zM539.4 736.7h1.7v1.7h-1.7zM556.9 744.9h1.7v1.7h-1.7zM536.3 718.7h1.7v1.7h-1.7zM540.3 750.9h1.7v1.7h-1.7zM532.9 710.5h1.7v1.7h-1.7zM542.7 751.9h1.7v1.7h-1.7zM550.5 782.6h1.7v1.7h-1.7zM530.1 695.4h1.7v1.7h-1.7zM563.5 733.9h1.7v1.7h-1.7zM557.9 747.7h1.7v1.7h-1.7zM663.8 728.9h1.7v1.7h-1.7zM723.8 699.7h1.7v1.7h-1.7zM574.1 735.0h1.7v1.7h-1.7zM519.6 722.5h1.7v1.7h-1.7zM545.9 770.8h1.7v1.7h-1.7zM539.1 765.9h1.7v1.7h-1.7zM557.2 732.9h1.7v1.7h-1.7zM535.1 760.3h1.7v1.7h-1.7zM547.3 731.3h1.7v1.7h-1.7zM545.0 740.8h1.7v1.7h-1.7zM544.4 722.9h1.7v1.7h-1.7zM672.9 723.1h1.7v1.7h-1.7zM541.3 744.0h1.7v1.7h-1.7zM559.1 763.6h1.7v1.7h-1.7zM521.0 757.6h1.7v1.7h-1.7zM557.8 759.2h1.7v1.7h-1.7zM603.6 731.7h1.7v1.7h-1.7zM545.9 742.6h1.7v1.7h-1.7zM555.8 715.8h1.7v1.7h-1.7zM537.8 782.9h1.7v1.7h-1.7zM533.8 733.4h1.7v1.7h-1.7zM630.4 719.5h1.7v1.7h-1.7zM527.3 728.9h1.7v1.7h-1.7zM569.9 730.3h1.7v1.7h-1.7zM544.4 751.6h1.7v1.7h-1.7zM610.7 731.6h1.7v1.7h-1.7zM625.2 720.7h1.7v1.7h-1.7zM556.7 752.4h1.7v1.7h-1.7zM536.5 726.1h1.7v1.7h-1.7zM579.5 732.5h1.7v1.7h-1.7zM649.8 722.4h1.7v1.7h-1.7zM533.7 735.6h1.7v1.7h-1.7zM563.2 717.5h1.7v1.7h-1.7z" fill="#5faa32"/>
<path d="M542.3 785.3h1.7v1.7h-1.7zM555.5 724.2h1.7v1.7h-1.7zM529.4 736.8h1.7v1.7h-1.7zM558.3 732.9h1.7v1.7h-1.7zM532.5 741.4h1.7v1.7h-1.7zM701.1 709.9h1.7v1.7h-1.7zM561.2 777.0h1.7v1.7h-1.7zM547.7 747.0h1.7v1.7h-1.7zM562.1 733.1h1.7v1.7h-1.7zM532.1 747.5h1.7v1.7h-1.7zM577.2 731.1h1.7v1.7h-1.7zM536.9 740.3h1.7v1.7h-1.7zM557.6 727.2h1.7v1.7h-1.7zM542.1 749.0h1.7v1.7h-1.7zM530.4 753.7h1.7v1.7h-1.7zM622.5 727.3h1.7v1.7h-1.7zM590.0 732.5h1.7v1.7h-1.7zM559.4 772.3h1.7v1.7h-1.7zM554.3 762.3h1.7v1.7h-1.7zM539.4 743.4h1.7v1.7h-1.7zM522.5 750.1h1.7v1.7h-1.7zM547.3 724.7h1.7v1.7h-1.7zM541.4 753.7h1.7v1.7h-1.7zM560.1 761.7h1.7v1.7h-1.7zM531.3 733.5h1.7v1.7h-1.7zM600.3 722.2h1.7v1.7h-1.7zM547.5 750.5h1.7v1.7h-1.7zM549.8 756.5h1.7v1.7h-1.7zM538.9 721.5h1.7v1.7h-1.7zM538.8 738.4h1.7v1.7h-1.7zM570.3 738.4h1.7v1.7h-1.7zM554.2 723.8h1.7v1.7h-1.7zM522.6 753.8h1.7v1.7h-1.7zM551.4 761.2h1.7v1.7h-1.7zM599.5 722.4h1.7v1.7h-1.7zM531.0 765.9h1.7v1.7h-1.7zM559.9 750.4h1.7v1.7h-1.7zM580.9 723.7h1.7v1.7h-1.7zM564.1 746.8h1.7v1.7h-1.7zM540.3 726.5h1.7v1.7h-1.7zM536.3 725.5h1.7v1.7h-1.7zM535.6 760.2h1.7v1.7h-1.7zM551.8 766.7h1.7v1.7h-1.7zM698.2 711.7h1.7v1.7h-1.7zM607.6 735.1h1.7v1.7h-1.7zM623.9 726.5h1.7v1.7h-1.7zM533.7 726.6h1.7v1.7h-1.7zM559.8 726.3h1.7v1.7h-1.7zM604.5 731.3h1.7v1.7h-1.7zM545.6 744.4h1.7v1.7h-1.7zM552.1 732.7h1.7v1.7h-1.7zM557.8 732.1h1.7v1.7h-1.7zM543.7 729.3h1.7v1.7h-1.7zM662.4 724.3h1.7v1.7h-1.7zM527.8 703.6h1.7v1.7h-1.7zM556.5 733.9h1.7v1.7h-1.7zM628.1 718.3h1.7v1.7h-1.7zM530.9 731.6h1.7v1.7h-1.7zM547.8 729.4h1.7v1.7h-1.7z" fill="#289646"/>
<path d="M593.1 739.6h1.7v1.7h-1.7zM550.1 772.3h1.7v1.7h-1.7zM528.3 740.6h1.7v1.7h-1.7zM561.7 743.6h1.7v1.7h-1.7zM555.4 765.7h1.7v1.7h-1.7zM575.0 724.9h1.7v1.7h-1.7zM637.2 722.8h1.7v1.7h-1.7zM545.4 751.9h1.7v1.7h-1.7zM546.7 729.1h1.7v1.7h-1.7zM692.6 711.7h1.7v1.7h-1.7zM643.0 721.3h1.7v1.7h-1.7zM544.5 746.5h1.7v1.7h-1.7zM537.3 749.9h1.7v1.7h-1.7zM544.9 727.5h1.7v1.7h-1.7zM536.1 760.8h1.7v1.7h-1.7zM549.2 749.7h1.7v1.7h-1.7zM683.1 706.8h1.7v1.7h-1.7zM549.4 763.7h1.7v1.7h-1.7zM545.0 746.7h1.7v1.7h-1.7zM560.0 722.5h1.7v1.7h-1.7zM534.4 755.7h1.7v1.7h-1.7zM543.6 748.8h1.7v1.7h-1.7zM699.5 714.0h1.7v1.7h-1.7zM550.6 737.7h1.7v1.7h-1.7zM545.7 736.0h1.7v1.7h-1.7zM676.8 729.1h1.7v1.7h-1.7zM617.9 727.5h1.7v1.7h-1.7zM567.3 770.4h1.7v1.7h-1.7zM557.5 732.2h1.7v1.7h-1.7zM547.0 740.1h1.7v1.7h-1.7zM582.5 736.5h1.7v1.7h-1.7zM544.7 714.6h1.7v1.7h-1.7zM672.6 722.5h1.7v1.7h-1.7zM592.3 733.8h1.7v1.7h-1.7zM591.1 730.5h1.7v1.7h-1.7zM565.1 727.9h1.7v1.7h-1.7zM581.6 720.4h1.7v1.7h-1.7zM533.2 751.2h1.7v1.7h-1.7zM732.8 685.1h1.7v1.7h-1.7zM726.0 684.0h1.7v1.7h-1.7zM566.9 733.5h1.7v1.7h-1.7zM573.2 759.7h1.7v1.7h-1.7zM536.6 732.2h1.7v1.7h-1.7z" fill="#198c82"/>
<path d="M652.9 717.9h1.7v1.7h-1.7zM576.0 738.5h1.7v1.7h-1.7zM619.2 732.4h1.7v1.7h-1.7zM548.6 746.2h1.7v1.7h-1.7zM554.6 766.0h1.7v1.7h-1.7zM539.5 749.0h1.7v1.7h-1.7zM539.2 754.9h1.7v1.7h-1.7zM561.6 722.8h1.7v1.7h-1.7zM560.2 734.0h1.7v1.7h-1.7zM550.1 732.2h1.7v1.7h-1.7zM533.5 753.3h1.7v1.7h-1.7zM545.9 761.9h1.7v1.7h-1.7zM569.6 732.1h1.7v1.7h-1.7zM550.7 756.3h1.7v1.7h-1.7zM570.8 729.8h1.7v1.7h-1.7zM544.8 758.2h1.7v1.7h-1.7zM570.7 722.6h1.7v1.7h-1.7zM531.4 740.6h1.7v1.7h-1.7zM540.7 755.5h1.7v1.7h-1.7zM559.1 729.0h1.7v1.7h-1.7zM557.6 741.0h1.7v1.7h-1.7zM541.4 775.2h1.7v1.7h-1.7zM545.0 778.7h1.7v1.7h-1.7zM560.1 726.4h1.7v1.7h-1.7zM550.8 715.7h1.7v1.7h-1.7zM543.9 780.3h1.7v1.7h-1.7zM585.6 743.2h1.7v1.7h-1.7zM565.7 743.2h1.7v1.7h-1.7zM552.3 725.2h1.7v1.7h-1.7zM685.3 707.8h1.7v1.7h-1.7zM547.3 726.3h1.7v1.7h-1.7zM557.5 731.3h1.7v1.7h-1.7zM596.2 724.1h1.7v1.7h-1.7zM545.6 740.8h1.7v1.7h-1.7zM544.9 730.3h1.7v1.7h-1.7zM559.8 758.5h1.7v1.7h-1.7zM545.7 717.6h1.7v1.7h-1.7zM565.4 738.7h1.7v1.7h-1.7zM548.8 774.9h1.7v1.7h-1.7zM537.5 750.6h1.7v1.7h-1.7zM656.6 717.6h1.7v1.7h-1.7zM585.9 728.2h1.7v1.7h-1.7zM541.1 731.8h1.7v1.7h-1.7zM542.5 768.2h1.7v1.7h-1.7zM532.8 738.6h1.7v1.7h-1.7zM554.3 765.9h1.7v1.7h-1.7zM639.9 726.2h1.7v1.7h-1.7zM559.8 721.4h1.7v1.7h-1.7zM546.3 755.8h1.7v1.7h-1.7zM549.3 731.4h1.7v1.7h-1.7zM558.1 718.6h1.7v1.7h-1.7zM580.2 725.1h1.7v1.7h-1.7zM534.3 742.2h1.7v1.7h-1.7z" fill="#8cc337"/>
<path d="M533.5 724.6h1.7v1.7h-1.7zM578.5 727.4h1.7v1.7h-1.7zM571.6 740.2h1.7v1.7h-1.7zM532.1 724.0h1.7v1.7h-1.7zM524.5 749.5h1.7v1.7h-1.7zM584.0 725.6h1.7v1.7h-1.7zM544.2 752.8h1.7v1.7h-1.7zM555.7 778.4h1.7v1.7h-1.7zM591.9 743.3h1.7v1.7h-1.7zM540.4 734.0h1.7v1.7h-1.7zM546.5 725.8h1.7v1.7h-1.7zM541.5 735.0h1.7v1.7h-1.7zM585.8 738.3h1.7v1.7h-1.7zM706.9 709.1h1.7v1.7h-1.7zM545.6 727.1h1.7v1.7h-1.7zM557.8 750.8h1.7v1.7h-1.7zM551.7 744.6h1.7v1.7h-1.7zM533.8 741.8h1.7v1.7h-1.7zM543.8 711.1h1.7v1.7h-1.7zM553.7 773.6h1.7v1.7h-1.7zM686.0 718.2h1.7v1.7h-1.7zM534.5 723.3h1.7v1.7h-1.7zM557.8 725.9h1.7v1.7h-1.7zM539.3 758.6h1.7v1.7h-1.7zM540.5 717.4h1.7v1.7h-1.7zM678.0 716.6h1.7v1.7h-1.7zM566.8 742.5h1.7v1.7h-1.7zM533.1 751.4h1.7v1.7h-1.7z" fill="#1e50a5"/>
<path d="M643.0 757.0h1.7v1.7h-1.7z" fill="#f08a1c"/>
<path d="M546.7 723.9h1.7v1.7h-1.7zM537.5 731.8h1.7v1.7h-1.7zM549.3 741.2h1.7v1.7h-1.7zM564.0 720.9h1.7v1.7h-1.7zM614.5 717.6h1.7v1.7h-1.7zM540.9 743.7h1.7v1.7h-1.7zM630.6 726.2h1.7v1.7h-1.7zM552.5 765.7h1.7v1.7h-1.7zM536.6 749.1h1.7v1.7h-1.7zM592.6 728.2h1.7v1.7h-1.7zM552.0 744.2h1.7v1.7h-1.7zM577.3 723.1h1.7v1.7h-1.7zM543.5 717.3h1.7v1.7h-1.7zM577.9 727.6h1.7v1.7h-1.7zM638.4 723.2h1.7v1.7h-1.7zM558.4 736.1h1.7v1.7h-1.7zM551.1 731.9h1.7v1.7h-1.7zM557.2 745.3h1.7v1.7h-1.7zM545.5 770.8h1.7v1.7h-1.7zM542.3 722.4h1.7v1.7h-1.7zM535.4 720.0h1.7v1.7h-1.7zM604.3 729.5h1.7v1.7h-1.7zM569.8 732.1h1.7v1.7h-1.7zM554.7 741.0h1.7v1.7h-1.7zM565.0 732.9h1.7v1.7h-1.7zM537.6 771.7h1.7v1.7h-1.7zM553.2 729.9h1.7v1.7h-1.7zM556.7 721.1h1.7v1.7h-1.7zM547.6 753.8h1.7v1.7h-1.7zM536.9 727.5h1.7v1.7h-1.7zM586.5 728.5h1.7v1.7h-1.7zM543.0 752.5h1.7v1.7h-1.7zM663.7 720.1h1.7v1.7h-1.7zM633.2 730.7h1.7v1.7h-1.7zM551.7 745.0h1.7v1.7h-1.7zM647.7 724.3h1.7v1.7h-1.7zM552.7 740.1h1.7v1.7h-1.7zM564.8 735.5h1.7v1.7h-1.7zM566.3 736.6h1.7v1.7h-1.7zM559.1 726.1h1.7v1.7h-1.7zM668.3 713.0h1.7v1.7h-1.7zM554.5 719.9h1.7v1.7h-1.7zM633.7 718.4h1.7v1.7h-1.7zM569.1 727.6h1.7v1.7h-1.7zM620.9 721.0h1.7v1.7h-1.7zM555.9 747.0h1.7v1.7h-1.7zM552.2 734.0h1.7v1.7h-1.7zM563.6 722.5h1.7v1.7h-1.7zM587.8 727.8h1.7v1.7h-1.7zM556.5 742.1h1.7v1.7h-1.7zM539.3 764.9h1.7v1.7h-1.7zM527.8 732.6h1.7v1.7h-1.7zM564.4 732.7h1.7v1.7h-1.7zM541.2 740.5h1.7v1.7h-1.7zM543.0 758.0h1.7v1.7h-1.7zM539.2 752.8h1.7v1.7h-1.7zM587.6 736.7h1.7v1.7h-1.7zM535.5 765.3h1.7v1.7h-1.7zM547.1 727.9h1.7v1.7h-1.7zM572.8 738.7h1.7v1.7h-1.7zM553.3 732.1h1.7v1.7h-1.7zM600.1 728.1h1.7v1.7h-1.7zM550.4 769.3h1.7v1.7h-1.7zM538.6 736.5h1.7v1.7h-1.7zM539.4 772.3h1.7v1.7h-1.7zM526.4 750.6h1.7v1.7h-1.7zM681.3 723.9h1.7v1.7h-1.7zM545.5 734.1h1.7v1.7h-1.7z" fill="#5faa32"/>
<path d="M602.0 772.0h1.7v1.7h-1.7z" fill="#e0302a"/>
<path d="M532.6 729.0h1.7v1.7h-1.7zM551.7 737.2h1.7v1.7h-1.7zM547.6 723.4h1.7v1.7h-1.7zM533.2 753.3h1.7v1.7h-1.7zM551.0 747.1h1.7v1.7h-1.7zM537.8 733.7h1.7v1.7h-1.7zM551.5 743.3h1.7v1.7h-1.7zM548.9 730.7h1.7v1.7h-1.7zM549.2 743.3h1.7v1.7h-1.7zM556.9 721.0h1.7v1.7h-1.7zM554.5 765.4h1.7v1.7h-1.7zM557.5 758.3h1.7v1.7h-1.7zM548.0 754.3h1.7v1.7h-1.7zM530.9 777.5h1.7v1.7h-1.7zM540.2 735.2h1.7v1.7h-1.7zM547.4 744.5h1.7v1.7h-1.7zM562.4 744.5h1.7v1.7h-1.7zM613.1 725.2h1.7v1.7h-1.7zM545.8 755.8h1.7v1.7h-1.7zM541.8 760.2h1.7v1.7h-1.7zM535.8 734.4h1.7v1.7h-1.7zM546.4 749.0h1.7v1.7h-1.7zM554.7 708.3h1.7v1.7h-1.7zM593.9 733.8h1.7v1.7h-1.7zM557.7 748.4h1.7v1.7h-1.7zM558.7 767.9h1.7v1.7h-1.7zM694.6 712.5h1.7v1.7h-1.7zM662.5 723.2h1.7v1.7h-1.7zM572.5 728.2h1.7v1.7h-1.7zM544.0 730.4h1.7v1.7h-1.7zM659.2 719.9h1.7v1.7h-1.7zM544.1 743.3h1.7v1.7h-1.7zM558.2 743.9h1.7v1.7h-1.7zM631.6 722.6h1.7v1.7h-1.7zM532.5 741.2h1.7v1.7h-1.7zM632.0 720.7h1.7v1.7h-1.7zM574.2 734.8h1.7v1.7h-1.7zM540.6 725.9h1.7v1.7h-1.7zM555.2 751.4h1.7v1.7h-1.7zM651.6 718.0h1.7v1.7h-1.7zM661.2 724.3h1.7v1.7h-1.7zM665.8 725.6h1.7v1.7h-1.7zM542.5 741.4h1.7v1.7h-1.7zM534.7 730.4h1.7v1.7h-1.7zM534.7 777.1h1.7v1.7h-1.7zM554.6 742.8h1.7v1.7h-1.7zM554.6 770.7h1.7v1.7h-1.7zM554.8 757.4h1.7v1.7h-1.7zM542.2 763.4h1.7v1.7h-1.7zM557.0 731.5h1.7v1.7h-1.7zM692.9 712.4h1.7v1.7h-1.7zM549.5 746.4h1.7v1.7h-1.7zM541.5 769.2h1.7v1.7h-1.7zM554.1 732.6h1.7v1.7h-1.7zM546.8 748.4h1.7v1.7h-1.7zM598.6 712.0h1.7v1.7h-1.7zM555.1 714.8h1.7v1.7h-1.7zM546.0 783.0h1.7v1.7h-1.7zM552.7 724.2h1.7v1.7h-1.7zM539.1 744.9h1.7v1.7h-1.7zM613.0 732.6h1.7v1.7h-1.7zM539.6 721.3h1.7v1.7h-1.7zM537.4 740.5h1.7v1.7h-1.7zM542.5 767.5h1.7v1.7h-1.7zM543.2 715.4h1.7v1.7h-1.7zM547.0 748.7h1.7v1.7h-1.7zM600.9 736.8h1.7v1.7h-1.7zM537.0 763.3h1.7v1.7h-1.7zM555.0 731.4h1.7v1.7h-1.7zM674.6 720.7h1.7v1.7h-1.7zM537.8 754.3h1.7v1.7h-1.7zM561.0 759.2h1.7v1.7h-1.7zM540.8 739.9h1.7v1.7h-1.7zM555.2 763.9h1.7v1.7h-1.7zM540.5 746.4h1.7v1.7h-1.7zM692.9 717.2h1.7v1.7h-1.7zM562.1 759.6h1.7v1.7h-1.7zM679.8 723.5h1.7v1.7h-1.7zM610.4 724.3h1.7v1.7h-1.7zM529.8 726.8h1.7v1.7h-1.7zM683.7 714.1h1.7v1.7h-1.7zM569.8 731.5h1.7v1.7h-1.7zM544.2 739.0h1.7v1.7h-1.7zM534.4 752.8h1.7v1.7h-1.7zM549.8 764.2h1.7v1.7h-1.7zM710.5 705.2h1.7v1.7h-1.7zM539.9 731.4h1.7v1.7h-1.7z" fill="#5faa32"/>
<path d="M566.1 723.4h1.7v1.7h-1.7zM554.6 737.1h1.7v1.7h-1.7zM547.7 727.6h1.7v1.7h-1.7zM524.8 750.8h1.7v1.7h-1.7zM538.8 752.9h1.7v1.7h-1.7zM554.2 771.1h1.7v1.7h-1.7zM551.4 751.7h1.7v1.7h-1.7zM570.7 730.8h1.7v1.7h-1.7zM559.1 724.4h1.7v1.7h-1.7zM556.5 748.3h1.7v1.7h-1.7zM558.2 726.2h1.7v1.7h-1.7zM546.8 734.5h1.7v1.7h-1.7zM545.4 709.9h1.7v1.7h-1.7zM575.2 706.2h1.7v1.7h-1.7zM539.7 762.5h1.7v1.7h-1.7zM569.6 727.4h1.7v1.7h-1.7zM545.7 726.2h1.7v1.7h-1.7zM568.1 726.7h1.7v1.7h-1.7zM536.9 749.8h1.7v1.7h-1.7zM716.9 703.7h1.7v1.7h-1.7zM556.8 730.5h1.7v1.7h-1.7zM533.2 737.1h1.7v1.7h-1.7zM561.7 722.7h1.7v1.7h-1.7zM527.0 765.6h1.7v1.7h-1.7zM564.4 771.3h1.7v1.7h-1.7z" fill="#1e50a5"/>
<path d="M632.1 724.4h1.7v1.7h-1.7zM561.3 718.6h1.7v1.7h-1.7zM536.1 756.3h1.7v1.7h-1.7zM591.8 734.8h1.7v1.7h-1.7zM644.9 728.3h1.7v1.7h-1.7zM545.9 734.3h1.7v1.7h-1.7zM540.3 738.0h1.7v1.7h-1.7zM708.0 690.0h1.7v1.7h-1.7zM561.5 723.3h1.7v1.7h-1.7zM558.4 746.9h1.7v1.7h-1.7zM537.2 723.5h1.7v1.7h-1.7zM551.9 733.9h1.7v1.7h-1.7zM572.8 716.1h1.7v1.7h-1.7zM561.6 735.9h1.7v1.7h-1.7zM522.6 724.8h1.7v1.7h-1.7zM564.5 776.1h1.7v1.7h-1.7zM562.4 742.4h1.7v1.7h-1.7zM549.0 746.5h1.7v1.7h-1.7zM713.0 711.4h1.7v1.7h-1.7zM539.8 737.5h1.7v1.7h-1.7zM538.1 749.2h1.7v1.7h-1.7zM540.9 724.0h1.7v1.7h-1.7zM669.3 717.6h1.7v1.7h-1.7zM559.6 774.2h1.7v1.7h-1.7zM548.0 765.5h1.7v1.7h-1.7z" fill="#198c82"/>
<path d="M525.0 737.6h1.7v1.7h-1.7zM563.2 760.3h1.7v1.7h-1.7zM559.2 714.3h1.7v1.7h-1.7zM575.4 726.4h1.7v1.7h-1.7zM641.0 716.7h1.7v1.7h-1.7zM643.8 724.9h1.7v1.7h-1.7zM595.4 729.7h1.7v1.7h-1.7zM547.4 702.3h1.7v1.7h-1.7zM529.9 755.6h1.7v1.7h-1.7zM592.5 747.1h1.7v1.7h-1.7zM537.1 723.9h1.7v1.7h-1.7zM544.5 761.0h1.7v1.7h-1.7zM529.5 751.1h1.7v1.7h-1.7zM544.7 728.1h1.7v1.7h-1.7zM586.0 726.5h1.7v1.7h-1.7zM730.0 690.5h1.7v1.7h-1.7zM597.2 727.2h1.7v1.7h-1.7zM564.0 757.9h1.7v1.7h-1.7zM546.5 757.9h1.7v1.7h-1.7zM581.4 737.4h1.7v1.7h-1.7zM559.2 769.7h1.7v1.7h-1.7zM587.8 722.8h1.7v1.7h-1.7zM545.3 726.7h1.7v1.7h-1.7zM513.6 722.2h1.7v1.7h-1.7zM578.0 732.9h1.7v1.7h-1.7zM529.6 752.2h1.7v1.7h-1.7zM561.0 724.8h1.7v1.7h-1.7zM557.4 762.6h1.7v1.7h-1.7zM545.7 744.8h1.7v1.7h-1.7zM689.0 725.7h1.7v1.7h-1.7zM546.5 741.4h1.7v1.7h-1.7zM582.1 725.1h1.7v1.7h-1.7zM542.8 734.1h1.7v1.7h-1.7zM577.3 729.0h1.7v1.7h-1.7zM547.5 730.7h1.7v1.7h-1.7zM560.1 723.1h1.7v1.7h-1.7zM731.0 696.0h1.7v1.7h-1.7zM665.1 718.0h1.7v1.7h-1.7z" fill="#289646"/>
<path d="M539.4 742.7h1.7v1.7h-1.7zM564.2 724.9h1.7v1.7h-1.7zM565.5 721.1h1.7v1.7h-1.7zM557.4 739.6h1.7v1.7h-1.7zM544.8 750.6h1.7v1.7h-1.7zM551.5 730.6h1.7v1.7h-1.7zM562.3 727.0h1.7v1.7h-1.7zM599.2 726.7h1.7v1.7h-1.7zM532.5 762.3h1.7v1.7h-1.7zM535.9 750.8h1.7v1.7h-1.7zM553.1 742.5h1.7v1.7h-1.7zM545.8 758.7h1.7v1.7h-1.7zM563.6 726.9h1.7v1.7h-1.7zM542.0 741.0h1.7v1.7h-1.7zM536.0 741.5h1.7v1.7h-1.7zM538.7 763.7h1.7v1.7h-1.7zM573.9 716.6h1.7v1.7h-1.7zM533.2 764.4h1.7v1.7h-1.7zM544.1 747.9h1.7v1.7h-1.7zM535.6 734.2h1.7v1.7h-1.7zM541.0 756.4h1.7v1.7h-1.7zM580.9 721.2h1.7v1.7h-1.7zM525.8 767.7h1.7v1.7h-1.7zM545.6 734.0h1.7v1.7h-1.7zM542.8 754.0h1.7v1.7h-1.7zM529.9 744.9h1.7v1.7h-1.7zM547.0 738.6h1.7v1.7h-1.7zM693.2 714.0h1.7v1.7h-1.7zM565.4 763.1h1.7v1.7h-1.7zM658.2 713.3h1.7v1.7h-1.7zM567.6 755.5h1.7v1.7h-1.7zM548.4 734.0h1.7v1.7h-1.7zM524.1 750.1h1.7v1.7h-1.7zM579.9 734.1h1.7v1.7h-1.7zM535.9 722.2h1.7v1.7h-1.7zM558.0 744.8h1.7v1.7h-1.7zM548.3 727.2h1.7v1.7h-1.7zM545.5 750.3h1.7v1.7h-1.7zM561.0 724.0h1.7v1.7h-1.7zM564.9 748.9h1.7v1.7h-1.7zM524.0 723.7h1.7v1.7h-1.7zM550.9 732.1h1.7v1.7h-1.7zM555.0 749.6h1.7v1.7h-1.7zM561.3 727.1h1.7v1.7h-1.7zM521.7 732.6h1.7v1.7h-1.7zM627.9 732.8h1.7v1.7h-1.7zM543.4 746.4h1.7v1.7h-1.7zM633.4 726.5h1.7v1.7h-1.7zM550.2 746.6h1.7v1.7h-1.7zM548.6 722.1h1.7v1.7h-1.7zM557.1 724.0h1.7v1.7h-1.7zM540.4 737.8h1.7v1.7h-1.7zM553.5 742.9h1.7v1.7h-1.7zM728.1 695.3h1.7v1.7h-1.7zM523.3 763.3h1.7v1.7h-1.7zM536.7 769.5h1.7v1.7h-1.7zM660.2 719.9h1.7v1.7h-1.7zM545.2 753.4h1.7v1.7h-1.7zM597.7 737.3h1.7v1.7h-1.7zM639.2 720.7h1.7v1.7h-1.7zM551.4 732.8h1.7v1.7h-1.7zM575.1 728.9h1.7v1.7h-1.7zM582.5 727.1h1.7v1.7h-1.7zM577.0 719.4h1.7v1.7h-1.7zM679.5 725.7h1.7v1.7h-1.7zM572.6 731.3h1.7v1.7h-1.7zM597.0 728.8h1.7v1.7h-1.7zM543.2 733.5h1.7v1.7h-1.7zM530.8 772.2h1.7v1.7h-1.7zM545.4 761.7h1.7v1.7h-1.7zM557.7 739.5h1.7v1.7h-1.7zM553.6 774.1h1.7v1.7h-1.7zM553.0 722.1h1.7v1.7h-1.7zM567.6 738.3h1.7v1.7h-1.7zM553.1 719.5h1.7v1.7h-1.7zM541.6 749.6h1.7v1.7h-1.7zM542.6 726.4h1.7v1.7h-1.7zM551.1 743.5h1.7v1.7h-1.7zM577.7 725.5h1.7v1.7h-1.7z" fill="#8cc337"/>
<rect x="520.5" y="644.2" width="247.10000000000002" height="266.6" fill="none" stroke="#111" stroke-width="2.2"/>
<line x1="520.5" y1="808.3" x2="767.6" y2="808.3" stroke="#111" stroke-width="2.5"/>
<line x1="613.8" y1="808.3" x2="613.8" y2="910.8" stroke="#111" stroke-width="2.5"/>
<rect x="613.5" y="644.0" width="154.10000000000008" height="164.3" fill="none" stroke="#fc0000" stroke-width="6.2"/>
<line x1="516.5" y1="665.7" x2="520.5" y2="665.7" stroke="#000" stroke-width="1.0"/>
<line x1="514.0" y1="716.5" x2="520.5" y2="716.5" stroke="#000" stroke-width="1.3"/>
<text x="493.5" y="722.3" font-size="8.5" textLength="8.5" lengthAdjust="spacingAndGlyphs" fill="#1a1a1a" stroke="#1a1a1a" stroke-width="0.35">10</text>
<text x="504.6" y="714.3" font-size="7.5" fill="#1a1a1a" stroke="#1a1a1a" stroke-width="0.35">4</text>
<line x1="514.0" y1="768.3" x2="520.5" y2="768.3" stroke="#000" stroke-width="1.3"/>
<text x="493.5" y="774.1" font-size="8.5" textLength="8.5" lengthAdjust="spacingAndGlyphs" fill="#1a1a1a" stroke="#1a1a1a" stroke-width="0.35">10</text>
<text x="504.6" y="766.1" font-size="7.5" fill="#1a1a1a" stroke="#1a1a1a" stroke-width="0.35">3</text>
<line x1="514.0" y1="820.2" x2="520.5" y2="820.2" stroke="#000" stroke-width="1.3"/>
<text x="493.5" y="826.0" font-size="8.5" textLength="8.5" lengthAdjust="spacingAndGlyphs" fill="#1a1a1a" stroke="#1a1a1a" stroke-width="0.35">10</text>
<text x="504.6" y="818.0" font-size="7.5" fill="#1a1a1a" stroke="#1a1a1a" stroke-width="0.35">2</text>
<line x1="514.0" y1="857.0" x2="520.5" y2="857.0" stroke="#000" stroke-width="1.3"/>
<text x="498.0" y="860.0" font-size="8.5" fill="#1a1a1a" stroke="#1a1a1a" stroke-width="0.35">0</text>
<line x1="514.0" y1="892.4" x2="520.5" y2="892.4" stroke="#000" stroke-width="1.3"/>
<text x="488.2" y="898.9" font-size="8.5" textLength="12.0" lengthAdjust="spacingAndGlyphs" fill="#1a1a1a" stroke="#1a1a1a" stroke-width="0.35">-10</text>
<text x="504.4" y="891.2" font-size="7.5" fill="#1a1a1a" stroke="#1a1a1a" stroke-width="0.35">2</text>
<line x1="517.0" y1="650.2" x2="520.5" y2="650.2" stroke="#000" stroke-width="0.9"/>
<line x1="517.0" y1="701.2" x2="520.5" y2="701.2" stroke="#000" stroke-width="0.9"/>
<line x1="517.0" y1="692.3" x2="520.5" y2="692.3" stroke="#000" stroke-width="0.9"/>
<line x1="517.0" y1="685.9" x2="520.5" y2="685.9" stroke="#000" stroke-width="0.9"/>
<line x1="517.0" y1="681.0" x2="520.5" y2="681.0" stroke="#000" stroke-width="0.9"/>
<line x1="517.0" y1="677.0" x2="520.5" y2="677.0" stroke="#000" stroke-width="0.9"/>
<line x1="517.0" y1="673.6" x2="520.5" y2="673.6" stroke="#000" stroke-width="0.9"/>
<line x1="517.0" y1="670.6" x2="520.5" y2="670.6" stroke="#000" stroke-width="0.9"/>
<line x1="517.0" y1="668.0" x2="520.5" y2="668.0" stroke="#000" stroke-width="0.9"/>
<line x1="517.0" y1="752.7" x2="520.5" y2="752.7" stroke="#000" stroke-width="0.9"/>
<line x1="517.0" y1="743.6" x2="520.5" y2="743.6" stroke="#000" stroke-width="0.9"/>
<line x1="517.0" y1="737.1" x2="520.5" y2="737.1" stroke="#000" stroke-width="0.9"/>
<line x1="517.0" y1="732.1" x2="520.5" y2="732.1" stroke="#000" stroke-width="0.9"/>
<line x1="517.0" y1="728.0" x2="520.5" y2="728.0" stroke="#000" stroke-width="0.9"/>
<line x1="517.0" y1="724.5" x2="520.5" y2="724.5" stroke="#000" stroke-width="0.9"/>
<line x1="517.0" y1="721.5" x2="520.5" y2="721.5" stroke="#000" stroke-width="0.9"/>
<line x1="517.0" y1="718.9" x2="520.5" y2="718.9" stroke="#000" stroke-width="0.9"/>
<line x1="517.0" y1="804.6" x2="520.5" y2="804.6" stroke="#000" stroke-width="0.9"/>
<line x1="517.0" y1="795.4" x2="520.5" y2="795.4" stroke="#000" stroke-width="0.9"/>
<line x1="517.0" y1="789.0" x2="520.5" y2="789.0" stroke="#000" stroke-width="0.9"/>
<line x1="517.0" y1="783.9" x2="520.5" y2="783.9" stroke="#000" stroke-width="0.9"/>
<line x1="517.0" y1="779.8" x2="520.5" y2="779.8" stroke="#000" stroke-width="0.9"/>
<line x1="517.0" y1="776.3" x2="520.5" y2="776.3" stroke="#000" stroke-width="0.9"/>
<line x1="517.0" y1="773.3" x2="520.5" y2="773.3" stroke="#000" stroke-width="0.9"/>
<line x1="517.0" y1="770.7" x2="520.5" y2="770.7" stroke="#000" stroke-width="0.9"/>
<line x1="516.5" y1="824.0" x2="520.5" y2="824.0" stroke="#000" stroke-width="1.0"/>
<line x1="516.5" y1="828.5" x2="520.5" y2="828.5" stroke="#000" stroke-width="1.0"/>
<line x1="516.5" y1="835.4" x2="520.5" y2="835.4" stroke="#000" stroke-width="1.0"/>
<line x1="516.5" y1="842.2" x2="520.5" y2="842.2" stroke="#000" stroke-width="1.0"/>
<line x1="516.5" y1="848.0" x2="520.5" y2="848.0" stroke="#000" stroke-width="1.0"/>
<line x1="516.5" y1="852.8" x2="520.5" y2="852.8" stroke="#000" stroke-width="1.0"/>
<line x1="516.5" y1="854.7" x2="520.5" y2="854.7" stroke="#000" stroke-width="1.0"/>
<line x1="516.5" y1="857.0" x2="520.5" y2="857.0" stroke="#000" stroke-width="1.0"/>
<line x1="516.5" y1="858.8" x2="520.5" y2="858.8" stroke="#000" stroke-width="1.0"/>
<line x1="516.5" y1="860.7" x2="520.5" y2="860.7" stroke="#000" stroke-width="1.0"/>
<line x1="516.5" y1="867.2" x2="520.5" y2="867.2" stroke="#000" stroke-width="1.0"/>
<line x1="516.5" y1="873.8" x2="520.5" y2="873.8" stroke="#000" stroke-width="1.0"/>
<line x1="516.5" y1="878.7" x2="520.5" y2="878.7" stroke="#000" stroke-width="1.0"/>
<line x1="516.5" y1="882.7" x2="520.5" y2="882.7" stroke="#000" stroke-width="1.0"/>
<line x1="516.5" y1="886.0" x2="520.5" y2="886.0" stroke="#000" stroke-width="1.0"/>
<line x1="516.5" y1="888.4" x2="520.5" y2="888.4" stroke="#000" stroke-width="1.0"/>
<line x1="516.5" y1="890.8" x2="520.5" y2="890.8" stroke="#000" stroke-width="1.0"/>
<line x1="516.5" y1="908.7" x2="520.5" y2="908.7" stroke="#000" stroke-width="1.0"/>
<text x="471.2" y="835.6" font-size="10.5" textLength="109.0" lengthAdjust="spacingAndGlyphs" transform="rotate(-90 471.2 835.6)" fill="#1a1a1a" stroke="#1a1a1a" stroke-width="0.35">Comp-PE-A :: CD203</text>
<line x1="526.0" y1="910.8" x2="526.0" y2="914.3" stroke="#000" stroke-width="0.9"/>
<line x1="530.0" y1="910.8" x2="530.0" y2="914.3" stroke="#000" stroke-width="0.9"/>
<line x1="539.0" y1="910.8" x2="539.0" y2="914.3" stroke="#000" stroke-width="0.9"/>
<line x1="545.0" y1="910.8" x2="545.0" y2="914.3" stroke="#000" stroke-width="0.9"/>
<line x1="552.0" y1="910.8" x2="552.0" y2="914.3" stroke="#000" stroke-width="0.9"/>
<line x1="556.0" y1="910.8" x2="556.0" y2="914.3" stroke="#000" stroke-width="0.9"/>
<line x1="559.0" y1="910.8" x2="559.0" y2="914.3" stroke="#000" stroke-width="0.9"/>
<line x1="562.0" y1="910.8" x2="562.0" y2="914.3" stroke="#000" stroke-width="0.9"/>
<line x1="565.0" y1="910.8" x2="565.0" y2="914.3" stroke="#000" stroke-width="0.9"/>
<line x1="568.0" y1="910.8" x2="568.0" y2="914.3" stroke="#000" stroke-width="0.9"/>
<line x1="570.5" y1="910.8" x2="570.5" y2="914.3" stroke="#000" stroke-width="0.9"/>
<line x1="578.0" y1="910.8" x2="578.0" y2="914.3" stroke="#000" stroke-width="0.9"/>
<line x1="583.0" y1="910.8" x2="583.0" y2="914.3" stroke="#000" stroke-width="0.9"/>
<line x1="588.0" y1="910.8" x2="588.0" y2="914.3" stroke="#000" stroke-width="0.9"/>
<line x1="592.0" y1="910.8" x2="592.0" y2="914.3" stroke="#000" stroke-width="0.9"/>
<line x1="595.0" y1="910.8" x2="595.0" y2="914.3" stroke="#000" stroke-width="0.9"/>
<line x1="598.0" y1="910.8" x2="598.0" y2="914.3" stroke="#000" stroke-width="0.9"/>
<line x1="601.0" y1="910.8" x2="601.0" y2="914.3" stroke="#000" stroke-width="0.9"/>
<line x1="603.0" y1="910.8" x2="603.0" y2="914.3" stroke="#000" stroke-width="0.9"/>
<line x1="605.0" y1="910.8" x2="605.0" y2="914.3" stroke="#000" stroke-width="0.9"/>
<line x1="607.0" y1="910.8" x2="607.0" y2="914.3" stroke="#000" stroke-width="0.9"/>
<line x1="609.0" y1="910.8" x2="609.0" y2="914.3" stroke="#000" stroke-width="0.9"/>
<line x1="611.0" y1="910.8" x2="611.0" y2="914.3" stroke="#000" stroke-width="0.9"/>
<line x1="623.0" y1="910.8" x2="623.0" y2="914.3" stroke="#000" stroke-width="0.9"/>
<line x1="629.0" y1="910.8" x2="629.0" y2="914.3" stroke="#000" stroke-width="0.9"/>
<line x1="634.0" y1="910.8" x2="634.0" y2="914.3" stroke="#000" stroke-width="0.9"/>
<line x1="638.0" y1="910.8" x2="638.0" y2="914.3" stroke="#000" stroke-width="0.9"/>
<line x1="641.0" y1="910.8" x2="641.0" y2="914.3" stroke="#000" stroke-width="0.9"/>
<line x1="644.0" y1="910.8" x2="644.0" y2="914.3" stroke="#000" stroke-width="0.9"/>
<line x1="671.0" y1="910.8" x2="671.0" y2="914.3" stroke="#000" stroke-width="0.9"/>
<line x1="680.0" y1="910.8" x2="680.0" y2="914.3" stroke="#000" stroke-width="0.9"/>
<line x1="687.0" y1="910.8" x2="687.0" y2="914.3" stroke="#000" stroke-width="0.9"/>
<line x1="692.0" y1="910.8" x2="692.0" y2="914.3" stroke="#000" stroke-width="0.9"/>
<line x1="696.0" y1="910.8" x2="696.0" y2="914.3" stroke="#000" stroke-width="0.9"/>
<line x1="698.0" y1="910.8" x2="698.0" y2="914.3" stroke="#000" stroke-width="0.9"/>
<line x1="716.0" y1="910.8" x2="716.0" y2="914.3" stroke="#000" stroke-width="0.9"/>
<line x1="725.0" y1="910.8" x2="725.0" y2="914.3" stroke="#000" stroke-width="0.9"/>
<line x1="732.0" y1="910.8" x2="732.0" y2="914.3" stroke="#000" stroke-width="0.9"/>
<line x1="737.0" y1="910.8" x2="737.0" y2="914.3" stroke="#000" stroke-width="0.9"/>
<line x1="741.0" y1="910.8" x2="741.0" y2="914.3" stroke="#000" stroke-width="0.9"/>
<line x1="744.0" y1="910.8" x2="744.0" y2="914.3" stroke="#000" stroke-width="0.9"/>
<line x1="757.0" y1="910.8" x2="757.0" y2="914.3" stroke="#000" stroke-width="0.9"/>
<line x1="762.0" y1="910.8" x2="762.0" y2="914.3" stroke="#000" stroke-width="0.9"/>
<line x1="534.0" y1="910.8" x2="534.0" y2="917.8" stroke="#000" stroke-width="1.3"/>
<line x1="572.9" y1="910.8" x2="572.9" y2="917.8" stroke="#000" stroke-width="1.3"/>
<line x1="646.6" y1="910.8" x2="646.6" y2="917.8" stroke="#000" stroke-width="1.3"/>
<line x1="700.3" y1="910.8" x2="700.3" y2="917.8" stroke="#000" stroke-width="1.3"/>
<line x1="747.6" y1="910.8" x2="747.6" y2="917.8" stroke="#000" stroke-width="1.3"/>
<rect x="604.2" y="910.8" width="8.8" height="5.5" fill="#111"/>
<rect x="515.5" y="852.7" width="5.0" height="8.5" fill="#111"/>
<text x="610.8" y="934.0" font-size="7.5" textLength="3.5" lengthAdjust="spacingAndGlyphs" fill="#1a1a1a" stroke="#1a1a1a" stroke-width="0.35">0</text>
<text x="698.6" y="934.0" font-size="8" textLength="9.0" lengthAdjust="spacingAndGlyphs" fill="#1a1a1a" stroke="#1a1a1a" stroke-width="0.35">10</text>
<text x="709.7" y="927.8" font-size="7" fill="#1a1a1a" stroke="#1a1a1a" stroke-width="0.35">4</text>
<text x="745.5" y="934.0" font-size="8" textLength="9.0" lengthAdjust="spacingAndGlyphs" fill="#1a1a1a" stroke="#1a1a1a" stroke-width="0.35">10</text>
<text x="757.0" y="927.8" font-size="7" fill="#1a1a1a" stroke="#1a1a1a" stroke-width="0.35">5</text>
<text x="525.6" y="678.3" font-size="26" textLength="67.5" lengthAdjust="spacingAndGlyphs" fill="#111">85,2%</text>
<text x="762.4" y="678.3" font-size="26" text-anchor="end" textLength="65.5" lengthAdjust="spacingAndGlyphs" fill="#111">14,8%</text>
<text x="526.0" y="898.5" font-size="26" textLength="33.5" lengthAdjust="spacingAndGlyphs" fill="#111">0%</text>
<text x="762.0" y="898.5" font-size="26" text-anchor="end" textLength="33.5" lengthAdjust="spacingAndGlyphs" fill="#111">0%</text>
<text x="578.7" y="956.8" font-size="10.5" textLength="117.0" lengthAdjust="spacingAndGlyphs" fill="#222" stroke="#222" stroke-width="0.35">Comp-PE-Cy7-A :: CD63</text>
<text x="784.0" y="88.2" font-size="32" textLength="84.0" lengthAdjust="spacingAndGlyphs" fill="#111">diluent</text>
<text x="784.0" y="429.9" font-size="32" textLength="84.0" lengthAdjust="spacingAndGlyphs" fill="#111">diluent</text>
<text x="784.0" y="468.6" font-size="32" textLength="97.5" lengthAdjust="spacingAndGlyphs" fill="#111">anti IgE</text>
<text x="784.0" y="734.0" font-size="32" textLength="142.0" lengthAdjust="spacingAndGlyphs" fill="#111">enoximone</text>
<text x="784.0" y="772.4" font-size="32" textLength="97.5" lengthAdjust="spacingAndGlyphs" fill="#111">anti IgE</text>
<defs><clipPath id="clipC"><rect x="0" y="0" width="854.3" height="2026"/></clipPath><clipPath id="clipD"><rect x="0" y="0" width="1231.8" height="2026"/></clipPath></defs>
<text x="30.3" y="1023.4" font-size="29" font-weight="bold">B</text>
<line x1="197.4" y1="1031.0" x2="197.4" y2="1412.6" stroke="#000" stroke-width="2"/>
<line x1="186.0" y1="1411.6" x2="451.5" y2="1411.6" stroke="#000" stroke-width="2"/>
<line x1="185.8" y1="1066.0" x2="197.4" y2="1066.0" stroke="#000" stroke-width="1.7"/>
<text x="186.6" y="1075.3" font-size="32" text-anchor="end" textLength="49.6" lengthAdjust="spacingAndGlyphs">100</text>
<line x1="185.8" y1="1239.0" x2="197.4" y2="1239.0" stroke="#000" stroke-width="1.7"/>
<text x="186.6" y="1248.3" font-size="32" text-anchor="end" textLength="33.1" lengthAdjust="spacingAndGlyphs">50</text>
<line x1="185.8" y1="1411.6" x2="197.4" y2="1411.6" stroke="#000" stroke-width="1.7"/>
<text x="186.6" y="1420.9" font-size="32" text-anchor="end" textLength="16.5" lengthAdjust="spacingAndGlyphs">0</text>
<rect x="206.3" y="1065.4" width="43.3" height="346.2" fill="#000"/>
<rect x="269.7" y="1159.3" width="43.5" height="252.3" fill="#000"/>
<line x1="291.4" y1="1111.0" x2="291.4" y2="1160.3" stroke="#000" stroke-width="1.7"/>
<line x1="279.9" y1="1111.0" x2="302.9" y2="1111.0" stroke="#000" stroke-width="1.9"/>
<text x="291.4" y="1110.1" font-size="27" text-anchor="middle" font-weight="bold">*</text>
<rect x="332.7" y="1212.7" width="43.7" height="198.9" fill="#000"/>
<line x1="354.5" y1="1192.9" x2="354.5" y2="1213.7" stroke="#000" stroke-width="1.7"/>
<line x1="343.0" y1="1192.9" x2="366.0" y2="1192.9" stroke="#000" stroke-width="1.9"/>
<text x="354.5" y="1190.6" font-size="27" text-anchor="middle" font-weight="bold">*</text>
<rect x="396.7" y="1283.5" width="43.2" height="128.1" fill="#000"/>
<line x1="418.3" y1="1255.9" x2="418.3" y2="1284.5" stroke="#000" stroke-width="1.7"/>
<line x1="406.8" y1="1255.9" x2="429.8" y2="1255.9" stroke="#000" stroke-width="1.9"/>
<text x="418.3" y="1253.6" font-size="27" text-anchor="middle" font-weight="bold">*</text>
<line x1="228.5" y1="1411.6" x2="228.5" y2="1423.1" stroke="#000" stroke-width="1.7"/>
<line x1="291.8" y1="1411.6" x2="291.8" y2="1423.1" stroke="#000" stroke-width="1.7"/>
<line x1="355.3" y1="1411.6" x2="355.3" y2="1423.1" stroke="#000" stroke-width="1.7"/>
<line x1="418.6" y1="1411.6" x2="418.6" y2="1423.1" stroke="#000" stroke-width="1.7"/>
<text x="228.8" y="1449.9" font-size="32" text-anchor="middle">0</text>
<text x="291.8" y="1449.9" font-size="32" text-anchor="middle">4</text>
<text x="355.5" y="1449.9" font-size="32" text-anchor="middle">20</text>
<text x="421.5" y="1449.9" font-size="32" text-anchor="middle">100</text>
<text x="84.5" y="1291.0" font-size="31" textLength="171.0" lengthAdjust="spacingAndGlyphs" transform="rotate(-90 84.5 1291.0)">% Activation</text>
<text x="119.3" y="1360.5" font-size="31" textLength="256.3" lengthAdjust="spacingAndGlyphs" transform="rotate(-90 119.3 1360.5)">(CD63+CD203c+)</text>
<text x="215.1" y="1497.6" font-size="30.5" textLength="152.5" lengthAdjust="spacingAndGlyphs">Enoximone</text>
<text x="389.8" y="1497.6" font-size="30.5" font-weight="bold">µ</text>
<text x="408.8" y="1497.6" font-size="30.5">M</text>
<text x="464.5" y="1022.8" font-size="29" font-weight="bold">C</text>
<line x1="603.8" y1="1031.0" x2="603.8" y2="1412.3" stroke="#000" stroke-width="2"/>
<line x1="593.0" y1="1411.3" x2="854.3" y2="1411.3" stroke="#000" stroke-width="2"/>
<line x1="592.2" y1="1094.8" x2="603.8" y2="1094.8" stroke="#000" stroke-width="1.7"/>
<text x="593.0" y="1104.1" font-size="32" text-anchor="end" textLength="66.2" lengthAdjust="spacingAndGlyphs">1000</text>
<line x1="592.2" y1="1252.9" x2="603.8" y2="1252.9" stroke="#000" stroke-width="1.7"/>
<text x="593.0" y="1262.2" font-size="32" text-anchor="end" textLength="49.6" lengthAdjust="spacingAndGlyphs">500</text>
<line x1="592.2" y1="1411.3" x2="603.8" y2="1411.3" stroke="#000" stroke-width="1.7"/>
<text x="593.0" y="1420.6" font-size="32" text-anchor="end" textLength="16.5" lengthAdjust="spacingAndGlyphs">0</text>
<rect x="612.3" y="1250.4" width="32.1" height="160.9" fill="#fff" stroke="#000" stroke-width="2"/>
<line x1="628.3" y1="1224.0" x2="628.3" y2="1250.4" stroke="#000" stroke-width="1.7"/>
<line x1="619.0" y1="1224.0" x2="637.6" y2="1224.0" stroke="#000" stroke-width="1.9"/>
<rect x="661.8" y="1131.0" width="34.2" height="280.3" fill="#000"/>
<line x1="678.9" y1="1112.6" x2="678.9" y2="1132.0" stroke="#000" stroke-width="1.7"/>
<line x1="669.6" y1="1112.6" x2="688.2" y2="1112.6" stroke="#000" stroke-width="1.9"/>
<rect x="711.0" y="1217.0" width="35.0" height="194.3" fill="#000"/>
<line x1="728.5" y1="1187.2" x2="728.5" y2="1218.0" stroke="#000" stroke-width="1.7"/>
<line x1="719.2" y1="1187.2" x2="737.8" y2="1187.2" stroke="#000" stroke-width="1.9"/>
<text x="731.5" y="1192.9" font-size="27" text-anchor="middle" font-weight="bold">*</text>
<rect x="761.5" y="1240.0" width="34.4" height="171.3" fill="#000"/>
<line x1="778.7" y1="1235.8" x2="778.7" y2="1241.0" stroke="#000" stroke-width="1.7"/>
<line x1="769.4" y1="1235.8" x2="788.0" y2="1235.8" stroke="#000" stroke-width="1.9"/>
<text x="781.7" y="1237.0" font-size="27" text-anchor="middle" font-weight="bold">*</text>
<rect x="811.4" y="1262.3" width="35.0" height="149.0" fill="#000"/>
<line x1="828.9" y1="1237.0" x2="828.9" y2="1263.3" stroke="#000" stroke-width="1.7"/>
<line x1="819.6" y1="1237.0" x2="838.2" y2="1237.0" stroke="#000" stroke-width="1.9"/>
<text x="831.9" y="1237.0" font-size="27" text-anchor="middle" font-weight="bold">*</text>
<line x1="628.5" y1="1411.3" x2="628.5" y2="1422.8" stroke="#000" stroke-width="1.7"/>
<line x1="678.4" y1="1411.3" x2="678.4" y2="1422.8" stroke="#000" stroke-width="1.7"/>
<line x1="729.0" y1="1411.3" x2="729.0" y2="1422.8" stroke="#000" stroke-width="1.7"/>
<line x1="778.4" y1="1411.3" x2="778.4" y2="1422.8" stroke="#000" stroke-width="1.7"/>
<line x1="829.4" y1="1411.3" x2="829.4" y2="1422.8" stroke="#000" stroke-width="1.7"/>
<g clip-path="url(#clipC)">
<text x="678.9" y="1449.9" font-size="32" text-anchor="middle">0</text>
</g>
<g clip-path="url(#clipC)">
<text x="729.5" y="1449.9" font-size="32" text-anchor="middle">4</text>
</g>
<g clip-path="url(#clipC)">
<text x="779.8" y="1449.9" font-size="32" text-anchor="middle">20</text>
</g>
<g clip-path="url(#clipC)">
<text x="804.6" y="1449.9" font-size="32">100</text>
</g>
<text x="510.0" y="1351.4" font-size="31" textLength="262.0" lengthAdjust="spacingAndGlyphs" transform="rotate(-90 510.0 1351.4)">MFI CD63-PE-Cy7</text>
<text x="621.5" y="1497.6" font-size="30.5" textLength="151.1" lengthAdjust="spacingAndGlyphs">Enoximone</text>
<text x="794.1" y="1497.6" font-size="30.5" font-weight="bold">µ</text>
<text x="811.0" y="1497.6" font-size="30.5">M</text>
<text x="866.5" y="1023.4" font-size="29" font-weight="bold">D</text>
<line x1="978.2" y1="1031.0" x2="978.2" y2="1412.2" stroke="#000" stroke-width="2"/>
<line x1="966.3" y1="1411.2" x2="1233.0" y2="1411.2" stroke="#000" stroke-width="2"/>
<line x1="966.6" y1="1107.4" x2="978.2" y2="1107.4" stroke="#000" stroke-width="1.7"/>
<text x="967.4" y="1116.7" font-size="32" text-anchor="end" textLength="49.6" lengthAdjust="spacingAndGlyphs">400</text>
<line x1="966.6" y1="1259.3" x2="978.2" y2="1259.3" stroke="#000" stroke-width="1.7"/>
<text x="967.4" y="1268.6" font-size="32" text-anchor="end" textLength="49.6" lengthAdjust="spacingAndGlyphs">200</text>
<line x1="966.6" y1="1411.2" x2="978.2" y2="1411.2" stroke="#000" stroke-width="1.7"/>
<text x="967.4" y="1420.5" font-size="32" text-anchor="end" textLength="16.5" lengthAdjust="spacingAndGlyphs">0</text>
<rect x="986.5" y="1286.2" width="32.5" height="125.0" fill="#fff" stroke="#000" stroke-width="2"/>
<line x1="1002.8" y1="1276.9" x2="1002.8" y2="1286.2" stroke="#000" stroke-width="1.7"/>
<line x1="993.5" y1="1276.9" x2="1012.0" y2="1276.9" stroke="#000" stroke-width="1.9"/>
<rect x="1036.0" y="1130.0" width="35.0" height="281.2" fill="#000"/>
<line x1="1053.5" y1="1118.0" x2="1053.5" y2="1131.0" stroke="#000" stroke-width="1.7"/>
<line x1="1044.2" y1="1118.0" x2="1062.8" y2="1118.0" stroke="#000" stroke-width="1.9"/>
<rect x="1086.9" y="1198.8" width="34.5" height="212.4" fill="#000"/>
<line x1="1104.2" y1="1158.8" x2="1104.2" y2="1199.8" stroke="#000" stroke-width="1.7"/>
<line x1="1094.9" y1="1158.8" x2="1113.5" y2="1158.8" stroke="#000" stroke-width="1.9"/>
<text x="1104.2" y="1164.3" font-size="27" text-anchor="middle" font-weight="bold">*</text>
<rect x="1137.4" y="1242.0" width="35.2" height="169.2" fill="#000"/>
<line x1="1155.0" y1="1196.9" x2="1155.0" y2="1243.0" stroke="#000" stroke-width="1.7"/>
<line x1="1145.7" y1="1196.9" x2="1164.3" y2="1196.9" stroke="#000" stroke-width="1.9"/>
<text x="1155.0" y="1201.1" font-size="27" text-anchor="middle" font-weight="bold">*</text>
<rect x="1188.0" y="1288.4" width="35.0" height="122.8" fill="#000"/>
<line x1="1205.5" y1="1247.4" x2="1205.5" y2="1289.4" stroke="#000" stroke-width="1.7"/>
<line x1="1196.2" y1="1247.4" x2="1214.8" y2="1247.4" stroke="#000" stroke-width="1.9"/>
<text x="1205.5" y="1252.2" font-size="27" text-anchor="middle" font-weight="bold">*</text>
<line x1="1003.0" y1="1411.2" x2="1003.0" y2="1422.7" stroke="#000" stroke-width="1.7"/>
<line x1="1053.6" y1="1411.2" x2="1053.6" y2="1422.7" stroke="#000" stroke-width="1.7"/>
<line x1="1104.0" y1="1411.2" x2="1104.0" y2="1422.7" stroke="#000" stroke-width="1.7"/>
<line x1="1155.0" y1="1411.2" x2="1155.0" y2="1422.7" stroke="#000" stroke-width="1.7"/>
<line x1="1205.2" y1="1411.2" x2="1205.2" y2="1422.7" stroke="#000" stroke-width="1.7"/>
<g clip-path="url(#clipD)">
<text x="1054.0" y="1449.9" font-size="32" text-anchor="middle">0</text>
</g>
<g clip-path="url(#clipD)">
<text x="1104.5" y="1449.9" font-size="32" text-anchor="middle">4</text>
</g>
<g clip-path="url(#clipD)">
<text x="1155.0" y="1449.9" font-size="32" text-anchor="middle">20</text>
</g>
<g clip-path="url(#clipD)">
<text x="1180.2" y="1449.9" font-size="32">100</text>
</g>
<text x="900.8" y="1334.0" font-size="31" textLength="224.0" lengthAdjust="spacingAndGlyphs" transform="rotate(-90 900.8 1334.0)">MFI CD203c-PE</text>
<text x="994.5" y="1497.6" font-size="30.5" textLength="154.1" lengthAdjust="spacingAndGlyphs">Enoximone</text>
<text x="1170.4" y="1497.6" font-size="30.5" font-weight="bold">µ</text>
<text x="1190.1" y="1497.6" font-size="30.5">M</text>
<text x="-0.2" y="1628.6" font-size="29" font-weight="bold">E</text>
<text x="205.3" y="1579.0" font-size="30.5" textLength="158.2" lengthAdjust="spacingAndGlyphs">Enoximone</text>
<line x1="212.5" y1="1632.0" x2="212.5" y2="2013.4" stroke="#000" stroke-width="2"/>
<line x1="200.4" y1="2012.4" x2="466.0" y2="2012.4" stroke="#000" stroke-width="2"/>
<line x1="200.9" y1="1632.0" x2="212.5" y2="1632.0" stroke="#000" stroke-width="1.7"/>
<text x="201.7" y="1640.5" font-size="32" text-anchor="end" textLength="49.6" lengthAdjust="spacingAndGlyphs">100</text>
<line x1="200.9" y1="1822.2" x2="212.5" y2="1822.2" stroke="#000" stroke-width="1.7"/>
<text x="201.7" y="1830.7" font-size="32" text-anchor="end" textLength="33.1" lengthAdjust="spacingAndGlyphs">50</text>
<line x1="200.9" y1="2012.4" x2="212.5" y2="2012.4" stroke="#000" stroke-width="1.7"/>
<text x="201.7" y="2020.9" font-size="32" text-anchor="end" textLength="16.5" lengthAdjust="spacingAndGlyphs">0</text>
<line x1="275.9" y1="2012.4" x2="275.9" y2="2023.9" stroke="#000" stroke-width="1.7"/>
<line x1="402.0" y1="2012.4" x2="402.0" y2="2023.9" stroke="#000" stroke-width="1.7"/>
<line x1="275.9" y1="1661.2" x2="402.0" y2="1653.2" stroke="#000" stroke-width="2"/>
<line x1="275.9" y1="1719.5" x2="402.0" y2="1773.0" stroke="#000" stroke-width="2"/>
<line x1="275.9" y1="1809.9" x2="402.0" y2="1854.3" stroke="#000" stroke-width="2"/>
<line x1="275.9" y1="1833.2" x2="402.0" y2="1854.3" stroke="#000" stroke-width="2"/>
<line x1="275.9" y1="1839.0" x2="402.0" y2="1913.7" stroke="#000" stroke-width="2"/>
<line x1="275.9" y1="1896.2" x2="402.0" y2="1941.8" stroke="#000" stroke-width="2"/>
<line x1="275.9" y1="1957.5" x2="402.0" y2="1952.7" stroke="#000" stroke-width="2"/>
<line x1="275.9" y1="1990.0" x2="402.0" y2="2002.0" stroke="#000" stroke-width="2"/>
<line x1="275.9" y1="2002.0" x2="402.0" y2="2002.0" stroke="#000" stroke-width="2"/>
<circle cx="275.9" cy="1661.2" r="8.2" fill="#000"/>
<circle cx="275.9" cy="1719.5" r="8.2" fill="#000"/>
<circle cx="275.9" cy="1809.9" r="8.2" fill="#000"/>
<circle cx="275.9" cy="1833.2" r="8.2" fill="#000"/>
<circle cx="275.9" cy="1839.0" r="8.2" fill="#000"/>
<circle cx="275.9" cy="1896.2" r="8.2" fill="#000"/>
<circle cx="275.9" cy="1957.5" r="8.2" fill="#000"/>
<circle cx="275.9" cy="1990.0" r="8.2" fill="#000"/>
<circle cx="275.9" cy="2002.0" r="8.2" fill="#000"/>
<circle cx="402.0" cy="1653.2" r="8.2" fill="#000"/>
<circle cx="402.0" cy="1773.0" r="8.2" fill="#000"/>
<circle cx="402.0" cy="1854.3" r="8.2" fill="#000"/>
<circle cx="402.0" cy="1913.7" r="8.2" fill="#000"/>
<circle cx="402.0" cy="1941.8" r="8.2" fill="#000"/>
<circle cx="402.0" cy="1952.7" r="8.2" fill="#000"/>
<circle cx="402.0" cy="2002.0" r="8.2" fill="#000"/>
<text x="325.5" y="1625.2" font-size="27" text-anchor="middle" font-weight="bold">*</text>
<text x="101.8" y="1892.6" font-size="31" textLength="174.0" lengthAdjust="spacingAndGlyphs" transform="rotate(-90 101.8 1892.6)">% Activation</text>
<text x="136.3" y="1960.5" font-size="31" textLength="255.5" lengthAdjust="spacingAndGlyphs" transform="rotate(-90 136.3 1960.5)">(CD63+CD203c+)</text>
<text x="522.6" y="1579.0" font-size="30.5" textLength="129.3" lengthAdjust="spacingAndGlyphs">Milrinone</text>
<line x1="512.1" y1="1631.0" x2="512.1" y2="2013.4" stroke="#000" stroke-width="2"/>
<line x1="500.0" y1="2012.4" x2="762.5" y2="2012.4" stroke="#000" stroke-width="2"/>
<line x1="500.5" y1="1665.9" x2="512.1" y2="1665.9" stroke="#000" stroke-width="1.7"/>
<text x="501.3" y="1674.4" font-size="32" text-anchor="end" textLength="49.6" lengthAdjust="spacingAndGlyphs">100</text>
<line x1="500.5" y1="1839.2" x2="512.1" y2="1839.2" stroke="#000" stroke-width="1.7"/>
<text x="501.3" y="1847.7" font-size="32" text-anchor="end" textLength="33.1" lengthAdjust="spacingAndGlyphs">50</text>
<line x1="500.5" y1="2012.4" x2="512.1" y2="2012.4" stroke="#000" stroke-width="1.7"/>
<text x="501.3" y="2020.9" font-size="32" text-anchor="end" textLength="16.5" lengthAdjust="spacingAndGlyphs">0</text>
<line x1="573.4" y1="2012.4" x2="573.4" y2="2023.9" stroke="#000" stroke-width="1.7"/>
<line x1="699.0" y1="2012.4" x2="699.0" y2="2023.9" stroke="#000" stroke-width="1.7"/>
<line x1="573.4" y1="1704.7" x2="699.0" y2="1729.5" stroke="#000" stroke-width="2"/>
<line x1="573.4" y1="1742.5" x2="699.0" y2="1850.0" stroke="#000" stroke-width="2"/>
<line x1="573.4" y1="1840.3" x2="699.0" y2="1897.0" stroke="#000" stroke-width="2"/>
<line x1="573.4" y1="1859.2" x2="699.0" y2="1942.0" stroke="#000" stroke-width="2"/>
<line x1="573.4" y1="1917.9" x2="699.0" y2="1960.3" stroke="#000" stroke-width="2"/>
<line x1="573.4" y1="1937.4" x2="699.0" y2="1942.0" stroke="#000" stroke-width="2"/>
<line x1="573.4" y1="1998.0" x2="699.0" y2="2007.8" stroke="#000" stroke-width="2"/>
<circle cx="573.4" cy="1704.7" r="8.2" fill="#000"/>
<circle cx="573.4" cy="1742.5" r="8.2" fill="#000"/>
<circle cx="573.4" cy="1840.3" r="8.2" fill="#000"/>
<circle cx="573.4" cy="1859.2" r="8.2" fill="#000"/>
<circle cx="573.4" cy="1917.9" r="8.2" fill="#000"/>
<circle cx="573.4" cy="1937.4" r="8.2" fill="#000"/>
<circle cx="573.4" cy="1998.0" r="8.2" fill="#000"/>
<circle cx="699.0" cy="1729.5" r="8.2" fill="#000"/>
<circle cx="699.0" cy="1850.0" r="8.2" fill="#000"/>
<circle cx="699.0" cy="1897.0" r="8.2" fill="#000"/>
<circle cx="699.0" cy="1942.0" r="8.2" fill="#000"/>
<circle cx="699.0" cy="1960.3" r="8.2" fill="#000"/>
<circle cx="699.0" cy="2007.8" r="8.2" fill="#000"/>
<text x="644.5" y="1647.6" font-size="27" text-anchor="middle" font-weight="bold">**</text>
<text x="813.9" y="1579.0" font-size="30.5" textLength="154.6" lengthAdjust="spacingAndGlyphs">Cilostazole</text>
<line x1="814.5" y1="1631.7" x2="814.5" y2="2013.4" stroke="#000" stroke-width="2"/>
<line x1="803.0" y1="2012.4" x2="1067.6" y2="2012.4" stroke="#000" stroke-width="2"/>
<line x1="802.9" y1="1631.7" x2="814.5" y2="1631.7" stroke="#000" stroke-width="1.7"/>
<text x="803.7" y="1640.2" font-size="32" text-anchor="end" textLength="49.6" lengthAdjust="spacingAndGlyphs">100</text>
<line x1="802.9" y1="1822.1" x2="814.5" y2="1822.1" stroke="#000" stroke-width="1.7"/>
<text x="803.7" y="1830.6" font-size="32" text-anchor="end" textLength="33.1" lengthAdjust="spacingAndGlyphs">50</text>
<line x1="802.9" y1="2012.4" x2="814.5" y2="2012.4" stroke="#000" stroke-width="1.7"/>
<text x="803.7" y="2020.9" font-size="32" text-anchor="end" textLength="16.5" lengthAdjust="spacingAndGlyphs">0</text>
<line x1="877.8" y1="2012.4" x2="877.8" y2="2023.9" stroke="#000" stroke-width="1.7"/>
<line x1="1003.7" y1="2012.4" x2="1003.7" y2="2023.9" stroke="#000" stroke-width="1.7"/>
<line x1="877.8" y1="1685.0" x2="1003.7" y2="1693.6" stroke="#000" stroke-width="2"/>
<line x1="877.8" y1="1713.2" x2="1003.7" y2="1780.3" stroke="#000" stroke-width="2"/>
<line x1="877.8" y1="1887.2" x2="1003.7" y2="1947.9" stroke="#000" stroke-width="2"/>
<line x1="877.8" y1="1931.0" x2="1003.7" y2="1954.4" stroke="#000" stroke-width="2"/>
<line x1="877.8" y1="1998.0" x2="1003.7" y2="2004.0" stroke="#000" stroke-width="2"/>
<line x1="877.8" y1="2007.8" x2="1003.7" y2="2011.0" stroke="#000" stroke-width="2"/>
<circle cx="877.8" cy="1685.0" r="8.2" fill="#000"/>
<circle cx="877.8" cy="1713.2" r="8.2" fill="#000"/>
<circle cx="877.8" cy="1887.2" r="8.2" fill="#000"/>
<circle cx="877.8" cy="1931.0" r="8.2" fill="#000"/>
<circle cx="877.8" cy="1998.0" r="8.2" fill="#000"/>
<circle cx="877.8" cy="2007.8" r="8.2" fill="#000"/>
<circle cx="1003.7" cy="1693.6" r="8.2" fill="#000"/>
<circle cx="1003.7" cy="1780.3" r="8.2" fill="#000"/>
<circle cx="1003.7" cy="1947.9" r="8.2" fill="#000"/>
<circle cx="1003.7" cy="1954.4" r="8.2" fill="#000"/>
<circle cx="1003.7" cy="2004.0" r="8.2" fill="#000"/>
<circle cx="1003.7" cy="2011.0" r="8.2" fill="#000"/>
<text x="931.0" y="1663.6" font-size="27" text-anchor="middle" font-weight="bold">*</text>
</svg></body></html>
